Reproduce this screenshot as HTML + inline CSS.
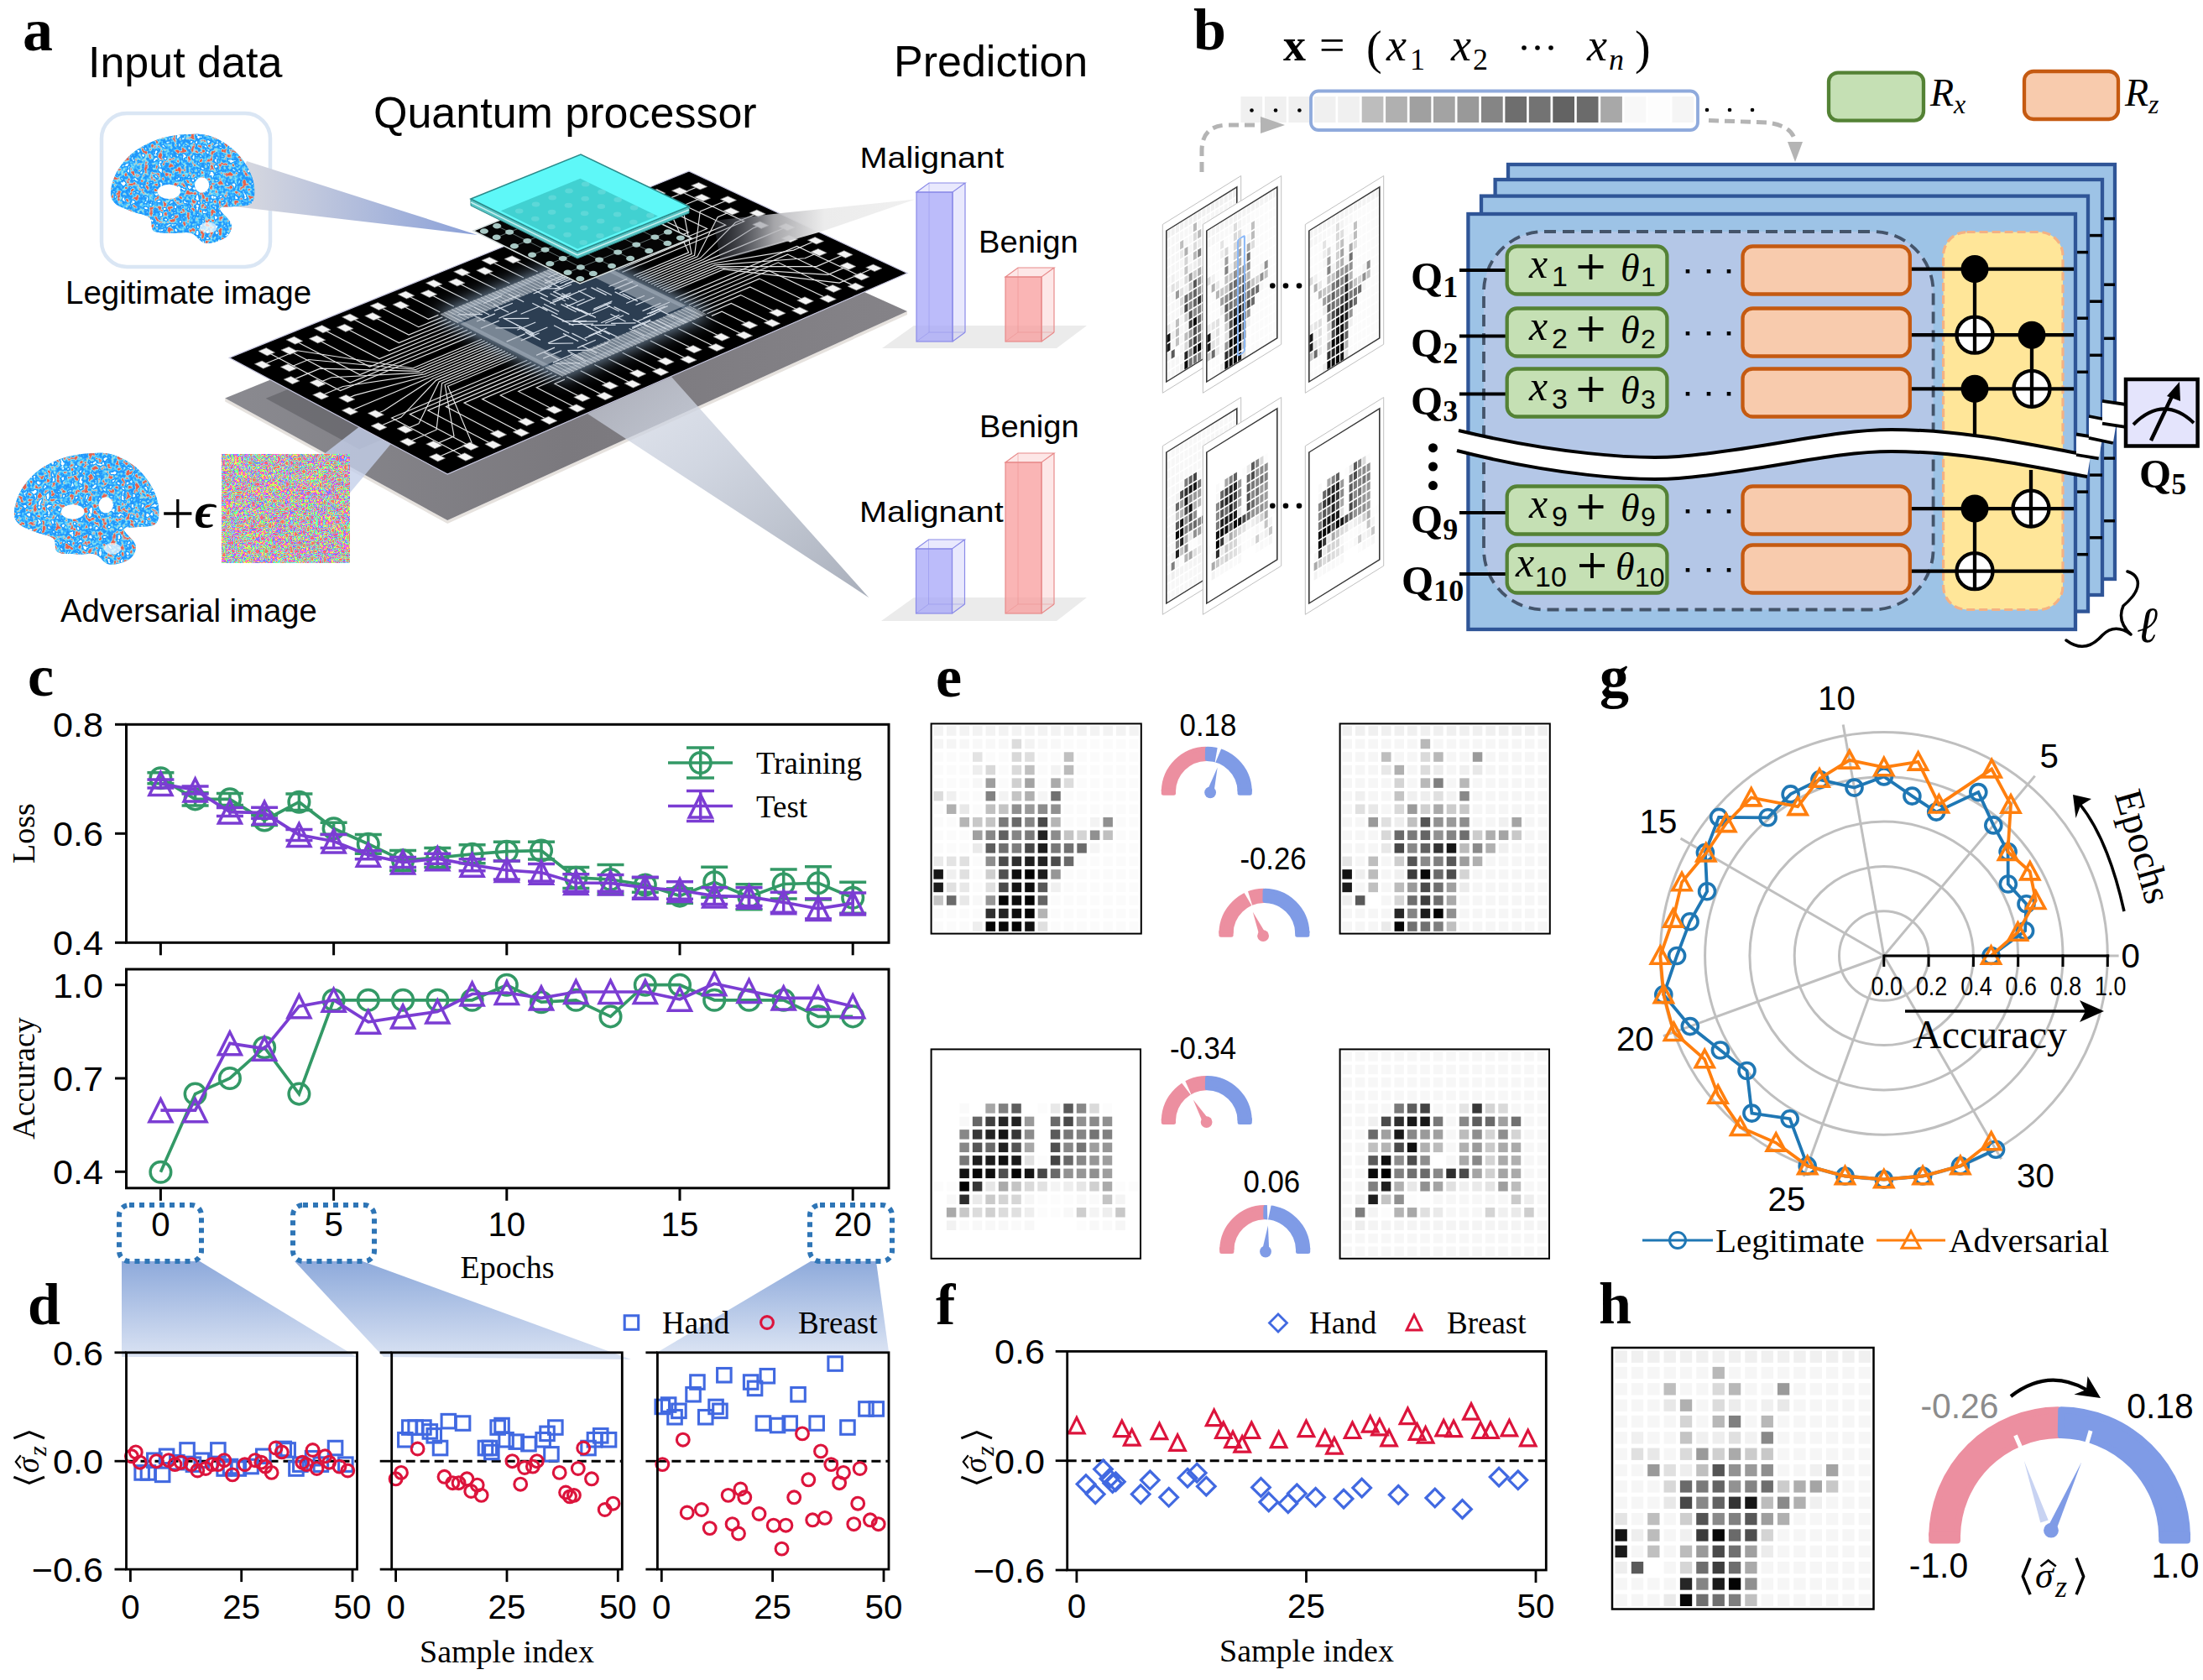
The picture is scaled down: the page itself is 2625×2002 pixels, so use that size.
<!DOCTYPE html>
<html><head><meta charset="utf-8"><style>html,body{margin:0;padding:0;background:#fff;overflow:hidden}svg{display:block}</style></head>
<body><svg xmlns="http://www.w3.org/2000/svg" width="2625" height="2002" viewBox="0 0 2625 2002">
<rect width="2625" height="2002" fill="#fff"/>
<defs>
<filter id="brainTex" x="0" y="0" width="100%" height="100%" color-interpolation-filters="sRGB">
 <feTurbulence type="fractalNoise" baseFrequency="0.18" numOctaves="2" seed="3"/>
 <feColorMatrix type="matrix" values="2 0 0 0 -0.5  2 0 0 0 -0.5  2 0 0 0 -0.5  0 0 0 0 1"/>
 <feComponentTransfer><feFuncR type="table" tableValues="1 0.5 0.15 0.12 0.15 0.22 0.38 0.6 0.82 0.88 0.9"/><feFuncG type="table" tableValues="1 0.85 0.6 0.58 0.62 0.7 0.82 0.9 0.6 0.42 0.38"/><feFuncB type="table" tableValues="1 1 0.98 0.98 1 1 0.98 0.92 0.62 0.34 0.3"/></feComponentTransfer>
</filter>
<filter id="noiseF" x="0" y="0" width="100%" height="100%" color-interpolation-filters="sRGB">
 <feTurbulence type="fractalNoise" baseFrequency="0.2" numOctaves="1" seed="5"/>
 <feColorMatrix type="matrix" values="2.5 0 0 0 -0.75  2.5 0 0 0 -0.75  2.5 0 0 0 -0.75  0 0 0 0 1"/>
 <feComponentTransfer><feFuncR type="table" tableValues="1 1 0.42 0.42 0.42 1 1 1 0.42 0.42 0.42 1 1"/><feFuncG type="table" tableValues="0.42 1 1 1 0.42 0.42 0.42 1 1 1 0.42 0.42 0.42"/><feFuncB type="table" tableValues="0.42 0.42 0.42 1 1 1 0.42 0.42 0.42 1 1 1 0.42"/></feComponentTransfer>
</filter>
<linearGradient id="fun1" x1="0" y1="0" x2="1" y2="0"><stop offset="0" stop-color="#dcdce0"/><stop offset="1" stop-color="#8aa0d8"/></linearGradient>
<linearGradient id="fun2" x1="0" y1="0" x2="1" y2="1"><stop offset="0" stop-color="#d0d6e4" stop-opacity="0.55"/><stop offset="0.4" stop-color="#ccd2de" stop-opacity="0.9"/><stop offset="1" stop-color="#a8aeba"/></linearGradient>
<linearGradient id="cyanG" x1="0" y1="0" x2="1" y2="1"><stop offset="0" stop-color="#5ef6f6"/><stop offset="1" stop-color="#48d8d8"/></linearGradient>
<linearGradient id="subG" x1="0" y1="0" x2="1" y2="0"><stop offset="0" stop-color="#8a8a90"/><stop offset="0.5" stop-color="#7b797e"/><stop offset="1" stop-color="#858388"/></linearGradient>
<linearGradient id="funUp" x1="0" y1="0" x2="1" y2="0"><stop offset="0" stop-color="#6a7080" stop-opacity="0.2"/><stop offset="0.3" stop-color="#b8b8bc" stop-opacity="0.9"/><stop offset="0.55" stop-color="#ececec"/><stop offset="1" stop-color="#f0f0f0"/></linearGradient>
<radialGradient id="coreG" cx="0.5" cy="0.5" r="0.5"><stop offset="0" stop-color="#3a5068"/><stop offset="0.75" stop-color="#34495e"/><stop offset="1" stop-color="#34495e" stop-opacity="0"/></radialGradient>
</defs>
<text x="27.0" y="60.0" font-family='"Liberation Serif", serif' font-size="72" text-anchor="start" font-weight="bold" font-style="normal" fill="#000" >a</text>
<text x="105.0" y="92.0" font-family='"Liberation Sans", sans-serif' font-size="52" text-anchor="start" font-weight="normal" font-style="normal" fill="#000" >Input data</text>
<text x="445.0" y="152.0" font-family='"Liberation Sans", sans-serif' font-size="52" text-anchor="start" font-weight="normal" font-style="normal" fill="#000" >Quantum processor</text>
<text x="1065.0" y="91.0" font-family='"Liberation Sans", sans-serif' font-size="52" text-anchor="start" font-weight="normal" font-style="normal" fill="#000" >Prediction</text>
<text x="78.0" y="362.0" font-family='"Liberation Sans", sans-serif' font-size="38.5" text-anchor="start" font-weight="normal" font-style="normal" fill="#000" >Legitimate image</text>
<text x="72.0" y="741.0" font-family='"Liberation Sans", sans-serif' font-size="38.2" text-anchor="start" font-weight="normal" font-style="normal" fill="#000" >Adversarial image</text>
<rect x="121.0" y="135.0" width="201.0" height="183.0" rx="30" fill="#fff" stroke="#dae6f4" stroke-width="4.5" />
<polygon points="268.2,478.4 533.2,624.0 1081.0,375.0 1081.0,371.0 533.2,620.0 268.2,474.4" fill="#e6e2de" stroke="none" stroke-width="0" />
<polygon points="268.2,474.4 816.0,252.0 1081.0,371.0 533.2,620.0" fill="url(#subG)" stroke="none" stroke-width="0" />
<polygon points="316.8,474.8 672.9,328.9 784.2,382.2 428.1,535.4" fill="#5a595e" stroke="none" stroke-width="0" opacity="0.55"/>
<polygon points="386.0,541.0 416.4,588.0 562.0,414.0 560.0,407.0" fill="#c4d0ea" stroke="none" stroke-width="0" opacity="0.8"/>
<polygon points="700.0,493.0 800.0,449.0 1035.4,712.2" fill="url(#fun2)" stroke="none" stroke-width="0" />
<polygon points="273.2,426.4 821.0,204.0 1081.0,325.5 533.2,565.0" fill="#000" stroke="#c8c8e0" stroke-width="1.2" />
<polyline points="317.8,419.2 405.5,465.6 567.1,398.1" fill="none" stroke="#e6e6e6" stroke-width="1.15" />
<polyline points="554.4,544.4 466.7,498.0 628.3,429.3" fill="none" stroke="#e6e6e6" stroke-width="1.15" />
<polyline points="344.8,418.0 417.1,456.1 562.1,395.6" fill="none" stroke="#e6e6e6" stroke-width="1.15" />
<polyline points="560.6,531.7 488.3,493.6 633.2,431.8" fill="none" stroke="#e6e6e6" stroke-width="1.15" />
<polyline points="351.0,405.7 428.8,446.5 557.1,393.1" fill="none" stroke="#e6e6e6" stroke-width="1.15" />
<polyline points="587.6,530.0 509.8,489.1 638.2,434.4" fill="none" stroke="#e6e6e6" stroke-width="1.15" />
<polyline points="378.0,404.4 440.5,437.0 552.2,390.5" fill="none" stroke="#e6e6e6" stroke-width="1.15" />
<polyline points="593.8,517.3 531.4,484.6 643.2,436.9" fill="none" stroke="#e6e6e6" stroke-width="1.15" />
<polyline points="384.3,392.2 452.1,427.5 547.2,388.0" fill="none" stroke="#e6e6e6" stroke-width="1.15" />
<polyline points="620.9,515.5 553.0,480.1 648.1,439.4" fill="none" stroke="#e6e6e6" stroke-width="1.15" />
<polyline points="411.3,390.8 463.8,418.0 542.3,385.5" fill="none" stroke="#e6e6e6" stroke-width="1.15" />
<polyline points="627.1,502.8 574.6,475.6 653.1,442.0" fill="none" stroke="#e6e6e6" stroke-width="1.15" />
<polyline points="417.5,378.6 475.4,408.6 537.3,382.9" fill="none" stroke="#e6e6e6" stroke-width="1.15" />
<polyline points="654.1,501.0 596.2,471.0 658.0,444.5" fill="none" stroke="#e6e6e6" stroke-width="1.15" />
<polyline points="444.5,377.2 487.1,399.1 532.3,380.4" fill="none" stroke="#e6e6e6" stroke-width="1.15" />
<polyline points="660.3,488.4 617.7,466.4 663.0,447.0" fill="none" stroke="#e6e6e6" stroke-width="1.15" />
<polyline points="450.8,365.1 498.8,389.7 527.4,377.9" fill="none" stroke="#e6e6e6" stroke-width="1.15" />
<polyline points="687.4,486.5 639.3,461.8 667.9,449.5" fill="none" stroke="#e6e6e6" stroke-width="1.15" />
<polyline points="477.8,363.6 510.4,380.3 522.4,375.4" fill="none" stroke="#e6e6e6" stroke-width="1.15" />
<polyline points="693.6,473.9 660.9,457.2 672.9,452.1" fill="none" stroke="#e6e6e6" stroke-width="1.15" />
<polyline points="484.0,351.5 524.3,372.0" fill="none" stroke="#e6e6e6" stroke-width="1.15" />
<polyline points="720.6,472.0 675.1,448.8" fill="none" stroke="#e6e6e6" stroke-width="1.15" />
<polyline points="511.0,350.0 540.9,365.2" fill="none" stroke="#e6e6e6" stroke-width="1.15" />
<polyline points="726.8,459.5 691.7,441.7" fill="none" stroke="#e6e6e6" stroke-width="1.15" />
<polyline points="517.2,338.0 557.5,358.3" fill="none" stroke="#e6e6e6" stroke-width="1.15" />
<polyline points="753.8,457.5 708.3,434.5" fill="none" stroke="#e6e6e6" stroke-width="1.15" />
<polyline points="544.3,336.4 574.2,351.5" fill="none" stroke="#e6e6e6" stroke-width="1.15" />
<polyline points="760.1,445.0 725.0,427.4" fill="none" stroke="#e6e6e6" stroke-width="1.15" />
<polyline points="550.5,324.4 590.8,344.6" fill="none" stroke="#e6e6e6" stroke-width="1.15" />
<polyline points="787.1,443.0 741.6,420.2" fill="none" stroke="#e6e6e6" stroke-width="1.15" />
<polyline points="577.5,322.9 607.4,337.8" fill="none" stroke="#e6e6e6" stroke-width="1.15" />
<polyline points="793.3,430.6 758.2,413.1" fill="none" stroke="#e6e6e6" stroke-width="1.15" />
<polyline points="583.7,310.9 624.0,330.9" fill="none" stroke="#e6e6e6" stroke-width="1.15" />
<polyline points="820.3,428.5 774.8,405.9" fill="none" stroke="#e6e6e6" stroke-width="1.15" />
<polyline points="610.8,309.3 640.7,324.1" fill="none" stroke="#e6e6e6" stroke-width="1.15" />
<polyline points="826.6,416.1 791.5,398.8" fill="none" stroke="#e6e6e6" stroke-width="1.15" />
<polyline points="617.0,297.4 657.3,317.2" fill="none" stroke="#e6e6e6" stroke-width="1.15" />
<polyline points="853.6,414.0 808.1,391.6" fill="none" stroke="#e6e6e6" stroke-width="1.15" />
<polyline points="644.0,295.7 673.9,310.4" fill="none" stroke="#e6e6e6" stroke-width="1.15" />
<polyline points="859.8,401.7 824.7,384.4" fill="none" stroke="#e6e6e6" stroke-width="1.15" />
<polyline points="650.2,283.8 690.5,303.5" fill="none" stroke="#e6e6e6" stroke-width="1.15" />
<polyline points="886.8,399.6 841.3,377.3" fill="none" stroke="#e6e6e6" stroke-width="1.15" />
<polyline points="677.2,282.1 710.2,298.2 698.0,303.2" fill="none" stroke="#e6e6e6" stroke-width="1.15" />
<polyline points="893.0,387.2 860.1,371.2 847.9,376.4" fill="none" stroke="#e6e6e6" stroke-width="1.15" />
<polyline points="683.5,270.3 732.3,293.9 703.5,305.8" fill="none" stroke="#e6e6e6" stroke-width="1.15" />
<polyline points="920.1,385.1 871.3,361.4 842.5,373.8" fill="none" stroke="#e6e6e6" stroke-width="1.15" />
<polyline points="710.5,268.5 754.3,289.7 708.9,308.5" fill="none" stroke="#e6e6e6" stroke-width="1.15" />
<polyline points="926.3,372.8 882.5,351.6 837.0,371.1" fill="none" stroke="#e6e6e6" stroke-width="1.15" />
<polyline points="716.7,256.7 776.4,285.4 714.3,311.1" fill="none" stroke="#e6e6e6" stroke-width="1.15" />
<polyline points="953.3,370.6 893.7,341.9 831.6,368.5" fill="none" stroke="#e6e6e6" stroke-width="1.15" />
<polyline points="743.7,254.9 798.4,281.1 719.7,313.8" fill="none" stroke="#e6e6e6" stroke-width="1.15" />
<polyline points="959.5,358.3 904.9,332.1 826.2,365.8" fill="none" stroke="#e6e6e6" stroke-width="1.15" />
<polyline points="750.0,243.2 820.5,276.8 725.2,316.5" fill="none" stroke="#e6e6e6" stroke-width="1.15" />
<polyline points="986.6,356.1 916.1,322.4 820.8,363.2" fill="none" stroke="#e6e6e6" stroke-width="1.15" />
<polyline points="777.0,241.3 842.5,272.5 730.6,319.1" fill="none" stroke="#e6e6e6" stroke-width="1.15" />
<polyline points="992.8,343.9 927.3,312.8 815.3,360.5" fill="none" stroke="#e6e6e6" stroke-width="1.15" />
<polyline points="783.2,229.6 864.6,268.1 736.0,321.8" fill="none" stroke="#e6e6e6" stroke-width="1.15" />
<polyline points="1019.8,341.6 938.5,303.1 809.9,357.9" fill="none" stroke="#e6e6e6" stroke-width="1.15" />
<polyline points="810.2,227.8 886.6,263.8 741.4,324.4" fill="none" stroke="#e6e6e6" stroke-width="1.15" />
<polyline points="1026.0,329.5 949.7,293.5 804.5,355.2" fill="none" stroke="#e6e6e6" stroke-width="1.15" />
<polyline points="312.9,434.7 354.0,417.8 492.0,438.7 574.1,404.3" fill="none" stroke="#e6e6e6" stroke-width="1.15" />
<polyline points="833.3,221.8 792.2,238.6 820.6,300.9 754.9,328.5" fill="none" stroke="#e6e6e6" stroke-width="1.15" />
<polyline points="343.9,438.2 367.7,428.5 495.4,440.5 577.6,406.0" fill="none" stroke="#e6e6e6" stroke-width="1.15" />
<polyline points="836.9,235.5 813.2,245.3 824.1,302.6 758.4,330.2" fill="none" stroke="#e6e6e6" stroke-width="1.15" />
<polyline points="347.6,453.1 381.3,439.1 498.9,442.3 581.1,407.8" fill="none" stroke="#e6e6e6" stroke-width="1.15" />
<polyline points="868.0,238.0 834.2,252.0 827.6,304.3 761.8,331.9" fill="none" stroke="#e6e6e6" stroke-width="1.15" />
<polyline points="378.6,456.6 395.0,449.8 502.4,444.1 584.5,409.6" fill="none" stroke="#e6e6e6" stroke-width="1.15" />
<polyline points="871.6,251.8 855.2,258.7 831.0,305.9 765.3,333.6" fill="none" stroke="#e6e6e6" stroke-width="1.15" />
<polyline points="382.2,471.5 408.7,460.5 505.8,445.9 588.0,411.3" fill="none" stroke="#e6e6e6" stroke-width="1.15" />
<polyline points="902.6,254.3 876.2,265.3 834.5,307.6 768.8,335.3" fill="none" stroke="#e6e6e6" stroke-width="1.15" />
<polyline points="413.3,475.0 422.4,471.1 509.3,447.7 591.5,413.1" fill="none" stroke="#e6e6e6" stroke-width="1.15" />
<polyline points="906.3,268.1 897.1,272.0 838.0,309.3 772.2,337.0" fill="none" stroke="#e6e6e6" stroke-width="1.15" />
<polyline points="416.9,489.9 436.1,481.8 512.8,449.5 594.9,414.9" fill="none" stroke="#e6e6e6" stroke-width="1.15" />
<polyline points="937.3,270.5 918.1,278.6 841.4,310.9 775.7,338.7" fill="none" stroke="#e6e6e6" stroke-width="1.15" />
<polyline points="447.9,493.3 457.1,489.5 516.2,451.3 598.4,416.6" fill="none" stroke="#e6e6e6" stroke-width="1.15" />
<polyline points="940.9,284.5 931.8,288.3 844.9,312.6 779.2,340.3" fill="none" stroke="#e6e6e6" stroke-width="1.15" />
<polyline points="451.6,508.3 478.0,497.1 519.7,453.1 601.9,418.4" fill="none" stroke="#e6e6e6" stroke-width="1.15" />
<polyline points="972.0,286.8 945.5,298.1 848.4,314.3 782.6,342.0" fill="none" stroke="#e6e6e6" stroke-width="1.15" />
<polyline points="482.6,511.7 499.0,504.7 523.2,454.9 605.3,420.2" fill="none" stroke="#e6e6e6" stroke-width="1.15" />
<polyline points="975.6,300.8 959.2,307.8 851.8,315.9 786.1,343.7" fill="none" stroke="#e6e6e6" stroke-width="1.15" />
<polyline points="486.2,526.8 520.0,512.2 526.6,456.7 608.8,421.9" fill="none" stroke="#e6e6e6" stroke-width="1.15" />
<polyline points="1006.6,303.0 972.9,317.6 855.3,317.6 789.6,345.4" fill="none" stroke="#e6e6e6" stroke-width="1.15" />
<polyline points="517.3,530.1 541.0,519.8 530.1,458.5 612.3,423.7" fill="none" stroke="#e6e6e6" stroke-width="1.15" />
<polyline points="1010.3,317.1 986.5,327.3 858.8,319.3 793.0,347.1" fill="none" stroke="#e6e6e6" stroke-width="1.15" />
<polyline points="520.9,545.2 562.0,527.4 533.6,460.3 615.7,425.5" fill="none" stroke="#e6e6e6" stroke-width="1.15" />
<polyline points="1041.3,319.3 1000.2,337.1 862.2,320.9 796.5,348.8" fill="none" stroke="#e6e6e6" stroke-width="1.15" />
<polygon points="544.5,543.7 553.8,539.7 564.2,545.2 554.9,549.2" fill="#f4f4f4" stroke="#777" stroke-width="0.7" />
<polygon points="307.9,418.4 317.2,414.6 327.6,420.1 318.3,423.9" fill="#f4f4f4" stroke="#777" stroke-width="0.7" />
<polygon points="550.7,531.0 560.0,527.0 570.4,532.4 561.1,536.5" fill="#f4f4f4" stroke="#777" stroke-width="0.7" />
<polygon points="334.9,417.1 344.2,413.3 354.6,418.8 345.3,422.6" fill="#f4f4f4" stroke="#777" stroke-width="0.7" />
<polygon points="577.8,529.2 587.1,525.2 597.5,530.6 588.2,534.7" fill="#f4f4f4" stroke="#777" stroke-width="0.7" />
<polygon points="341.2,404.9 350.5,401.1 360.9,406.5 351.6,410.3" fill="#f4f4f4" stroke="#777" stroke-width="0.7" />
<polygon points="584.0,516.6 593.3,512.5 603.7,518.0 594.4,522.0" fill="#f4f4f4" stroke="#777" stroke-width="0.7" />
<polygon points="368.2,403.6 377.5,399.8 387.9,405.2 378.6,409.0" fill="#f4f4f4" stroke="#777" stroke-width="0.7" />
<polygon points="611.0,514.8 620.3,510.7 630.7,516.1 621.4,520.2" fill="#f4f4f4" stroke="#777" stroke-width="0.7" />
<polygon points="374.4,391.3 383.7,387.6 394.1,393.0 384.8,396.8" fill="#f4f4f4" stroke="#777" stroke-width="0.7" />
<polygon points="617.2,502.1 626.5,498.1 636.9,503.5 627.6,507.5" fill="#f4f4f4" stroke="#777" stroke-width="0.7" />
<polygon points="401.4,390.0 410.7,386.2 421.1,391.6 411.8,395.4" fill="#f4f4f4" stroke="#777" stroke-width="0.7" />
<polygon points="644.2,500.3 653.6,496.3 664.0,501.6 654.6,505.7" fill="#f4f4f4" stroke="#777" stroke-width="0.7" />
<polygon points="407.6,377.8 417.0,374.0 427.4,379.4 418.0,383.2" fill="#f4f4f4" stroke="#777" stroke-width="0.7" />
<polygon points="650.5,487.7 659.8,483.7 670.2,489.0 660.9,493.1" fill="#f4f4f4" stroke="#777" stroke-width="0.7" />
<polygon points="434.7,376.4 444.0,372.6 454.4,378.0 445.1,381.8" fill="#f4f4f4" stroke="#777" stroke-width="0.7" />
<polygon points="677.5,485.8 686.8,481.8 697.2,487.1 687.9,491.2" fill="#f4f4f4" stroke="#777" stroke-width="0.7" />
<polygon points="440.9,364.3 450.2,360.5 460.6,365.8 451.3,369.6" fill="#f4f4f4" stroke="#777" stroke-width="0.7" />
<polygon points="683.7,473.3 693.0,469.2 703.4,474.6 694.1,478.6" fill="#f4f4f4" stroke="#777" stroke-width="0.7" />
<polygon points="467.9,362.9 477.2,359.1 487.6,364.4 478.3,368.2" fill="#f4f4f4" stroke="#777" stroke-width="0.7" />
<polygon points="710.7,471.4 720.1,467.3 730.5,472.6 721.1,476.7" fill="#f4f4f4" stroke="#777" stroke-width="0.7" />
<polygon points="474.1,350.8 483.5,347.0 493.9,352.3 484.5,356.1" fill="#f4f4f4" stroke="#777" stroke-width="0.7" />
<polygon points="717.0,458.9 726.3,454.8 736.7,460.1 727.4,464.1" fill="#f4f4f4" stroke="#777" stroke-width="0.7" />
<polygon points="501.2,349.3 510.5,345.5 520.9,350.8 511.6,354.6" fill="#f4f4f4" stroke="#777" stroke-width="0.7" />
<polygon points="744.0,456.9 753.3,452.9 763.7,458.1 754.4,462.2" fill="#f4f4f4" stroke="#777" stroke-width="0.7" />
<polygon points="507.4,337.2 516.7,333.5 527.1,338.7 517.8,342.5" fill="#f4f4f4" stroke="#777" stroke-width="0.7" />
<polygon points="750.2,444.4 759.5,440.4 769.9,445.6 760.6,449.7" fill="#f4f4f4" stroke="#777" stroke-width="0.7" />
<polygon points="534.4,335.7 543.7,331.9 554.1,337.2 544.8,341.0" fill="#f4f4f4" stroke="#777" stroke-width="0.7" />
<polygon points="777.2,442.4 786.5,438.4 796.9,443.6 787.6,447.7" fill="#f4f4f4" stroke="#777" stroke-width="0.7" />
<polygon points="540.6,323.7 549.9,319.9 560.3,325.1 551.0,328.9" fill="#f4f4f4" stroke="#777" stroke-width="0.7" />
<polygon points="783.5,430.0 792.8,426.0 803.2,431.2 793.9,435.2" fill="#f4f4f4" stroke="#777" stroke-width="0.7" />
<polygon points="567.7,322.2 577.0,318.4 587.4,323.5 578.1,327.4" fill="#f4f4f4" stroke="#777" stroke-width="0.7" />
<polygon points="810.5,428.0 819.8,423.9 830.2,429.1 820.9,433.1" fill="#f4f4f4" stroke="#777" stroke-width="0.7" />
<polygon points="573.9,310.2 583.2,306.4 593.6,311.6 584.3,315.4" fill="#f4f4f4" stroke="#777" stroke-width="0.7" />
<polygon points="816.7,415.6 826.0,411.5 836.4,416.7 827.1,420.7" fill="#f4f4f4" stroke="#777" stroke-width="0.7" />
<polygon points="600.9,308.6 610.2,304.8 620.6,309.9 611.3,313.8" fill="#f4f4f4" stroke="#777" stroke-width="0.7" />
<polygon points="843.7,413.5 853.0,409.5 863.4,414.6 854.1,418.6" fill="#f4f4f4" stroke="#777" stroke-width="0.7" />
<polygon points="607.1,296.7 616.4,292.9 626.8,298.0 617.5,301.8" fill="#f4f4f4" stroke="#777" stroke-width="0.7" />
<polygon points="849.9,401.2 859.3,397.1 869.7,402.2 860.3,406.3" fill="#f4f4f4" stroke="#777" stroke-width="0.7" />
<polygon points="634.1,295.0 643.5,291.2 653.9,296.3 644.5,300.1" fill="#f4f4f4" stroke="#777" stroke-width="0.7" />
<polygon points="877.0,399.0 886.3,395.0 896.7,400.1 887.4,404.1" fill="#f4f4f4" stroke="#777" stroke-width="0.7" />
<polygon points="640.4,283.2 649.7,279.4 660.1,284.5 650.8,288.2" fill="#f4f4f4" stroke="#777" stroke-width="0.7" />
<polygon points="883.2,386.7 892.5,382.7 902.9,387.8 893.6,391.8" fill="#f4f4f4" stroke="#777" stroke-width="0.7" />
<polygon points="667.4,281.5 676.7,277.7 687.1,282.7 677.8,286.5" fill="#f4f4f4" stroke="#777" stroke-width="0.7" />
<polygon points="910.2,384.6 919.5,380.5 929.9,385.6 920.6,389.6" fill="#f4f4f4" stroke="#777" stroke-width="0.7" />
<polygon points="673.6,269.6 682.9,265.8 693.3,270.9 684.0,274.7" fill="#f4f4f4" stroke="#777" stroke-width="0.7" />
<polygon points="916.4,372.3 925.8,368.3 936.2,373.3 926.8,377.3" fill="#f4f4f4" stroke="#777" stroke-width="0.7" />
<polygon points="700.6,267.9 710.0,264.1 720.4,269.1 711.0,272.9" fill="#f4f4f4" stroke="#777" stroke-width="0.7" />
<polygon points="943.5,370.1 952.8,366.0 963.2,371.0 953.9,375.1" fill="#f4f4f4" stroke="#777" stroke-width="0.7" />
<polygon points="706.9,256.1 716.2,252.3 726.6,257.3 717.3,261.1" fill="#f4f4f4" stroke="#777" stroke-width="0.7" />
<polygon points="949.7,357.9 959.0,353.8 969.4,358.8 960.1,362.9" fill="#f4f4f4" stroke="#777" stroke-width="0.7" />
<polygon points="733.9,254.3 743.2,250.5 753.6,255.5 744.3,259.3" fill="#f4f4f4" stroke="#777" stroke-width="0.7" />
<polygon points="976.7,355.6 986.0,351.6 996.4,356.5 987.1,360.6" fill="#f4f4f4" stroke="#777" stroke-width="0.7" />
<polygon points="740.1,242.6 749.4,238.8 759.8,243.8 750.5,247.6" fill="#f4f4f4" stroke="#777" stroke-width="0.7" />
<polygon points="982.9,343.5 992.2,339.4 1002.6,344.3 993.3,348.4" fill="#f4f4f4" stroke="#777" stroke-width="0.7" />
<polygon points="767.1,240.8 776.4,237.0 786.8,241.9 777.5,245.7" fill="#f4f4f4" stroke="#777" stroke-width="0.7" />
<polygon points="1010.0,341.2 1019.3,337.1 1029.7,342.0 1020.4,346.1" fill="#f4f4f4" stroke="#777" stroke-width="0.7" />
<polygon points="773.4,229.1 782.7,225.3 793.1,230.2 783.8,234.0" fill="#f4f4f4" stroke="#777" stroke-width="0.7" />
<polygon points="1016.2,329.0 1025.5,325.0 1035.9,329.9 1026.6,333.9" fill="#f4f4f4" stroke="#777" stroke-width="0.7" />
<polygon points="800.4,227.2 809.7,223.4 820.1,228.3 810.8,232.1" fill="#f4f4f4" stroke="#777" stroke-width="0.7" />
<polygon points="303.3,433.7 312.1,430.1 322.5,435.6 313.7,439.2" fill="#f4f4f4" stroke="#777" stroke-width="0.7" />
<polygon points="823.7,221.1 832.5,217.5 842.9,222.4 834.1,226.0" fill="#f4f4f4" stroke="#777" stroke-width="0.7" />
<polygon points="334.3,437.3 343.1,433.7 353.5,439.2 344.7,442.8" fill="#f4f4f4" stroke="#777" stroke-width="0.7" />
<polygon points="827.4,234.9 836.1,231.3 846.5,236.2 837.8,239.8" fill="#f4f4f4" stroke="#777" stroke-width="0.7" />
<polygon points="338.0,452.1 346.7,448.5 357.1,454.0 348.4,457.7" fill="#f4f4f4" stroke="#777" stroke-width="0.7" />
<polygon points="858.4,237.4 867.2,233.8 877.6,238.6 868.8,242.3" fill="#f4f4f4" stroke="#777" stroke-width="0.7" />
<polygon points="369.0,455.7 377.8,452.0 388.2,457.5 379.4,461.2" fill="#f4f4f4" stroke="#777" stroke-width="0.7" />
<polygon points="862.0,251.2 870.8,247.6 881.2,252.5 872.4,256.1" fill="#f4f4f4" stroke="#777" stroke-width="0.7" />
<polygon points="372.6,470.6 381.4,466.9 391.8,472.4 383.0,476.1" fill="#f4f4f4" stroke="#777" stroke-width="0.7" />
<polygon points="893.1,253.7 901.8,250.0 912.2,254.9 903.5,258.5" fill="#f4f4f4" stroke="#777" stroke-width="0.7" />
<polygon points="403.7,474.1 412.4,470.4 422.8,475.9 414.1,479.6" fill="#f4f4f4" stroke="#777" stroke-width="0.7" />
<polygon points="896.7,267.5 905.5,263.9 915.9,268.7 907.1,272.4" fill="#f4f4f4" stroke="#777" stroke-width="0.7" />
<polygon points="407.3,489.0 416.1,485.3 426.5,490.8 417.7,494.5" fill="#f4f4f4" stroke="#777" stroke-width="0.7" />
<polygon points="927.7,269.9 936.5,266.2 946.9,271.1 938.1,274.8" fill="#f4f4f4" stroke="#777" stroke-width="0.7" />
<polygon points="438.3,492.4 447.1,488.7 457.5,494.2 448.7,497.9" fill="#f4f4f4" stroke="#777" stroke-width="0.7" />
<polygon points="931.4,283.9 940.1,280.2 950.5,285.0 941.8,288.8" fill="#f4f4f4" stroke="#777" stroke-width="0.7" />
<polygon points="442.0,507.4 450.7,503.7 461.1,509.2 452.4,513.0" fill="#f4f4f4" stroke="#777" stroke-width="0.7" />
<polygon points="962.4,286.2 971.2,282.5 981.6,287.4 972.8,291.1" fill="#f4f4f4" stroke="#777" stroke-width="0.7" />
<polygon points="473.0,510.8 481.8,507.1 492.2,512.6 483.4,516.3" fill="#f4f4f4" stroke="#777" stroke-width="0.7" />
<polygon points="966.0,300.2 974.8,296.4 985.2,301.3 976.4,305.1" fill="#f4f4f4" stroke="#777" stroke-width="0.7" />
<polygon points="476.6,525.9 485.4,522.1 495.8,527.6 487.0,531.4" fill="#f4f4f4" stroke="#777" stroke-width="0.7" />
<polygon points="997.1,302.5 1005.8,298.7 1016.2,303.6 1007.5,307.4" fill="#f4f4f4" stroke="#777" stroke-width="0.7" />
<polygon points="507.7,529.2 516.4,525.4 526.8,530.9 518.1,534.7" fill="#f4f4f4" stroke="#777" stroke-width="0.7" />
<polygon points="1000.7,316.5 1009.5,312.7 1019.9,317.6 1011.1,321.4" fill="#f4f4f4" stroke="#777" stroke-width="0.7" />
<polygon points="511.3,544.3 520.1,540.5 530.5,546.1 521.7,549.9" fill="#f4f4f4" stroke="#777" stroke-width="0.7" />
<polygon points="1031.7,318.8 1040.5,315.0 1050.9,319.8 1042.1,323.6" fill="#f4f4f4" stroke="#777" stroke-width="0.7" />
<filter id="glow" x="-20%" y="-20%" width="140%" height="140%"><feGaussianBlur stdDeviation="10"/></filter>
<polygon points="516.9,375.1 697.7,300.6 848.5,374.2 667.7,452.0" fill="#7890a8" stroke="none" stroke-width="0" filter="url(#glow)"/>
<polygon points="538.3,375.9 697.1,310.2 827.1,373.8 668.3,442.0" fill="#2c3e52" stroke="none" stroke-width="0" />
<polyline points="669.7,382.8 699.1,382.3" fill="none" stroke="#d8e0ea" stroke-width="1.2" />
<polyline points="665.3,378.9 683.5,388.0" fill="none" stroke="#d8e0ea" stroke-width="1.2" />
<polyline points="625.8,395.9 644.0,405.1" fill="none" stroke="#d8e0ea" stroke-width="1.2" />
<polyline points="662.5,334.7 684.4,325.6" fill="none" stroke="#d8e0ea" stroke-width="1.2" />
<polyline points="648.0,419.6 666.2,428.9" fill="none" stroke="#d8e0ea" stroke-width="1.2" />
<polyline points="661.7,433.1 691.2,432.6" fill="none" stroke="#d8e0ea" stroke-width="1.2" />
<polyline points="705.0,374.0 727.0,364.7" fill="none" stroke="#d8e0ea" stroke-width="1.2" />
<polyline points="603.6,407.1 625.5,397.9" fill="none" stroke="#d8e0ea" stroke-width="1.2" />
<polyline points="594.3,379.3 616.2,370.1" fill="none" stroke="#d8e0ea" stroke-width="1.2" />
<polyline points="657.1,374.9 675.3,384.0" fill="none" stroke="#d8e0ea" stroke-width="1.2" />
<polyline points="688.8,383.6 707.0,392.7" fill="none" stroke="#d8e0ea" stroke-width="1.2" />
<polyline points="687.3,364.1 709.2,354.8" fill="none" stroke="#d8e0ea" stroke-width="1.2" />
<polyline points="799.5,375.7 817.7,384.6" fill="none" stroke="#d8e0ea" stroke-width="1.2" />
<polyline points="676.8,352.9 698.7,343.7" fill="none" stroke="#d8e0ea" stroke-width="1.2" />
<polyline points="587.9,363.1 606.1,372.2" fill="none" stroke="#d8e0ea" stroke-width="1.2" />
<polyline points="696.6,403.1 718.5,393.8" fill="none" stroke="#d8e0ea" stroke-width="1.2" />
<polyline points="776.1,369.3 798.0,360.0" fill="none" stroke="#d8e0ea" stroke-width="1.2" />
<polyline points="677.0,418.5 695.2,427.7" fill="none" stroke="#d8e0ea" stroke-width="1.2" />
<polyline points="725.4,341.5 747.4,332.3" fill="none" stroke="#d8e0ea" stroke-width="1.2" />
<polyline points="721.0,385.2 743.0,375.8" fill="none" stroke="#d8e0ea" stroke-width="1.2" />
<polyline points="590.5,390.9 619.9,390.6" fill="none" stroke="#d8e0ea" stroke-width="1.2" />
<polyline points="660.4,338.2 682.3,329.1" fill="none" stroke="#d8e0ea" stroke-width="1.2" />
<polyline points="559.8,373.5 578.0,382.8" fill="none" stroke="#d8e0ea" stroke-width="1.2" />
<polyline points="630.5,399.2 652.4,390.0" fill="none" stroke="#d8e0ea" stroke-width="1.2" />
<polyline points="653.0,408.9 674.9,399.6" fill="none" stroke="#d8e0ea" stroke-width="1.2" />
<polyline points="643.9,344.9 665.8,335.8" fill="none" stroke="#d8e0ea" stroke-width="1.2" />
<polyline points="600.9,379.6 630.3,379.3" fill="none" stroke="#d8e0ea" stroke-width="1.2" />
<polyline points="689.1,346.5 707.3,355.6" fill="none" stroke="#d8e0ea" stroke-width="1.2" />
<polyline points="615.5,387.3 633.7,396.5" fill="none" stroke="#d8e0ea" stroke-width="1.2" />
<polyline points="641.7,344.0 671.1,343.7" fill="none" stroke="#d8e0ea" stroke-width="1.2" />
<polyline points="599.5,378.9 617.7,388.1" fill="none" stroke="#d8e0ea" stroke-width="1.2" />
<polyline points="620.6,374.3 642.5,365.2" fill="none" stroke="#d8e0ea" stroke-width="1.2" />
<polyline points="620.8,405.9 642.7,396.7" fill="none" stroke="#d8e0ea" stroke-width="1.2" />
<polyline points="668.4,362.6 686.6,371.7" fill="none" stroke="#d8e0ea" stroke-width="1.2" />
<polyline points="732.7,347.9 750.9,356.8" fill="none" stroke="#d8e0ea" stroke-width="1.2" />
<polyline points="683.6,335.6 705.5,326.5" fill="none" stroke="#d8e0ea" stroke-width="1.2" />
<polyline points="765.5,370.6 787.4,361.3" fill="none" stroke="#d8e0ea" stroke-width="1.2" />
<polyline points="653.8,409.4 683.2,409.0" fill="none" stroke="#d8e0ea" stroke-width="1.2" />
<polyline points="679.9,421.7 698.1,430.9" fill="none" stroke="#d8e0ea" stroke-width="1.2" />
<polyline points="674.7,365.4 696.6,356.2" fill="none" stroke="#d8e0ea" stroke-width="1.2" />
<polyline points="658.9,432.1 680.8,422.7" fill="none" stroke="#d8e0ea" stroke-width="1.2" />
<polyline points="669.4,349.6 687.6,358.7" fill="none" stroke="#d8e0ea" stroke-width="1.2" />
<polyline points="658.3,358.2 680.2,349.1" fill="none" stroke="#d8e0ea" stroke-width="1.2" />
<polyline points="649.1,337.5 671.0,328.4" fill="none" stroke="#d8e0ea" stroke-width="1.2" />
<polyline points="719.9,393.8 738.1,402.9" fill="none" stroke="#d8e0ea" stroke-width="1.2" />
<polyline points="687.9,414.6 709.8,405.3" fill="none" stroke="#d8e0ea" stroke-width="1.2" />
<polyline points="572.8,391.3 594.8,382.1" fill="none" stroke="#d8e0ea" stroke-width="1.2" />
<polyline points="568.0,383.0 589.9,373.9" fill="none" stroke="#d8e0ea" stroke-width="1.2" />
<polyline points="635.5,350.0 657.4,340.9" fill="none" stroke="#d8e0ea" stroke-width="1.2" />
<polyline points="782.4,381.3 800.6,390.2" fill="none" stroke="#d8e0ea" stroke-width="1.2" />
<polyline points="706.6,369.9 728.5,360.6" fill="none" stroke="#d8e0ea" stroke-width="1.2" />
<polyline points="545.4,374.9 574.9,374.7" fill="none" stroke="#d8e0ea" stroke-width="1.2" />
<polyline points="753.3,391.8 775.2,382.4" fill="none" stroke="#d8e0ea" stroke-width="1.2" />
<polyline points="686.6,367.1 704.8,376.2" fill="none" stroke="#d8e0ea" stroke-width="1.2" />
<polyline points="703.2,417.2 725.1,407.9" fill="none" stroke="#d8e0ea" stroke-width="1.2" />
<polyline points="704.2,387.7 733.6,387.2" fill="none" stroke="#d8e0ea" stroke-width="1.2" />
<polyline points="727.4,374.2 745.6,383.2" fill="none" stroke="#d8e0ea" stroke-width="1.2" />
<polyline points="710.7,342.7 728.9,351.7" fill="none" stroke="#d8e0ea" stroke-width="1.2" />
<polyline points="770.8,374.2 792.7,364.9" fill="none" stroke="#d8e0ea" stroke-width="1.2" />
<polyline points="754.2,380.4 772.4,389.5" fill="none" stroke="#d8e0ea" stroke-width="1.2" />
<polyline points="673.0,361.8 691.2,370.9" fill="none" stroke="#d8e0ea" stroke-width="1.2" />
<polyline points="634.6,344.8 652.8,353.9" fill="none" stroke="#d8e0ea" stroke-width="1.2" />
<polyline points="785.0,369.1 803.2,378.1" fill="none" stroke="#d8e0ea" stroke-width="1.2" />
<polyline points="681.5,397.1 699.7,406.3" fill="none" stroke="#d8e0ea" stroke-width="1.2" />
<polyline points="701.3,400.2 723.2,390.8" fill="none" stroke="#d8e0ea" stroke-width="1.2" />
<polyline points="648.7,333.4 666.9,342.5" fill="none" stroke="#d8e0ea" stroke-width="1.2" />
<polyline points="634.3,361.3 652.5,370.4" fill="none" stroke="#d8e0ea" stroke-width="1.2" />
<polyline points="682.6,383.3 712.0,382.9" fill="none" stroke="#d8e0ea" stroke-width="1.2" />
<polyline points="576.1,361.5 598.0,352.4" fill="none" stroke="#d8e0ea" stroke-width="1.2" />
<polyline points="659.1,348.0 681.0,338.8" fill="none" stroke="#d8e0ea" stroke-width="1.2" />
<polyline points="746.2,361.5 768.1,352.2" fill="none" stroke="#d8e0ea" stroke-width="1.2" />
<polyline points="704.4,342.6 722.6,351.6" fill="none" stroke="#d8e0ea" stroke-width="1.2" />
<polyline points="618.1,390.2 636.3,399.4" fill="none" stroke="#d8e0ea" stroke-width="1.2" />
<polyline points="773.8,373.9 795.7,364.6" fill="none" stroke="#d8e0ea" stroke-width="1.2" />
<polyline points="659.2,360.4 681.1,351.2" fill="none" stroke="#d8e0ea" stroke-width="1.2" />
<polyline points="709.1,396.7 727.3,405.8" fill="none" stroke="#d8e0ea" stroke-width="1.2" />
<polyline points="753.2,390.4 775.1,381.0" fill="none" stroke="#d8e0ea" stroke-width="1.2" />
<polyline points="616.3,393.2 638.2,384.0" fill="none" stroke="#d8e0ea" stroke-width="1.2" />
<polyline points="618.3,388.3 636.5,397.5" fill="none" stroke="#d8e0ea" stroke-width="1.2" />
<polyline points="646.3,365.6 664.5,374.7" fill="none" stroke="#d8e0ea" stroke-width="1.2" />
<polyline points="732.3,344.6 754.2,335.4" fill="none" stroke="#d8e0ea" stroke-width="1.2" />
<polyline points="647.2,427.1 669.1,417.7" fill="none" stroke="#d8e0ea" stroke-width="1.2" />
<polyline points="707.5,368.0 729.4,358.8" fill="none" stroke="#d8e0ea" stroke-width="1.2" />
<polyline points="653.3,330.4 675.2,321.3" fill="none" stroke="#d8e0ea" stroke-width="1.2" />
<polyline points="606.0,350.6 624.2,359.7" fill="none" stroke="#d8e0ea" stroke-width="1.2" />
<polyline points="588.9,370.4 610.9,361.3" fill="none" stroke="#d8e0ea" stroke-width="1.2" />
<polyline points="681.3,365.4 699.5,374.5" fill="none" stroke="#d8e0ea" stroke-width="1.2" />
<polyline points="728.1,385.3 757.6,384.8" fill="none" stroke="#d8e0ea" stroke-width="1.2" />
<polyline points="659.6,347.4 677.8,356.4" fill="none" stroke="#d8e0ea" stroke-width="1.2" />
<polyline points="565.0,366.0 583.2,375.2" fill="none" stroke="#d8e0ea" stroke-width="1.2" />
<polyline points="661.4,344.4 683.3,335.3" fill="none" stroke="#d8e0ea" stroke-width="1.2" />
<polyline points="670.9,397.4 689.1,406.6" fill="none" stroke="#d8e0ea" stroke-width="1.2" />
<polyline points="716.2,384.7 738.2,375.4" fill="none" stroke="#d8e0ea" stroke-width="1.2" />
<polyline points="759.5,382.9 781.4,373.5" fill="none" stroke="#d8e0ea" stroke-width="1.2" />
<polyline points="757.5,363.5 779.4,354.2" fill="none" stroke="#d8e0ea" stroke-width="1.2" />
<polyline points="677.7,386.6 707.1,386.2" fill="none" stroke="#d8e0ea" stroke-width="1.2" />
<polyline points="660.0,387.8 678.2,397.0" fill="none" stroke="#d8e0ea" stroke-width="1.2" />
<polyline points="764.7,384.9 782.9,393.9" fill="none" stroke="#d8e0ea" stroke-width="1.2" />
<polyline points="655.6,349.7 673.8,358.8" fill="none" stroke="#d8e0ea" stroke-width="1.2" />
<polyline points="731.6,365.6 749.8,374.6" fill="none" stroke="#d8e0ea" stroke-width="1.2" />
<polyline points="676.3,417.7 705.7,417.2" fill="none" stroke="#d8e0ea" stroke-width="1.2" />
<polyline points="741.7,349.9 759.9,358.9" fill="none" stroke="#d8e0ea" stroke-width="1.2" />
<polyline points="692.8,411.8 711.0,420.9" fill="none" stroke="#d8e0ea" stroke-width="1.2" />
<polyline points="597.8,360.3 619.7,351.2" fill="none" stroke="#d8e0ea" stroke-width="1.2" />
<polyline points="708.5,389.3 726.7,398.4" fill="none" stroke="#d8e0ea" stroke-width="1.2" />
<polyline points="639.1,423.4 661.0,414.1" fill="none" stroke="#d8e0ea" stroke-width="1.2" />
<polyline points="672.9,339.0 694.8,329.9" fill="none" stroke="#d8e0ea" stroke-width="1.2" />
<polyline points="667.3,337.8 689.2,328.7" fill="none" stroke="#d8e0ea" stroke-width="1.2" />
<polyline points="698.4,388.7 716.6,397.8" fill="none" stroke="#d8e0ea" stroke-width="1.2" />
<polyline points="749.6,391.5 767.8,400.5" fill="none" stroke="#d8e0ea" stroke-width="1.2" />
<polyline points="683.8,325.0 705.7,315.9" fill="none" stroke="#d8e0ea" stroke-width="1.2" />
<polyline points="648.0,362.2 666.2,371.3" fill="none" stroke="#d8e0ea" stroke-width="1.2" />
<polyline points="691.8,369.4 710.0,378.4" fill="none" stroke="#d8e0ea" stroke-width="1.2" />
<polyline points="655.3,361.5 677.2,352.3" fill="none" stroke="#d8e0ea" stroke-width="1.2" />
<polyline points="766.4,379.3 788.3,370.0" fill="none" stroke="#d8e0ea" stroke-width="1.2" />
<polyline points="775.3,383.0 793.5,392.0" fill="none" stroke="#d8e0ea" stroke-width="1.2" />
<polyline points="643.9,354.1 662.1,363.2" fill="none" stroke="#d8e0ea" stroke-width="1.2" />
<polyline points="682.3,382.4 704.2,373.2" fill="none" stroke="#d8e0ea" stroke-width="1.2" />
<polyline points="738.1,349.1 760.0,339.9" fill="none" stroke="#d8e0ea" stroke-width="1.2" />
<polyline points="719.7,362.0 737.9,371.0" fill="none" stroke="#d8e0ea" stroke-width="1.2" />
<polygon points="525.0,374.1 612.7,338.0 633.5,348.4 545.8,384.7" fill="#b8c0c8" stroke="none" stroke-width="0" opacity="0.55"/>
<polygon points="612.7,338.0 694.8,304.1 715.6,314.3 633.5,348.4" fill="#b8c0c8" stroke="none" stroke-width="0" opacity="0.55"/>
<polygon points="649.8,437.7 737.5,400.3 758.3,410.6 670.6,448.3" fill="#b8c0c8" stroke="none" stroke-width="0" opacity="0.55"/>
<polygon points="737.5,400.3 819.6,365.1 840.4,375.3 758.3,410.6" fill="#b8c0c8" stroke="none" stroke-width="0" opacity="0.55"/>
<polygon points="548.4,386.1 570.3,377.0 669.1,427.0 647.2,436.4" fill="#b8c0c8" stroke="none" stroke-width="0" opacity="0.55"/>
<polygon points="696.3,324.6 718.2,315.5 817.0,363.8 795.1,373.2" fill="#b8c0c8" stroke="none" stroke-width="0" opacity="0.55"/>
<polyline points="525.0,374.1 545.8,384.7" fill="none" stroke="#e8ecf0" stroke-width="0.8" opacity="0.8"/>
<polyline points="649.8,437.7 670.6,448.3" fill="none" stroke="#e8ecf0" stroke-width="0.8" opacity="0.8"/>
<polyline points="529.4,372.3 550.2,382.9" fill="none" stroke="#e8ecf0" stroke-width="0.8" opacity="0.8"/>
<polyline points="654.2,435.8 675.0,446.4" fill="none" stroke="#e8ecf0" stroke-width="0.8" opacity="0.8"/>
<polyline points="533.8,370.5 554.6,381.1" fill="none" stroke="#e8ecf0" stroke-width="0.8" opacity="0.8"/>
<polyline points="658.6,434.0 679.4,444.5" fill="none" stroke="#e8ecf0" stroke-width="0.8" opacity="0.8"/>
<polyline points="538.2,368.7 559.0,379.3" fill="none" stroke="#e8ecf0" stroke-width="0.8" opacity="0.8"/>
<polyline points="663.0,432.1 683.8,442.7" fill="none" stroke="#e8ecf0" stroke-width="0.8" opacity="0.8"/>
<polyline points="542.5,366.9 563.3,377.5" fill="none" stroke="#e8ecf0" stroke-width="0.8" opacity="0.8"/>
<polyline points="667.3,430.2 688.1,440.8" fill="none" stroke="#e8ecf0" stroke-width="0.8" opacity="0.8"/>
<polyline points="546.9,365.1 567.7,375.7" fill="none" stroke="#e8ecf0" stroke-width="0.8" opacity="0.8"/>
<polyline points="671.7,428.4 692.5,438.9" fill="none" stroke="#e8ecf0" stroke-width="0.8" opacity="0.8"/>
<polyline points="551.3,363.3 572.1,373.8" fill="none" stroke="#e8ecf0" stroke-width="0.8" opacity="0.8"/>
<polyline points="676.1,426.5 696.9,437.0" fill="none" stroke="#e8ecf0" stroke-width="0.8" opacity="0.8"/>
<polyline points="555.7,361.5 576.5,372.0" fill="none" stroke="#e8ecf0" stroke-width="0.8" opacity="0.8"/>
<polyline points="680.5,424.6 701.3,435.1" fill="none" stroke="#e8ecf0" stroke-width="0.8" opacity="0.8"/>
<polyline points="560.1,359.7 580.9,370.2" fill="none" stroke="#e8ecf0" stroke-width="0.8" opacity="0.8"/>
<polyline points="684.9,422.7 705.7,433.2" fill="none" stroke="#e8ecf0" stroke-width="0.8" opacity="0.8"/>
<polyline points="564.4,357.9 585.2,368.4" fill="none" stroke="#e8ecf0" stroke-width="0.8" opacity="0.8"/>
<polyline points="689.2,420.9 710.0,431.4" fill="none" stroke="#e8ecf0" stroke-width="0.8" opacity="0.8"/>
<polyline points="568.8,356.1 589.6,366.6" fill="none" stroke="#e8ecf0" stroke-width="0.8" opacity="0.8"/>
<polyline points="693.6,419.0 714.4,429.5" fill="none" stroke="#e8ecf0" stroke-width="0.8" opacity="0.8"/>
<polyline points="573.2,354.3 594.0,364.7" fill="none" stroke="#e8ecf0" stroke-width="0.8" opacity="0.8"/>
<polyline points="698.0,417.1 718.8,427.6" fill="none" stroke="#e8ecf0" stroke-width="0.8" opacity="0.8"/>
<polyline points="577.6,352.5 598.4,362.9" fill="none" stroke="#e8ecf0" stroke-width="0.8" opacity="0.8"/>
<polyline points="702.4,415.2 723.2,425.7" fill="none" stroke="#e8ecf0" stroke-width="0.8" opacity="0.8"/>
<polyline points="582.0,350.6 602.8,361.1" fill="none" stroke="#e8ecf0" stroke-width="0.8" opacity="0.8"/>
<polyline points="706.8,413.4 727.6,423.8" fill="none" stroke="#e8ecf0" stroke-width="0.8" opacity="0.8"/>
<polyline points="586.4,348.8 607.2,359.3" fill="none" stroke="#e8ecf0" stroke-width="0.8" opacity="0.8"/>
<polyline points="711.2,411.5 732.0,421.9" fill="none" stroke="#e8ecf0" stroke-width="0.8" opacity="0.8"/>
<polyline points="590.7,347.0 611.5,357.5" fill="none" stroke="#e8ecf0" stroke-width="0.8" opacity="0.8"/>
<polyline points="715.5,409.6 736.3,420.0" fill="none" stroke="#e8ecf0" stroke-width="0.8" opacity="0.8"/>
<polyline points="595.1,345.2 615.9,355.6" fill="none" stroke="#e8ecf0" stroke-width="0.8" opacity="0.8"/>
<polyline points="719.9,407.7 740.7,418.2" fill="none" stroke="#e8ecf0" stroke-width="0.8" opacity="0.8"/>
<polyline points="599.5,343.4 620.3,353.8" fill="none" stroke="#e8ecf0" stroke-width="0.8" opacity="0.8"/>
<polyline points="724.3,405.9 745.1,416.3" fill="none" stroke="#e8ecf0" stroke-width="0.8" opacity="0.8"/>
<polyline points="603.9,341.6 624.7,352.0" fill="none" stroke="#e8ecf0" stroke-width="0.8" opacity="0.8"/>
<polyline points="728.7,404.0 749.5,414.4" fill="none" stroke="#e8ecf0" stroke-width="0.8" opacity="0.8"/>
<polyline points="608.3,339.8 629.1,350.2" fill="none" stroke="#e8ecf0" stroke-width="0.8" opacity="0.8"/>
<polyline points="733.1,402.1 753.9,412.5" fill="none" stroke="#e8ecf0" stroke-width="0.8" opacity="0.8"/>
<polyline points="612.7,338.0 633.5,348.4" fill="none" stroke="#e8ecf0" stroke-width="0.8" opacity="0.8"/>
<polyline points="737.5,400.3 758.3,410.6" fill="none" stroke="#e8ecf0" stroke-width="0.8" opacity="0.8"/>
<polyline points="617.0,336.2 637.8,346.5" fill="none" stroke="#e8ecf0" stroke-width="0.8" opacity="0.8"/>
<polyline points="741.8,398.4 762.6,408.7" fill="none" stroke="#e8ecf0" stroke-width="0.8" opacity="0.8"/>
<polyline points="621.4,334.4 642.2,344.7" fill="none" stroke="#e8ecf0" stroke-width="0.8" opacity="0.8"/>
<polyline points="746.2,396.5 767.0,406.9" fill="none" stroke="#e8ecf0" stroke-width="0.8" opacity="0.8"/>
<polyline points="625.8,332.6 646.6,342.9" fill="none" stroke="#e8ecf0" stroke-width="0.8" opacity="0.8"/>
<polyline points="750.6,394.6 771.4,405.0" fill="none" stroke="#e8ecf0" stroke-width="0.8" opacity="0.8"/>
<polyline points="630.2,330.8 651.0,341.1" fill="none" stroke="#e8ecf0" stroke-width="0.8" opacity="0.8"/>
<polyline points="755.0,392.8 775.8,403.1" fill="none" stroke="#e8ecf0" stroke-width="0.8" opacity="0.8"/>
<polyline points="634.6,329.0 655.4,339.3" fill="none" stroke="#e8ecf0" stroke-width="0.8" opacity="0.8"/>
<polyline points="759.4,390.9 780.2,401.2" fill="none" stroke="#e8ecf0" stroke-width="0.8" opacity="0.8"/>
<polyline points="639.0,327.1 659.8,337.5" fill="none" stroke="#e8ecf0" stroke-width="0.8" opacity="0.8"/>
<polyline points="763.8,389.0 784.6,399.3" fill="none" stroke="#e8ecf0" stroke-width="0.8" opacity="0.8"/>
<polyline points="643.3,325.3 664.1,335.6" fill="none" stroke="#e8ecf0" stroke-width="0.8" opacity="0.8"/>
<polyline points="768.1,387.1 788.9,397.4" fill="none" stroke="#e8ecf0" stroke-width="0.8" opacity="0.8"/>
<polyline points="647.7,323.5 668.5,333.8" fill="none" stroke="#e8ecf0" stroke-width="0.8" opacity="0.8"/>
<polyline points="772.5,385.3 793.3,395.6" fill="none" stroke="#e8ecf0" stroke-width="0.8" opacity="0.8"/>
<polyline points="652.1,321.7 672.9,332.0" fill="none" stroke="#e8ecf0" stroke-width="0.8" opacity="0.8"/>
<polyline points="776.9,383.4 797.7,393.7" fill="none" stroke="#e8ecf0" stroke-width="0.8" opacity="0.8"/>
<polyline points="656.5,319.9 677.3,330.2" fill="none" stroke="#e8ecf0" stroke-width="0.8" opacity="0.8"/>
<polyline points="781.3,381.5 802.1,391.8" fill="none" stroke="#e8ecf0" stroke-width="0.8" opacity="0.8"/>
<polyline points="660.9,318.1 681.7,328.4" fill="none" stroke="#e8ecf0" stroke-width="0.8" opacity="0.8"/>
<polyline points="785.7,379.6 806.5,389.9" fill="none" stroke="#e8ecf0" stroke-width="0.8" opacity="0.8"/>
<polyline points="665.2,316.3 686.0,326.5" fill="none" stroke="#e8ecf0" stroke-width="0.8" opacity="0.8"/>
<polyline points="790.0,377.8 810.8,388.0" fill="none" stroke="#e8ecf0" stroke-width="0.8" opacity="0.8"/>
<polyline points="669.6,314.5 690.4,324.7" fill="none" stroke="#e8ecf0" stroke-width="0.8" opacity="0.8"/>
<polyline points="794.4,375.9 815.2,386.1" fill="none" stroke="#e8ecf0" stroke-width="0.8" opacity="0.8"/>
<polyline points="674.0,312.7 694.8,322.9" fill="none" stroke="#e8ecf0" stroke-width="0.8" opacity="0.8"/>
<polyline points="798.8,374.0 819.6,384.2" fill="none" stroke="#e8ecf0" stroke-width="0.8" opacity="0.8"/>
<polyline points="678.4,310.9 699.2,321.1" fill="none" stroke="#e8ecf0" stroke-width="0.8" opacity="0.8"/>
<polyline points="803.2,372.1 824.0,382.4" fill="none" stroke="#e8ecf0" stroke-width="0.8" opacity="0.8"/>
<polyline points="682.8,309.1 703.6,319.3" fill="none" stroke="#e8ecf0" stroke-width="0.8" opacity="0.8"/>
<polyline points="807.6,370.3 828.4,380.5" fill="none" stroke="#e8ecf0" stroke-width="0.8" opacity="0.8"/>
<polyline points="687.2,307.3 708.0,317.4" fill="none" stroke="#e8ecf0" stroke-width="0.8" opacity="0.8"/>
<polyline points="812.0,368.4 832.8,378.6" fill="none" stroke="#e8ecf0" stroke-width="0.8" opacity="0.8"/>
<polyline points="691.5,305.4 712.3,315.6" fill="none" stroke="#e8ecf0" stroke-width="0.8" opacity="0.8"/>
<polyline points="816.3,366.5 837.1,376.7" fill="none" stroke="#e8ecf0" stroke-width="0.8" opacity="0.8"/>
<polyline points="695.9,303.6 716.7,313.8" fill="none" stroke="#e8ecf0" stroke-width="0.8" opacity="0.8"/>
<polyline points="820.7,364.7 841.5,374.8" fill="none" stroke="#e8ecf0" stroke-width="0.8" opacity="0.8"/>
<polygon points="564.0,275.0 695.0,222.0 824.0,284.0 691.0,338.0" fill="#050505" stroke="#d8e0e0" stroke-width="1.5" />
<polyline points="588.4,267.4 710.6,327.7" fill="none" stroke="#6a7878" stroke-width="0.9" />
<polyline points="587.8,284.4 713.9,233.4" fill="none" stroke="#6a7878" stroke-width="0.9" />
<polyline points="610.2,258.6 732.8,318.7" fill="none" stroke="#6a7878" stroke-width="0.9" />
<polyline points="609.0,294.9 735.4,243.7" fill="none" stroke="#6a7878" stroke-width="0.9" />
<polyline points="632.1,249.8 754.9,309.8" fill="none" stroke="#6a7878" stroke-width="0.9" />
<polyline points="630.1,305.4 756.9,254.1" fill="none" stroke="#6a7878" stroke-width="0.9" />
<polyline points="653.9,240.9 777.1,300.8" fill="none" stroke="#6a7878" stroke-width="0.9" />
<polyline points="651.3,315.9 778.4,264.4" fill="none" stroke="#6a7878" stroke-width="0.9" />
<polyline points="675.7,232.1 799.3,291.8" fill="none" stroke="#6a7878" stroke-width="0.9" />
<polyline points="672.5,326.4 799.8,274.7" fill="none" stroke="#6a7878" stroke-width="0.9" />
<ellipse cx="576.9" cy="275.5" rx="5" ry="3.2" fill="#a8c8c4"/>
<ellipse cx="591.7" cy="282.8" rx="5" ry="3.2" fill="#a8c8c4"/>
<ellipse cx="612.9" cy="293.3" rx="5" ry="3.2" fill="#a8c8c4"/>
<ellipse cx="634.1" cy="303.8" rx="5" ry="3.2" fill="#a8c8c4"/>
<ellipse cx="655.3" cy="314.3" rx="5" ry="3.2" fill="#a8c8c4"/>
<ellipse cx="676.5" cy="324.8" rx="5" ry="3.2" fill="#a8c8c4"/>
<ellipse cx="691.3" cy="332.2" rx="5" ry="3.2" fill="#a8c8c4"/>
<ellipse cx="592.2" cy="269.3" rx="5" ry="3.2" fill="#a8c8c4"/>
<ellipse cx="607.1" cy="276.6" rx="5" ry="3.2" fill="#a8c8c4"/>
<ellipse cx="628.3" cy="287.1" rx="5" ry="3.2" fill="#a8c8c4"/>
<ellipse cx="649.5" cy="297.6" rx="5" ry="3.2" fill="#a8c8c4"/>
<ellipse cx="670.7" cy="308.1" rx="5" ry="3.2" fill="#a8c8c4"/>
<ellipse cx="691.9" cy="318.5" rx="5" ry="3.2" fill="#a8c8c4"/>
<ellipse cx="706.8" cy="325.9" rx="5" ry="3.2" fill="#a8c8c4"/>
<ellipse cx="614.0" cy="260.5" rx="5" ry="3.2" fill="#a8c8c4"/>
<ellipse cx="628.9" cy="267.8" rx="5" ry="3.2" fill="#a8c8c4"/>
<ellipse cx="650.2" cy="278.2" rx="5" ry="3.2" fill="#a8c8c4"/>
<ellipse cx="671.5" cy="288.7" rx="5" ry="3.2" fill="#a8c8c4"/>
<ellipse cx="692.8" cy="299.1" rx="5" ry="3.2" fill="#a8c8c4"/>
<ellipse cx="714.1" cy="309.6" rx="5" ry="3.2" fill="#a8c8c4"/>
<ellipse cx="729.0" cy="316.9" rx="5" ry="3.2" fill="#a8c8c4"/>
<ellipse cx="635.9" cy="251.6" rx="5" ry="3.2" fill="#a8c8c4"/>
<ellipse cx="650.8" cy="258.9" rx="5" ry="3.2" fill="#a8c8c4"/>
<ellipse cx="672.2" cy="269.3" rx="5" ry="3.2" fill="#a8c8c4"/>
<ellipse cx="693.5" cy="279.8" rx="5" ry="3.2" fill="#a8c8c4"/>
<ellipse cx="714.8" cy="290.2" rx="5" ry="3.2" fill="#a8c8c4"/>
<ellipse cx="736.2" cy="300.6" rx="5" ry="3.2" fill="#a8c8c4"/>
<ellipse cx="751.1" cy="307.9" rx="5" ry="3.2" fill="#a8c8c4"/>
<ellipse cx="657.8" cy="242.8" rx="5" ry="3.2" fill="#a8c8c4"/>
<ellipse cx="672.7" cy="250.1" rx="5" ry="3.2" fill="#a8c8c4"/>
<ellipse cx="694.1" cy="260.4" rx="5" ry="3.2" fill="#a8c8c4"/>
<ellipse cx="715.5" cy="270.8" rx="5" ry="3.2" fill="#a8c8c4"/>
<ellipse cx="736.9" cy="281.2" rx="5" ry="3.2" fill="#a8c8c4"/>
<ellipse cx="758.3" cy="291.6" rx="5" ry="3.2" fill="#a8c8c4"/>
<ellipse cx="773.3" cy="298.9" rx="5" ry="3.2" fill="#a8c8c4"/>
<ellipse cx="679.6" cy="233.9" rx="5" ry="3.2" fill="#a8c8c4"/>
<ellipse cx="694.6" cy="241.2" rx="5" ry="3.2" fill="#a8c8c4"/>
<ellipse cx="716.1" cy="251.6" rx="5" ry="3.2" fill="#a8c8c4"/>
<ellipse cx="737.5" cy="261.9" rx="5" ry="3.2" fill="#a8c8c4"/>
<ellipse cx="758.9" cy="272.3" rx="5" ry="3.2" fill="#a8c8c4"/>
<ellipse cx="780.4" cy="282.6" rx="5" ry="3.2" fill="#a8c8c4"/>
<ellipse cx="795.4" cy="289.9" rx="5" ry="3.2" fill="#a8c8c4"/>
<ellipse cx="694.9" cy="227.8" rx="5" ry="3.2" fill="#a8c8c4"/>
<ellipse cx="709.9" cy="235.0" rx="5" ry="3.2" fill="#a8c8c4"/>
<ellipse cx="731.4" cy="245.3" rx="5" ry="3.2" fill="#a8c8c4"/>
<ellipse cx="752.9" cy="255.7" rx="5" ry="3.2" fill="#a8c8c4"/>
<ellipse cx="774.4" cy="266.0" rx="5" ry="3.2" fill="#a8c8c4"/>
<ellipse cx="795.9" cy="276.4" rx="5" ry="3.2" fill="#a8c8c4"/>
<ellipse cx="810.9" cy="283.6" rx="5" ry="3.2" fill="#a8c8c4"/>
<polygon points="561.0,237.0 688.0,300.0 821.0,246.0 821.0,254.0 688.0,308.0 561.0,245.0" fill="#58c4c4" stroke="#2a8a8a" stroke-width="1" />
<line x1="561.0" y1="241.0" x2="688.0" y2="304.0" stroke="#c8f0f0" stroke-width="1.5" />
<line x1="688.0" y1="304.0" x2="821.0" y2="250.0" stroke="#c8f0f0" stroke-width="1.5" />
<polygon points="561.0,237.0 692.0,184.0 821.0,246.0 688.0,300.0" fill="#5ef8f8" stroke="#2a8a8a" stroke-width="1.5" />
<polygon points="596.7,251.2 691.4,212.8 783.9,257.6 688.2,296.5" fill="#2ab0b0" stroke="none" stroke-width="0" opacity="0.55"/>
<ellipse cx="618.7" cy="251.4" rx="4.8" ry="3" fill="#7ee0e0" opacity="0.45"/>
<ellipse cx="637.8" cy="260.8" rx="4.8" ry="3" fill="#7ee0e0" opacity="0.45"/>
<ellipse cx="656.9" cy="270.3" rx="4.8" ry="3" fill="#7ee0e0" opacity="0.45"/>
<ellipse cx="676.0" cy="279.7" rx="4.8" ry="3" fill="#7ee0e0" opacity="0.45"/>
<ellipse cx="695.1" cy="289.1" rx="4.8" ry="3" fill="#7ee0e0" opacity="0.45"/>
<ellipse cx="638.5" cy="243.4" rx="4.8" ry="3" fill="#7ee0e0" opacity="0.45"/>
<ellipse cx="657.6" cy="252.8" rx="4.8" ry="3" fill="#7ee0e0" opacity="0.45"/>
<ellipse cx="676.7" cy="262.2" rx="4.8" ry="3" fill="#7ee0e0" opacity="0.45"/>
<ellipse cx="695.9" cy="271.6" rx="4.8" ry="3" fill="#7ee0e0" opacity="0.45"/>
<ellipse cx="715.0" cy="281.0" rx="4.8" ry="3" fill="#7ee0e0" opacity="0.45"/>
<ellipse cx="658.2" cy="235.4" rx="4.8" ry="3" fill="#7ee0e0" opacity="0.45"/>
<ellipse cx="677.4" cy="244.8" rx="4.8" ry="3" fill="#7ee0e0" opacity="0.45"/>
<ellipse cx="696.6" cy="254.2" rx="4.8" ry="3" fill="#7ee0e0" opacity="0.45"/>
<ellipse cx="715.7" cy="263.6" rx="4.8" ry="3" fill="#7ee0e0" opacity="0.45"/>
<ellipse cx="734.9" cy="272.9" rx="4.8" ry="3" fill="#7ee0e0" opacity="0.45"/>
<ellipse cx="678.0" cy="227.4" rx="4.8" ry="3" fill="#7ee0e0" opacity="0.45"/>
<ellipse cx="697.2" cy="236.8" rx="4.8" ry="3" fill="#7ee0e0" opacity="0.45"/>
<ellipse cx="716.4" cy="246.1" rx="4.8" ry="3" fill="#7ee0e0" opacity="0.45"/>
<ellipse cx="735.6" cy="255.5" rx="4.8" ry="3" fill="#7ee0e0" opacity="0.45"/>
<ellipse cx="754.8" cy="264.8" rx="4.8" ry="3" fill="#7ee0e0" opacity="0.45"/>
<ellipse cx="697.7" cy="219.4" rx="4.8" ry="3" fill="#7ee0e0" opacity="0.45"/>
<ellipse cx="717.0" cy="228.7" rx="4.8" ry="3" fill="#7ee0e0" opacity="0.45"/>
<ellipse cx="736.2" cy="238.1" rx="4.8" ry="3" fill="#7ee0e0" opacity="0.45"/>
<ellipse cx="755.5" cy="247.4" rx="4.8" ry="3" fill="#7ee0e0" opacity="0.45"/>
<ellipse cx="774.8" cy="256.8" rx="4.8" ry="3" fill="#7ee0e0" opacity="0.45"/>
<polygon points="294.0,192.0 270.0,245.0 569.0,280.0" fill="url(#fun1)" stroke="none" stroke-width="0" />
<polygon points="850.0,263.0 930.6,254.0 1090.5,237.5 978.0,276.3 858.5,310.6" fill="url(#funUp)" stroke="none" stroke-width="0" />
<path d="M132.0,227.6 C132.6,221.0 135.7,210.5 140.6,202.6 C145.4,194.6 152.8,186.3 161.1,180.1 C169.3,174.0 180.5,168.9 190.1,165.6 C199.8,162.3 209.5,161.0 219.2,160.3 C228.9,159.7 238.9,159.0 248.3,161.6 C257.7,164.3 267.9,170.0 275.6,176.2 C283.3,182.3 289.9,190.9 294.4,198.6 C299.0,206.3 302.1,215.1 303.0,222.4 C303.9,229.6 303.6,238.2 299.6,242.2 C295.6,246.1 285.3,245.0 279.1,246.1 C272.8,247.2 262.5,245.2 262.0,248.8 C261.4,252.3 274.5,261.5 275.6,267.2 C276.8,273.0 273.9,279.3 268.8,283.1 C263.7,286.8 251.7,290.6 244.9,289.7 C238.0,288.8 234.0,279.8 227.8,277.8 C221.5,275.8 214.7,278.2 207.2,277.8 C199.8,277.4 188.1,278.2 183.3,275.2 C178.5,272.1 182.7,263.3 178.2,259.3 C173.6,255.4 162.8,254.3 155.9,251.4 C149.1,248.5 141.1,246.1 137.1,242.2 C133.1,238.2 131.4,234.2 132.0,227.6Z" fill="#3d9fe6" stroke="none" stroke-width="0" />
<clipPath id="bc1"><path d="M132.0,227.6 C132.6,221.0 135.7,210.5 140.6,202.6 C145.4,194.6 152.8,186.3 161.1,180.1 C169.3,174.0 180.5,168.9 190.1,165.6 C199.8,162.3 209.5,161.0 219.2,160.3 C228.9,159.7 238.9,159.0 248.3,161.6 C257.7,164.3 267.9,170.0 275.6,176.2 C283.3,182.3 289.9,190.9 294.4,198.6 C299.0,206.3 302.1,215.1 303.0,222.4 C303.9,229.6 303.6,238.2 299.6,242.2 C295.6,246.1 285.3,245.0 279.1,246.1 C272.8,247.2 262.5,245.2 262.0,248.8 C261.4,252.3 274.5,261.5 275.6,267.2 C276.8,273.0 273.9,279.3 268.8,283.1 C263.7,286.8 251.7,290.6 244.9,289.7 C238.0,288.8 234.0,279.8 227.8,277.8 C221.5,275.8 214.7,278.2 207.2,277.8 C199.8,277.4 188.1,278.2 183.3,275.2 C178.5,272.1 182.7,263.3 178.2,259.3 C173.6,255.4 162.8,254.3 155.9,251.4 C149.1,248.5 141.1,246.1 137.1,242.2 C133.1,238.2 131.4,234.2 132.0,227.6Z"/></clipPath>
<g clip-path="url(#bc1)">
<rect x="132" y="159" width="171" height="132" filter="url(#brainTex)"/>
</g>
<ellipse cx="201.3" cy="228.3" rx="13.7" ry="8.6" fill="#fff"/>
<ellipse cx="240.6" cy="220.4" rx="8.6" ry="9.2" fill="#fff"/>
<ellipse cx="248.3" cy="271.2" rx="10.3" ry="6.6" fill="#fff" opacity="0.7"/>
<path d="M17.0,609.2 C17.6,602.5 20.7,591.6 25.6,583.5 C30.5,575.4 37.9,566.9 46.2,560.6 C54.6,554.3 65.7,549.1 75.5,545.8 C85.2,542.4 95.0,541.0 104.7,540.4 C114.5,539.7 124.5,539.0 134.0,541.7 C143.4,544.4 153.7,550.2 161.5,556.5 C169.2,562.8 175.8,571.6 180.4,579.5 C185.0,587.4 188.1,596.4 189.0,603.8 C189.9,611.2 189.6,620.0 185.6,624.0 C181.5,628.1 171.2,627.0 164.9,628.1 C158.6,629.2 148.3,627.2 147.7,630.8 C147.1,634.4 160.3,643.9 161.5,649.7 C162.6,655.6 159.8,662.1 154.6,665.9 C149.4,669.7 137.4,673.5 130.5,672.6 C123.6,671.8 119.6,662.5 113.3,660.5 C107.0,658.5 100.1,661.0 92.7,660.5 C85.2,660.0 73.5,660.9 68.6,657.8 C63.7,654.6 68.0,645.6 63.4,641.6 C58.9,637.6 48.0,636.4 41.1,633.5 C34.2,630.6 26.2,628.1 22.2,624.0 C18.1,620.0 16.4,616.0 17.0,609.2Z" fill="#3d9fe6" stroke="none" stroke-width="0" />
<clipPath id="bc2"><path d="M17.0,609.2 C17.6,602.5 20.7,591.6 25.6,583.5 C30.5,575.4 37.9,566.9 46.2,560.6 C54.6,554.3 65.7,549.1 75.5,545.8 C85.2,542.4 95.0,541.0 104.7,540.4 C114.5,539.7 124.5,539.0 134.0,541.7 C143.4,544.4 153.7,550.2 161.5,556.5 C169.2,562.8 175.8,571.6 180.4,579.5 C185.0,587.4 188.1,596.4 189.0,603.8 C189.9,611.2 189.6,620.0 185.6,624.0 C181.5,628.1 171.2,627.0 164.9,628.1 C158.6,629.2 148.3,627.2 147.7,630.8 C147.1,634.4 160.3,643.9 161.5,649.7 C162.6,655.6 159.8,662.1 154.6,665.9 C149.4,669.7 137.4,673.5 130.5,672.6 C123.6,671.8 119.6,662.5 113.3,660.5 C107.0,658.5 100.1,661.0 92.7,660.5 C85.2,660.0 73.5,660.9 68.6,657.8 C63.7,654.6 68.0,645.6 63.4,641.6 C58.9,637.6 48.0,636.4 41.1,633.5 C34.2,630.6 26.2,628.1 22.2,624.0 C18.1,620.0 16.4,616.0 17.0,609.2Z"/></clipPath>
<g clip-path="url(#bc2)">
<rect x="17" y="539" width="172" height="135" filter="url(#brainTex)"/>
</g>
<ellipse cx="86.7" cy="609.9" rx="13.8" ry="8.8" fill="#fff"/>
<ellipse cx="126.2" cy="601.8" rx="8.6" ry="9.5" fill="#fff"/>
<ellipse cx="134.0" cy="653.8" rx="10.3" ry="6.8" fill="#fff" opacity="0.7"/>
<rect x="264" y="541.7" width="152.4" height="129.3" filter="url(#noiseF)"/>
<line x1="195.2" y1="612.0" x2="228.4" y2="612.0" stroke="#000" stroke-width="3.3" />
<line x1="211.8" y1="595.0" x2="211.8" y2="629.0" stroke="#000" stroke-width="3.3" />
<text x="232.0" y="628.0" font-family='"Liberation Serif", serif' font-size="60" text-anchor="start" font-weight="bold" font-style="italic" fill="#000" >ϵ</text>
<polygon points="1051.0,415.0 1089.0,388.0 1295.0,388.0 1259.0,415.0" fill="#ebebeb" stroke="none" stroke-width="0" />
<polygon points="1050.0,740.0 1089.0,712.0 1295.0,712.0 1259.0,740.0" fill="#ebebeb" stroke="none" stroke-width="0" />
<polygon points="1107.0,218.0 1150.0,218.0 1150.0,396.0 1135.0,407.0 1092.0,407.0 1092.0,229.0" fill="#a8a8f8" stroke="none" stroke-width="0" opacity="0.25"/>
<rect x="1092.0" y="229.0" width="43.0" height="178.0" rx="0" fill="#a8a8f8" stroke="none" stroke-width="0" opacity="0.7"/>
<polygon points="1092.0,229.0 1107.0,218.0 1150.0,218.0 1135.0,229.0" fill="none" stroke="#8a8ae8" stroke-width="1.2" />
<line x1="1135.0" y1="229.0" x2="1135.0" y2="407.0" stroke="#8a8ae8" stroke-width="1.2" />
<line x1="1150.0" y1="218.0" x2="1150.0" y2="396.0" stroke="#8a8ae8" stroke-width="1.2" />
<line x1="1135.0" y1="407.0" x2="1150.0" y2="396.0" stroke="#8a8ae8" stroke-width="1.2" />
<rect x="1092.0" y="229.0" width="43.0" height="178.0" rx="0" fill="none" stroke="#8a8ae8" stroke-width="1.2" />
<line x1="1107.0" y1="218.0" x2="1107.0" y2="396.0" stroke="#8a8ae8" stroke-width="0.8" opacity="0.6"/>
<line x1="1092.0" y1="407.0" x2="1107.0" y2="396.0" stroke="#8a8ae8" stroke-width="0.8" opacity="0.6"/>
<line x1="1107.0" y1="396.0" x2="1150.0" y2="396.0" stroke="#8a8ae8" stroke-width="0.8" opacity="0.6"/>
<polygon points="1213.0,319.0 1256.0,319.0 1256.0,396.0 1241.0,407.0 1198.0,407.0 1198.0,330.0" fill="#f8a0a0" stroke="none" stroke-width="0" opacity="0.25"/>
<rect x="1198.0" y="330.0" width="43.0" height="77.0" rx="0" fill="#f8a0a0" stroke="none" stroke-width="0" opacity="0.7"/>
<polygon points="1198.0,330.0 1213.0,319.0 1256.0,319.0 1241.0,330.0" fill="none" stroke="#e88a8a" stroke-width="1.2" />
<line x1="1241.0" y1="330.0" x2="1241.0" y2="407.0" stroke="#e88a8a" stroke-width="1.2" />
<line x1="1256.0" y1="319.0" x2="1256.0" y2="396.0" stroke="#e88a8a" stroke-width="1.2" />
<line x1="1241.0" y1="407.0" x2="1256.0" y2="396.0" stroke="#e88a8a" stroke-width="1.2" />
<rect x="1198.0" y="330.0" width="43.0" height="77.0" rx="0" fill="none" stroke="#e88a8a" stroke-width="1.2" />
<line x1="1213.0" y1="319.0" x2="1213.0" y2="396.0" stroke="#e88a8a" stroke-width="0.8" opacity="0.6"/>
<line x1="1198.0" y1="407.0" x2="1213.0" y2="396.0" stroke="#e88a8a" stroke-width="0.8" opacity="0.6"/>
<line x1="1213.0" y1="396.0" x2="1256.0" y2="396.0" stroke="#e88a8a" stroke-width="0.8" opacity="0.6"/>
<polygon points="1213.0,540.0 1256.0,540.0 1256.0,720.0 1241.0,731.0 1198.0,731.0 1198.0,551.0" fill="#f8a0a0" stroke="none" stroke-width="0" opacity="0.25"/>
<rect x="1198.0" y="551.0" width="43.0" height="180.0" rx="0" fill="#f8a0a0" stroke="none" stroke-width="0" opacity="0.7"/>
<polygon points="1198.0,551.0 1213.0,540.0 1256.0,540.0 1241.0,551.0" fill="none" stroke="#e88a8a" stroke-width="1.2" />
<line x1="1241.0" y1="551.0" x2="1241.0" y2="731.0" stroke="#e88a8a" stroke-width="1.2" />
<line x1="1256.0" y1="540.0" x2="1256.0" y2="720.0" stroke="#e88a8a" stroke-width="1.2" />
<line x1="1241.0" y1="731.0" x2="1256.0" y2="720.0" stroke="#e88a8a" stroke-width="1.2" />
<rect x="1198.0" y="551.0" width="43.0" height="180.0" rx="0" fill="none" stroke="#e88a8a" stroke-width="1.2" />
<line x1="1213.0" y1="540.0" x2="1213.0" y2="720.0" stroke="#e88a8a" stroke-width="0.8" opacity="0.6"/>
<line x1="1198.0" y1="731.0" x2="1213.0" y2="720.0" stroke="#e88a8a" stroke-width="0.8" opacity="0.6"/>
<line x1="1213.0" y1="720.0" x2="1256.0" y2="720.0" stroke="#e88a8a" stroke-width="0.8" opacity="0.6"/>
<polygon points="1106.5,643.0 1149.5,643.0 1149.5,720.0 1134.5,731.0 1091.5,731.0 1091.5,654.0" fill="#a8a8f8" stroke="none" stroke-width="0" opacity="0.25"/>
<rect x="1091.5" y="654.0" width="43.0" height="77.0" rx="0" fill="#a8a8f8" stroke="none" stroke-width="0" opacity="0.7"/>
<polygon points="1091.5,654.0 1106.5,643.0 1149.5,643.0 1134.5,654.0" fill="none" stroke="#8a8ae8" stroke-width="1.2" />
<line x1="1134.5" y1="654.0" x2="1134.5" y2="731.0" stroke="#8a8ae8" stroke-width="1.2" />
<line x1="1149.5" y1="643.0" x2="1149.5" y2="720.0" stroke="#8a8ae8" stroke-width="1.2" />
<line x1="1134.5" y1="731.0" x2="1149.5" y2="720.0" stroke="#8a8ae8" stroke-width="1.2" />
<rect x="1091.5" y="654.0" width="43.0" height="77.0" rx="0" fill="none" stroke="#8a8ae8" stroke-width="1.2" />
<line x1="1106.5" y1="643.0" x2="1106.5" y2="720.0" stroke="#8a8ae8" stroke-width="0.8" opacity="0.6"/>
<line x1="1091.5" y1="731.0" x2="1106.5" y2="720.0" stroke="#8a8ae8" stroke-width="0.8" opacity="0.6"/>
<line x1="1106.5" y1="720.0" x2="1149.5" y2="720.0" stroke="#8a8ae8" stroke-width="0.8" opacity="0.6"/>
<g transform="translate(1024.5,199.6) scale(1.1,1)"><text x="0" y="0" font-family='"Liberation Sans", sans-serif' font-size="36">Malignant</text></g>
<g transform="translate(1166,301) scale(1.06,1)"><text x="0" y="0" font-family='"Liberation Sans", sans-serif' font-size="36">Benign</text></g>
<g transform="translate(1167,521) scale(1.06,1)"><text x="0" y="0" font-family='"Liberation Sans", sans-serif' font-size="36">Benign</text></g>
<g transform="translate(1024,621.5) scale(1.1,1)"><text x="0" y="0" font-family='"Liberation Sans", sans-serif' font-size="36">Malignant</text></g>
<text x="1422.0" y="59.0" font-family='"Liberation Serif", serif' font-size="70" text-anchor="start" font-weight="bold" font-style="normal" fill="#000" >b</text>
<text x="1529.0" y="72.0" font-family='"Liberation Serif", serif' font-size="54" text-anchor="start" font-weight="bold" font-style="normal" fill="#000" >x</text>
<text x="1572.0" y="72.0" font-family='"Liberation Serif", serif' font-size="54" text-anchor="start" font-weight="normal" font-style="normal" fill="#000" >=</text>
<text x="1628.0" y="76.0" font-family='"Liberation Serif", serif' font-size="56" text-anchor="start" font-weight="normal" font-style="normal" fill="#000" >(</text>
<text x="1652.0" y="72.0" font-family='"Liberation Serif", serif' font-size="54" text-anchor="start" font-weight="normal" font-style="italic" fill="#000" >x</text>
<text x="1680.0" y="83.0" font-family='"Liberation Serif", serif' font-size="36" text-anchor="start" font-weight="normal" font-style="normal" fill="#000" >1</text>
<text x="1729.0" y="72.0" font-family='"Liberation Serif", serif' font-size="54" text-anchor="start" font-weight="normal" font-style="italic" fill="#000" >x</text>
<text x="1755.0" y="83.0" font-family='"Liberation Serif", serif' font-size="36" text-anchor="start" font-weight="normal" font-style="normal" fill="#000" >2</text>
<circle cx="1816.0" cy="57.0" r="2.8" fill="#000" stroke="none" stroke-width="0" />
<circle cx="1832.0" cy="57.0" r="2.8" fill="#000" stroke="none" stroke-width="0" />
<circle cx="1848.0" cy="57.0" r="2.8" fill="#000" stroke="none" stroke-width="0" />
<text x="1891.0" y="72.0" font-family='"Liberation Serif", serif' font-size="54" text-anchor="start" font-weight="normal" font-style="italic" fill="#000" >x</text>
<text x="1917.0" y="83.0" font-family='"Liberation Serif", serif' font-size="36" text-anchor="start" font-weight="normal" font-style="italic" fill="#000" >n</text>
<text x="1948.0" y="76.0" font-family='"Liberation Serif", serif' font-size="56" text-anchor="start" font-weight="normal" font-style="normal" fill="#000" >)</text>
<rect x="1478.5" y="115.0" width="25.7" height="31.0" rx="0" fill="#f0f0f0" stroke="none" stroke-width="0" />
<circle cx="1491.5" cy="131.5" r="2.3" fill="#000" stroke="none" stroke-width="0" />
<rect x="1507.0" y="115.0" width="25.7" height="31.0" rx="0" fill="#f0f0f0" stroke="none" stroke-width="0" />
<circle cx="1520.0" cy="131.5" r="2.3" fill="#000" stroke="none" stroke-width="0" />
<rect x="1535.4" y="115.0" width="25.7" height="31.0" rx="0" fill="#f0f0f0" stroke="none" stroke-width="0" />
<circle cx="1548.4" cy="131.5" r="2.3" fill="#000" stroke="none" stroke-width="0" />
<rect x="1562.0" y="108.5" width="461.0" height="46.5" rx="9" fill="#fff" stroke="#8faadc" stroke-width="3.8" />
<rect x="1565.8" y="115.0" width="25.7" height="31.0" rx="0" fill="#f0f0f0" stroke="none" stroke-width="0" />
<rect x="1594.2" y="115.0" width="25.7" height="31.0" rx="0" fill="#f0f0f0" stroke="none" stroke-width="0" />
<rect x="1622.7" y="115.0" width="25.7" height="31.0" rx="0" fill="#bdbdbd" stroke="none" stroke-width="0" />
<rect x="1651.1" y="115.0" width="25.7" height="31.0" rx="0" fill="#b0b0b0" stroke="none" stroke-width="0" />
<rect x="1679.6" y="115.0" width="25.7" height="31.0" rx="0" fill="#a0a0a0" stroke="none" stroke-width="0" />
<rect x="1708.0" y="115.0" width="25.7" height="31.0" rx="0" fill="#a3a3a3" stroke="none" stroke-width="0" />
<rect x="1736.5" y="115.0" width="25.7" height="31.0" rx="0" fill="#999999" stroke="none" stroke-width="0" />
<rect x="1765.0" y="115.0" width="25.7" height="31.0" rx="0" fill="#858585" stroke="none" stroke-width="0" />
<rect x="1793.4" y="115.0" width="25.7" height="31.0" rx="0" fill="#6e6e6e" stroke="none" stroke-width="0" />
<rect x="1821.8" y="115.0" width="25.7" height="31.0" rx="0" fill="#737373" stroke="none" stroke-width="0" />
<rect x="1850.3" y="115.0" width="25.7" height="31.0" rx="0" fill="#636363" stroke="none" stroke-width="0" />
<rect x="1878.8" y="115.0" width="25.7" height="31.0" rx="0" fill="#6b6b6b" stroke="none" stroke-width="0" />
<rect x="1907.2" y="115.0" width="25.7" height="31.0" rx="0" fill="#a8a8a8" stroke="none" stroke-width="0" />
<rect x="1935.6" y="115.0" width="25.7" height="31.0" rx="0" fill="#f8f8f8" stroke="none" stroke-width="0" />
<rect x="1964.1" y="115.0" width="25.7" height="31.0" rx="0" fill="#fdfdfd" stroke="none" stroke-width="0" />
<rect x="1992.5" y="115.0" width="25.7" height="31.0" rx="0" fill="#f5f5f5" stroke="none" stroke-width="0" />
<circle cx="2034.0" cy="131.0" r="2.3" fill="#000" stroke="none" stroke-width="0" />
<circle cx="2061.0" cy="131.0" r="2.3" fill="#000" stroke="none" stroke-width="0" />
<circle cx="2088.0" cy="131.0" r="2.3" fill="#000" stroke="none" stroke-width="0" />
<path d="M1432,205 L1432,180 Q1432,149 1463,149 L1504,149" fill="none" stroke="#b4b4b4" stroke-width="5" stroke-dasharray="12,7"/>
<polygon points="1531.0,149.0 1502.0,139.0 1502.0,159.0" fill="#b4b4b4" stroke="none" stroke-width="0" />
<path d="M2036,143.5 L2105,146 Q2139,150 2139,172" fill="none" stroke="#b4b4b4" stroke-width="5" stroke-dasharray="12,7"/>
<polygon points="2139.0,193.0 2130.0,169.0 2148.0,169.0" fill="#b4b4b4" stroke="none" stroke-width="0" />
<polygon points="1385.3,267.5 1478.7,209.5 1478.7,410.3 1385.3,468.3" fill="#fff" stroke="#c0c0c0" stroke-width="1" />
<g transform="matrix(1,-0.6210,0,1,1389.80,275.00)">
<rect x="0.60" y="1.00" width="4.05" height="9.25" fill="#f0f0f0"/><rect x="5.85" y="1.00" width="4.05" height="9.25" fill="#f0f0f0"/><rect x="11.10" y="1.00" width="4.05" height="9.25" fill="#f0f0f0"/><rect x="16.35" y="1.00" width="4.05" height="9.25" fill="#f0f0f0"/><rect x="21.60" y="1.00" width="4.05" height="9.25" fill="#f0f0f0"/><rect x="26.85" y="1.00" width="4.05" height="9.25" fill="#f0f0f0"/><rect x="32.10" y="1.00" width="4.05" height="9.25" fill="#f0f0f0"/><rect x="37.35" y="1.00" width="4.05" height="9.25" fill="#f0f0f0"/><rect x="42.60" y="1.00" width="4.05" height="9.25" fill="#f0f0f0"/><rect x="47.85" y="1.00" width="4.05" height="9.25" fill="#f0f0f0"/><rect x="53.10" y="1.00" width="4.05" height="9.25" fill="#f0f0f0"/><rect x="58.35" y="1.00" width="4.05" height="9.25" fill="#f0f0f0"/><rect x="63.60" y="1.00" width="4.05" height="9.25" fill="#f0f0f0"/><rect x="68.85" y="1.00" width="4.05" height="9.25" fill="#f0f0f0"/><rect x="74.10" y="1.00" width="4.05" height="9.25" fill="#f0f0f0"/><rect x="79.35" y="1.00" width="4.05" height="9.25" fill="#f0f0f0"/><rect x="0.60" y="12.25" width="4.05" height="9.25" fill="#f6f6f6"/><rect x="5.85" y="12.25" width="4.05" height="9.25" fill="#f6f6f6"/><rect x="11.10" y="12.25" width="4.05" height="9.25" fill="#f6f6f6"/><rect x="16.35" y="12.25" width="4.05" height="9.25" fill="#f6f6f6"/><rect x="21.60" y="12.25" width="4.05" height="9.25" fill="#f6f6f6"/><rect x="26.85" y="12.25" width="4.05" height="9.25" fill="#f6f6f6"/><rect x="32.10" y="12.25" width="4.05" height="9.25" fill="#b8b8b8"/><rect x="37.35" y="12.25" width="4.05" height="9.25" fill="#f6f6f6"/><rect x="42.60" y="12.25" width="4.05" height="9.25" fill="#f6f6f6"/><rect x="47.85" y="12.25" width="4.05" height="9.25" fill="#f6f6f6"/><rect x="53.10" y="12.25" width="4.05" height="9.25" fill="#f6f6f6"/><rect x="58.35" y="12.25" width="4.05" height="9.25" fill="#f6f6f6"/><rect x="63.60" y="12.25" width="4.05" height="9.25" fill="#f6f6f6"/><rect x="68.85" y="12.25" width="4.05" height="9.25" fill="#f6f6f6"/><rect x="74.10" y="12.25" width="4.05" height="9.25" fill="#f6f6f6"/><rect x="79.35" y="12.25" width="4.05" height="9.25" fill="#f6f6f6"/><rect x="0.60" y="23.50" width="4.05" height="9.25" fill="#f6f6f6"/><rect x="5.85" y="23.50" width="4.05" height="9.25" fill="#f6f6f6"/><rect x="11.10" y="23.50" width="4.05" height="9.25" fill="#f6f6f6"/><rect x="16.35" y="23.50" width="4.05" height="9.25" fill="#bebebe"/><rect x="21.60" y="23.50" width="4.05" height="9.25" fill="#f6f6f6"/><rect x="26.85" y="23.50" width="4.05" height="9.25" fill="#f6f6f6"/><rect x="32.10" y="23.50" width="4.05" height="9.25" fill="#dadada"/><rect x="37.35" y="23.50" width="4.05" height="9.25" fill="#b8b8b8"/><rect x="42.60" y="23.50" width="4.05" height="9.25" fill="#f6f6f6"/><rect x="47.85" y="23.50" width="4.05" height="9.25" fill="#f6f6f6"/><rect x="53.10" y="23.50" width="4.05" height="9.25" fill="#9a9a9a"/><rect x="58.35" y="23.50" width="4.05" height="9.25" fill="#f6f6f6"/><rect x="63.60" y="23.50" width="4.05" height="9.25" fill="#f6f6f6"/><rect x="68.85" y="23.50" width="4.05" height="9.25" fill="#f6f6f6"/><rect x="74.10" y="23.50" width="4.05" height="9.25" fill="#f6f6f6"/><rect x="79.35" y="23.50" width="4.05" height="9.25" fill="#f6f6f6"/><rect x="0.60" y="34.75" width="4.05" height="9.25" fill="#f6f6f6"/><rect x="5.85" y="34.75" width="4.05" height="9.25" fill="#f6f6f6"/><rect x="11.10" y="34.75" width="4.05" height="9.25" fill="#f6f6f6"/><rect x="16.35" y="34.75" width="4.05" height="9.25" fill="#e8e8e8"/><rect x="21.60" y="34.75" width="4.05" height="9.25" fill="#b0b0b0"/><rect x="26.85" y="34.75" width="4.05" height="9.25" fill="#f6f6f6"/><rect x="32.10" y="34.75" width="4.05" height="9.25" fill="#dcdcdc"/><rect x="37.35" y="34.75" width="4.05" height="9.25" fill="#ececec"/><rect x="42.60" y="34.75" width="4.05" height="9.25" fill="#f6f6f6"/><rect x="47.85" y="34.75" width="4.05" height="9.25" fill="#f0f0f0"/><rect x="53.10" y="34.75" width="4.05" height="9.25" fill="#e8e8e8"/><rect x="58.35" y="34.75" width="4.05" height="9.25" fill="#f6f6f6"/><rect x="63.60" y="34.75" width="4.05" height="9.25" fill="#f6f6f6"/><rect x="68.85" y="34.75" width="4.05" height="9.25" fill="#f6f6f6"/><rect x="74.10" y="34.75" width="4.05" height="9.25" fill="#f6f6f6"/><rect x="79.35" y="34.75" width="4.05" height="9.25" fill="#f6f6f6"/><rect x="0.60" y="46.00" width="4.05" height="9.25" fill="#f6f6f6"/><rect x="5.85" y="46.00" width="4.05" height="9.25" fill="#f6f6f6"/><rect x="11.10" y="46.00" width="4.05" height="9.25" fill="#f6f6f6"/><rect x="16.35" y="46.00" width="4.05" height="9.25" fill="#f6f6f6"/><rect x="21.60" y="46.00" width="4.05" height="9.25" fill="#d4d4d4"/><rect x="26.85" y="46.00" width="4.05" height="9.25" fill="#f6f6f6"/><rect x="32.10" y="46.00" width="4.05" height="9.25" fill="#b8b8b8"/><rect x="37.35" y="46.00" width="4.05" height="9.25" fill="#808080"/><rect x="42.60" y="46.00" width="4.05" height="9.25" fill="#f6f6f6"/><rect x="47.85" y="46.00" width="4.05" height="9.25" fill="#b8b8b8"/><rect x="53.10" y="46.00" width="4.05" height="9.25" fill="#f6f6f6"/><rect x="58.35" y="46.00" width="4.05" height="9.25" fill="#f6f6f6"/><rect x="63.60" y="46.00" width="4.05" height="9.25" fill="#f6f6f6"/><rect x="68.85" y="46.00" width="4.05" height="9.25" fill="#f6f6f6"/><rect x="74.10" y="46.00" width="4.05" height="9.25" fill="#f6f6f6"/><rect x="79.35" y="46.00" width="4.05" height="9.25" fill="#f6f6f6"/><rect x="0.60" y="57.25" width="4.05" height="9.25" fill="#f6f6f6"/><rect x="5.85" y="57.25" width="4.05" height="9.25" fill="#f0f0f0"/><rect x="11.10" y="57.25" width="4.05" height="9.25" fill="#f6f6f6"/><rect x="16.35" y="57.25" width="4.05" height="9.25" fill="#f6f6f6"/><rect x="21.60" y="57.25" width="4.05" height="9.25" fill="#c4c4c4"/><rect x="26.85" y="57.25" width="4.05" height="9.25" fill="#f0f0f0"/><rect x="32.10" y="57.25" width="4.05" height="9.25" fill="#eeeeee"/><rect x="37.35" y="57.25" width="4.05" height="9.25" fill="#e0e0e0"/><rect x="42.60" y="57.25" width="4.05" height="9.25" fill="#f2f2f2"/><rect x="47.85" y="57.25" width="4.05" height="9.25" fill="#888888"/><rect x="53.10" y="57.25" width="4.05" height="9.25" fill="#f6f6f6"/><rect x="58.35" y="57.25" width="4.05" height="9.25" fill="#f6f6f6"/><rect x="63.60" y="57.25" width="4.05" height="9.25" fill="#f6f6f6"/><rect x="68.85" y="57.25" width="4.05" height="9.25" fill="#f6f6f6"/><rect x="74.10" y="57.25" width="4.05" height="9.25" fill="#f6f6f6"/><rect x="79.35" y="57.25" width="4.05" height="9.25" fill="#f6f6f6"/><rect x="0.60" y="68.50" width="4.05" height="9.25" fill="#f6f6f6"/><rect x="5.85" y="68.50" width="4.05" height="9.25" fill="#e0e0e0"/><rect x="11.10" y="68.50" width="4.05" height="9.25" fill="#e8e8e8"/><rect x="16.35" y="68.50" width="4.05" height="9.25" fill="#f6f6f6"/><rect x="21.60" y="68.50" width="4.05" height="9.25" fill="#dadada"/><rect x="26.85" y="68.50" width="4.05" height="9.25" fill="#9a9a9a"/><rect x="32.10" y="68.50" width="4.05" height="9.25" fill="#d0d0d0"/><rect x="37.35" y="68.50" width="4.05" height="9.25" fill="#aaaaaa"/><rect x="42.60" y="68.50" width="4.05" height="9.25" fill="#cccccc"/><rect x="47.85" y="68.50" width="4.05" height="9.25" fill="#c8c8c8"/><rect x="53.10" y="68.50" width="4.05" height="9.25" fill="#f6f6f6"/><rect x="58.35" y="68.50" width="4.05" height="9.25" fill="#f6f6f6"/><rect x="63.60" y="68.50" width="4.05" height="9.25" fill="#f6f6f6"/><rect x="68.85" y="68.50" width="4.05" height="9.25" fill="#f6f6f6"/><rect x="74.10" y="68.50" width="4.05" height="9.25" fill="#f6f6f6"/><rect x="79.35" y="68.50" width="4.05" height="9.25" fill="#f6f6f6"/><rect x="0.60" y="79.75" width="4.05" height="9.25" fill="#f6f6f6"/><rect x="5.85" y="79.75" width="4.05" height="9.25" fill="#f6f6f6"/><rect x="11.10" y="79.75" width="4.05" height="9.25" fill="#9a9a9a"/><rect x="16.35" y="79.75" width="4.05" height="9.25" fill="#e0e0e0"/><rect x="21.60" y="79.75" width="4.05" height="9.25" fill="#eeeeee"/><rect x="26.85" y="79.75" width="4.05" height="9.25" fill="#c0c0c0"/><rect x="32.10" y="79.75" width="4.05" height="9.25" fill="#555555"/><rect x="37.35" y="79.75" width="4.05" height="9.25" fill="#929292"/><rect x="42.60" y="79.75" width="4.05" height="9.25" fill="#9a9a9a"/><rect x="47.85" y="79.75" width="4.05" height="9.25" fill="#8e8e8e"/><rect x="53.10" y="79.75" width="4.05" height="9.25" fill="#f6f6f6"/><rect x="58.35" y="79.75" width="4.05" height="9.25" fill="#f6f6f6"/><rect x="63.60" y="79.75" width="4.05" height="9.25" fill="#f0f0f0"/><rect x="68.85" y="79.75" width="4.05" height="9.25" fill="#a4a4a4"/><rect x="74.10" y="79.75" width="4.05" height="9.25" fill="#f6f6f6"/><rect x="79.35" y="79.75" width="4.05" height="9.25" fill="#f6f6f6"/><rect x="0.60" y="91.00" width="4.05" height="9.25" fill="#f6f6f6"/><rect x="5.85" y="91.00" width="4.05" height="9.25" fill="#f6f6f6"/><rect x="11.10" y="91.00" width="4.05" height="9.25" fill="#f6f6f6"/><rect x="16.35" y="91.00" width="4.05" height="9.25" fill="#d8d8d8"/><rect x="21.60" y="91.00" width="4.05" height="9.25" fill="#6a6a6a"/><rect x="26.85" y="91.00" width="4.05" height="9.25" fill="#7a7a7a"/><rect x="32.10" y="91.00" width="4.05" height="9.25" fill="#646464"/><rect x="37.35" y="91.00" width="4.05" height="9.25" fill="#929292"/><rect x="42.60" y="91.00" width="4.05" height="9.25" fill="#848484"/><rect x="47.85" y="91.00" width="4.05" height="9.25" fill="#6e6e6e"/><rect x="53.10" y="91.00" width="4.05" height="9.25" fill="#cccccc"/><rect x="58.35" y="91.00" width="4.05" height="9.25" fill="#aeaeae"/><rect x="63.60" y="91.00" width="4.05" height="9.25" fill="#a4a4a4"/><rect x="68.85" y="91.00" width="4.05" height="9.25" fill="#c8c8c8"/><rect x="74.10" y="91.00" width="4.05" height="9.25" fill="#f6f6f6"/><rect x="79.35" y="91.00" width="4.05" height="9.25" fill="#f6f6f6"/><rect x="0.60" y="102.25" width="4.05" height="9.25" fill="#f6f6f6"/><rect x="5.85" y="102.25" width="4.05" height="9.25" fill="#f6f6f6"/><rect x="11.10" y="102.25" width="4.05" height="9.25" fill="#f6f6f6"/><rect x="16.35" y="102.25" width="4.05" height="9.25" fill="#e8e8e8"/><rect x="21.60" y="102.25" width="4.05" height="9.25" fill="#484848"/><rect x="26.85" y="102.25" width="4.05" height="9.25" fill="#888888"/><rect x="32.10" y="102.25" width="4.05" height="9.25" fill="#626262"/><rect x="37.35" y="102.25" width="4.05" height="9.25" fill="#343434"/><rect x="42.60" y="102.25" width="4.05" height="9.25" fill="#161616"/><rect x="47.85" y="102.25" width="4.05" height="9.25" fill="#bcbcbc"/><rect x="53.10" y="102.25" width="4.05" height="9.25" fill="#8a8a8a"/><rect x="58.35" y="102.25" width="4.05" height="9.25" fill="#b0b0b0"/><rect x="63.60" y="102.25" width="4.05" height="9.25" fill="#f0f0f0"/><rect x="68.85" y="102.25" width="4.05" height="9.25" fill="#f6f6f6"/><rect x="74.10" y="102.25" width="4.05" height="9.25" fill="#f6f6f6"/><rect x="79.35" y="102.25" width="4.05" height="9.25" fill="#f6f6f6"/><rect x="0.60" y="113.50" width="4.05" height="9.25" fill="#e4e4e4"/><rect x="5.85" y="113.50" width="4.05" height="9.25" fill="#f6f6f6"/><rect x="11.10" y="113.50" width="4.05" height="9.25" fill="#bebebe"/><rect x="16.35" y="113.50" width="4.05" height="9.25" fill="#f6f6f6"/><rect x="21.60" y="113.50" width="4.05" height="9.25" fill="#cecece"/><rect x="26.85" y="113.50" width="4.05" height="9.25" fill="#545454"/><rect x="32.10" y="113.50" width="4.05" height="9.25" fill="#8a8a8a"/><rect x="37.35" y="113.50" width="4.05" height="9.25" fill="#808080"/><rect x="42.60" y="113.50" width="4.05" height="9.25" fill="#585858"/><rect x="47.85" y="113.50" width="4.05" height="9.25" fill="#9e9e9e"/><rect x="53.10" y="113.50" width="4.05" height="9.25" fill="#b0b0b0"/><rect x="58.35" y="113.50" width="4.05" height="9.25" fill="#f6f6f6"/><rect x="63.60" y="113.50" width="4.05" height="9.25" fill="#f6f6f6"/><rect x="68.85" y="113.50" width="4.05" height="9.25" fill="#f6f6f6"/><rect x="74.10" y="113.50" width="4.05" height="9.25" fill="#f6f6f6"/><rect x="79.35" y="113.50" width="4.05" height="9.25" fill="#f6f6f6"/><rect x="0.60" y="124.75" width="4.05" height="9.25" fill="#121212"/><rect x="5.85" y="124.75" width="4.05" height="9.25" fill="#eeeeee"/><rect x="11.10" y="124.75" width="4.05" height="9.25" fill="#bcbcbc"/><rect x="16.35" y="124.75" width="4.05" height="9.25" fill="#f6f6f6"/><rect x="21.60" y="124.75" width="4.05" height="9.25" fill="#f0f0f0"/><rect x="26.85" y="124.75" width="4.05" height="9.25" fill="#3a3a3a"/><rect x="32.10" y="124.75" width="4.05" height="9.25" fill="#080808"/><rect x="37.35" y="124.75" width="4.05" height="9.25" fill="#6a6a6a"/><rect x="42.60" y="124.75" width="4.05" height="9.25" fill="#4e4e4e"/><rect x="47.85" y="124.75" width="4.05" height="9.25" fill="#d4d4d4"/><rect x="53.10" y="124.75" width="4.05" height="9.25" fill="#f6f6f6"/><rect x="58.35" y="124.75" width="4.05" height="9.25" fill="#f6f6f6"/><rect x="63.60" y="124.75" width="4.05" height="9.25" fill="#f6f6f6"/><rect x="68.85" y="124.75" width="4.05" height="9.25" fill="#f6f6f6"/><rect x="74.10" y="124.75" width="4.05" height="9.25" fill="#f6f6f6"/><rect x="79.35" y="124.75" width="4.05" height="9.25" fill="#f6f6f6"/><rect x="0.60" y="136.00" width="4.05" height="9.25" fill="#1a1a1a"/><rect x="5.85" y="136.00" width="4.05" height="9.25" fill="#f6f6f6"/><rect x="11.10" y="136.00" width="4.05" height="9.25" fill="#c0c0c0"/><rect x="16.35" y="136.00" width="4.05" height="9.25" fill="#f6f6f6"/><rect x="21.60" y="136.00" width="4.05" height="9.25" fill="#bcbcbc"/><rect x="26.85" y="136.00" width="4.05" height="9.25" fill="#9a9a9a"/><rect x="32.10" y="136.00" width="4.05" height="9.25" fill="#4a4a4a"/><rect x="37.35" y="136.00" width="4.05" height="9.25" fill="#707070"/><rect x="42.60" y="136.00" width="4.05" height="9.25" fill="#a0a0a0"/><rect x="47.85" y="136.00" width="4.05" height="9.25" fill="#ececec"/><rect x="53.10" y="136.00" width="4.05" height="9.25" fill="#f6f6f6"/><rect x="58.35" y="136.00" width="4.05" height="9.25" fill="#f6f6f6"/><rect x="63.60" y="136.00" width="4.05" height="9.25" fill="#f6f6f6"/><rect x="68.85" y="136.00" width="4.05" height="9.25" fill="#f6f6f6"/><rect x="74.10" y="136.00" width="4.05" height="9.25" fill="#f6f6f6"/><rect x="79.35" y="136.00" width="4.05" height="9.25" fill="#f6f6f6"/><rect x="0.60" y="147.25" width="4.05" height="9.25" fill="#eeeeee"/><rect x="5.85" y="147.25" width="4.05" height="9.25" fill="#5a5a5a"/><rect x="16.35" y="147.25" width="4.05" height="9.25" fill="#f6f6f6"/><rect x="21.60" y="147.25" width="4.05" height="9.25" fill="#d6d6d6"/><rect x="26.85" y="147.25" width="4.05" height="9.25" fill="#6e6e6e"/><rect x="32.10" y="147.25" width="4.05" height="9.25" fill="#3e3e3e"/><rect x="37.35" y="147.25" width="4.05" height="9.25" fill="#6e6e6e"/><rect x="42.60" y="147.25" width="4.05" height="9.25" fill="#aaaaaa"/><rect x="47.85" y="147.25" width="4.05" height="9.25" fill="#f6f6f6"/><rect x="53.10" y="147.25" width="4.05" height="9.25" fill="#f6f6f6"/><rect x="58.35" y="147.25" width="4.05" height="9.25" fill="#f6f6f6"/><rect x="63.60" y="147.25" width="4.05" height="9.25" fill="#f6f6f6"/><rect x="68.85" y="147.25" width="4.05" height="9.25" fill="#f6f6f6"/><rect x="74.10" y="147.25" width="4.05" height="9.25" fill="#f6f6f6"/><rect x="79.35" y="147.25" width="4.05" height="9.25" fill="#f6f6f6"/><rect x="0.60" y="158.50" width="4.05" height="9.25" fill="#f6f6f6"/><rect x="5.85" y="158.50" width="4.05" height="9.25" fill="#f6f6f6"/><rect x="11.10" y="158.50" width="4.05" height="9.25" fill="#f6f6f6"/><rect x="16.35" y="158.50" width="4.05" height="9.25" fill="#f6f6f6"/><rect x="21.60" y="158.50" width="4.05" height="9.25" fill="#262626"/><rect x="26.85" y="158.50" width="4.05" height="9.25" fill="#848484"/><rect x="32.10" y="158.50" width="4.05" height="9.25" fill="#1a1a1a"/><rect x="37.35" y="158.50" width="4.05" height="9.25" fill="#040404"/><rect x="42.60" y="158.50" width="4.05" height="9.25" fill="#909090"/><rect x="47.85" y="158.50" width="4.05" height="9.25" fill="#f6f6f6"/><rect x="53.10" y="158.50" width="4.05" height="9.25" fill="#f6f6f6"/><rect x="58.35" y="158.50" width="4.05" height="9.25" fill="#f6f6f6"/><rect x="63.60" y="158.50" width="4.05" height="9.25" fill="#f6f6f6"/><rect x="68.85" y="158.50" width="4.05" height="9.25" fill="#f6f6f6"/><rect x="74.10" y="158.50" width="4.05" height="9.25" fill="#f6f6f6"/><rect x="79.35" y="158.50" width="4.05" height="9.25" fill="#f6f6f6"/><rect x="0.60" y="169.75" width="4.05" height="9.25" fill="#f6f6f6"/><rect x="5.85" y="169.75" width="4.05" height="9.25" fill="#f6f6f6"/><rect x="11.10" y="169.75" width="4.05" height="9.25" fill="#f6f6f6"/><rect x="16.35" y="169.75" width="4.05" height="9.25" fill="#eaeaea"/><rect x="21.60" y="169.75" width="4.05" height="9.25" fill="#060606"/><rect x="26.85" y="169.75" width="4.05" height="9.25" fill="#707070"/><rect x="32.10" y="169.75" width="4.05" height="9.25" fill="#707070"/><rect x="37.35" y="169.75" width="4.05" height="9.25" fill="#7e7e7e"/><rect x="42.60" y="169.75" width="4.05" height="9.25" fill="#c0c0c0"/><rect x="47.85" y="169.75" width="4.05" height="9.25" fill="#f6f6f6"/><rect x="53.10" y="169.75" width="4.05" height="9.25" fill="#f6f6f6"/><rect x="58.35" y="169.75" width="4.05" height="9.25" fill="#f6f6f6"/><rect x="63.60" y="169.75" width="4.05" height="9.25" fill="#f6f6f6"/><rect x="68.85" y="169.75" width="4.05" height="9.25" fill="#f6f6f6"/><rect x="74.10" y="169.75" width="4.05" height="9.25" fill="#f6f6f6"/><rect x="79.35" y="169.75" width="4.05" height="9.25" fill="#f6f6f6"/>
<rect x="0.0" y="0.0" width="84.0" height="180.0" rx="0" fill="none" stroke="#383838" stroke-width="1.6" />
</g>
<polygon points="1433.3,267.5 1526.7,209.5 1526.7,410.3 1433.3,468.3" fill="#fff" stroke="#c0c0c0" stroke-width="1" />
<g transform="matrix(1,-0.6210,0,1,1437.80,275.00)">
<rect x="0.60" y="1.00" width="4.05" height="9.25" fill="#f3f3f3"/><rect x="5.85" y="1.00" width="4.05" height="9.25" fill="#f3f3f3"/><rect x="11.10" y="1.00" width="4.05" height="9.25" fill="#f3f3f3"/><rect x="16.35" y="1.00" width="4.05" height="9.25" fill="#f3f3f3"/><rect x="21.60" y="1.00" width="4.05" height="9.25" fill="#f3f3f3"/><rect x="26.85" y="1.00" width="4.05" height="9.25" fill="#f3f3f3"/><rect x="32.10" y="1.00" width="4.05" height="9.25" fill="#f3f3f3"/><rect x="37.35" y="1.00" width="4.05" height="9.25" fill="#f3f3f3"/><rect x="42.60" y="1.00" width="4.05" height="9.25" fill="#f3f3f3"/><rect x="47.85" y="1.00" width="4.05" height="9.25" fill="#f3f3f3"/><rect x="53.10" y="1.00" width="4.05" height="9.25" fill="#f3f3f3"/><rect x="58.35" y="1.00" width="4.05" height="9.25" fill="#f3f3f3"/><rect x="63.60" y="1.00" width="4.05" height="9.25" fill="#f3f3f3"/><rect x="68.85" y="1.00" width="4.05" height="9.25" fill="#f3f3f3"/><rect x="74.10" y="1.00" width="4.05" height="9.25" fill="#f3f3f3"/><rect x="79.35" y="1.00" width="4.05" height="9.25" fill="#f3f3f3"/><rect x="0.60" y="12.25" width="4.05" height="9.25" fill="#f5f5f5"/><rect x="5.85" y="12.25" width="4.05" height="9.25" fill="#f5f5f5"/><rect x="11.10" y="12.25" width="4.05" height="9.25" fill="#f7f7f7"/><rect x="16.35" y="12.25" width="4.05" height="9.25" fill="#f8f8f8"/><rect x="21.60" y="12.25" width="4.05" height="9.25" fill="#f8f8f8"/><rect x="26.85" y="12.25" width="4.05" height="9.25" fill="#f8f8f8"/><rect x="32.10" y="12.25" width="4.05" height="9.25" fill="#dcdcdc"/><rect x="37.35" y="12.25" width="4.05" height="9.25" fill="#f3f3f3"/><rect x="42.60" y="12.25" width="4.05" height="9.25" fill="#f8f8f8"/><rect x="47.85" y="12.25" width="4.05" height="9.25" fill="#f8f8f8"/><rect x="53.10" y="12.25" width="4.05" height="9.25" fill="#fbfbfb"/><rect x="58.35" y="12.25" width="4.05" height="9.25" fill="#fbfbfb"/><rect x="63.60" y="12.25" width="4.05" height="9.25" fill="#fbfbfb"/><rect x="68.85" y="12.25" width="4.05" height="9.25" fill="#fbfbfb"/><rect x="74.10" y="12.25" width="4.05" height="9.25" fill="#fbfbfb"/><rect x="79.35" y="12.25" width="4.05" height="9.25" fill="#fbfbfb"/><rect x="0.60" y="23.50" width="4.05" height="9.25" fill="#fbfbfb"/><rect x="5.85" y="23.50" width="4.05" height="9.25" fill="#fbfbfb"/><rect x="11.10" y="23.50" width="4.05" height="9.25" fill="#fbfbfb"/><rect x="16.35" y="23.50" width="4.05" height="9.25" fill="#e3e3e3"/><rect x="21.60" y="23.50" width="4.05" height="9.25" fill="#fbfbfb"/><rect x="26.85" y="23.50" width="4.05" height="9.25" fill="#fbfbfb"/><rect x="32.10" y="23.50" width="4.05" height="9.25" fill="#d8d8d8"/><rect x="37.35" y="23.50" width="4.05" height="9.25" fill="#dedede"/><rect x="42.60" y="23.50" width="4.05" height="9.25" fill="#fbfbfb"/><rect x="47.85" y="23.50" width="4.05" height="9.25" fill="#fbfbfb"/><rect x="53.10" y="23.50" width="4.05" height="9.25" fill="#c0c0c0"/><rect x="58.35" y="23.50" width="4.05" height="9.25" fill="#fbfbfb"/><rect x="63.60" y="23.50" width="4.05" height="9.25" fill="#fbfbfb"/><rect x="68.85" y="23.50" width="4.05" height="9.25" fill="#fbfbfb"/><rect x="74.10" y="23.50" width="4.05" height="9.25" fill="#fbfbfb"/><rect x="79.35" y="23.50" width="4.05" height="9.25" fill="#fbfbfb"/><rect x="0.60" y="34.75" width="4.05" height="9.25" fill="#fbfbfb"/><rect x="5.85" y="34.75" width="4.05" height="9.25" fill="#fbfbfb"/><rect x="11.10" y="34.75" width="4.05" height="9.25" fill="#fbfbfb"/><rect x="16.35" y="34.75" width="4.05" height="9.25" fill="#eeeeee"/><rect x="21.60" y="34.75" width="4.05" height="9.25" fill="#d8d8d8"/><rect x="26.85" y="34.75" width="4.05" height="9.25" fill="#fbfbfb"/><rect x="32.10" y="34.75" width="4.05" height="9.25" fill="#dadada"/><rect x="37.35" y="34.75" width="4.05" height="9.25" fill="#c0c0c0"/><rect x="42.60" y="34.75" width="4.05" height="9.25" fill="#fbfbfb"/><rect x="47.85" y="34.75" width="4.05" height="9.25" fill="#f3f3f3"/><rect x="53.10" y="34.75" width="4.05" height="9.25" fill="#bbbbbb"/><rect x="58.35" y="34.75" width="4.05" height="9.25" fill="#fbfbfb"/><rect x="63.60" y="34.75" width="4.05" height="9.25" fill="#fbfbfb"/><rect x="68.85" y="34.75" width="4.05" height="9.25" fill="#fbfbfb"/><rect x="74.10" y="34.75" width="4.05" height="9.25" fill="#fbfbfb"/><rect x="79.35" y="34.75" width="4.05" height="9.25" fill="#fbfbfb"/><rect x="0.60" y="46.00" width="4.05" height="9.25" fill="#fbfbfb"/><rect x="5.85" y="46.00" width="4.05" height="9.25" fill="#fbfbfb"/><rect x="11.10" y="46.00" width="4.05" height="9.25" fill="#fbfbfb"/><rect x="16.35" y="46.00" width="4.05" height="9.25" fill="#f7f7f7"/><rect x="21.60" y="46.00" width="4.05" height="9.25" fill="#9e9e9e"/><rect x="26.85" y="46.00" width="4.05" height="9.25" fill="#fbfbfb"/><rect x="32.10" y="46.00" width="4.05" height="9.25" fill="#d0d0d0"/><rect x="37.35" y="46.00" width="4.05" height="9.25" fill="#a3a3a3"/><rect x="42.60" y="46.00" width="4.05" height="9.25" fill="#fbfbfb"/><rect x="47.85" y="46.00" width="4.05" height="9.25" fill="#aaaaaa"/><rect x="53.10" y="46.00" width="4.05" height="9.25" fill="#dcdcdc"/><rect x="58.35" y="46.00" width="4.05" height="9.25" fill="#fbfbfb"/><rect x="63.60" y="46.00" width="4.05" height="9.25" fill="#fbfbfb"/><rect x="68.85" y="46.00" width="4.05" height="9.25" fill="#fbfbfb"/><rect x="74.10" y="46.00" width="4.05" height="9.25" fill="#fbfbfb"/><rect x="79.35" y="46.00" width="4.05" height="9.25" fill="#fbfbfb"/><rect x="0.60" y="57.25" width="4.05" height="9.25" fill="#dcdcdc"/><rect x="5.85" y="57.25" width="4.05" height="9.25" fill="#f0f0f0"/><rect x="11.10" y="57.25" width="4.05" height="9.25" fill="#fbfbfb"/><rect x="16.35" y="57.25" width="4.05" height="9.25" fill="#fbfbfb"/><rect x="21.60" y="57.25" width="4.05" height="9.25" fill="#828282"/><rect x="26.85" y="57.25" width="4.05" height="9.25" fill="#f3f3f3"/><rect x="32.10" y="57.25" width="4.05" height="9.25" fill="#c4c4c4"/><rect x="37.35" y="57.25" width="4.05" height="9.25" fill="#b0b0b0"/><rect x="42.60" y="57.25" width="4.05" height="9.25" fill="#f5f5f5"/><rect x="47.85" y="57.25" width="4.05" height="9.25" fill="#707070"/><rect x="53.10" y="57.25" width="4.05" height="9.25" fill="#fbfbfb"/><rect x="58.35" y="57.25" width="4.05" height="9.25" fill="#fbfbfb"/><rect x="63.60" y="57.25" width="4.05" height="9.25" fill="#fbfbfb"/><rect x="68.85" y="57.25" width="4.05" height="9.25" fill="#fbfbfb"/><rect x="74.10" y="57.25" width="4.05" height="9.25" fill="#fbfbfb"/><rect x="79.35" y="57.25" width="4.05" height="9.25" fill="#fbfbfb"/><rect x="0.60" y="68.50" width="4.05" height="9.25" fill="#fbfbfb"/><rect x="5.85" y="68.50" width="4.05" height="9.25" fill="#b0b0b0"/><rect x="11.10" y="68.50" width="4.05" height="9.25" fill="#e8e8e8"/><rect x="16.35" y="68.50" width="4.05" height="9.25" fill="#fbfbfb"/><rect x="21.60" y="68.50" width="4.05" height="9.25" fill="#c0c0c0"/><rect x="26.85" y="68.50" width="4.05" height="9.25" fill="#c4c4c4"/><rect x="32.10" y="68.50" width="4.05" height="9.25" fill="#909090"/><rect x="37.35" y="68.50" width="4.05" height="9.25" fill="#9a9a9a"/><rect x="42.60" y="68.50" width="4.05" height="9.25" fill="#8c8c8c"/><rect x="47.85" y="68.50" width="4.05" height="9.25" fill="#909090"/><rect x="53.10" y="68.50" width="4.05" height="9.25" fill="#fbfbfb"/><rect x="58.35" y="68.50" width="4.05" height="9.25" fill="#fbfbfb"/><rect x="63.60" y="68.50" width="4.05" height="9.25" fill="#fbfbfb"/><rect x="68.85" y="68.50" width="4.05" height="9.25" fill="#fbfbfb"/><rect x="74.10" y="68.50" width="4.05" height="9.25" fill="#fbfbfb"/><rect x="79.35" y="68.50" width="4.05" height="9.25" fill="#fbfbfb"/><rect x="0.60" y="79.75" width="4.05" height="9.25" fill="#fbfbfb"/><rect x="5.85" y="79.75" width="4.05" height="9.25" fill="#fbfbfb"/><rect x="11.10" y="79.75" width="4.05" height="9.25" fill="#b5b5b5"/><rect x="16.35" y="79.75" width="4.05" height="9.25" fill="#c8c8c8"/><rect x="21.60" y="79.75" width="4.05" height="9.25" fill="#c4c4c4"/><rect x="26.85" y="79.75" width="4.05" height="9.25" fill="#7a7a7a"/><rect x="32.10" y="79.75" width="4.05" height="9.25" fill="#6a6a6a"/><rect x="37.35" y="79.75" width="4.05" height="9.25" fill="#858585"/><rect x="42.60" y="79.75" width="4.05" height="9.25" fill="#4a4a4a"/><rect x="47.85" y="79.75" width="4.05" height="9.25" fill="#b5b5b5"/><rect x="53.10" y="79.75" width="4.05" height="9.25" fill="#fbfbfb"/><rect x="58.35" y="79.75" width="4.05" height="9.25" fill="#fbfbfb"/><rect x="63.60" y="79.75" width="4.05" height="9.25" fill="#f3f3f3"/><rect x="68.85" y="79.75" width="4.05" height="9.25" fill="#909090"/><rect x="74.10" y="79.75" width="4.05" height="9.25" fill="#fbfbfb"/><rect x="79.35" y="79.75" width="4.05" height="9.25" fill="#fbfbfb"/><rect x="0.60" y="91.00" width="4.05" height="9.25" fill="#fbfbfb"/><rect x="5.85" y="91.00" width="4.05" height="9.25" fill="#fbfbfb"/><rect x="11.10" y="91.00" width="4.05" height="9.25" fill="#fbfbfb"/><rect x="16.35" y="91.00" width="4.05" height="9.25" fill="#a0a0a0"/><rect x="21.60" y="91.00" width="4.05" height="9.25" fill="#888888"/><rect x="26.85" y="91.00" width="4.05" height="9.25" fill="#606060"/><rect x="32.10" y="91.00" width="4.05" height="9.25" fill="#858585"/><rect x="37.35" y="91.00" width="4.05" height="9.25" fill="#7a7a7a"/><rect x="42.60" y="91.00" width="4.05" height="9.25" fill="#222222"/><rect x="47.85" y="91.00" width="4.05" height="9.25" fill="#8c8c8c"/><rect x="53.10" y="91.00" width="4.05" height="9.25" fill="#c4c4c4"/><rect x="58.35" y="91.00" width="4.05" height="9.25" fill="#d4d4d4"/><rect x="63.60" y="91.00" width="4.05" height="9.25" fill="#909090"/><rect x="68.85" y="91.00" width="4.05" height="9.25" fill="#c0c0c0"/><rect x="74.10" y="91.00" width="4.05" height="9.25" fill="#fbfbfb"/><rect x="79.35" y="91.00" width="4.05" height="9.25" fill="#fbfbfb"/><rect x="0.60" y="102.25" width="4.05" height="9.25" fill="#fbfbfb"/><rect x="5.85" y="102.25" width="4.05" height="9.25" fill="#fbfbfb"/><rect x="11.10" y="102.25" width="4.05" height="9.25" fill="#fbfbfb"/><rect x="16.35" y="102.25" width="4.05" height="9.25" fill="#eaeaea"/><rect x="21.60" y="102.25" width="4.05" height="9.25" fill="#5e5e5e"/><rect x="26.85" y="102.25" width="4.05" height="9.25" fill="#707070"/><rect x="32.10" y="102.25" width="4.05" height="9.25" fill="#7e7e7e"/><rect x="37.35" y="102.25" width="4.05" height="9.25" fill="#484848"/><rect x="42.60" y="102.25" width="4.05" height="9.25" fill="#1e1e1e"/><rect x="47.85" y="102.25" width="4.05" height="9.25" fill="#787878"/><rect x="53.10" y="102.25" width="4.05" height="9.25" fill="#727272"/><rect x="58.35" y="102.25" width="4.05" height="9.25" fill="#6c6c6c"/><rect x="63.60" y="102.25" width="4.05" height="9.25" fill="#f5f5f5"/><rect x="68.85" y="102.25" width="4.05" height="9.25" fill="#fbfbfb"/><rect x="74.10" y="102.25" width="4.05" height="9.25" fill="#fbfbfb"/><rect x="79.35" y="102.25" width="4.05" height="9.25" fill="#fbfbfb"/><rect x="0.60" y="113.50" width="4.05" height="9.25" fill="#eaeaea"/><rect x="5.85" y="113.50" width="4.05" height="9.25" fill="#e4e4e4"/><rect x="11.10" y="113.50" width="4.05" height="9.25" fill="#e0e0e0"/><rect x="16.35" y="113.50" width="4.05" height="9.25" fill="#fbfbfb"/><rect x="21.60" y="113.50" width="4.05" height="9.25" fill="#8e8e8e"/><rect x="26.85" y="113.50" width="4.05" height="9.25" fill="#4c4c4c"/><rect x="32.10" y="113.50" width="4.05" height="9.25" fill="#2e2e2e"/><rect x="37.35" y="113.50" width="4.05" height="9.25" fill="#1e1e1e"/><rect x="42.60" y="113.50" width="4.05" height="9.25" fill="#222222"/><rect x="47.85" y="113.50" width="4.05" height="9.25" fill="#4c4c4c"/><rect x="53.10" y="113.50" width="4.05" height="9.25" fill="#6a6a6a"/><rect x="58.35" y="113.50" width="4.05" height="9.25" fill="#fbfbfb"/><rect x="63.60" y="113.50" width="4.05" height="9.25" fill="#fbfbfb"/><rect x="68.85" y="113.50" width="4.05" height="9.25" fill="#fbfbfb"/><rect x="74.10" y="113.50" width="4.05" height="9.25" fill="#fbfbfb"/><rect x="79.35" y="113.50" width="4.05" height="9.25" fill="#fbfbfb"/><rect x="0.60" y="124.75" width="4.05" height="9.25" fill="#161616"/><rect x="5.85" y="124.75" width="4.05" height="9.25" fill="#f0f0f0"/><rect x="11.10" y="124.75" width="4.05" height="9.25" fill="#e0e0e0"/><rect x="16.35" y="124.75" width="4.05" height="9.25" fill="#fbfbfb"/><rect x="21.60" y="124.75" width="4.05" height="9.25" fill="#cecece"/><rect x="26.85" y="124.75" width="4.05" height="9.25" fill="#505050"/><rect x="32.10" y="124.75" width="4.05" height="9.25" fill="#0e0e0e"/><rect x="37.35" y="124.75" width="4.05" height="9.25" fill="#020202"/><rect x="42.60" y="124.75" width="4.05" height="9.25" fill="#1c1c1c"/><rect x="47.85" y="124.75" width="4.05" height="9.25" fill="#969696"/><rect x="53.10" y="124.75" width="4.05" height="9.25" fill="#fbfbfb"/><rect x="58.35" y="124.75" width="4.05" height="9.25" fill="#fbfbfb"/><rect x="63.60" y="124.75" width="4.05" height="9.25" fill="#fbfbfb"/><rect x="68.85" y="124.75" width="4.05" height="9.25" fill="#fbfbfb"/><rect x="74.10" y="124.75" width="4.05" height="9.25" fill="#fbfbfb"/><rect x="79.35" y="124.75" width="4.05" height="9.25" fill="#fbfbfb"/><rect x="0.60" y="136.00" width="4.05" height="9.25" fill="#1c1c1c"/><rect x="5.85" y="136.00" width="4.05" height="9.25" fill="#e0e0e0"/><rect x="11.10" y="136.00" width="4.05" height="9.25" fill="#e8e8e8"/><rect x="16.35" y="136.00" width="4.05" height="9.25" fill="#fbfbfb"/><rect x="21.60" y="136.00" width="4.05" height="9.25" fill="#e0e0e0"/><rect x="26.85" y="136.00" width="4.05" height="9.25" fill="#4a4a4a"/><rect x="32.10" y="136.00" width="4.05" height="9.25" fill="#161616"/><rect x="37.35" y="136.00" width="4.05" height="9.25" fill="#0e0e0e"/><rect x="42.60" y="136.00" width="4.05" height="9.25" fill="#585858"/><rect x="47.85" y="136.00" width="4.05" height="9.25" fill="#f0f0f0"/><rect x="53.10" y="136.00" width="4.05" height="9.25" fill="#fbfbfb"/><rect x="58.35" y="136.00" width="4.05" height="9.25" fill="#fbfbfb"/><rect x="63.60" y="136.00" width="4.05" height="9.25" fill="#fbfbfb"/><rect x="68.85" y="136.00" width="4.05" height="9.25" fill="#fbfbfb"/><rect x="74.10" y="136.00" width="4.05" height="9.25" fill="#fbfbfb"/><rect x="79.35" y="136.00" width="4.05" height="9.25" fill="#fbfbfb"/><rect x="0.60" y="147.25" width="4.05" height="9.25" fill="#c4c4c4"/><rect x="5.85" y="147.25" width="4.05" height="9.25" fill="#6a6a6a"/><rect x="11.10" y="147.25" width="4.05" height="9.25" fill="#e8e8e8"/><rect x="16.35" y="147.25" width="4.05" height="9.25" fill="#f8f8f8"/><rect x="21.60" y="147.25" width="4.05" height="9.25" fill="#969696"/><rect x="26.85" y="147.25" width="4.05" height="9.25" fill="#060606"/><rect x="32.10" y="147.25" width="4.05" height="9.25" fill="#0e0e0e"/><rect x="37.35" y="147.25" width="4.05" height="9.25" fill="#040404"/><rect x="42.60" y="147.25" width="4.05" height="9.25" fill="#646464"/><rect x="47.85" y="147.25" width="4.05" height="9.25" fill="#fbfbfb"/><rect x="53.10" y="147.25" width="4.05" height="9.25" fill="#fbfbfb"/><rect x="58.35" y="147.25" width="4.05" height="9.25" fill="#fbfbfb"/><rect x="63.60" y="147.25" width="4.05" height="9.25" fill="#fbfbfb"/><rect x="68.85" y="147.25" width="4.05" height="9.25" fill="#fbfbfb"/><rect x="74.10" y="147.25" width="4.05" height="9.25" fill="#fbfbfb"/><rect x="79.35" y="147.25" width="4.05" height="9.25" fill="#fbfbfb"/><rect x="0.60" y="158.50" width="4.05" height="9.25" fill="#fbfbfb"/><rect x="5.85" y="158.50" width="4.05" height="9.25" fill="#fbfbfb"/><rect x="11.10" y="158.50" width="4.05" height="9.25" fill="#fbfbfb"/><rect x="16.35" y="158.50" width="4.05" height="9.25" fill="#fbfbfb"/><rect x="21.60" y="158.50" width="4.05" height="9.25" fill="#303030"/><rect x="26.85" y="158.50" width="4.05" height="9.25" fill="#222222"/><rect x="32.10" y="158.50" width="4.05" height="9.25" fill="#0e0e0e"/><rect x="37.35" y="158.50" width="4.05" height="9.25" fill="#040404"/><rect x="42.60" y="158.50" width="4.05" height="9.25" fill="#b4b4b4"/><rect x="47.85" y="158.50" width="4.05" height="9.25" fill="#fbfbfb"/><rect x="53.10" y="158.50" width="4.05" height="9.25" fill="#fbfbfb"/><rect x="58.35" y="158.50" width="4.05" height="9.25" fill="#fbfbfb"/><rect x="63.60" y="158.50" width="4.05" height="9.25" fill="#fbfbfb"/><rect x="68.85" y="158.50" width="4.05" height="9.25" fill="#fbfbfb"/><rect x="74.10" y="158.50" width="4.05" height="9.25" fill="#fbfbfb"/><rect x="79.35" y="158.50" width="4.05" height="9.25" fill="#fbfbfb"/><rect x="0.60" y="169.75" width="4.05" height="9.25" fill="#fbfbfb"/><rect x="5.85" y="169.75" width="4.05" height="9.25" fill="#fbfbfb"/><rect x="11.10" y="169.75" width="4.05" height="9.25" fill="#fbfbfb"/><rect x="16.35" y="169.75" width="4.05" height="9.25" fill="#eeeeee"/><rect x="21.60" y="169.75" width="4.05" height="9.25" fill="#040404"/><rect x="26.85" y="169.75" width="4.05" height="9.25" fill="#0a0a0a"/><rect x="32.10" y="169.75" width="4.05" height="9.25" fill="#050505"/><rect x="37.35" y="169.75" width="4.05" height="9.25" fill="#121212"/><rect x="42.60" y="169.75" width="4.05" height="9.25" fill="#e0e0e0"/><rect x="47.85" y="169.75" width="4.05" height="9.25" fill="#fbfbfb"/><rect x="53.10" y="169.75" width="4.05" height="9.25" fill="#fbfbfb"/><rect x="58.35" y="169.75" width="4.05" height="9.25" fill="#fbfbfb"/><rect x="63.60" y="169.75" width="4.05" height="9.25" fill="#fbfbfb"/><rect x="68.85" y="169.75" width="4.05" height="9.25" fill="#fbfbfb"/><rect x="74.10" y="169.75" width="4.05" height="9.25" fill="#fbfbfb"/><rect x="79.35" y="169.75" width="4.05" height="9.25" fill="#fbfbfb"/>
<rect x="0.0" y="0.0" width="84.0" height="180.0" rx="0" fill="none" stroke="#383838" stroke-width="1.6" />
<rect x="37.2" y="33.8" width="7.9" height="138.4" rx="2" fill="none" stroke="#8ab8f8" stroke-width="2" />
</g>
<polygon points="1555.3,267.5 1648.7,209.5 1648.7,410.3 1555.3,468.3" fill="#fff" stroke="#c0c0c0" stroke-width="1" />
<g transform="matrix(1,-0.6210,0,1,1559.80,275.00)">
<rect x="0.60" y="1.00" width="4.05" height="9.25" fill="#f3f3f3"/><rect x="5.85" y="1.00" width="4.05" height="9.25" fill="#f3f3f3"/><rect x="11.10" y="1.00" width="4.05" height="9.25" fill="#f3f3f3"/><rect x="16.35" y="1.00" width="4.05" height="9.25" fill="#f3f3f3"/><rect x="21.60" y="1.00" width="4.05" height="9.25" fill="#f3f3f3"/><rect x="26.85" y="1.00" width="4.05" height="9.25" fill="#f3f3f3"/><rect x="32.10" y="1.00" width="4.05" height="9.25" fill="#f3f3f3"/><rect x="37.35" y="1.00" width="4.05" height="9.25" fill="#f3f3f3"/><rect x="42.60" y="1.00" width="4.05" height="9.25" fill="#f3f3f3"/><rect x="47.85" y="1.00" width="4.05" height="9.25" fill="#f3f3f3"/><rect x="53.10" y="1.00" width="4.05" height="9.25" fill="#f3f3f3"/><rect x="58.35" y="1.00" width="4.05" height="9.25" fill="#f3f3f3"/><rect x="63.60" y="1.00" width="4.05" height="9.25" fill="#f3f3f3"/><rect x="68.85" y="1.00" width="4.05" height="9.25" fill="#f3f3f3"/><rect x="74.10" y="1.00" width="4.05" height="9.25" fill="#f3f3f3"/><rect x="79.35" y="1.00" width="4.05" height="9.25" fill="#f3f3f3"/><rect x="0.60" y="12.25" width="4.05" height="9.25" fill="#f5f5f5"/><rect x="5.85" y="12.25" width="4.05" height="9.25" fill="#f5f5f5"/><rect x="11.10" y="12.25" width="4.05" height="9.25" fill="#f7f7f7"/><rect x="16.35" y="12.25" width="4.05" height="9.25" fill="#f8f8f8"/><rect x="21.60" y="12.25" width="4.05" height="9.25" fill="#f8f8f8"/><rect x="26.85" y="12.25" width="4.05" height="9.25" fill="#f8f8f8"/><rect x="32.10" y="12.25" width="4.05" height="9.25" fill="#dcdcdc"/><rect x="37.35" y="12.25" width="4.05" height="9.25" fill="#f3f3f3"/><rect x="42.60" y="12.25" width="4.05" height="9.25" fill="#f8f8f8"/><rect x="47.85" y="12.25" width="4.05" height="9.25" fill="#f8f8f8"/><rect x="53.10" y="12.25" width="4.05" height="9.25" fill="#fbfbfb"/><rect x="58.35" y="12.25" width="4.05" height="9.25" fill="#fbfbfb"/><rect x="63.60" y="12.25" width="4.05" height="9.25" fill="#fbfbfb"/><rect x="68.85" y="12.25" width="4.05" height="9.25" fill="#fbfbfb"/><rect x="74.10" y="12.25" width="4.05" height="9.25" fill="#fbfbfb"/><rect x="79.35" y="12.25" width="4.05" height="9.25" fill="#fbfbfb"/><rect x="0.60" y="23.50" width="4.05" height="9.25" fill="#fbfbfb"/><rect x="5.85" y="23.50" width="4.05" height="9.25" fill="#fbfbfb"/><rect x="11.10" y="23.50" width="4.05" height="9.25" fill="#fbfbfb"/><rect x="16.35" y="23.50" width="4.05" height="9.25" fill="#e3e3e3"/><rect x="21.60" y="23.50" width="4.05" height="9.25" fill="#fbfbfb"/><rect x="26.85" y="23.50" width="4.05" height="9.25" fill="#fbfbfb"/><rect x="32.10" y="23.50" width="4.05" height="9.25" fill="#d8d8d8"/><rect x="37.35" y="23.50" width="4.05" height="9.25" fill="#dedede"/><rect x="42.60" y="23.50" width="4.05" height="9.25" fill="#fbfbfb"/><rect x="47.85" y="23.50" width="4.05" height="9.25" fill="#fbfbfb"/><rect x="53.10" y="23.50" width="4.05" height="9.25" fill="#c0c0c0"/><rect x="58.35" y="23.50" width="4.05" height="9.25" fill="#fbfbfb"/><rect x="63.60" y="23.50" width="4.05" height="9.25" fill="#fbfbfb"/><rect x="68.85" y="23.50" width="4.05" height="9.25" fill="#fbfbfb"/><rect x="74.10" y="23.50" width="4.05" height="9.25" fill="#fbfbfb"/><rect x="79.35" y="23.50" width="4.05" height="9.25" fill="#fbfbfb"/><rect x="0.60" y="34.75" width="4.05" height="9.25" fill="#fbfbfb"/><rect x="5.85" y="34.75" width="4.05" height="9.25" fill="#fbfbfb"/><rect x="11.10" y="34.75" width="4.05" height="9.25" fill="#fbfbfb"/><rect x="16.35" y="34.75" width="4.05" height="9.25" fill="#eeeeee"/><rect x="21.60" y="34.75" width="4.05" height="9.25" fill="#d8d8d8"/><rect x="26.85" y="34.75" width="4.05" height="9.25" fill="#fbfbfb"/><rect x="32.10" y="34.75" width="4.05" height="9.25" fill="#dadada"/><rect x="37.35" y="34.75" width="4.05" height="9.25" fill="#c0c0c0"/><rect x="42.60" y="34.75" width="4.05" height="9.25" fill="#fbfbfb"/><rect x="47.85" y="34.75" width="4.05" height="9.25" fill="#f3f3f3"/><rect x="53.10" y="34.75" width="4.05" height="9.25" fill="#bbbbbb"/><rect x="58.35" y="34.75" width="4.05" height="9.25" fill="#fbfbfb"/><rect x="63.60" y="34.75" width="4.05" height="9.25" fill="#fbfbfb"/><rect x="68.85" y="34.75" width="4.05" height="9.25" fill="#fbfbfb"/><rect x="74.10" y="34.75" width="4.05" height="9.25" fill="#fbfbfb"/><rect x="79.35" y="34.75" width="4.05" height="9.25" fill="#fbfbfb"/><rect x="0.60" y="46.00" width="4.05" height="9.25" fill="#fbfbfb"/><rect x="5.85" y="46.00" width="4.05" height="9.25" fill="#fbfbfb"/><rect x="11.10" y="46.00" width="4.05" height="9.25" fill="#fbfbfb"/><rect x="16.35" y="46.00" width="4.05" height="9.25" fill="#f7f7f7"/><rect x="21.60" y="46.00" width="4.05" height="9.25" fill="#9e9e9e"/><rect x="26.85" y="46.00" width="4.05" height="9.25" fill="#fbfbfb"/><rect x="32.10" y="46.00" width="4.05" height="9.25" fill="#d0d0d0"/><rect x="37.35" y="46.00" width="4.05" height="9.25" fill="#a3a3a3"/><rect x="42.60" y="46.00" width="4.05" height="9.25" fill="#fbfbfb"/><rect x="47.85" y="46.00" width="4.05" height="9.25" fill="#aaaaaa"/><rect x="53.10" y="46.00" width="4.05" height="9.25" fill="#dcdcdc"/><rect x="58.35" y="46.00" width="4.05" height="9.25" fill="#fbfbfb"/><rect x="63.60" y="46.00" width="4.05" height="9.25" fill="#fbfbfb"/><rect x="68.85" y="46.00" width="4.05" height="9.25" fill="#fbfbfb"/><rect x="74.10" y="46.00" width="4.05" height="9.25" fill="#fbfbfb"/><rect x="79.35" y="46.00" width="4.05" height="9.25" fill="#fbfbfb"/><rect x="0.60" y="57.25" width="4.05" height="9.25" fill="#dcdcdc"/><rect x="5.85" y="57.25" width="4.05" height="9.25" fill="#f0f0f0"/><rect x="11.10" y="57.25" width="4.05" height="9.25" fill="#fbfbfb"/><rect x="16.35" y="57.25" width="4.05" height="9.25" fill="#fbfbfb"/><rect x="21.60" y="57.25" width="4.05" height="9.25" fill="#828282"/><rect x="26.85" y="57.25" width="4.05" height="9.25" fill="#f3f3f3"/><rect x="32.10" y="57.25" width="4.05" height="9.25" fill="#c4c4c4"/><rect x="37.35" y="57.25" width="4.05" height="9.25" fill="#b0b0b0"/><rect x="42.60" y="57.25" width="4.05" height="9.25" fill="#f5f5f5"/><rect x="47.85" y="57.25" width="4.05" height="9.25" fill="#707070"/><rect x="53.10" y="57.25" width="4.05" height="9.25" fill="#fbfbfb"/><rect x="58.35" y="57.25" width="4.05" height="9.25" fill="#fbfbfb"/><rect x="63.60" y="57.25" width="4.05" height="9.25" fill="#fbfbfb"/><rect x="68.85" y="57.25" width="4.05" height="9.25" fill="#fbfbfb"/><rect x="74.10" y="57.25" width="4.05" height="9.25" fill="#fbfbfb"/><rect x="79.35" y="57.25" width="4.05" height="9.25" fill="#fbfbfb"/><rect x="0.60" y="68.50" width="4.05" height="9.25" fill="#fbfbfb"/><rect x="5.85" y="68.50" width="4.05" height="9.25" fill="#b0b0b0"/><rect x="11.10" y="68.50" width="4.05" height="9.25" fill="#e8e8e8"/><rect x="16.35" y="68.50" width="4.05" height="9.25" fill="#fbfbfb"/><rect x="21.60" y="68.50" width="4.05" height="9.25" fill="#c0c0c0"/><rect x="26.85" y="68.50" width="4.05" height="9.25" fill="#c4c4c4"/><rect x="32.10" y="68.50" width="4.05" height="9.25" fill="#909090"/><rect x="37.35" y="68.50" width="4.05" height="9.25" fill="#9a9a9a"/><rect x="42.60" y="68.50" width="4.05" height="9.25" fill="#8c8c8c"/><rect x="47.85" y="68.50" width="4.05" height="9.25" fill="#909090"/><rect x="53.10" y="68.50" width="4.05" height="9.25" fill="#fbfbfb"/><rect x="58.35" y="68.50" width="4.05" height="9.25" fill="#fbfbfb"/><rect x="63.60" y="68.50" width="4.05" height="9.25" fill="#fbfbfb"/><rect x="68.85" y="68.50" width="4.05" height="9.25" fill="#fbfbfb"/><rect x="74.10" y="68.50" width="4.05" height="9.25" fill="#fbfbfb"/><rect x="79.35" y="68.50" width="4.05" height="9.25" fill="#fbfbfb"/><rect x="0.60" y="79.75" width="4.05" height="9.25" fill="#fbfbfb"/><rect x="5.85" y="79.75" width="4.05" height="9.25" fill="#fbfbfb"/><rect x="11.10" y="79.75" width="4.05" height="9.25" fill="#b5b5b5"/><rect x="16.35" y="79.75" width="4.05" height="9.25" fill="#c8c8c8"/><rect x="21.60" y="79.75" width="4.05" height="9.25" fill="#c4c4c4"/><rect x="26.85" y="79.75" width="4.05" height="9.25" fill="#7a7a7a"/><rect x="32.10" y="79.75" width="4.05" height="9.25" fill="#6a6a6a"/><rect x="37.35" y="79.75" width="4.05" height="9.25" fill="#858585"/><rect x="42.60" y="79.75" width="4.05" height="9.25" fill="#4a4a4a"/><rect x="47.85" y="79.75" width="4.05" height="9.25" fill="#b5b5b5"/><rect x="53.10" y="79.75" width="4.05" height="9.25" fill="#fbfbfb"/><rect x="58.35" y="79.75" width="4.05" height="9.25" fill="#fbfbfb"/><rect x="63.60" y="79.75" width="4.05" height="9.25" fill="#f3f3f3"/><rect x="68.85" y="79.75" width="4.05" height="9.25" fill="#909090"/><rect x="74.10" y="79.75" width="4.05" height="9.25" fill="#fbfbfb"/><rect x="79.35" y="79.75" width="4.05" height="9.25" fill="#fbfbfb"/><rect x="0.60" y="91.00" width="4.05" height="9.25" fill="#fbfbfb"/><rect x="5.85" y="91.00" width="4.05" height="9.25" fill="#fbfbfb"/><rect x="11.10" y="91.00" width="4.05" height="9.25" fill="#fbfbfb"/><rect x="16.35" y="91.00" width="4.05" height="9.25" fill="#a0a0a0"/><rect x="21.60" y="91.00" width="4.05" height="9.25" fill="#888888"/><rect x="26.85" y="91.00" width="4.05" height="9.25" fill="#606060"/><rect x="32.10" y="91.00" width="4.05" height="9.25" fill="#858585"/><rect x="37.35" y="91.00" width="4.05" height="9.25" fill="#7a7a7a"/><rect x="42.60" y="91.00" width="4.05" height="9.25" fill="#222222"/><rect x="47.85" y="91.00" width="4.05" height="9.25" fill="#8c8c8c"/><rect x="53.10" y="91.00" width="4.05" height="9.25" fill="#c4c4c4"/><rect x="58.35" y="91.00" width="4.05" height="9.25" fill="#d4d4d4"/><rect x="63.60" y="91.00" width="4.05" height="9.25" fill="#909090"/><rect x="68.85" y="91.00" width="4.05" height="9.25" fill="#c0c0c0"/><rect x="74.10" y="91.00" width="4.05" height="9.25" fill="#fbfbfb"/><rect x="79.35" y="91.00" width="4.05" height="9.25" fill="#fbfbfb"/><rect x="0.60" y="102.25" width="4.05" height="9.25" fill="#fbfbfb"/><rect x="5.85" y="102.25" width="4.05" height="9.25" fill="#fbfbfb"/><rect x="11.10" y="102.25" width="4.05" height="9.25" fill="#fbfbfb"/><rect x="16.35" y="102.25" width="4.05" height="9.25" fill="#eaeaea"/><rect x="21.60" y="102.25" width="4.05" height="9.25" fill="#5e5e5e"/><rect x="26.85" y="102.25" width="4.05" height="9.25" fill="#707070"/><rect x="32.10" y="102.25" width="4.05" height="9.25" fill="#7e7e7e"/><rect x="37.35" y="102.25" width="4.05" height="9.25" fill="#484848"/><rect x="42.60" y="102.25" width="4.05" height="9.25" fill="#1e1e1e"/><rect x="47.85" y="102.25" width="4.05" height="9.25" fill="#787878"/><rect x="53.10" y="102.25" width="4.05" height="9.25" fill="#727272"/><rect x="58.35" y="102.25" width="4.05" height="9.25" fill="#6c6c6c"/><rect x="63.60" y="102.25" width="4.05" height="9.25" fill="#f5f5f5"/><rect x="68.85" y="102.25" width="4.05" height="9.25" fill="#fbfbfb"/><rect x="74.10" y="102.25" width="4.05" height="9.25" fill="#fbfbfb"/><rect x="79.35" y="102.25" width="4.05" height="9.25" fill="#fbfbfb"/><rect x="0.60" y="113.50" width="4.05" height="9.25" fill="#eaeaea"/><rect x="5.85" y="113.50" width="4.05" height="9.25" fill="#e4e4e4"/><rect x="11.10" y="113.50" width="4.05" height="9.25" fill="#e0e0e0"/><rect x="16.35" y="113.50" width="4.05" height="9.25" fill="#fbfbfb"/><rect x="21.60" y="113.50" width="4.05" height="9.25" fill="#8e8e8e"/><rect x="26.85" y="113.50" width="4.05" height="9.25" fill="#4c4c4c"/><rect x="32.10" y="113.50" width="4.05" height="9.25" fill="#2e2e2e"/><rect x="37.35" y="113.50" width="4.05" height="9.25" fill="#1e1e1e"/><rect x="42.60" y="113.50" width="4.05" height="9.25" fill="#222222"/><rect x="47.85" y="113.50" width="4.05" height="9.25" fill="#4c4c4c"/><rect x="53.10" y="113.50" width="4.05" height="9.25" fill="#6a6a6a"/><rect x="58.35" y="113.50" width="4.05" height="9.25" fill="#fbfbfb"/><rect x="63.60" y="113.50" width="4.05" height="9.25" fill="#fbfbfb"/><rect x="68.85" y="113.50" width="4.05" height="9.25" fill="#fbfbfb"/><rect x="74.10" y="113.50" width="4.05" height="9.25" fill="#fbfbfb"/><rect x="79.35" y="113.50" width="4.05" height="9.25" fill="#fbfbfb"/><rect x="0.60" y="124.75" width="4.05" height="9.25" fill="#161616"/><rect x="5.85" y="124.75" width="4.05" height="9.25" fill="#f0f0f0"/><rect x="11.10" y="124.75" width="4.05" height="9.25" fill="#e0e0e0"/><rect x="16.35" y="124.75" width="4.05" height="9.25" fill="#fbfbfb"/><rect x="21.60" y="124.75" width="4.05" height="9.25" fill="#cecece"/><rect x="26.85" y="124.75" width="4.05" height="9.25" fill="#505050"/><rect x="32.10" y="124.75" width="4.05" height="9.25" fill="#0e0e0e"/><rect x="37.35" y="124.75" width="4.05" height="9.25" fill="#020202"/><rect x="42.60" y="124.75" width="4.05" height="9.25" fill="#1c1c1c"/><rect x="47.85" y="124.75" width="4.05" height="9.25" fill="#969696"/><rect x="53.10" y="124.75" width="4.05" height="9.25" fill="#fbfbfb"/><rect x="58.35" y="124.75" width="4.05" height="9.25" fill="#fbfbfb"/><rect x="63.60" y="124.75" width="4.05" height="9.25" fill="#fbfbfb"/><rect x="68.85" y="124.75" width="4.05" height="9.25" fill="#fbfbfb"/><rect x="74.10" y="124.75" width="4.05" height="9.25" fill="#fbfbfb"/><rect x="79.35" y="124.75" width="4.05" height="9.25" fill="#fbfbfb"/><rect x="0.60" y="136.00" width="4.05" height="9.25" fill="#1c1c1c"/><rect x="5.85" y="136.00" width="4.05" height="9.25" fill="#e0e0e0"/><rect x="11.10" y="136.00" width="4.05" height="9.25" fill="#e8e8e8"/><rect x="16.35" y="136.00" width="4.05" height="9.25" fill="#fbfbfb"/><rect x="21.60" y="136.00" width="4.05" height="9.25" fill="#e0e0e0"/><rect x="26.85" y="136.00" width="4.05" height="9.25" fill="#4a4a4a"/><rect x="32.10" y="136.00" width="4.05" height="9.25" fill="#161616"/><rect x="37.35" y="136.00" width="4.05" height="9.25" fill="#0e0e0e"/><rect x="42.60" y="136.00" width="4.05" height="9.25" fill="#585858"/><rect x="47.85" y="136.00" width="4.05" height="9.25" fill="#f0f0f0"/><rect x="53.10" y="136.00" width="4.05" height="9.25" fill="#fbfbfb"/><rect x="58.35" y="136.00" width="4.05" height="9.25" fill="#fbfbfb"/><rect x="63.60" y="136.00" width="4.05" height="9.25" fill="#fbfbfb"/><rect x="68.85" y="136.00" width="4.05" height="9.25" fill="#fbfbfb"/><rect x="74.10" y="136.00" width="4.05" height="9.25" fill="#fbfbfb"/><rect x="79.35" y="136.00" width="4.05" height="9.25" fill="#fbfbfb"/><rect x="0.60" y="147.25" width="4.05" height="9.25" fill="#c4c4c4"/><rect x="5.85" y="147.25" width="4.05" height="9.25" fill="#6a6a6a"/><rect x="11.10" y="147.25" width="4.05" height="9.25" fill="#e8e8e8"/><rect x="16.35" y="147.25" width="4.05" height="9.25" fill="#f8f8f8"/><rect x="21.60" y="147.25" width="4.05" height="9.25" fill="#969696"/><rect x="26.85" y="147.25" width="4.05" height="9.25" fill="#060606"/><rect x="32.10" y="147.25" width="4.05" height="9.25" fill="#0e0e0e"/><rect x="37.35" y="147.25" width="4.05" height="9.25" fill="#040404"/><rect x="42.60" y="147.25" width="4.05" height="9.25" fill="#646464"/><rect x="47.85" y="147.25" width="4.05" height="9.25" fill="#fbfbfb"/><rect x="53.10" y="147.25" width="4.05" height="9.25" fill="#fbfbfb"/><rect x="58.35" y="147.25" width="4.05" height="9.25" fill="#fbfbfb"/><rect x="63.60" y="147.25" width="4.05" height="9.25" fill="#fbfbfb"/><rect x="68.85" y="147.25" width="4.05" height="9.25" fill="#fbfbfb"/><rect x="74.10" y="147.25" width="4.05" height="9.25" fill="#fbfbfb"/><rect x="79.35" y="147.25" width="4.05" height="9.25" fill="#fbfbfb"/><rect x="0.60" y="158.50" width="4.05" height="9.25" fill="#fbfbfb"/><rect x="5.85" y="158.50" width="4.05" height="9.25" fill="#fbfbfb"/><rect x="11.10" y="158.50" width="4.05" height="9.25" fill="#fbfbfb"/><rect x="16.35" y="158.50" width="4.05" height="9.25" fill="#fbfbfb"/><rect x="21.60" y="158.50" width="4.05" height="9.25" fill="#303030"/><rect x="26.85" y="158.50" width="4.05" height="9.25" fill="#222222"/><rect x="32.10" y="158.50" width="4.05" height="9.25" fill="#0e0e0e"/><rect x="37.35" y="158.50" width="4.05" height="9.25" fill="#040404"/><rect x="42.60" y="158.50" width="4.05" height="9.25" fill="#b4b4b4"/><rect x="47.85" y="158.50" width="4.05" height="9.25" fill="#fbfbfb"/><rect x="53.10" y="158.50" width="4.05" height="9.25" fill="#fbfbfb"/><rect x="58.35" y="158.50" width="4.05" height="9.25" fill="#fbfbfb"/><rect x="63.60" y="158.50" width="4.05" height="9.25" fill="#fbfbfb"/><rect x="68.85" y="158.50" width="4.05" height="9.25" fill="#fbfbfb"/><rect x="74.10" y="158.50" width="4.05" height="9.25" fill="#fbfbfb"/><rect x="79.35" y="158.50" width="4.05" height="9.25" fill="#fbfbfb"/><rect x="0.60" y="169.75" width="4.05" height="9.25" fill="#fbfbfb"/><rect x="5.85" y="169.75" width="4.05" height="9.25" fill="#fbfbfb"/><rect x="11.10" y="169.75" width="4.05" height="9.25" fill="#fbfbfb"/><rect x="16.35" y="169.75" width="4.05" height="9.25" fill="#eeeeee"/><rect x="21.60" y="169.75" width="4.05" height="9.25" fill="#040404"/><rect x="26.85" y="169.75" width="4.05" height="9.25" fill="#0a0a0a"/><rect x="32.10" y="169.75" width="4.05" height="9.25" fill="#050505"/><rect x="37.35" y="169.75" width="4.05" height="9.25" fill="#121212"/><rect x="42.60" y="169.75" width="4.05" height="9.25" fill="#e0e0e0"/><rect x="47.85" y="169.75" width="4.05" height="9.25" fill="#fbfbfb"/><rect x="53.10" y="169.75" width="4.05" height="9.25" fill="#fbfbfb"/><rect x="58.35" y="169.75" width="4.05" height="9.25" fill="#fbfbfb"/><rect x="63.60" y="169.75" width="4.05" height="9.25" fill="#fbfbfb"/><rect x="68.85" y="169.75" width="4.05" height="9.25" fill="#fbfbfb"/><rect x="74.10" y="169.75" width="4.05" height="9.25" fill="#fbfbfb"/><rect x="79.35" y="169.75" width="4.05" height="9.25" fill="#fbfbfb"/>
<rect x="0.0" y="0.0" width="84.0" height="180.0" rx="0" fill="none" stroke="#383838" stroke-width="1.6" />
</g>
<polygon points="1385.3,531.5 1478.7,473.5 1478.7,674.3 1385.3,732.3" fill="#fff" stroke="#c0c0c0" stroke-width="1" />
<g transform="matrix(1,-0.6210,0,1,1389.80,539.00)">
<rect x="0.60" y="1.00" width="4.05" height="9.25" fill="#f7f7f7"/><rect x="5.85" y="1.00" width="4.05" height="9.25" fill="#f7f7f7"/><rect x="11.10" y="1.00" width="4.05" height="9.25" fill="#f7f7f7"/><rect x="16.35" y="1.00" width="4.05" height="9.25" fill="#f7f7f7"/><rect x="21.60" y="1.00" width="4.05" height="9.25" fill="#f7f7f7"/><rect x="26.85" y="1.00" width="4.05" height="9.25" fill="#f7f7f7"/><rect x="32.10" y="1.00" width="4.05" height="9.25" fill="#f7f7f7"/><rect x="37.35" y="1.00" width="4.05" height="9.25" fill="#f7f7f7"/><rect x="42.60" y="1.00" width="4.05" height="9.25" fill="#f7f7f7"/><rect x="47.85" y="1.00" width="4.05" height="9.25" fill="#f7f7f7"/><rect x="53.10" y="1.00" width="4.05" height="9.25" fill="#f7f7f7"/><rect x="58.35" y="1.00" width="4.05" height="9.25" fill="#f7f7f7"/><rect x="63.60" y="1.00" width="4.05" height="9.25" fill="#f7f7f7"/><rect x="68.85" y="1.00" width="4.05" height="9.25" fill="#f7f7f7"/><rect x="74.10" y="1.00" width="4.05" height="9.25" fill="#f7f7f7"/><rect x="79.35" y="1.00" width="4.05" height="9.25" fill="#f7f7f7"/><rect x="0.60" y="12.25" width="4.05" height="9.25" fill="#f7f7f7"/><rect x="5.85" y="12.25" width="4.05" height="9.25" fill="#f7f7f7"/><rect x="11.10" y="12.25" width="4.05" height="9.25" fill="#f7f7f7"/><rect x="16.35" y="12.25" width="4.05" height="9.25" fill="#f7f7f7"/><rect x="21.60" y="12.25" width="4.05" height="9.25" fill="#f7f7f7"/><rect x="26.85" y="12.25" width="4.05" height="9.25" fill="#f7f7f7"/><rect x="32.10" y="12.25" width="4.05" height="9.25" fill="#f7f7f7"/><rect x="37.35" y="12.25" width="4.05" height="9.25" fill="#f7f7f7"/><rect x="42.60" y="12.25" width="4.05" height="9.25" fill="#f7f7f7"/><rect x="47.85" y="12.25" width="4.05" height="9.25" fill="#f7f7f7"/><rect x="53.10" y="12.25" width="4.05" height="9.25" fill="#f7f7f7"/><rect x="58.35" y="12.25" width="4.05" height="9.25" fill="#f7f7f7"/><rect x="63.60" y="12.25" width="4.05" height="9.25" fill="#f7f7f7"/><rect x="68.85" y="12.25" width="4.05" height="9.25" fill="#f7f7f7"/><rect x="74.10" y="12.25" width="4.05" height="9.25" fill="#f7f7f7"/><rect x="79.35" y="12.25" width="4.05" height="9.25" fill="#f7f7f7"/><rect x="0.60" y="23.50" width="4.05" height="9.25" fill="#f7f7f7"/><rect x="5.85" y="23.50" width="4.05" height="9.25" fill="#f7f7f7"/><rect x="11.10" y="23.50" width="4.05" height="9.25" fill="#f7f7f7"/><rect x="16.35" y="23.50" width="4.05" height="9.25" fill="#f7f7f7"/><rect x="21.60" y="23.50" width="4.05" height="9.25" fill="#f7f7f7"/><rect x="26.85" y="23.50" width="4.05" height="9.25" fill="#f7f7f7"/><rect x="32.10" y="23.50" width="4.05" height="9.25" fill="#f7f7f7"/><rect x="37.35" y="23.50" width="4.05" height="9.25" fill="#f7f7f7"/><rect x="42.60" y="23.50" width="4.05" height="9.25" fill="#f7f7f7"/><rect x="47.85" y="23.50" width="4.05" height="9.25" fill="#f7f7f7"/><rect x="53.10" y="23.50" width="4.05" height="9.25" fill="#f7f7f7"/><rect x="58.35" y="23.50" width="4.05" height="9.25" fill="#f7f7f7"/><rect x="63.60" y="23.50" width="4.05" height="9.25" fill="#f7f7f7"/><rect x="68.85" y="23.50" width="4.05" height="9.25" fill="#f7f7f7"/><rect x="74.10" y="23.50" width="4.05" height="9.25" fill="#f7f7f7"/><rect x="79.35" y="23.50" width="4.05" height="9.25" fill="#f7f7f7"/><rect x="0.60" y="34.75" width="4.05" height="9.25" fill="#f7f7f7"/><rect x="5.85" y="34.75" width="4.05" height="9.25" fill="#f7f7f7"/><rect x="11.10" y="34.75" width="4.05" height="9.25" fill="#f7f7f7"/><rect x="16.35" y="34.75" width="4.05" height="9.25" fill="#f7f7f7"/><rect x="21.60" y="34.75" width="4.05" height="9.25" fill="#f7f7f7"/><rect x="26.85" y="34.75" width="4.05" height="9.25" fill="#f7f7f7"/><rect x="32.10" y="34.75" width="4.05" height="9.25" fill="#f7f7f7"/><rect x="37.35" y="34.75" width="4.05" height="9.25" fill="#f7f7f7"/><rect x="42.60" y="34.75" width="4.05" height="9.25" fill="#f7f7f7"/><rect x="47.85" y="34.75" width="4.05" height="9.25" fill="#f7f7f7"/><rect x="53.10" y="34.75" width="4.05" height="9.25" fill="#f7f7f7"/><rect x="58.35" y="34.75" width="4.05" height="9.25" fill="#f7f7f7"/><rect x="63.60" y="34.75" width="4.05" height="9.25" fill="#f7f7f7"/><rect x="68.85" y="34.75" width="4.05" height="9.25" fill="#f7f7f7"/><rect x="74.10" y="34.75" width="4.05" height="9.25" fill="#f7f7f7"/><rect x="79.35" y="34.75" width="4.05" height="9.25" fill="#f7f7f7"/><rect x="0.60" y="46.00" width="4.05" height="9.25" fill="#f7f7f7"/><rect x="5.85" y="46.00" width="4.05" height="9.25" fill="#f7f7f7"/><rect x="11.10" y="46.00" width="4.05" height="9.25" fill="#f7f7f7"/><rect x="16.35" y="46.00" width="4.05" height="9.25" fill="#f7f7f7"/><rect x="21.60" y="46.00" width="4.05" height="9.25" fill="#7a7a7a"/><rect x="26.85" y="46.00" width="4.05" height="9.25" fill="#5e5e5e"/><rect x="32.10" y="46.00" width="4.05" height="9.25" fill="#444444"/><rect x="37.35" y="46.00" width="4.05" height="9.25" fill="#f7f7f7"/><rect x="42.60" y="46.00" width="4.05" height="9.25" fill="#f7f7f7"/><rect x="47.85" y="46.00" width="4.05" height="9.25" fill="#e4e4e4"/><rect x="53.10" y="46.00" width="4.05" height="9.25" fill="#383838"/><rect x="58.35" y="46.00" width="4.05" height="9.25" fill="#d4d4d4"/><rect x="63.60" y="46.00" width="4.05" height="9.25" fill="#dadada"/><rect x="68.85" y="46.00" width="4.05" height="9.25" fill="#f7f7f7"/><rect x="74.10" y="46.00" width="4.05" height="9.25" fill="#f7f7f7"/><rect x="79.35" y="46.00" width="4.05" height="9.25" fill="#f7f7f7"/><rect x="0.60" y="57.25" width="4.05" height="9.25" fill="#f7f7f7"/><rect x="5.85" y="57.25" width="4.05" height="9.25" fill="#f7f7f7"/><rect x="11.10" y="57.25" width="4.05" height="9.25" fill="#f0f0f0"/><rect x="16.35" y="57.25" width="4.05" height="9.25" fill="#4a4a4a"/><rect x="21.60" y="57.25" width="4.05" height="9.25" fill="#2e2e2e"/><rect x="26.85" y="57.25" width="4.05" height="9.25" fill="#181818"/><rect x="32.10" y="57.25" width="4.05" height="9.25" fill="#181818"/><rect x="37.35" y="57.25" width="4.05" height="9.25" fill="#777777"/><rect x="42.60" y="57.25" width="4.05" height="9.25" fill="#f7f7f7"/><rect x="47.85" y="57.25" width="4.05" height="9.25" fill="#888888"/><rect x="53.10" y="57.25" width="4.05" height="9.25" fill="#5e5e5e"/><rect x="58.35" y="57.25" width="4.05" height="9.25" fill="#6a6a6a"/><rect x="63.60" y="57.25" width="4.05" height="9.25" fill="#a0a0a0"/><rect x="68.85" y="57.25" width="4.05" height="9.25" fill="#707070"/><rect x="74.10" y="57.25" width="4.05" height="9.25" fill="#f7f7f7"/><rect x="79.35" y="57.25" width="4.05" height="9.25" fill="#f7f7f7"/><rect x="0.60" y="68.50" width="4.05" height="9.25" fill="#f7f7f7"/><rect x="5.85" y="68.50" width="4.05" height="9.25" fill="#f7f7f7"/><rect x="11.10" y="68.50" width="4.05" height="9.25" fill="#6a6a6a"/><rect x="16.35" y="68.50" width="4.05" height="9.25" fill="#a0a0a0"/><rect x="21.60" y="68.50" width="4.05" height="9.25" fill="#181818"/><rect x="26.85" y="68.50" width="4.05" height="9.25" fill="#888888"/><rect x="32.10" y="68.50" width="4.05" height="9.25" fill="#9a9a9a"/><rect x="37.35" y="68.50" width="4.05" height="9.25" fill="#a0a0a0"/><rect x="42.60" y="68.50" width="4.05" height="9.25" fill="#f7f7f7"/><rect x="47.85" y="68.50" width="4.05" height="9.25" fill="#bcbcbc"/><rect x="53.10" y="68.50" width="4.05" height="9.25" fill="#8e8e8e"/><rect x="58.35" y="68.50" width="4.05" height="9.25" fill="#d4d4d4"/><rect x="63.60" y="68.50" width="4.05" height="9.25" fill="#8e8e8e"/><rect x="68.85" y="68.50" width="4.05" height="9.25" fill="#d4d4d4"/><rect x="74.10" y="68.50" width="4.05" height="9.25" fill="#f7f7f7"/><rect x="79.35" y="68.50" width="4.05" height="9.25" fill="#f7f7f7"/><rect x="0.60" y="79.75" width="4.05" height="9.25" fill="#f7f7f7"/><rect x="5.85" y="79.75" width="4.05" height="9.25" fill="#f7f7f7"/><rect x="11.10" y="79.75" width="4.05" height="9.25" fill="#c0c0c0"/><rect x="16.35" y="79.75" width="4.05" height="9.25" fill="#b4b4b4"/><rect x="21.60" y="79.75" width="4.05" height="9.25" fill="#4a4a4a"/><rect x="26.85" y="79.75" width="4.05" height="9.25" fill="#101010"/><rect x="32.10" y="79.75" width="4.05" height="9.25" fill="#b0b0b0"/><rect x="37.35" y="79.75" width="4.05" height="9.25" fill="#bcbcbc"/><rect x="42.60" y="79.75" width="4.05" height="9.25" fill="#f7f7f7"/><rect x="47.85" y="79.75" width="4.05" height="9.25" fill="#b0b0b0"/><rect x="53.10" y="79.75" width="4.05" height="9.25" fill="#9a9a9a"/><rect x="58.35" y="79.75" width="4.05" height="9.25" fill="#cacaca"/><rect x="63.60" y="79.75" width="4.05" height="9.25" fill="#aaaaaa"/><rect x="68.85" y="79.75" width="4.05" height="9.25" fill="#aaaaaa"/><rect x="74.10" y="79.75" width="4.05" height="9.25" fill="#f7f7f7"/><rect x="79.35" y="79.75" width="4.05" height="9.25" fill="#f7f7f7"/><rect x="0.60" y="91.00" width="4.05" height="9.25" fill="#f7f7f7"/><rect x="5.85" y="91.00" width="4.05" height="9.25" fill="#f7f7f7"/><rect x="11.10" y="91.00" width="4.05" height="9.25" fill="#5a5a5a"/><rect x="16.35" y="91.00" width="4.05" height="9.25" fill="#101010"/><rect x="21.60" y="91.00" width="4.05" height="9.25" fill="#8e8e8e"/><rect x="26.85" y="91.00" width="4.05" height="9.25" fill="#4e4e4e"/><rect x="32.10" y="91.00" width="4.05" height="9.25" fill="#8e8e8e"/><rect x="42.60" y="91.00" width="4.05" height="9.25" fill="#f7f7f7"/><rect x="47.85" y="91.00" width="4.05" height="9.25" fill="#aaaaaa"/><rect x="53.10" y="91.00" width="4.05" height="9.25" fill="#888888"/><rect x="58.35" y="91.00" width="4.05" height="9.25" fill="#d4d4d4"/><rect x="63.60" y="91.00" width="4.05" height="9.25" fill="#aaaaaa"/><rect x="68.85" y="91.00" width="4.05" height="9.25" fill="#b0b0b0"/><rect x="74.10" y="91.00" width="4.05" height="9.25" fill="#f7f7f7"/><rect x="79.35" y="91.00" width="4.05" height="9.25" fill="#f7f7f7"/><rect x="0.60" y="102.25" width="4.05" height="9.25" fill="#f7f7f7"/><rect x="5.85" y="102.25" width="4.05" height="9.25" fill="#f7f7f7"/><rect x="11.10" y="102.25" width="4.05" height="9.25" fill="#0a0a0a"/><rect x="16.35" y="102.25" width="4.05" height="9.25" fill="#000000"/><rect x="21.60" y="102.25" width="4.05" height="9.25" fill="#808080"/><rect x="26.85" y="102.25" width="4.05" height="9.25" fill="#707070"/><rect x="32.10" y="102.25" width="4.05" height="9.25" fill="#6a6a6a"/><rect x="37.35" y="102.25" width="4.05" height="9.25" fill="#888888"/><rect x="42.60" y="102.25" width="4.05" height="9.25" fill="#2e2e2e"/><rect x="47.85" y="102.25" width="4.05" height="9.25" fill="#4a4a4a"/><rect x="53.10" y="102.25" width="4.05" height="9.25" fill="#a4a4a4"/><rect x="58.35" y="102.25" width="4.05" height="9.25" fill="#d0d0d0"/><rect x="63.60" y="102.25" width="4.05" height="9.25" fill="#a4a4a4"/><rect x="68.85" y="102.25" width="4.05" height="9.25" fill="#aaaaaa"/><rect x="74.10" y="102.25" width="4.05" height="9.25" fill="#f7f7f7"/><rect x="79.35" y="102.25" width="4.05" height="9.25" fill="#f7f7f7"/><rect x="0.60" y="113.50" width="4.05" height="9.25" fill="#f7f7f7"/><rect x="5.85" y="113.50" width="4.05" height="9.25" fill="#f7f7f7"/><rect x="11.10" y="113.50" width="4.05" height="9.25" fill="#808080"/><rect x="16.35" y="113.50" width="4.05" height="9.25" fill="#202020"/><rect x="21.60" y="113.50" width="4.05" height="9.25" fill="#b0b0b0"/><rect x="26.85" y="113.50" width="4.05" height="9.25" fill="#e8e8e8"/><rect x="32.10" y="113.50" width="4.05" height="9.25" fill="#909090"/><rect x="37.35" y="113.50" width="4.05" height="9.25" fill="#a4a4a4"/><rect x="42.60" y="113.50" width="4.05" height="9.25" fill="#e0e0e0"/><rect x="47.85" y="113.50" width="4.05" height="9.25" fill="#f0f0f0"/><rect x="53.10" y="113.50" width="4.05" height="9.25" fill="#eaeaea"/><rect x="58.35" y="113.50" width="4.05" height="9.25" fill="#e4e4e4"/><rect x="63.60" y="113.50" width="4.05" height="9.25" fill="#9e9e9e"/><rect x="68.85" y="113.50" width="4.05" height="9.25" fill="#bcbcbc"/><rect x="74.10" y="113.50" width="4.05" height="9.25" fill="#f7f7f7"/><rect x="79.35" y="113.50" width="4.05" height="9.25" fill="#f7f7f7"/><rect x="0.60" y="124.75" width="4.05" height="9.25" fill="#f7f7f7"/><rect x="5.85" y="124.75" width="4.05" height="9.25" fill="#f0f0f0"/><rect x="11.10" y="124.75" width="4.05" height="9.25" fill="#1e1e1e"/><rect x="16.35" y="124.75" width="4.05" height="9.25" fill="#c4c4c4"/><rect x="21.60" y="124.75" width="4.05" height="9.25" fill="#909090"/><rect x="26.85" y="124.75" width="4.05" height="9.25" fill="#fcfcfc"/><rect x="32.10" y="124.75" width="4.05" height="9.25" fill="#fcfcfc"/><rect x="37.35" y="124.75" width="4.05" height="9.25" fill="#f7f7f7"/><rect x="42.60" y="124.75" width="4.05" height="9.25" fill="#f7f7f7"/><rect x="47.85" y="124.75" width="4.05" height="9.25" fill="#f7f7f7"/><rect x="53.10" y="124.75" width="4.05" height="9.25" fill="#f7f7f7"/><rect x="58.35" y="124.75" width="4.05" height="9.25" fill="#f7f7f7"/><rect x="63.60" y="124.75" width="4.05" height="9.25" fill="#f7f7f7"/><rect x="68.85" y="124.75" width="4.05" height="9.25" fill="#cacaca"/><rect x="74.10" y="124.75" width="4.05" height="9.25" fill="#eeeeee"/><rect x="79.35" y="124.75" width="4.05" height="9.25" fill="#f7f7f7"/><rect x="0.60" y="136.00" width="4.05" height="9.25" fill="#f7f7f7"/><rect x="5.85" y="136.00" width="4.05" height="9.25" fill="#7e7e7e"/><rect x="11.10" y="136.00" width="4.05" height="9.25" fill="#f4f4f4"/><rect x="16.35" y="136.00" width="4.05" height="9.25" fill="#fcfcfc"/><rect x="21.60" y="136.00" width="4.05" height="9.25" fill="#b4b4b4"/><rect x="26.85" y="136.00" width="4.05" height="9.25" fill="#a8a8a8"/><rect x="32.10" y="136.00" width="4.05" height="9.25" fill="#e0e0e0"/><rect x="37.35" y="136.00" width="4.05" height="9.25" fill="#eaeaea"/><rect x="42.60" y="136.00" width="4.05" height="9.25" fill="#f7f7f7"/><rect x="47.85" y="136.00" width="4.05" height="9.25" fill="#f7f7f7"/><rect x="53.10" y="136.00" width="4.05" height="9.25" fill="#f7f7f7"/><rect x="58.35" y="136.00" width="4.05" height="9.25" fill="#d4d4d4"/><rect x="63.60" y="136.00" width="4.05" height="9.25" fill="#f0f0f0"/><rect x="68.85" y="136.00" width="4.05" height="9.25" fill="#eaeaea"/><rect x="74.10" y="136.00" width="4.05" height="9.25" fill="#cecece"/><rect x="79.35" y="136.00" width="4.05" height="9.25" fill="#f7f7f7"/><rect x="0.60" y="147.25" width="4.05" height="9.25" fill="#f4f4f4"/><rect x="5.85" y="147.25" width="4.05" height="9.25" fill="#eeeeee"/><rect x="11.10" y="147.25" width="4.05" height="9.25" fill="#f4f4f4"/><rect x="16.35" y="147.25" width="4.05" height="9.25" fill="#f4f4f4"/><rect x="21.60" y="147.25" width="4.05" height="9.25" fill="#f4f4f4"/><rect x="26.85" y="147.25" width="4.05" height="9.25" fill="#f4f4f4"/><rect x="32.10" y="147.25" width="4.05" height="9.25" fill="#f4f4f4"/><rect x="37.35" y="147.25" width="4.05" height="9.25" fill="#f4f4f4"/><rect x="42.60" y="147.25" width="4.05" height="9.25" fill="#f4f4f4"/><rect x="47.85" y="147.25" width="4.05" height="9.25" fill="#f4f4f4"/><rect x="53.10" y="147.25" width="4.05" height="9.25" fill="#f4f4f4"/><rect x="58.35" y="147.25" width="4.05" height="9.25" fill="#f4f4f4"/><rect x="63.60" y="147.25" width="4.05" height="9.25" fill="#f4f4f4"/><rect x="68.85" y="147.25" width="4.05" height="9.25" fill="#f4f4f4"/><rect x="74.10" y="147.25" width="4.05" height="9.25" fill="#f4f4f4"/><rect x="79.35" y="147.25" width="4.05" height="9.25" fill="#f4f4f4"/><rect x="0.60" y="158.50" width="4.05" height="9.25" fill="#f7f7f7"/><rect x="5.85" y="158.50" width="4.05" height="9.25" fill="#f7f7f7"/><rect x="11.10" y="158.50" width="4.05" height="9.25" fill="#f7f7f7"/><rect x="16.35" y="158.50" width="4.05" height="9.25" fill="#f7f7f7"/><rect x="21.60" y="158.50" width="4.05" height="9.25" fill="#f7f7f7"/><rect x="26.85" y="158.50" width="4.05" height="9.25" fill="#f7f7f7"/><rect x="32.10" y="158.50" width="4.05" height="9.25" fill="#f7f7f7"/><rect x="37.35" y="158.50" width="4.05" height="9.25" fill="#f7f7f7"/><rect x="42.60" y="158.50" width="4.05" height="9.25" fill="#f7f7f7"/><rect x="47.85" y="158.50" width="4.05" height="9.25" fill="#f7f7f7"/><rect x="53.10" y="158.50" width="4.05" height="9.25" fill="#f7f7f7"/><rect x="58.35" y="158.50" width="4.05" height="9.25" fill="#f7f7f7"/><rect x="63.60" y="158.50" width="4.05" height="9.25" fill="#f7f7f7"/><rect x="68.85" y="158.50" width="4.05" height="9.25" fill="#f7f7f7"/><rect x="74.10" y="158.50" width="4.05" height="9.25" fill="#f7f7f7"/><rect x="79.35" y="158.50" width="4.05" height="9.25" fill="#f7f7f7"/><rect x="0.60" y="169.75" width="4.05" height="9.25" fill="#f7f7f7"/><rect x="5.85" y="169.75" width="4.05" height="9.25" fill="#f7f7f7"/><rect x="11.10" y="169.75" width="4.05" height="9.25" fill="#f7f7f7"/><rect x="16.35" y="169.75" width="4.05" height="9.25" fill="#f7f7f7"/><rect x="21.60" y="169.75" width="4.05" height="9.25" fill="#f7f7f7"/><rect x="26.85" y="169.75" width="4.05" height="9.25" fill="#f7f7f7"/><rect x="32.10" y="169.75" width="4.05" height="9.25" fill="#f7f7f7"/><rect x="37.35" y="169.75" width="4.05" height="9.25" fill="#f7f7f7"/><rect x="42.60" y="169.75" width="4.05" height="9.25" fill="#f7f7f7"/><rect x="47.85" y="169.75" width="4.05" height="9.25" fill="#f7f7f7"/><rect x="53.10" y="169.75" width="4.05" height="9.25" fill="#f7f7f7"/><rect x="58.35" y="169.75" width="4.05" height="9.25" fill="#f7f7f7"/><rect x="63.60" y="169.75" width="4.05" height="9.25" fill="#f7f7f7"/><rect x="68.85" y="169.75" width="4.05" height="9.25" fill="#f7f7f7"/><rect x="74.10" y="169.75" width="4.05" height="9.25" fill="#f7f7f7"/><rect x="79.35" y="169.75" width="4.05" height="9.25" fill="#f7f7f7"/>
<rect x="0.0" y="0.0" width="84.0" height="180.0" rx="0" fill="none" stroke="#383838" stroke-width="1.6" />
</g>
<polygon points="1433.3,531.5 1526.7,473.5 1526.7,674.3 1433.3,732.3" fill="#fff" stroke="#c0c0c0" stroke-width="1" />
<g transform="matrix(1,-0.6210,0,1,1437.80,539.00)">
<rect x="11.10" y="46.00" width="4.05" height="9.25" fill="#fafafa"/><rect x="21.60" y="46.00" width="4.05" height="9.25" fill="#a6a6a6"/><rect x="26.85" y="46.00" width="4.05" height="9.25" fill="#808080"/><rect x="32.10" y="46.00" width="4.05" height="9.25" fill="#5e5e5e"/><rect x="42.60" y="46.00" width="4.05" height="9.25" fill="#fcfcfc"/><rect x="47.85" y="46.00" width="4.05" height="9.25" fill="#e8e8e8"/><rect x="53.10" y="46.00" width="4.05" height="9.25" fill="#5a5a5a"/><rect x="58.35" y="46.00" width="4.05" height="9.25" fill="#888888"/><rect x="63.60" y="46.00" width="4.05" height="9.25" fill="#dadada"/><rect x="68.85" y="46.00" width="4.05" height="9.25" fill="#fcfcfc"/><rect x="11.10" y="57.25" width="4.05" height="9.25" fill="#f8f8f8"/><rect x="16.35" y="57.25" width="4.05" height="9.25" fill="#666666"/><rect x="21.60" y="57.25" width="4.05" height="9.25" fill="#404040"/><rect x="26.85" y="57.25" width="4.05" height="9.25" fill="#262626"/><rect x="32.10" y="57.25" width="4.05" height="9.25" fill="#222222"/><rect x="37.35" y="57.25" width="4.05" height="9.25" fill="#9a9a9a"/><rect x="47.85" y="57.25" width="4.05" height="9.25" fill="#6a6a6a"/><rect x="53.10" y="57.25" width="4.05" height="9.25" fill="#4a4a4a"/><rect x="58.35" y="57.25" width="4.05" height="9.25" fill="#909090"/><rect x="63.60" y="57.25" width="4.05" height="9.25" fill="#8a8a8a"/><rect x="68.85" y="57.25" width="4.05" height="9.25" fill="#909090"/><rect x="11.10" y="68.50" width="4.05" height="9.25" fill="#888888"/><rect x="16.35" y="68.50" width="4.05" height="9.25" fill="#383838"/><rect x="21.60" y="68.50" width="4.05" height="9.25" fill="#222222"/><rect x="26.85" y="68.50" width="4.05" height="9.25" fill="#141414"/><rect x="32.10" y="68.50" width="4.05" height="9.25" fill="#363636"/><rect x="37.35" y="68.50" width="4.05" height="9.25" fill="#8c8c8c"/><rect x="47.85" y="68.50" width="4.05" height="9.25" fill="#5a5a5a"/><rect x="53.10" y="68.50" width="4.05" height="9.25" fill="#787878"/><rect x="58.35" y="68.50" width="4.05" height="9.25" fill="#848484"/><rect x="63.60" y="68.50" width="4.05" height="9.25" fill="#747474"/><rect x="68.85" y="68.50" width="4.05" height="9.25" fill="#808080"/><rect x="11.10" y="79.75" width="4.05" height="9.25" fill="#888888"/><rect x="16.35" y="79.75" width="4.05" height="9.25" fill="#555555"/><rect x="21.60" y="79.75" width="4.05" height="9.25" fill="#6a6a6a"/><rect x="26.85" y="79.75" width="4.05" height="9.25" fill="#202020"/><rect x="32.10" y="79.75" width="4.05" height="9.25" fill="#545454"/><rect x="37.35" y="79.75" width="4.05" height="9.25" fill="#a8a8a8"/><rect x="47.85" y="79.75" width="4.05" height="9.25" fill="#505050"/><rect x="53.10" y="79.75" width="4.05" height="9.25" fill="#888888"/><rect x="58.35" y="79.75" width="4.05" height="9.25" fill="#747474"/><rect x="63.60" y="79.75" width="4.05" height="9.25" fill="#9e9e9e"/><rect x="68.85" y="79.75" width="4.05" height="9.25" fill="#969696"/><rect x="11.10" y="91.00" width="4.05" height="9.25" fill="#787878"/><rect x="16.35" y="91.00" width="4.05" height="9.25" fill="#1e1e1e"/><rect x="21.60" y="91.00" width="4.05" height="9.25" fill="#1c1c1c"/><rect x="26.85" y="91.00" width="4.05" height="9.25" fill="#101010"/><rect x="32.10" y="91.00" width="4.05" height="9.25" fill="#1a1a1a"/><rect x="37.35" y="91.00" width="4.05" height="9.25" fill="#e0e0e0"/><rect x="42.60" y="91.00" width="4.05" height="9.25" fill="#fcfcfc"/><rect x="47.85" y="91.00" width="4.05" height="9.25" fill="#444444"/><rect x="53.10" y="91.00" width="4.05" height="9.25" fill="#6a6a6a"/><rect x="58.35" y="91.00" width="4.05" height="9.25" fill="#888888"/><rect x="63.60" y="91.00" width="4.05" height="9.25" fill="#969696"/><rect x="68.85" y="91.00" width="4.05" height="9.25" fill="#9e9e9e"/><rect x="11.10" y="102.25" width="4.05" height="9.25" fill="#121212"/><rect x="16.35" y="102.25" width="4.05" height="9.25" fill="#060606"/><rect x="21.60" y="102.25" width="4.05" height="9.25" fill="#0e0e0e"/><rect x="26.85" y="102.25" width="4.05" height="9.25" fill="#505050"/><rect x="32.10" y="102.25" width="4.05" height="9.25" fill="#040404"/><rect x="37.35" y="102.25" width="4.05" height="9.25" fill="#141414"/><rect x="42.60" y="102.25" width="4.05" height="9.25" fill="#484848"/><rect x="47.85" y="102.25" width="4.05" height="9.25" fill="#6a6a6a"/><rect x="53.10" y="102.25" width="4.05" height="9.25" fill="#929292"/><rect x="58.35" y="102.25" width="4.05" height="9.25" fill="#969696"/><rect x="63.60" y="102.25" width="4.05" height="9.25" fill="#909090"/><rect x="68.85" y="102.25" width="4.05" height="9.25" fill="#9e9e9e"/><rect x="0.60" y="113.50" width="4.05" height="9.25" fill="#fcfcfc"/><rect x="5.85" y="113.50" width="4.05" height="9.25" fill="#fcfcfc"/><rect x="11.10" y="113.50" width="4.05" height="9.25" fill="#000000"/><rect x="16.35" y="113.50" width="4.05" height="9.25" fill="#363636"/><rect x="21.60" y="113.50" width="4.05" height="9.25" fill="#e6e6e6"/><rect x="26.85" y="113.50" width="4.05" height="9.25" fill="#aaaaaa"/><rect x="32.10" y="113.50" width="4.05" height="9.25" fill="#c4c4c4"/><rect x="37.35" y="113.50" width="4.05" height="9.25" fill="#dadada"/><rect x="42.60" y="113.50" width="4.05" height="9.25" fill="#e2e2e2"/><rect x="47.85" y="113.50" width="4.05" height="9.25" fill="#f4f4f4"/><rect x="53.10" y="113.50" width="4.05" height="9.25" fill="#eeeeee"/><rect x="58.35" y="113.50" width="4.05" height="9.25" fill="#e6e6e6"/><rect x="63.60" y="113.50" width="4.05" height="9.25" fill="#d0d0d0"/><rect x="68.85" y="113.50" width="4.05" height="9.25" fill="#aaaaaa"/><rect x="74.10" y="113.50" width="4.05" height="9.25" fill="#fcfcfc"/><rect x="79.35" y="113.50" width="4.05" height="9.25" fill="#fcfcfc"/><rect x="5.85" y="124.75" width="4.05" height="9.25" fill="#f8f8f8"/><rect x="11.10" y="124.75" width="4.05" height="9.25" fill="#2c2c2c"/><rect x="16.35" y="124.75" width="4.05" height="9.25" fill="#eaeaea"/><rect x="21.60" y="124.75" width="4.05" height="9.25" fill="#cacaca"/><rect x="26.85" y="124.75" width="4.05" height="9.25" fill="#d4d4d4"/><rect x="32.10" y="124.75" width="4.05" height="9.25" fill="#d6d6d6"/><rect x="37.35" y="124.75" width="4.05" height="9.25" fill="#f6f6f6"/><rect x="42.60" y="124.75" width="4.05" height="9.25" fill="#fcfcfc"/><rect x="47.85" y="124.75" width="4.05" height="9.25" fill="#fcfcfc"/><rect x="53.10" y="124.75" width="4.05" height="9.25" fill="#fcfcfc"/><rect x="58.35" y="124.75" width="4.05" height="9.25" fill="#f8f8f8"/><rect x="63.60" y="124.75" width="4.05" height="9.25" fill="#fafafa"/><rect x="68.85" y="124.75" width="4.05" height="9.25" fill="#c4c4c4"/><rect x="74.10" y="124.75" width="4.05" height="9.25" fill="#f4f4f4"/><rect x="5.85" y="136.00" width="4.05" height="9.25" fill="#aaaaaa"/><rect x="11.10" y="136.00" width="4.05" height="9.25" fill="#c8c8c8"/><rect x="16.35" y="136.00" width="4.05" height="9.25" fill="#dcdcdc"/><rect x="21.60" y="136.00" width="4.05" height="9.25" fill="#d0d0d0"/><rect x="26.85" y="136.00" width="4.05" height="9.25" fill="#dcdcdc"/><rect x="32.10" y="136.00" width="4.05" height="9.25" fill="#e0e0e0"/><rect x="37.35" y="136.00" width="4.05" height="9.25" fill="#eeeeee"/><rect x="42.60" y="136.00" width="4.05" height="9.25" fill="#fcfcfc"/><rect x="47.85" y="136.00" width="4.05" height="9.25" fill="#fcfcfc"/><rect x="53.10" y="136.00" width="4.05" height="9.25" fill="#f8f8f8"/><rect x="58.35" y="136.00" width="4.05" height="9.25" fill="#cecece"/><rect x="63.60" y="136.00" width="4.05" height="9.25" fill="#f4f4f4"/><rect x="68.85" y="136.00" width="4.05" height="9.25" fill="#eeeeee"/><rect x="74.10" y="136.00" width="4.05" height="9.25" fill="#c8c8c8"/><rect x="5.85" y="147.25" width="4.05" height="9.25" fill="#f2f2f2"/><rect x="11.10" y="147.25" width="4.05" height="9.25" fill="#fafafa"/><rect x="16.35" y="147.25" width="4.05" height="9.25" fill="#f8f8f8"/><rect x="21.60" y="147.25" width="4.05" height="9.25" fill="#f8f8f8"/><rect x="26.85" y="147.25" width="4.05" height="9.25" fill="#f8f8f8"/><rect x="32.10" y="147.25" width="4.05" height="9.25" fill="#fafafa"/><rect x="37.35" y="147.25" width="4.05" height="9.25" fill="#f8f8f8"/><rect x="58.35" y="147.25" width="4.05" height="9.25" fill="#fcfcfc"/><rect x="63.60" y="147.25" width="4.05" height="9.25" fill="#f8f8f8"/><rect x="68.85" y="147.25" width="4.05" height="9.25" fill="#fafafa"/><rect x="74.10" y="147.25" width="4.05" height="9.25" fill="#f6f6f6"/>
<rect x="0.0" y="0.0" width="84.0" height="180.0" rx="0" fill="none" stroke="#383838" stroke-width="1.6" />
</g>
<polygon points="1555.3,531.5 1648.7,473.5 1648.7,674.3 1555.3,732.3" fill="#fff" stroke="#c0c0c0" stroke-width="1" />
<g transform="matrix(1,-0.6210,0,1,1559.80,539.00)">
<rect x="11.10" y="46.00" width="4.05" height="9.25" fill="#fafafa"/><rect x="21.60" y="46.00" width="4.05" height="9.25" fill="#a6a6a6"/><rect x="26.85" y="46.00" width="4.05" height="9.25" fill="#808080"/><rect x="32.10" y="46.00" width="4.05" height="9.25" fill="#5e5e5e"/><rect x="42.60" y="46.00" width="4.05" height="9.25" fill="#fcfcfc"/><rect x="47.85" y="46.00" width="4.05" height="9.25" fill="#e8e8e8"/><rect x="53.10" y="46.00" width="4.05" height="9.25" fill="#5a5a5a"/><rect x="58.35" y="46.00" width="4.05" height="9.25" fill="#888888"/><rect x="63.60" y="46.00" width="4.05" height="9.25" fill="#dadada"/><rect x="68.85" y="46.00" width="4.05" height="9.25" fill="#fcfcfc"/><rect x="11.10" y="57.25" width="4.05" height="9.25" fill="#f8f8f8"/><rect x="16.35" y="57.25" width="4.05" height="9.25" fill="#666666"/><rect x="21.60" y="57.25" width="4.05" height="9.25" fill="#404040"/><rect x="26.85" y="57.25" width="4.05" height="9.25" fill="#262626"/><rect x="32.10" y="57.25" width="4.05" height="9.25" fill="#222222"/><rect x="37.35" y="57.25" width="4.05" height="9.25" fill="#9a9a9a"/><rect x="47.85" y="57.25" width="4.05" height="9.25" fill="#6a6a6a"/><rect x="53.10" y="57.25" width="4.05" height="9.25" fill="#4a4a4a"/><rect x="58.35" y="57.25" width="4.05" height="9.25" fill="#909090"/><rect x="63.60" y="57.25" width="4.05" height="9.25" fill="#8a8a8a"/><rect x="68.85" y="57.25" width="4.05" height="9.25" fill="#909090"/><rect x="11.10" y="68.50" width="4.05" height="9.25" fill="#888888"/><rect x="16.35" y="68.50" width="4.05" height="9.25" fill="#383838"/><rect x="21.60" y="68.50" width="4.05" height="9.25" fill="#222222"/><rect x="26.85" y="68.50" width="4.05" height="9.25" fill="#141414"/><rect x="32.10" y="68.50" width="4.05" height="9.25" fill="#363636"/><rect x="37.35" y="68.50" width="4.05" height="9.25" fill="#8c8c8c"/><rect x="47.85" y="68.50" width="4.05" height="9.25" fill="#5a5a5a"/><rect x="53.10" y="68.50" width="4.05" height="9.25" fill="#787878"/><rect x="58.35" y="68.50" width="4.05" height="9.25" fill="#848484"/><rect x="63.60" y="68.50" width="4.05" height="9.25" fill="#747474"/><rect x="68.85" y="68.50" width="4.05" height="9.25" fill="#808080"/><rect x="11.10" y="79.75" width="4.05" height="9.25" fill="#888888"/><rect x="16.35" y="79.75" width="4.05" height="9.25" fill="#555555"/><rect x="21.60" y="79.75" width="4.05" height="9.25" fill="#6a6a6a"/><rect x="26.85" y="79.75" width="4.05" height="9.25" fill="#202020"/><rect x="32.10" y="79.75" width="4.05" height="9.25" fill="#545454"/><rect x="37.35" y="79.75" width="4.05" height="9.25" fill="#a8a8a8"/><rect x="47.85" y="79.75" width="4.05" height="9.25" fill="#505050"/><rect x="53.10" y="79.75" width="4.05" height="9.25" fill="#888888"/><rect x="58.35" y="79.75" width="4.05" height="9.25" fill="#747474"/><rect x="63.60" y="79.75" width="4.05" height="9.25" fill="#9e9e9e"/><rect x="68.85" y="79.75" width="4.05" height="9.25" fill="#969696"/><rect x="11.10" y="91.00" width="4.05" height="9.25" fill="#787878"/><rect x="16.35" y="91.00" width="4.05" height="9.25" fill="#1e1e1e"/><rect x="21.60" y="91.00" width="4.05" height="9.25" fill="#1c1c1c"/><rect x="26.85" y="91.00" width="4.05" height="9.25" fill="#101010"/><rect x="32.10" y="91.00" width="4.05" height="9.25" fill="#1a1a1a"/><rect x="37.35" y="91.00" width="4.05" height="9.25" fill="#e0e0e0"/><rect x="42.60" y="91.00" width="4.05" height="9.25" fill="#fcfcfc"/><rect x="47.85" y="91.00" width="4.05" height="9.25" fill="#444444"/><rect x="53.10" y="91.00" width="4.05" height="9.25" fill="#6a6a6a"/><rect x="58.35" y="91.00" width="4.05" height="9.25" fill="#888888"/><rect x="63.60" y="91.00" width="4.05" height="9.25" fill="#969696"/><rect x="68.85" y="91.00" width="4.05" height="9.25" fill="#9e9e9e"/><rect x="11.10" y="102.25" width="4.05" height="9.25" fill="#121212"/><rect x="16.35" y="102.25" width="4.05" height="9.25" fill="#060606"/><rect x="21.60" y="102.25" width="4.05" height="9.25" fill="#0e0e0e"/><rect x="26.85" y="102.25" width="4.05" height="9.25" fill="#505050"/><rect x="32.10" y="102.25" width="4.05" height="9.25" fill="#040404"/><rect x="37.35" y="102.25" width="4.05" height="9.25" fill="#141414"/><rect x="42.60" y="102.25" width="4.05" height="9.25" fill="#484848"/><rect x="47.85" y="102.25" width="4.05" height="9.25" fill="#6a6a6a"/><rect x="53.10" y="102.25" width="4.05" height="9.25" fill="#929292"/><rect x="58.35" y="102.25" width="4.05" height="9.25" fill="#969696"/><rect x="63.60" y="102.25" width="4.05" height="9.25" fill="#909090"/><rect x="68.85" y="102.25" width="4.05" height="9.25" fill="#9e9e9e"/><rect x="0.60" y="113.50" width="4.05" height="9.25" fill="#fcfcfc"/><rect x="5.85" y="113.50" width="4.05" height="9.25" fill="#fcfcfc"/><rect x="11.10" y="113.50" width="4.05" height="9.25" fill="#000000"/><rect x="16.35" y="113.50" width="4.05" height="9.25" fill="#363636"/><rect x="21.60" y="113.50" width="4.05" height="9.25" fill="#e6e6e6"/><rect x="26.85" y="113.50" width="4.05" height="9.25" fill="#aaaaaa"/><rect x="32.10" y="113.50" width="4.05" height="9.25" fill="#c4c4c4"/><rect x="37.35" y="113.50" width="4.05" height="9.25" fill="#dadada"/><rect x="42.60" y="113.50" width="4.05" height="9.25" fill="#e2e2e2"/><rect x="47.85" y="113.50" width="4.05" height="9.25" fill="#f4f4f4"/><rect x="53.10" y="113.50" width="4.05" height="9.25" fill="#eeeeee"/><rect x="58.35" y="113.50" width="4.05" height="9.25" fill="#e6e6e6"/><rect x="63.60" y="113.50" width="4.05" height="9.25" fill="#d0d0d0"/><rect x="68.85" y="113.50" width="4.05" height="9.25" fill="#aaaaaa"/><rect x="74.10" y="113.50" width="4.05" height="9.25" fill="#fcfcfc"/><rect x="79.35" y="113.50" width="4.05" height="9.25" fill="#fcfcfc"/><rect x="5.85" y="124.75" width="4.05" height="9.25" fill="#f8f8f8"/><rect x="11.10" y="124.75" width="4.05" height="9.25" fill="#2c2c2c"/><rect x="16.35" y="124.75" width="4.05" height="9.25" fill="#eaeaea"/><rect x="21.60" y="124.75" width="4.05" height="9.25" fill="#cacaca"/><rect x="26.85" y="124.75" width="4.05" height="9.25" fill="#d4d4d4"/><rect x="32.10" y="124.75" width="4.05" height="9.25" fill="#d6d6d6"/><rect x="37.35" y="124.75" width="4.05" height="9.25" fill="#f6f6f6"/><rect x="42.60" y="124.75" width="4.05" height="9.25" fill="#fcfcfc"/><rect x="47.85" y="124.75" width="4.05" height="9.25" fill="#fcfcfc"/><rect x="53.10" y="124.75" width="4.05" height="9.25" fill="#fcfcfc"/><rect x="58.35" y="124.75" width="4.05" height="9.25" fill="#f8f8f8"/><rect x="63.60" y="124.75" width="4.05" height="9.25" fill="#fafafa"/><rect x="68.85" y="124.75" width="4.05" height="9.25" fill="#c4c4c4"/><rect x="74.10" y="124.75" width="4.05" height="9.25" fill="#f4f4f4"/><rect x="5.85" y="136.00" width="4.05" height="9.25" fill="#aaaaaa"/><rect x="11.10" y="136.00" width="4.05" height="9.25" fill="#c8c8c8"/><rect x="16.35" y="136.00" width="4.05" height="9.25" fill="#dcdcdc"/><rect x="21.60" y="136.00" width="4.05" height="9.25" fill="#d0d0d0"/><rect x="26.85" y="136.00" width="4.05" height="9.25" fill="#dcdcdc"/><rect x="32.10" y="136.00" width="4.05" height="9.25" fill="#e0e0e0"/><rect x="37.35" y="136.00" width="4.05" height="9.25" fill="#eeeeee"/><rect x="42.60" y="136.00" width="4.05" height="9.25" fill="#fcfcfc"/><rect x="47.85" y="136.00" width="4.05" height="9.25" fill="#fcfcfc"/><rect x="53.10" y="136.00" width="4.05" height="9.25" fill="#f8f8f8"/><rect x="58.35" y="136.00" width="4.05" height="9.25" fill="#cecece"/><rect x="63.60" y="136.00" width="4.05" height="9.25" fill="#f4f4f4"/><rect x="68.85" y="136.00" width="4.05" height="9.25" fill="#eeeeee"/><rect x="74.10" y="136.00" width="4.05" height="9.25" fill="#c8c8c8"/><rect x="5.85" y="147.25" width="4.05" height="9.25" fill="#f2f2f2"/><rect x="11.10" y="147.25" width="4.05" height="9.25" fill="#fafafa"/><rect x="16.35" y="147.25" width="4.05" height="9.25" fill="#f8f8f8"/><rect x="21.60" y="147.25" width="4.05" height="9.25" fill="#f8f8f8"/><rect x="26.85" y="147.25" width="4.05" height="9.25" fill="#f8f8f8"/><rect x="32.10" y="147.25" width="4.05" height="9.25" fill="#fafafa"/><rect x="37.35" y="147.25" width="4.05" height="9.25" fill="#f8f8f8"/><rect x="58.35" y="147.25" width="4.05" height="9.25" fill="#fcfcfc"/><rect x="63.60" y="147.25" width="4.05" height="9.25" fill="#f8f8f8"/><rect x="68.85" y="147.25" width="4.05" height="9.25" fill="#fafafa"/><rect x="74.10" y="147.25" width="4.05" height="9.25" fill="#f6f6f6"/>
<rect x="0.0" y="0.0" width="84.0" height="180.0" rx="0" fill="none" stroke="#383838" stroke-width="1.6" />
</g>
<circle cx="1516.3" cy="340.5" r="3.3" fill="#000" stroke="none" stroke-width="0" />
<circle cx="1532.0" cy="340.5" r="3.3" fill="#000" stroke="none" stroke-width="0" />
<circle cx="1548.0" cy="340.5" r="3.3" fill="#000" stroke="none" stroke-width="0" />
<circle cx="1516.3" cy="602.7" r="3.3" fill="#000" stroke="none" stroke-width="0" />
<circle cx="1532.0" cy="602.7" r="3.3" fill="#000" stroke="none" stroke-width="0" />
<circle cx="1548.0" cy="602.7" r="3.3" fill="#000" stroke="none" stroke-width="0" />
<rect x="1797.0" y="196.0" width="723.0" height="494.0" rx="0" fill="#9dc3e6" stroke="#2f5597" stroke-width="4.3" />
<line x1="2505.0" y1="260.6" x2="2520.0" y2="260.6" stroke="#000" stroke-width="3.5" />
<line x1="2505.0" y1="339.2" x2="2520.0" y2="339.2" stroke="#000" stroke-width="3.5" />
<line x1="2505.0" y1="403.3" x2="2520.0" y2="403.3" stroke="#000" stroke-width="3.5" />
<line x1="2505.0" y1="546.1" x2="2520.0" y2="546.1" stroke="#000" stroke-width="3.5" />
<line x1="2505.0" y1="620.7" x2="2520.0" y2="620.7" stroke="#000" stroke-width="3.5" />
<rect x="1781.6" y="214.0" width="723.4" height="495.0" rx="0" fill="#9dc3e6" stroke="#2f5597" stroke-width="4.3" />
<line x1="2490.0" y1="280.6" x2="2505.0" y2="280.6" stroke="#000" stroke-width="3.5" />
<line x1="2490.0" y1="359.2" x2="2505.0" y2="359.2" stroke="#000" stroke-width="3.5" />
<line x1="2490.0" y1="423.3" x2="2505.0" y2="423.3" stroke="#000" stroke-width="3.5" />
<line x1="2490.0" y1="566.1" x2="2505.0" y2="566.1" stroke="#000" stroke-width="3.5" />
<line x1="2490.0" y1="640.7" x2="2505.0" y2="640.7" stroke="#000" stroke-width="3.5" />
<rect x="1765.0" y="233.6" width="723.0" height="495.0" rx="0" fill="#9dc3e6" stroke="#2f5597" stroke-width="4.3" />
<line x1="2473.0" y1="300.6" x2="2488.0" y2="300.6" stroke="#000" stroke-width="3.5" />
<line x1="2473.0" y1="379.2" x2="2488.0" y2="379.2" stroke="#000" stroke-width="3.5" />
<line x1="2473.0" y1="443.3" x2="2488.0" y2="443.3" stroke="#000" stroke-width="3.5" />
<line x1="2473.0" y1="586.1" x2="2488.0" y2="586.1" stroke="#000" stroke-width="3.5" />
<line x1="2473.0" y1="660.7" x2="2488.0" y2="660.7" stroke="#000" stroke-width="3.5" />
<rect x="1749.4" y="255.0" width="723.6" height="495.0" rx="0" fill="#9dc3e6" stroke="#2f5597" stroke-width="4.3" />
<rect x="1768.0" y="276.0" width="535.6" height="450.5" rx="72" fill="#b4c7e7" stroke="#44546a" stroke-width="3.8" stroke-dasharray="14,8"/>
<rect x="2315.6" y="276.5" width="142.4" height="450.0" rx="28" fill="#ffe699" stroke="#f4b183" stroke-width="3.2" stroke-dasharray="10,5"/>
<line x1="1739.0" y1="322.0" x2="1796.0" y2="322.0" stroke="#000" stroke-width="4.2" />
<line x1="2276.0" y1="320.6" x2="2471.0" y2="320.6" stroke="#000" stroke-width="4.2" />
<line x1="1739.0" y1="400.5" x2="1796.0" y2="400.5" stroke="#000" stroke-width="4.2" />
<line x1="2276.0" y1="399.2" x2="2471.0" y2="399.2" stroke="#000" stroke-width="4.2" />
<line x1="1739.0" y1="469.5" x2="1796.0" y2="469.5" stroke="#000" stroke-width="4.2" />
<line x1="2276.0" y1="463.3" x2="2471.0" y2="463.3" stroke="#000" stroke-width="4.2" />
<line x1="1739.0" y1="611.0" x2="1796.0" y2="611.0" stroke="#000" stroke-width="4.2" />
<line x1="2276.0" y1="606.1" x2="2471.0" y2="606.1" stroke="#000" stroke-width="4.2" />
<line x1="1739.0" y1="684.0" x2="1796.0" y2="684.0" stroke="#000" stroke-width="4.2" />
<line x1="2276.0" y1="680.7" x2="2471.0" y2="680.7" stroke="#000" stroke-width="4.2" />
<rect x="1795.7" y="293.5" width="190.7" height="57.0" rx="12" fill="#c5e0b4" stroke="#548235" stroke-width="4.3" />
<rect x="2076.5" y="293.5" width="199.3" height="57.0" rx="12" fill="#f8cbad" stroke="#c55a11" stroke-width="4.3" />
<rect x="2008.7" y="321.0" width="4.6" height="4.6" rx="0" fill="#000" stroke="none" stroke-width="0" />
<rect x="2033.7" y="321.0" width="4.6" height="4.6" rx="0" fill="#000" stroke="none" stroke-width="0" />
<rect x="2057.7" y="321.0" width="4.6" height="4.6" rx="0" fill="#000" stroke="none" stroke-width="0" />
<text x="1822" y="331.0" font-family='"Liberation Serif", serif' font-size="50" font-style="italic">x</text>
<text x="1849" y="341.0" font-family='"Liberation Sans", sans-serif' font-size="34">1</text>
<line x1="1880.5" y1="318.0" x2="1910.5" y2="318.0" stroke="#000" stroke-width="3.8" />
<line x1="1895.5" y1="303.0" x2="1895.5" y2="333.0" stroke="#000" stroke-width="3.8" />
<text x="1931" y="335.0" font-family='"Liberation Serif", serif' font-size="46" font-style="italic">θ</text>
<text x="1955" y="341.0" font-family='"Liberation Sans", sans-serif' font-size="32">1</text>
<text x="1681" y="346.0" font-family='"Liberation Serif", serif' font-size="49" font-weight="bold">Q<tspan font-size="36" dy="8">1</tspan></text>
<rect x="1795.7" y="367.5" width="190.7" height="57.0" rx="12" fill="#c5e0b4" stroke="#548235" stroke-width="4.3" />
<rect x="2076.5" y="367.5" width="199.3" height="57.0" rx="12" fill="#f8cbad" stroke="#c55a11" stroke-width="4.3" />
<rect x="2008.7" y="395.0" width="4.6" height="4.6" rx="0" fill="#000" stroke="none" stroke-width="0" />
<rect x="2033.7" y="395.0" width="4.6" height="4.6" rx="0" fill="#000" stroke="none" stroke-width="0" />
<rect x="2057.7" y="395.0" width="4.6" height="4.6" rx="0" fill="#000" stroke="none" stroke-width="0" />
<text x="1822" y="405.0" font-family='"Liberation Serif", serif' font-size="50" font-style="italic">x</text>
<text x="1849" y="415.0" font-family='"Liberation Sans", sans-serif' font-size="34">2</text>
<line x1="1880.5" y1="392.0" x2="1910.5" y2="392.0" stroke="#000" stroke-width="3.8" />
<line x1="1895.5" y1="377.0" x2="1895.5" y2="407.0" stroke="#000" stroke-width="3.8" />
<text x="1931" y="409.0" font-family='"Liberation Serif", serif' font-size="46" font-style="italic">θ</text>
<text x="1955" y="415.0" font-family='"Liberation Sans", sans-serif' font-size="32">2</text>
<text x="1681" y="424.5" font-family='"Liberation Serif", serif' font-size="49" font-weight="bold">Q<tspan font-size="36" dy="8">2</tspan></text>
<rect x="1795.7" y="439.5" width="190.7" height="57.0" rx="12" fill="#c5e0b4" stroke="#548235" stroke-width="4.3" />
<rect x="2076.5" y="439.5" width="199.3" height="57.0" rx="12" fill="#f8cbad" stroke="#c55a11" stroke-width="4.3" />
<rect x="2008.7" y="467.0" width="4.6" height="4.6" rx="0" fill="#000" stroke="none" stroke-width="0" />
<rect x="2033.7" y="467.0" width="4.6" height="4.6" rx="0" fill="#000" stroke="none" stroke-width="0" />
<rect x="2057.7" y="467.0" width="4.6" height="4.6" rx="0" fill="#000" stroke="none" stroke-width="0" />
<text x="1822" y="477.0" font-family='"Liberation Serif", serif' font-size="50" font-style="italic">x</text>
<text x="1849" y="487.0" font-family='"Liberation Sans", sans-serif' font-size="34">3</text>
<line x1="1880.5" y1="464.0" x2="1910.5" y2="464.0" stroke="#000" stroke-width="3.8" />
<line x1="1895.5" y1="449.0" x2="1895.5" y2="479.0" stroke="#000" stroke-width="3.8" />
<text x="1931" y="481.0" font-family='"Liberation Serif", serif' font-size="46" font-style="italic">θ</text>
<text x="1955" y="487.0" font-family='"Liberation Sans", sans-serif' font-size="32">3</text>
<text x="1681" y="493.5" font-family='"Liberation Serif", serif' font-size="49" font-weight="bold">Q<tspan font-size="36" dy="8">3</tspan></text>
<rect x="1795.7" y="579.5" width="190.7" height="57.0" rx="12" fill="#c5e0b4" stroke="#548235" stroke-width="4.3" />
<rect x="2076.5" y="579.5" width="199.3" height="57.0" rx="12" fill="#f8cbad" stroke="#c55a11" stroke-width="4.3" />
<rect x="2008.7" y="607.0" width="4.6" height="4.6" rx="0" fill="#000" stroke="none" stroke-width="0" />
<rect x="2033.7" y="607.0" width="4.6" height="4.6" rx="0" fill="#000" stroke="none" stroke-width="0" />
<rect x="2057.7" y="607.0" width="4.6" height="4.6" rx="0" fill="#000" stroke="none" stroke-width="0" />
<text x="1822" y="617.0" font-family='"Liberation Serif", serif' font-size="50" font-style="italic">x</text>
<text x="1849" y="627.0" font-family='"Liberation Sans", sans-serif' font-size="34">9</text>
<line x1="1880.5" y1="604.0" x2="1910.5" y2="604.0" stroke="#000" stroke-width="3.8" />
<line x1="1895.5" y1="589.0" x2="1895.5" y2="619.0" stroke="#000" stroke-width="3.8" />
<text x="1931" y="621.0" font-family='"Liberation Serif", serif' font-size="46" font-style="italic">θ</text>
<text x="1955" y="627.0" font-family='"Liberation Sans", sans-serif' font-size="32">9</text>
<text x="1681" y="635.0" font-family='"Liberation Serif", serif' font-size="49" font-weight="bold">Q<tspan font-size="36" dy="8">9</tspan></text>
<rect x="1795.7" y="649.5" width="190.7" height="57.0" rx="12" fill="#c5e0b4" stroke="#548235" stroke-width="4.3" />
<rect x="2076.5" y="649.5" width="199.3" height="57.0" rx="12" fill="#f8cbad" stroke="#c55a11" stroke-width="4.3" />
<rect x="2008.7" y="677.0" width="4.6" height="4.6" rx="0" fill="#000" stroke="none" stroke-width="0" />
<rect x="2033.7" y="677.0" width="4.6" height="4.6" rx="0" fill="#000" stroke="none" stroke-width="0" />
<rect x="2057.7" y="677.0" width="4.6" height="4.6" rx="0" fill="#000" stroke="none" stroke-width="0" />
<text x="1806" y="687.0" font-family='"Liberation Serif", serif' font-size="50" font-style="italic">x</text>
<text x="1829" y="699.0" font-family='"Liberation Sans", sans-serif' font-size="34">10</text>
<line x1="1882.0" y1="674.0" x2="1912.0" y2="674.0" stroke="#000" stroke-width="3.8" />
<line x1="1897.0" y1="659.0" x2="1897.0" y2="689.0" stroke="#000" stroke-width="3.8" />
<text x="1925" y="691.0" font-family='"Liberation Serif", serif' font-size="46" font-style="italic">θ</text>
<text x="1948" y="699.0" font-family='"Liberation Sans", sans-serif' font-size="32">10</text>
<text x="1670" y="708.0" font-family='"Liberation Serif", serif' font-size="49" font-weight="bold">Q<tspan font-size="36" dy="8">10</tspan></text>
<circle cx="1707.5" cy="533.7" r="5.5" fill="#000" stroke="none" stroke-width="0" />
<circle cx="1707.5" cy="556.0" r="5.5" fill="#000" stroke="none" stroke-width="0" />
<circle cx="1707.5" cy="578.6" r="5.5" fill="#000" stroke="none" stroke-width="0" />
<line x1="2353.0" y1="320.6" x2="2353.0" y2="399.2" stroke="#000" stroke-width="4.3" />
<circle cx="2353.0" cy="320.6" r="16.5" fill="#000" stroke="none" stroke-width="0" />
<circle cx="2353.0" cy="399.2" r="21.5" fill="#fff" stroke="#000" stroke-width="4.3" />
<line x1="2331.5" y1="399.2" x2="2374.5" y2="399.2" stroke="#000" stroke-width="4.3" />
<line x1="2353.0" y1="377.7" x2="2353.0" y2="420.7" stroke="#000" stroke-width="4.3" />
<line x1="2421.0" y1="399.2" x2="2421.0" y2="463.3" stroke="#000" stroke-width="4.3" />
<circle cx="2421.0" cy="399.2" r="16.5" fill="#000" stroke="none" stroke-width="0" />
<circle cx="2421.0" cy="463.3" r="21.5" fill="#fff" stroke="#000" stroke-width="4.3" />
<line x1="2399.5" y1="463.3" x2="2442.5" y2="463.3" stroke="#000" stroke-width="4.3" />
<line x1="2421.0" y1="441.8" x2="2421.0" y2="484.8" stroke="#000" stroke-width="4.3" />
<line x1="2353.0" y1="463.3" x2="2353.0" y2="530.0" stroke="#000" stroke-width="4.3" />
<circle cx="2353.0" cy="463.3" r="16.5" fill="#000" stroke="none" stroke-width="0" />
<line x1="2420.0" y1="560.0" x2="2420.0" y2="606.1" stroke="#000" stroke-width="4.3" />
<circle cx="2420.0" cy="606.1" r="21.5" fill="#fff" stroke="#000" stroke-width="4.3" />
<line x1="2398.5" y1="606.1" x2="2441.5" y2="606.1" stroke="#000" stroke-width="4.3" />
<line x1="2420.0" y1="584.6" x2="2420.0" y2="627.6" stroke="#000" stroke-width="4.3" />
<line x1="2353.0" y1="606.1" x2="2353.0" y2="680.7" stroke="#000" stroke-width="4.3" />
<circle cx="2353.0" cy="606.1" r="16.5" fill="#000" stroke="none" stroke-width="0" />
<circle cx="2353.0" cy="680.7" r="21.5" fill="#fff" stroke="#000" stroke-width="4.3" />
<line x1="2331.5" y1="680.7" x2="2374.5" y2="680.7" stroke="#000" stroke-width="4.3" />
<line x1="2353.0" y1="659.2" x2="2353.0" y2="702.2" stroke="#000" stroke-width="4.3" />
<path d="M1738,513 C1850,540 1950,548 2000,544 C2100,536 2180,512 2254,512 C2340,512 2420,530 2491,543 L2487,568 C2420,556 2340,538 2254,538 C2180,538 2100,562 2000,570 C1950,574 1850,566 1736,537 Z" fill="#fff" stroke="none" stroke-width="0" />
<path d="M1738,513 C1850,540 1950,548 2000,544 C2100,536 2180,512 2254,512 C2340,512 2420,530 2491,543" fill="none" stroke="#000" stroke-width="4" />
<path d="M2487,568 C2420,556 2340,538 2254,538 C2180,538 2100,562 2000,570 C1950,574 1850,566 1736,537" fill="none" stroke="#000" stroke-width="4" />
<polygon points="2474.0,517.5 2505.0,522.4 2500.7,546.4 2474.0,542.0" fill="#fff" stroke="none" stroke-width="0" />
<line x1="2474.0" y1="517.5" x2="2505.0" y2="522.4" stroke="#000" stroke-width="3.8" />
<line x1="2474.0" y1="542.0" x2="2500.7" y2="546.4" stroke="#000" stroke-width="3.8" />
<polygon points="2489.0,496.0 2522.0,502.5 2517.8,528.0 2489.0,521.8" fill="#fff" stroke="none" stroke-width="0" />
<line x1="2489.0" y1="496.0" x2="2522.0" y2="502.5" stroke="#000" stroke-width="3.8" />
<line x1="2489.0" y1="521.8" x2="2517.8" y2="528.0" stroke="#000" stroke-width="3.8" />
<polygon points="2505.0,477.9 2533.0,482.0 2533.0,508.9 2505.0,504.6" fill="#fff" stroke="none" stroke-width="0" />
<line x1="2505.0" y1="477.9" x2="2533.0" y2="482.0" stroke="#000" stroke-width="3.8" />
<line x1="2505.0" y1="504.6" x2="2533.0" y2="508.9" stroke="#000" stroke-width="3.8" />
<rect x="2533.0" y="452.0" width="85.6" height="79.5" rx="0" fill="#e4e4fc" stroke="#000" stroke-width="4.5" />
<path d="M2542,506 Q2578,470 2614,504" fill="none" stroke="#000" stroke-width="4" />
<line x1="2563.0" y1="525.0" x2="2591.0" y2="466.0" stroke="#000" stroke-width="4.5" />
<polygon points="2597.0,455.0 2582.0,472.0 2598.0,478.0" fill="#000" stroke="none" stroke-width="0" />
<text x="2549" y="581" font-family='"Liberation Serif", serif' font-size="49" font-weight="bold">Q<tspan font-size="36" dy="8">5</tspan></text>
<path d="M2462,763 Q2485,780 2505,757 Q2520,742 2539,756 M2539,756 Q2522,740 2530,722 Q2550,705 2547,692 Q2545,684 2535,681" fill="none" stroke="#000" stroke-width="3.5" stroke-linecap="round"/>
<text x="2546.0" y="765.0" font-family='"Liberation Serif", serif' font-size="60" text-anchor="start" font-weight="normal" font-style="italic" fill="#000" >ℓ</text>
<rect x="2179.0" y="86.6" width="113.0" height="57.0" rx="11" fill="#c5e0b4" stroke="#548235" stroke-width="4.3" />
<text x="2300" y="126" font-family='"Liberation Serif", serif' font-size="46" font-style="italic">R<tspan font-size="32" dy="9">x</tspan></text>
<rect x="2412.0" y="85.0" width="112.0" height="57.0" rx="11" fill="#f8cbad" stroke="#c55a11" stroke-width="4.3" />
<text x="2532" y="126" font-family='"Liberation Serif", serif' font-size="46" font-style="italic">R<tspan font-size="32" dy="9">z</tspan></text>
<text x="33.0" y="829.0" font-family='"Liberation Serif", serif' font-size="70" text-anchor="start" font-weight="bold" font-style="normal" fill="#000" >c</text>
<line x1="137.0" y1="863.3" x2="150.5" y2="863.3" stroke="#000" stroke-width="3.0" />
<g transform="translate(123.0,878.3) scale(1.04,1)"><text x="0" y="0" font-family='"Liberation Sans", sans-serif' font-size="41.5" text-anchor="end" fill="#000" font-weight="normal" font-style="normal">0.8</text></g>
<line x1="137.0" y1="993.3" x2="150.5" y2="993.3" stroke="#000" stroke-width="3.0" />
<g transform="translate(123.0,1008.3) scale(1.04,1)"><text x="0" y="0" font-family='"Liberation Sans", sans-serif' font-size="41.5" text-anchor="end" fill="#000" font-weight="normal" font-style="normal">0.6</text></g>
<line x1="137.0" y1="1123.3" x2="150.5" y2="1123.3" stroke="#000" stroke-width="3.0" />
<g transform="translate(123.0,1138.3) scale(1.04,1)"><text x="0" y="0" font-family='"Liberation Sans", sans-serif' font-size="41.5" text-anchor="end" fill="#000" font-weight="normal" font-style="normal">0.4</text></g>
<line x1="137.0" y1="1173.7" x2="150.5" y2="1173.7" stroke="#000" stroke-width="3.0" />
<g transform="translate(123.0,1188.7) scale(1.04,1)"><text x="0" y="0" font-family='"Liberation Sans", sans-serif' font-size="41.5" text-anchor="end" fill="#000" font-weight="normal" font-style="normal">1.0</text></g>
<line x1="137.0" y1="1285.0" x2="150.5" y2="1285.0" stroke="#000" stroke-width="3.0" />
<g transform="translate(123.0,1300.0) scale(1.04,1)"><text x="0" y="0" font-family='"Liberation Sans", sans-serif' font-size="41.5" text-anchor="end" fill="#000" font-weight="normal" font-style="normal">0.7</text></g>
<line x1="137.0" y1="1396.3" x2="150.5" y2="1396.3" stroke="#000" stroke-width="3.0" />
<g transform="translate(123.0,1411.3) scale(1.04,1)"><text x="0" y="0" font-family='"Liberation Sans", sans-serif' font-size="41.5" text-anchor="end" fill="#000" font-weight="normal" font-style="normal">0.4</text></g>
<line x1="191.4" y1="1123.3" x2="191.4" y2="1138.3" stroke="#000" stroke-width="3.0" />
<line x1="191.4" y1="1415.8" x2="191.4" y2="1430.8" stroke="#000" stroke-width="3.0" />
<g transform="translate(191.4,1472.5) scale(0.97,1)"><text x="0" y="0" font-family='"Liberation Sans", sans-serif' font-size="41.5" text-anchor="middle" fill="#000" font-weight="normal" font-style="normal">0</text></g>
<line x1="397.6" y1="1123.3" x2="397.6" y2="1138.3" stroke="#000" stroke-width="3.0" />
<line x1="397.6" y1="1415.8" x2="397.6" y2="1430.8" stroke="#000" stroke-width="3.0" />
<g transform="translate(397.6,1472.5) scale(0.97,1)"><text x="0" y="0" font-family='"Liberation Sans", sans-serif' font-size="41.5" text-anchor="middle" fill="#000" font-weight="normal" font-style="normal">5</text></g>
<line x1="603.8" y1="1123.3" x2="603.8" y2="1138.3" stroke="#000" stroke-width="3.0" />
<line x1="603.8" y1="1415.8" x2="603.8" y2="1430.8" stroke="#000" stroke-width="3.0" />
<g transform="translate(603.8,1472.5) scale(0.97,1)"><text x="0" y="0" font-family='"Liberation Sans", sans-serif' font-size="41.5" text-anchor="middle" fill="#000" font-weight="normal" font-style="normal">10</text></g>
<line x1="810.0" y1="1123.3" x2="810.0" y2="1138.3" stroke="#000" stroke-width="3.0" />
<line x1="810.0" y1="1415.8" x2="810.0" y2="1430.8" stroke="#000" stroke-width="3.0" />
<g transform="translate(810.0,1472.5) scale(0.97,1)"><text x="0" y="0" font-family='"Liberation Sans", sans-serif' font-size="41.5" text-anchor="middle" fill="#000" font-weight="normal" font-style="normal">15</text></g>
<line x1="1016.2" y1="1123.3" x2="1016.2" y2="1138.3" stroke="#000" stroke-width="3.0" />
<line x1="1016.2" y1="1415.8" x2="1016.2" y2="1430.8" stroke="#000" stroke-width="3.0" />
<g transform="translate(1016.2,1472.5) scale(0.97,1)"><text x="0" y="0" font-family='"Liberation Sans", sans-serif' font-size="41.5" text-anchor="middle" fill="#000" font-weight="normal" font-style="normal">20</text></g>
<text transform="translate(41,993) rotate(-90)" font-family='"Liberation Serif", serif' font-size="38" text-anchor="middle">Loss</text>
<text transform="translate(41,1285) rotate(-90)" font-family='"Liberation Serif", serif' font-size="38" text-anchor="middle">Accuracy</text>
<text x="604.5" y="1523.0" font-family='"Liberation Serif", serif' font-size="38" text-anchor="middle" font-weight="normal" font-style="normal" fill="#000" >Epochs</text>
<g>
<polyline points="191.4,927.3 232.6,952.4 273.9,952.4 315.1,977.5 356.4,955.7 397.6,987.3 438.8,1005.8 480.1,1025.4 521.3,1022.0 562.6,1017.8 603.8,1014.7 645.0,1013.6 686.3,1045.9 727.5,1048.0 768.8,1054.6 810.0,1067.6 851.2,1051.3 892.5,1068.7 933.7,1053.5 975.0,1052.4 1016.2,1069.8" fill="none" stroke="#339966" stroke-width="3.7" />
<line x1="191.4" y1="920.8" x2="191.4" y2="933.8" stroke="#339966" stroke-width="3.5" />
<line x1="175.4" y1="920.8" x2="207.4" y2="920.8" stroke="#339966" stroke-width="3.5" />
<line x1="175.4" y1="933.8" x2="207.4" y2="933.8" stroke="#339966" stroke-width="3.5" />
<circle cx="191.4" cy="927.3" r="12.3" fill="none" stroke="#339966" stroke-width="3.5" />
<line x1="232.6" y1="944.8" x2="232.6" y2="960.0" stroke="#339966" stroke-width="3.5" />
<line x1="216.6" y1="944.8" x2="248.6" y2="944.8" stroke="#339966" stroke-width="3.5" />
<line x1="216.6" y1="960.0" x2="248.6" y2="960.0" stroke="#339966" stroke-width="3.5" />
<circle cx="232.6" cy="952.4" r="12.3" fill="none" stroke="#339966" stroke-width="3.5" />
<line x1="273.9" y1="945.4" x2="273.9" y2="959.4" stroke="#339966" stroke-width="3.5" />
<line x1="257.9" y1="945.4" x2="289.9" y2="945.4" stroke="#339966" stroke-width="3.5" />
<line x1="257.9" y1="959.4" x2="289.9" y2="959.4" stroke="#339966" stroke-width="3.5" />
<circle cx="273.9" cy="952.4" r="12.3" fill="none" stroke="#339966" stroke-width="3.5" />
<line x1="315.1" y1="971.5" x2="315.1" y2="983.5" stroke="#339966" stroke-width="3.5" />
<line x1="299.1" y1="971.5" x2="331.1" y2="971.5" stroke="#339966" stroke-width="3.5" />
<line x1="299.1" y1="983.5" x2="331.1" y2="983.5" stroke="#339966" stroke-width="3.5" />
<circle cx="315.1" cy="977.5" r="12.3" fill="none" stroke="#339966" stroke-width="3.5" />
<line x1="356.4" y1="945.9" x2="356.4" y2="965.5" stroke="#339966" stroke-width="3.5" />
<line x1="340.4" y1="945.9" x2="372.4" y2="945.9" stroke="#339966" stroke-width="3.5" />
<line x1="340.4" y1="965.5" x2="372.4" y2="965.5" stroke="#339966" stroke-width="3.5" />
<circle cx="356.4" cy="955.7" r="12.3" fill="none" stroke="#339966" stroke-width="3.5" />
<line x1="397.6" y1="980.3" x2="397.6" y2="994.3" stroke="#339966" stroke-width="3.5" />
<line x1="381.6" y1="980.3" x2="413.6" y2="980.3" stroke="#339966" stroke-width="3.5" />
<line x1="381.6" y1="994.3" x2="413.6" y2="994.3" stroke="#339966" stroke-width="3.5" />
<circle cx="397.6" cy="987.3" r="12.3" fill="none" stroke="#339966" stroke-width="3.5" />
<line x1="438.8" y1="994.4" x2="438.8" y2="1017.2" stroke="#339966" stroke-width="3.5" />
<line x1="422.8" y1="994.4" x2="454.8" y2="994.4" stroke="#339966" stroke-width="3.5" />
<line x1="422.8" y1="1017.2" x2="454.8" y2="1017.2" stroke="#339966" stroke-width="3.5" />
<circle cx="438.8" cy="1005.8" r="12.3" fill="none" stroke="#339966" stroke-width="3.5" />
<line x1="480.1" y1="1013.4" x2="480.1" y2="1037.4" stroke="#339966" stroke-width="3.5" />
<line x1="464.1" y1="1013.4" x2="496.1" y2="1013.4" stroke="#339966" stroke-width="3.5" />
<line x1="464.1" y1="1037.4" x2="496.1" y2="1037.4" stroke="#339966" stroke-width="3.5" />
<circle cx="480.1" cy="1025.4" r="12.3" fill="none" stroke="#339966" stroke-width="3.5" />
<line x1="521.3" y1="1010.6" x2="521.3" y2="1033.4" stroke="#339966" stroke-width="3.5" />
<line x1="505.3" y1="1010.6" x2="537.3" y2="1010.6" stroke="#339966" stroke-width="3.5" />
<line x1="505.3" y1="1033.4" x2="537.3" y2="1033.4" stroke="#339966" stroke-width="3.5" />
<circle cx="521.3" cy="1022.0" r="12.3" fill="none" stroke="#339966" stroke-width="3.5" />
<line x1="562.6" y1="1006.8" x2="562.6" y2="1028.8" stroke="#339966" stroke-width="3.5" />
<line x1="546.6" y1="1006.8" x2="578.6" y2="1006.8" stroke="#339966" stroke-width="3.5" />
<line x1="546.6" y1="1028.8" x2="578.6" y2="1028.8" stroke="#339966" stroke-width="3.5" />
<circle cx="562.6" cy="1017.8" r="12.3" fill="none" stroke="#339966" stroke-width="3.5" />
<line x1="603.8" y1="1003.3" x2="603.8" y2="1026.1" stroke="#339966" stroke-width="3.5" />
<line x1="587.8" y1="1003.3" x2="619.8" y2="1003.3" stroke="#339966" stroke-width="3.5" />
<line x1="587.8" y1="1026.1" x2="619.8" y2="1026.1" stroke="#339966" stroke-width="3.5" />
<circle cx="603.8" cy="1014.7" r="12.3" fill="none" stroke="#339966" stroke-width="3.5" />
<line x1="645.0" y1="1003.2" x2="645.0" y2="1024.0" stroke="#339966" stroke-width="3.5" />
<line x1="629.0" y1="1003.2" x2="661.0" y2="1003.2" stroke="#339966" stroke-width="3.5" />
<line x1="629.0" y1="1024.0" x2="661.0" y2="1024.0" stroke="#339966" stroke-width="3.5" />
<circle cx="645.0" cy="1013.6" r="12.3" fill="none" stroke="#339966" stroke-width="3.5" />
<line x1="686.3" y1="1033.4" x2="686.3" y2="1058.4" stroke="#339966" stroke-width="3.5" />
<line x1="670.3" y1="1033.4" x2="702.3" y2="1033.4" stroke="#339966" stroke-width="3.5" />
<line x1="670.3" y1="1058.4" x2="702.3" y2="1058.4" stroke="#339966" stroke-width="3.5" />
<circle cx="686.3" cy="1045.9" r="12.3" fill="none" stroke="#339966" stroke-width="3.5" />
<line x1="727.5" y1="1030.6" x2="727.5" y2="1065.4" stroke="#339966" stroke-width="3.5" />
<line x1="711.5" y1="1030.6" x2="743.5" y2="1030.6" stroke="#339966" stroke-width="3.5" />
<line x1="711.5" y1="1065.4" x2="743.5" y2="1065.4" stroke="#339966" stroke-width="3.5" />
<circle cx="727.5" cy="1048.0" r="12.3" fill="none" stroke="#339966" stroke-width="3.5" />
<line x1="768.8" y1="1045.9" x2="768.8" y2="1063.3" stroke="#339966" stroke-width="3.5" />
<line x1="752.8" y1="1045.9" x2="784.8" y2="1045.9" stroke="#339966" stroke-width="3.5" />
<line x1="752.8" y1="1063.3" x2="784.8" y2="1063.3" stroke="#339966" stroke-width="3.5" />
<circle cx="768.8" cy="1054.6" r="12.3" fill="none" stroke="#339966" stroke-width="3.5" />
<line x1="810.0" y1="1058.9" x2="810.0" y2="1076.3" stroke="#339966" stroke-width="3.5" />
<line x1="794.0" y1="1058.9" x2="826.0" y2="1058.9" stroke="#339966" stroke-width="3.5" />
<line x1="794.0" y1="1076.3" x2="826.0" y2="1076.3" stroke="#339966" stroke-width="3.5" />
<circle cx="810.0" cy="1067.6" r="12.3" fill="none" stroke="#339966" stroke-width="3.5" />
<line x1="851.2" y1="1033.3" x2="851.2" y2="1069.3" stroke="#339966" stroke-width="3.5" />
<line x1="835.2" y1="1033.3" x2="867.2" y2="1033.3" stroke="#339966" stroke-width="3.5" />
<line x1="835.2" y1="1069.3" x2="867.2" y2="1069.3" stroke="#339966" stroke-width="3.5" />
<circle cx="851.2" cy="1051.3" r="12.3" fill="none" stroke="#339966" stroke-width="3.5" />
<line x1="892.5" y1="1053.7" x2="892.5" y2="1083.7" stroke="#339966" stroke-width="3.5" />
<line x1="876.5" y1="1053.7" x2="908.5" y2="1053.7" stroke="#339966" stroke-width="3.5" />
<line x1="876.5" y1="1083.7" x2="908.5" y2="1083.7" stroke="#339966" stroke-width="3.5" />
<circle cx="892.5" cy="1068.7" r="12.3" fill="none" stroke="#339966" stroke-width="3.5" />
<line x1="933.7" y1="1036.1" x2="933.7" y2="1070.9" stroke="#339966" stroke-width="3.5" />
<line x1="917.7" y1="1036.1" x2="949.7" y2="1036.1" stroke="#339966" stroke-width="3.5" />
<line x1="917.7" y1="1070.9" x2="949.7" y2="1070.9" stroke="#339966" stroke-width="3.5" />
<circle cx="933.7" cy="1053.5" r="12.3" fill="none" stroke="#339966" stroke-width="3.5" />
<line x1="975.0" y1="1032.8" x2="975.0" y2="1072.0" stroke="#339966" stroke-width="3.5" />
<line x1="959.0" y1="1032.8" x2="991.0" y2="1032.8" stroke="#339966" stroke-width="3.5" />
<line x1="959.0" y1="1072.0" x2="991.0" y2="1072.0" stroke="#339966" stroke-width="3.5" />
<circle cx="975.0" cy="1052.4" r="12.3" fill="none" stroke="#339966" stroke-width="3.5" />
<line x1="1016.2" y1="1051.3" x2="1016.2" y2="1088.3" stroke="#339966" stroke-width="3.5" />
<line x1="1000.2" y1="1051.3" x2="1032.2" y2="1051.3" stroke="#339966" stroke-width="3.5" />
<line x1="1000.2" y1="1088.3" x2="1032.2" y2="1088.3" stroke="#339966" stroke-width="3.5" />
<circle cx="1016.2" cy="1069.8" r="12.3" fill="none" stroke="#339966" stroke-width="3.5" />
<polyline points="191.4,933.9 232.6,941.5 273.9,967.6 315.1,968.7 356.4,994.9 397.6,1002.5 438.8,1018.8 480.1,1027.6 521.3,1023.2 562.6,1030.8 603.8,1037.0 645.0,1039.8 686.3,1052.0 727.5,1052.4 768.8,1057.8 810.0,1061.0 851.2,1067.6 892.5,1068.7 933.7,1075.3 975.0,1082.9 1016.2,1076.4" fill="none" stroke="#7b3dd3" stroke-width="3.7" />
<line x1="191.4" y1="928.9" x2="191.4" y2="938.9" stroke="#7b3dd3" stroke-width="3.5" />
<line x1="175.4" y1="928.9" x2="207.4" y2="928.9" stroke="#7b3dd3" stroke-width="3.5" />
<line x1="175.4" y1="938.9" x2="207.4" y2="938.9" stroke="#7b3dd3" stroke-width="3.5" />
<polygon points="191.4,920.4 177.9,947.4 204.9,947.4" fill="none" stroke="#7b3dd3" stroke-width="3.5" stroke-linejoin="miter"/>
<line x1="232.6" y1="937.1" x2="232.6" y2="945.9" stroke="#7b3dd3" stroke-width="3.5" />
<line x1="216.6" y1="937.1" x2="248.6" y2="937.1" stroke="#7b3dd3" stroke-width="3.5" />
<line x1="216.6" y1="945.9" x2="248.6" y2="945.9" stroke="#7b3dd3" stroke-width="3.5" />
<polygon points="232.6,928.0 219.1,955.0 246.1,955.0" fill="none" stroke="#7b3dd3" stroke-width="3.5" stroke-linejoin="miter"/>
<line x1="273.9" y1="962.6" x2="273.9" y2="972.6" stroke="#7b3dd3" stroke-width="3.5" />
<line x1="257.9" y1="962.6" x2="289.9" y2="962.6" stroke="#7b3dd3" stroke-width="3.5" />
<line x1="257.9" y1="972.6" x2="289.9" y2="972.6" stroke="#7b3dd3" stroke-width="3.5" />
<polygon points="273.9,954.1 260.4,981.1 287.4,981.1" fill="none" stroke="#7b3dd3" stroke-width="3.5" stroke-linejoin="miter"/>
<line x1="315.1" y1="962.2" x2="315.1" y2="975.2" stroke="#7b3dd3" stroke-width="3.5" />
<line x1="299.1" y1="962.2" x2="331.1" y2="962.2" stroke="#7b3dd3" stroke-width="3.5" />
<line x1="299.1" y1="975.2" x2="331.1" y2="975.2" stroke="#7b3dd3" stroke-width="3.5" />
<polygon points="315.1,955.2 301.6,982.2 328.6,982.2" fill="none" stroke="#7b3dd3" stroke-width="3.5" stroke-linejoin="miter"/>
<line x1="356.4" y1="988.4" x2="356.4" y2="1001.4" stroke="#7b3dd3" stroke-width="3.5" />
<line x1="340.4" y1="988.4" x2="372.4" y2="988.4" stroke="#7b3dd3" stroke-width="3.5" />
<line x1="340.4" y1="1001.4" x2="372.4" y2="1001.4" stroke="#7b3dd3" stroke-width="3.5" />
<polygon points="356.4,981.4 342.9,1008.4 369.9,1008.4" fill="none" stroke="#7b3dd3" stroke-width="3.5" stroke-linejoin="miter"/>
<line x1="397.6" y1="994.5" x2="397.6" y2="1010.5" stroke="#7b3dd3" stroke-width="3.5" />
<line x1="381.6" y1="994.5" x2="413.6" y2="994.5" stroke="#7b3dd3" stroke-width="3.5" />
<line x1="381.6" y1="1010.5" x2="413.6" y2="1010.5" stroke="#7b3dd3" stroke-width="3.5" />
<polygon points="397.6,989.0 384.1,1016.0 411.1,1016.0" fill="none" stroke="#7b3dd3" stroke-width="3.5" stroke-linejoin="miter"/>
<line x1="438.8" y1="1013.8" x2="438.8" y2="1023.8" stroke="#7b3dd3" stroke-width="3.5" />
<line x1="422.8" y1="1013.8" x2="454.8" y2="1013.8" stroke="#7b3dd3" stroke-width="3.5" />
<line x1="422.8" y1="1023.8" x2="454.8" y2="1023.8" stroke="#7b3dd3" stroke-width="3.5" />
<polygon points="438.8,1005.3 425.3,1032.3 452.3,1032.3" fill="none" stroke="#7b3dd3" stroke-width="3.5" stroke-linejoin="miter"/>
<line x1="480.1" y1="1021.6" x2="480.1" y2="1033.6" stroke="#7b3dd3" stroke-width="3.5" />
<line x1="464.1" y1="1021.6" x2="496.1" y2="1021.6" stroke="#7b3dd3" stroke-width="3.5" />
<line x1="464.1" y1="1033.6" x2="496.1" y2="1033.6" stroke="#7b3dd3" stroke-width="3.5" />
<polygon points="480.1,1014.1 466.6,1041.1 493.6,1041.1" fill="none" stroke="#7b3dd3" stroke-width="3.5" stroke-linejoin="miter"/>
<line x1="521.3" y1="1017.2" x2="521.3" y2="1029.2" stroke="#7b3dd3" stroke-width="3.5" />
<line x1="505.3" y1="1017.2" x2="537.3" y2="1017.2" stroke="#7b3dd3" stroke-width="3.5" />
<line x1="505.3" y1="1029.2" x2="537.3" y2="1029.2" stroke="#7b3dd3" stroke-width="3.5" />
<polygon points="521.3,1009.7 507.8,1036.7 534.8,1036.7" fill="none" stroke="#7b3dd3" stroke-width="3.5" stroke-linejoin="miter"/>
<line x1="562.6" y1="1023.8" x2="562.6" y2="1037.8" stroke="#7b3dd3" stroke-width="3.5" />
<line x1="546.6" y1="1023.8" x2="578.6" y2="1023.8" stroke="#7b3dd3" stroke-width="3.5" />
<line x1="546.6" y1="1037.8" x2="578.6" y2="1037.8" stroke="#7b3dd3" stroke-width="3.5" />
<polygon points="562.6,1017.3 549.1,1044.3 576.1,1044.3" fill="none" stroke="#7b3dd3" stroke-width="3.5" stroke-linejoin="miter"/>
<line x1="603.8" y1="1026.0" x2="603.8" y2="1048.0" stroke="#7b3dd3" stroke-width="3.5" />
<line x1="587.8" y1="1026.0" x2="619.8" y2="1026.0" stroke="#7b3dd3" stroke-width="3.5" />
<line x1="587.8" y1="1048.0" x2="619.8" y2="1048.0" stroke="#7b3dd3" stroke-width="3.5" />
<polygon points="603.8,1023.5 590.3,1050.5 617.3,1050.5" fill="none" stroke="#7b3dd3" stroke-width="3.5" stroke-linejoin="miter"/>
<line x1="645.0" y1="1029.5" x2="645.0" y2="1050.1" stroke="#7b3dd3" stroke-width="3.5" />
<line x1="629.0" y1="1029.5" x2="661.0" y2="1029.5" stroke="#7b3dd3" stroke-width="3.5" />
<line x1="629.0" y1="1050.1" x2="661.0" y2="1050.1" stroke="#7b3dd3" stroke-width="3.5" />
<polygon points="645.0,1026.3 631.5,1053.3 658.5,1053.3" fill="none" stroke="#7b3dd3" stroke-width="3.5" stroke-linejoin="miter"/>
<line x1="686.3" y1="1041.7" x2="686.3" y2="1062.3" stroke="#7b3dd3" stroke-width="3.5" />
<line x1="670.3" y1="1041.7" x2="702.3" y2="1041.7" stroke="#7b3dd3" stroke-width="3.5" />
<line x1="670.3" y1="1062.3" x2="702.3" y2="1062.3" stroke="#7b3dd3" stroke-width="3.5" />
<polygon points="686.3,1038.5 672.8,1065.5 699.8,1065.5" fill="none" stroke="#7b3dd3" stroke-width="3.5" stroke-linejoin="miter"/>
<line x1="727.5" y1="1042.6" x2="727.5" y2="1062.2" stroke="#7b3dd3" stroke-width="3.5" />
<line x1="711.5" y1="1042.6" x2="743.5" y2="1042.6" stroke="#7b3dd3" stroke-width="3.5" />
<line x1="711.5" y1="1062.2" x2="743.5" y2="1062.2" stroke="#7b3dd3" stroke-width="3.5" />
<polygon points="727.5,1038.9 714.0,1065.9 741.0,1065.9" fill="none" stroke="#7b3dd3" stroke-width="3.5" stroke-linejoin="miter"/>
<line x1="768.8" y1="1045.3" x2="768.8" y2="1070.3" stroke="#7b3dd3" stroke-width="3.5" />
<line x1="752.8" y1="1045.3" x2="784.8" y2="1045.3" stroke="#7b3dd3" stroke-width="3.5" />
<line x1="752.8" y1="1070.3" x2="784.8" y2="1070.3" stroke="#7b3dd3" stroke-width="3.5" />
<polygon points="768.8,1044.3 755.3,1071.3 782.3,1071.3" fill="none" stroke="#7b3dd3" stroke-width="3.5" stroke-linejoin="miter"/>
<line x1="810.0" y1="1050.7" x2="810.0" y2="1071.3" stroke="#7b3dd3" stroke-width="3.5" />
<line x1="794.0" y1="1050.7" x2="826.0" y2="1050.7" stroke="#7b3dd3" stroke-width="3.5" />
<line x1="794.0" y1="1071.3" x2="826.0" y2="1071.3" stroke="#7b3dd3" stroke-width="3.5" />
<polygon points="810.0,1047.5 796.5,1074.5 823.5,1074.5" fill="none" stroke="#7b3dd3" stroke-width="3.5" stroke-linejoin="miter"/>
<line x1="851.2" y1="1057.8" x2="851.2" y2="1077.4" stroke="#7b3dd3" stroke-width="3.5" />
<line x1="835.2" y1="1057.8" x2="867.2" y2="1057.8" stroke="#7b3dd3" stroke-width="3.5" />
<line x1="835.2" y1="1077.4" x2="867.2" y2="1077.4" stroke="#7b3dd3" stroke-width="3.5" />
<polygon points="851.2,1054.1 837.7,1081.1 864.7,1081.1" fill="none" stroke="#7b3dd3" stroke-width="3.5" stroke-linejoin="miter"/>
<line x1="892.5" y1="1057.8" x2="892.5" y2="1079.6" stroke="#7b3dd3" stroke-width="3.5" />
<line x1="876.5" y1="1057.8" x2="908.5" y2="1057.8" stroke="#7b3dd3" stroke-width="3.5" />
<line x1="876.5" y1="1079.6" x2="908.5" y2="1079.6" stroke="#7b3dd3" stroke-width="3.5" />
<polygon points="892.5,1055.2 879.0,1082.2 906.0,1082.2" fill="none" stroke="#7b3dd3" stroke-width="3.5" stroke-linejoin="miter"/>
<line x1="933.7" y1="1063.3" x2="933.7" y2="1087.3" stroke="#7b3dd3" stroke-width="3.5" />
<line x1="917.7" y1="1063.3" x2="949.7" y2="1063.3" stroke="#7b3dd3" stroke-width="3.5" />
<line x1="917.7" y1="1087.3" x2="949.7" y2="1087.3" stroke="#7b3dd3" stroke-width="3.5" />
<polygon points="933.7,1061.8 920.2,1088.8 947.2,1088.8" fill="none" stroke="#7b3dd3" stroke-width="3.5" stroke-linejoin="miter"/>
<line x1="975.0" y1="1070.9" x2="975.0" y2="1094.9" stroke="#7b3dd3" stroke-width="3.5" />
<line x1="959.0" y1="1070.9" x2="991.0" y2="1070.9" stroke="#7b3dd3" stroke-width="3.5" />
<line x1="959.0" y1="1094.9" x2="991.0" y2="1094.9" stroke="#7b3dd3" stroke-width="3.5" />
<polygon points="975.0,1069.4 961.5,1096.4 988.5,1096.4" fill="none" stroke="#7b3dd3" stroke-width="3.5" stroke-linejoin="miter"/>
<line x1="1016.2" y1="1063.9" x2="1016.2" y2="1088.9" stroke="#7b3dd3" stroke-width="3.5" />
<line x1="1000.2" y1="1063.9" x2="1032.2" y2="1063.9" stroke="#7b3dd3" stroke-width="3.5" />
<line x1="1000.2" y1="1088.9" x2="1032.2" y2="1088.9" stroke="#7b3dd3" stroke-width="3.5" />
<polygon points="1016.2,1062.9 1002.7,1089.9 1029.7,1089.9" fill="none" stroke="#7b3dd3" stroke-width="3.5" stroke-linejoin="miter"/>
</g>
<line x1="796.0" y1="909.0" x2="873.0" y2="909.0" stroke="#339966" stroke-width="3.5" />
<line x1="834.7" y1="891.0" x2="834.7" y2="927.0" stroke="#339966" stroke-width="3.5" />
<line x1="818.0" y1="891.0" x2="851.0" y2="891.0" stroke="#339966" stroke-width="3.5" />
<line x1="818.0" y1="927.0" x2="851.0" y2="927.0" stroke="#339966" stroke-width="3.5" />
<circle cx="834.7" cy="909.0" r="12.3" fill="none" stroke="#339966" stroke-width="3.5" />
<text x="901.0" y="922.0" font-family='"Liberation Serif", serif' font-size="37" text-anchor="start" font-weight="normal" font-style="normal" fill="#000" >Training</text>
<line x1="796.0" y1="960.5" x2="873.0" y2="960.5" stroke="#7b3dd3" stroke-width="3.5" />
<line x1="834.7" y1="942.5" x2="834.7" y2="978.5" stroke="#7b3dd3" stroke-width="3.5" />
<line x1="818.0" y1="942.5" x2="851.0" y2="942.5" stroke="#7b3dd3" stroke-width="3.5" />
<line x1="818.0" y1="978.5" x2="851.0" y2="978.5" stroke="#7b3dd3" stroke-width="3.5" />
<polygon points="834.7,947.0 821.2,974.0 848.2,974.0" fill="none" stroke="#7b3dd3" stroke-width="3.5" stroke-linejoin="miter"/>
<text x="901.0" y="974.0" font-family='"Liberation Serif", serif' font-size="37" text-anchor="start" font-weight="normal" font-style="normal" fill="#000" >Test</text>
<polyline points="191.4,1396.7 232.6,1303.6 273.9,1285.0 315.1,1248.2 356.4,1303.6 397.6,1191.8 438.8,1191.8 480.1,1191.8 521.3,1191.8 562.6,1191.8 603.8,1173.7 645.0,1194.2 686.3,1191.8 727.5,1211.4 768.8,1173.7 810.0,1173.7 851.2,1191.8 892.5,1191.8 933.7,1191.8 975.0,1211.4 1016.2,1211.4" fill="none" stroke="#339966" stroke-width="3.7" />
<circle cx="191.4" cy="1396.7" r="12.3" fill="none" stroke="#339966" stroke-width="3.5" />
<circle cx="232.6" cy="1303.6" r="12.3" fill="none" stroke="#339966" stroke-width="3.5" />
<circle cx="273.9" cy="1285.0" r="12.3" fill="none" stroke="#339966" stroke-width="3.5" />
<circle cx="315.1" cy="1248.2" r="12.3" fill="none" stroke="#339966" stroke-width="3.5" />
<circle cx="356.4" cy="1303.6" r="12.3" fill="none" stroke="#339966" stroke-width="3.5" />
<circle cx="397.6" cy="1191.8" r="12.3" fill="none" stroke="#339966" stroke-width="3.5" />
<circle cx="438.8" cy="1191.8" r="12.3" fill="none" stroke="#339966" stroke-width="3.5" />
<circle cx="480.1" cy="1191.8" r="12.3" fill="none" stroke="#339966" stroke-width="3.5" />
<circle cx="521.3" cy="1191.8" r="12.3" fill="none" stroke="#339966" stroke-width="3.5" />
<circle cx="562.6" cy="1191.8" r="12.3" fill="none" stroke="#339966" stroke-width="3.5" />
<circle cx="603.8" cy="1173.7" r="12.3" fill="none" stroke="#339966" stroke-width="3.5" />
<circle cx="645.0" cy="1194.2" r="12.3" fill="none" stroke="#339966" stroke-width="3.5" />
<circle cx="686.3" cy="1191.8" r="12.3" fill="none" stroke="#339966" stroke-width="3.5" />
<circle cx="727.5" cy="1211.4" r="12.3" fill="none" stroke="#339966" stroke-width="3.5" />
<circle cx="768.8" cy="1173.7" r="12.3" fill="none" stroke="#339966" stroke-width="3.5" />
<circle cx="810.0" cy="1173.7" r="12.3" fill="none" stroke="#339966" stroke-width="3.5" />
<circle cx="851.2" cy="1191.8" r="12.3" fill="none" stroke="#339966" stroke-width="3.5" />
<circle cx="892.5" cy="1191.8" r="12.3" fill="none" stroke="#339966" stroke-width="3.5" />
<circle cx="933.7" cy="1191.8" r="12.3" fill="none" stroke="#339966" stroke-width="3.5" />
<circle cx="975.0" cy="1211.4" r="12.3" fill="none" stroke="#339966" stroke-width="3.5" />
<circle cx="1016.2" cy="1211.4" r="12.3" fill="none" stroke="#339966" stroke-width="3.5" />
<polyline points="191.4,1323.2 232.6,1323.2 273.9,1243.3 315.1,1249.7 356.4,1199.2 397.6,1191.8 438.8,1217.8 480.1,1211.4 521.3,1205.5 562.6,1184.5 603.8,1183.0 645.0,1189.4 686.3,1182.0 727.5,1182.0 768.8,1182.0 810.0,1190.8 851.2,1172.2 892.5,1181.0 933.7,1189.4 975.0,1189.4 1016.2,1199.2" fill="none" stroke="#7b3dd3" stroke-width="3.7" />
<polygon points="191.4,1309.7 177.9,1336.7 204.9,1336.7" fill="none" stroke="#7b3dd3" stroke-width="3.5" stroke-linejoin="miter"/>
<polygon points="232.6,1309.7 219.1,1336.7 246.1,1336.7" fill="none" stroke="#7b3dd3" stroke-width="3.5" stroke-linejoin="miter"/>
<polygon points="273.9,1229.8 260.4,1256.8 287.4,1256.8" fill="none" stroke="#7b3dd3" stroke-width="3.5" stroke-linejoin="miter"/>
<polygon points="315.1,1236.2 301.6,1263.2 328.6,1263.2" fill="none" stroke="#7b3dd3" stroke-width="3.5" stroke-linejoin="miter"/>
<polygon points="356.4,1185.7 342.9,1212.7 369.9,1212.7" fill="none" stroke="#7b3dd3" stroke-width="3.5" stroke-linejoin="miter"/>
<polygon points="397.6,1178.3 384.1,1205.3 411.1,1205.3" fill="none" stroke="#7b3dd3" stroke-width="3.5" stroke-linejoin="miter"/>
<polygon points="438.8,1204.3 425.3,1231.3 452.3,1231.3" fill="none" stroke="#7b3dd3" stroke-width="3.5" stroke-linejoin="miter"/>
<polygon points="480.1,1197.9 466.6,1224.9 493.6,1224.9" fill="none" stroke="#7b3dd3" stroke-width="3.5" stroke-linejoin="miter"/>
<polygon points="521.3,1192.0 507.8,1219.0 534.8,1219.0" fill="none" stroke="#7b3dd3" stroke-width="3.5" stroke-linejoin="miter"/>
<polygon points="562.6,1171.0 549.1,1198.0 576.1,1198.0" fill="none" stroke="#7b3dd3" stroke-width="3.5" stroke-linejoin="miter"/>
<polygon points="603.8,1169.5 590.3,1196.5 617.3,1196.5" fill="none" stroke="#7b3dd3" stroke-width="3.5" stroke-linejoin="miter"/>
<polygon points="645.0,1175.9 631.5,1202.9 658.5,1202.9" fill="none" stroke="#7b3dd3" stroke-width="3.5" stroke-linejoin="miter"/>
<polygon points="686.3,1168.5 672.8,1195.5 699.8,1195.5" fill="none" stroke="#7b3dd3" stroke-width="3.5" stroke-linejoin="miter"/>
<polygon points="727.5,1168.5 714.0,1195.5 741.0,1195.5" fill="none" stroke="#7b3dd3" stroke-width="3.5" stroke-linejoin="miter"/>
<polygon points="768.8,1168.5 755.3,1195.5 782.3,1195.5" fill="none" stroke="#7b3dd3" stroke-width="3.5" stroke-linejoin="miter"/>
<polygon points="810.0,1177.3 796.5,1204.3 823.5,1204.3" fill="none" stroke="#7b3dd3" stroke-width="3.5" stroke-linejoin="miter"/>
<polygon points="851.2,1158.7 837.7,1185.7 864.7,1185.7" fill="none" stroke="#7b3dd3" stroke-width="3.5" stroke-linejoin="miter"/>
<polygon points="892.5,1167.5 879.0,1194.5 906.0,1194.5" fill="none" stroke="#7b3dd3" stroke-width="3.5" stroke-linejoin="miter"/>
<polygon points="933.7,1175.9 920.2,1202.9 947.2,1202.9" fill="none" stroke="#7b3dd3" stroke-width="3.5" stroke-linejoin="miter"/>
<polygon points="975.0,1175.9 961.5,1202.9 988.5,1202.9" fill="none" stroke="#7b3dd3" stroke-width="3.5" stroke-linejoin="miter"/>
<polygon points="1016.2,1185.7 1002.7,1212.7 1029.7,1212.7" fill="none" stroke="#7b3dd3" stroke-width="3.5" stroke-linejoin="miter"/>
<rect x="150.5" y="863.3" width="908.5" height="260.0" rx="0" fill="none" stroke="#000" stroke-width="3.0" />
<rect x="150.5" y="1155.0" width="908.5" height="260.8" rx="0" fill="none" stroke="#000" stroke-width="3.0" />
<defs><linearGradient id="fg" x1="0" y1="0" x2="0" y2="1"><stop offset="0" stop-color="#8eaadb"/><stop offset="1" stop-color="#dae3f3"/></linearGradient></defs>
<polygon points="145.0,1503.0 238.0,1503.0 425.0,1617.0 145.0,1617.0" fill="url(#fg)" stroke="none" stroke-width="0" />
<polygon points="351.0,1503.0 432.0,1503.0 752.0,1620.0 457.0,1617.0" fill="url(#fg)" stroke="none" stroke-width="0" />
<polygon points="966.0,1503.0 1044.0,1503.0 1059.0,1611.0 784.0,1611.0" fill="url(#fg)" stroke="none" stroke-width="0" />
<rect x="142.0" y="1436.0" width="98.0" height="67.0" rx="12" fill="none" stroke="#2e75b6" stroke-width="6" stroke-dasharray="6,6"/>
<rect x="349.0" y="1436.0" width="97.0" height="67.0" rx="12" fill="none" stroke="#2e75b6" stroke-width="6" stroke-dasharray="6,6"/>
<rect x="965.0" y="1436.0" width="98.0" height="67.0" rx="12" fill="none" stroke="#2e75b6" stroke-width="6" stroke-dasharray="6,6"/>
<text x="33.0" y="1578.0" font-family='"Liberation Serif", serif' font-size="70" text-anchor="start" font-weight="bold" font-style="normal" fill="#000" >d</text>
<line x1="136.5" y1="1611.8" x2="150.5" y2="1611.8" stroke="#000" stroke-width="2.8" />
<g transform="translate(123.0,1626.8) scale(1.04,1)"><text x="0" y="0" font-family='"Liberation Sans", sans-serif' font-size="41.5" text-anchor="end" fill="#000" font-weight="normal" font-style="normal">0.6</text></g>
<line x1="136.5" y1="1741.2" x2="150.5" y2="1741.2" stroke="#000" stroke-width="2.8" />
<g transform="translate(123.0,1756.2) scale(1.04,1)"><text x="0" y="0" font-family='"Liberation Sans", sans-serif' font-size="41.5" text-anchor="end" fill="#000" font-weight="normal" font-style="normal">0.0</text></g>
<line x1="136.5" y1="1870.1" x2="150.5" y2="1870.1" stroke="#000" stroke-width="2.8" />
<g transform="translate(123.0,1885.1) scale(1.04,1)"><text x="0" y="0" font-family='"Liberation Sans", sans-serif' font-size="41.5" text-anchor="end" fill="#000" font-weight="normal" font-style="normal">−0.6</text></g>
<line x1="155.4" y1="1870.1" x2="155.4" y2="1885.1" stroke="#000" stroke-width="2.8" />
<g transform="translate(155.4,1929.0) scale(0.97,1)"><text x="0" y="0" font-family='"Liberation Sans", sans-serif' font-size="41.5" text-anchor="middle" fill="#000" font-weight="normal" font-style="normal">0</text></g>
<line x1="287.7" y1="1870.1" x2="287.7" y2="1885.1" stroke="#000" stroke-width="2.8" />
<g transform="translate(287.7,1929.0) scale(0.97,1)"><text x="0" y="0" font-family='"Liberation Sans", sans-serif' font-size="41.5" text-anchor="middle" fill="#000" font-weight="normal" font-style="normal">25</text></g>
<line x1="420.0" y1="1870.1" x2="420.0" y2="1885.1" stroke="#000" stroke-width="2.8" />
<g transform="translate(420.0,1929.0) scale(0.97,1)"><text x="0" y="0" font-family='"Liberation Sans", sans-serif' font-size="41.5" text-anchor="middle" fill="#000" font-weight="normal" font-style="normal">50</text></g>
<line x1="150.5" y1="1741.2" x2="425.5" y2="1741.2" stroke="#000" stroke-width="3" stroke-dasharray="11,6"/>
<line x1="452.7" y1="1611.8" x2="466.7" y2="1611.8" stroke="#000" stroke-width="2.8" />
<line x1="452.7" y1="1741.2" x2="466.7" y2="1741.2" stroke="#000" stroke-width="2.8" />
<line x1="452.7" y1="1870.1" x2="466.7" y2="1870.1" stroke="#000" stroke-width="2.8" />
<line x1="471.6" y1="1870.1" x2="471.6" y2="1885.1" stroke="#000" stroke-width="2.8" />
<g transform="translate(471.6,1929.0) scale(0.97,1)"><text x="0" y="0" font-family='"Liberation Sans", sans-serif' font-size="41.5" text-anchor="middle" fill="#000" font-weight="normal" font-style="normal">0</text></g>
<line x1="604.0" y1="1870.1" x2="604.0" y2="1885.1" stroke="#000" stroke-width="2.8" />
<g transform="translate(604.0,1929.0) scale(0.97,1)"><text x="0" y="0" font-family='"Liberation Sans", sans-serif' font-size="41.5" text-anchor="middle" fill="#000" font-weight="normal" font-style="normal">25</text></g>
<line x1="736.3" y1="1870.1" x2="736.3" y2="1885.1" stroke="#000" stroke-width="2.8" />
<g transform="translate(736.3,1929.0) scale(0.97,1)"><text x="0" y="0" font-family='"Liberation Sans", sans-serif' font-size="41.5" text-anchor="middle" fill="#000" font-weight="normal" font-style="normal">50</text></g>
<line x1="466.7" y1="1741.2" x2="741.3" y2="1741.2" stroke="#000" stroke-width="3" stroke-dasharray="11,6"/>
<line x1="769.4" y1="1611.8" x2="783.4" y2="1611.8" stroke="#000" stroke-width="2.8" />
<line x1="769.4" y1="1741.2" x2="783.4" y2="1741.2" stroke="#000" stroke-width="2.8" />
<line x1="769.4" y1="1870.1" x2="783.4" y2="1870.1" stroke="#000" stroke-width="2.8" />
<line x1="788.3" y1="1870.1" x2="788.3" y2="1885.1" stroke="#000" stroke-width="2.8" />
<g transform="translate(788.3,1929.0) scale(0.97,1)"><text x="0" y="0" font-family='"Liberation Sans", sans-serif' font-size="41.5" text-anchor="middle" fill="#000" font-weight="normal" font-style="normal">0</text></g>
<line x1="920.6" y1="1870.1" x2="920.6" y2="1885.1" stroke="#000" stroke-width="2.8" />
<g transform="translate(920.6,1929.0) scale(0.97,1)"><text x="0" y="0" font-family='"Liberation Sans", sans-serif' font-size="41.5" text-anchor="middle" fill="#000" font-weight="normal" font-style="normal">25</text></g>
<line x1="1053.0" y1="1870.1" x2="1053.0" y2="1885.1" stroke="#000" stroke-width="2.8" />
<g transform="translate(1053.0,1929.0) scale(0.97,1)"><text x="0" y="0" font-family='"Liberation Sans", sans-serif' font-size="41.5" text-anchor="middle" fill="#000" font-weight="normal" font-style="normal">50</text></g>
<line x1="783.4" y1="1741.2" x2="1059.0" y2="1741.2" stroke="#000" stroke-width="3" stroke-dasharray="11,6"/>
<rect x="160.9" y="1746.7" width="16.5" height="16.5" rx="0" fill="none" stroke="#4169e1" stroke-width="3.1" />
<rect x="168.2" y="1746.7" width="16.5" height="16.5" rx="0" fill="none" stroke="#4169e1" stroke-width="3.1" />
<rect x="175.6" y="1732.0" width="16.5" height="16.5" rx="0" fill="none" stroke="#4169e1" stroke-width="3.1" />
<rect x="185.4" y="1749.1" width="16.5" height="16.5" rx="0" fill="none" stroke="#4169e1" stroke-width="3.1" />
<rect x="190.3" y="1727.1" width="16.5" height="16.5" rx="0" fill="none" stroke="#4169e1" stroke-width="3.1" />
<rect x="202.6" y="1734.4" width="16.5" height="16.5" rx="0" fill="none" stroke="#4169e1" stroke-width="3.1" />
<rect x="214.8" y="1719.7" width="16.5" height="16.5" rx="0" fill="none" stroke="#4169e1" stroke-width="3.1" />
<rect x="222.2" y="1736.9" width="16.5" height="16.5" rx="0" fill="none" stroke="#4169e1" stroke-width="3.1" />
<rect x="232.0" y="1732.0" width="16.5" height="16.5" rx="0" fill="none" stroke="#4169e1" stroke-width="3.1" />
<rect x="251.6" y="1719.7" width="16.5" height="16.5" rx="0" fill="none" stroke="#4169e1" stroke-width="3.1" />
<rect x="258.9" y="1741.8" width="16.5" height="16.5" rx="0" fill="none" stroke="#4169e1" stroke-width="3.1" />
<rect x="266.3" y="1739.3" width="16.5" height="16.5" rx="0" fill="none" stroke="#4169e1" stroke-width="3.1" />
<rect x="276.1" y="1741.8" width="16.5" height="16.5" rx="0" fill="none" stroke="#4169e1" stroke-width="3.1" />
<rect x="290.8" y="1739.3" width="16.5" height="16.5" rx="0" fill="none" stroke="#4169e1" stroke-width="3.1" />
<rect x="305.5" y="1727.1" width="16.5" height="16.5" rx="0" fill="none" stroke="#4169e1" stroke-width="3.1" />
<rect x="330.0" y="1718.2" width="16.5" height="16.5" rx="0" fill="none" stroke="#4169e1" stroke-width="3.1" />
<rect x="334.9" y="1719.7" width="16.5" height="16.5" rx="0" fill="none" stroke="#4169e1" stroke-width="3.1" />
<rect x="344.7" y="1741.8" width="16.5" height="16.5" rx="0" fill="none" stroke="#4169e1" stroke-width="3.1" />
<rect x="349.6" y="1736.9" width="16.5" height="16.5" rx="0" fill="none" stroke="#4169e1" stroke-width="3.1" />
<rect x="364.3" y="1729.5" width="16.5" height="16.5" rx="0" fill="none" stroke="#4169e1" stroke-width="3.1" />
<rect x="374.1" y="1736.9" width="16.5" height="16.5" rx="0" fill="none" stroke="#4169e1" stroke-width="3.1" />
<rect x="391.3" y="1717.3" width="16.5" height="16.5" rx="0" fill="none" stroke="#4169e1" stroke-width="3.1" />
<rect x="403.6" y="1736.9" width="16.5" height="16.5" rx="0" fill="none" stroke="#4169e1" stroke-width="3.1" />
<circle cx="156.9" cy="1735.3" r="7.4" fill="none" stroke="#dc143c" stroke-width="3.1" />
<circle cx="161.8" cy="1730.4" r="7.4" fill="none" stroke="#dc143c" stroke-width="3.1" />
<circle cx="166.7" cy="1742.7" r="7.4" fill="none" stroke="#dc143c" stroke-width="3.1" />
<circle cx="186.3" cy="1741.2" r="7.4" fill="none" stroke="#dc143c" stroke-width="3.1" />
<circle cx="201.0" cy="1740.2" r="7.4" fill="none" stroke="#dc143c" stroke-width="3.1" />
<circle cx="208.4" cy="1745.1" r="7.4" fill="none" stroke="#dc143c" stroke-width="3.1" />
<circle cx="215.7" cy="1742.7" r="7.4" fill="none" stroke="#dc143c" stroke-width="3.1" />
<circle cx="228.0" cy="1745.1" r="7.4" fill="none" stroke="#dc143c" stroke-width="3.1" />
<circle cx="235.3" cy="1752.5" r="7.4" fill="none" stroke="#dc143c" stroke-width="3.1" />
<circle cx="245.1" cy="1750.0" r="7.4" fill="none" stroke="#dc143c" stroke-width="3.1" />
<circle cx="252.5" cy="1745.1" r="7.4" fill="none" stroke="#dc143c" stroke-width="3.1" />
<circle cx="259.8" cy="1745.1" r="7.4" fill="none" stroke="#dc143c" stroke-width="3.1" />
<circle cx="267.2" cy="1740.2" r="7.4" fill="none" stroke="#dc143c" stroke-width="3.1" />
<circle cx="277.0" cy="1757.4" r="7.4" fill="none" stroke="#dc143c" stroke-width="3.1" />
<circle cx="291.7" cy="1745.1" r="7.4" fill="none" stroke="#dc143c" stroke-width="3.1" />
<circle cx="304.0" cy="1740.2" r="7.4" fill="none" stroke="#dc143c" stroke-width="3.1" />
<circle cx="311.3" cy="1742.7" r="7.4" fill="none" stroke="#dc143c" stroke-width="3.1" />
<circle cx="316.2" cy="1747.6" r="7.4" fill="none" stroke="#dc143c" stroke-width="3.1" />
<circle cx="323.6" cy="1754.9" r="7.4" fill="none" stroke="#dc143c" stroke-width="3.1" />
<circle cx="328.5" cy="1725.5" r="7.4" fill="none" stroke="#dc143c" stroke-width="3.1" />
<circle cx="335.8" cy="1730.4" r="7.4" fill="none" stroke="#dc143c" stroke-width="3.1" />
<circle cx="360.3" cy="1742.7" r="7.4" fill="none" stroke="#dc143c" stroke-width="3.1" />
<circle cx="365.2" cy="1745.1" r="7.4" fill="none" stroke="#dc143c" stroke-width="3.1" />
<circle cx="372.6" cy="1728.0" r="7.4" fill="none" stroke="#dc143c" stroke-width="3.1" />
<circle cx="377.5" cy="1750.0" r="7.4" fill="none" stroke="#dc143c" stroke-width="3.1" />
<circle cx="387.3" cy="1735.3" r="7.4" fill="none" stroke="#dc143c" stroke-width="3.1" />
<circle cx="392.2" cy="1742.7" r="7.4" fill="none" stroke="#dc143c" stroke-width="3.1" />
<circle cx="404.5" cy="1747.6" r="7.4" fill="none" stroke="#dc143c" stroke-width="3.1" />
<circle cx="414.3" cy="1752.5" r="7.4" fill="none" stroke="#dc143c" stroke-width="3.1" />
<rect x="474.6" y="1707.5" width="16.5" height="16.5" rx="0" fill="none" stroke="#4169e1" stroke-width="3.1" />
<rect x="479.5" y="1692.8" width="16.5" height="16.5" rx="0" fill="none" stroke="#4169e1" stroke-width="3.1" />
<rect x="486.9" y="1692.8" width="16.5" height="16.5" rx="0" fill="none" stroke="#4169e1" stroke-width="3.1" />
<rect x="496.7" y="1692.8" width="16.5" height="16.5" rx="0" fill="none" stroke="#4169e1" stroke-width="3.1" />
<rect x="504.1" y="1697.7" width="16.5" height="16.5" rx="0" fill="none" stroke="#4169e1" stroke-width="3.1" />
<rect x="509.0" y="1702.6" width="16.5" height="16.5" rx="0" fill="none" stroke="#4169e1" stroke-width="3.1" />
<rect x="516.3" y="1717.3" width="16.5" height="16.5" rx="0" fill="none" stroke="#4169e1" stroke-width="3.1" />
<rect x="526.1" y="1685.4" width="16.5" height="16.5" rx="0" fill="none" stroke="#4169e1" stroke-width="3.1" />
<rect x="543.3" y="1687.8" width="16.5" height="16.5" rx="0" fill="none" stroke="#4169e1" stroke-width="3.1" />
<rect x="570.2" y="1717.3" width="16.5" height="16.5" rx="0" fill="none" stroke="#4169e1" stroke-width="3.1" />
<rect x="575.1" y="1717.3" width="16.5" height="16.5" rx="0" fill="none" stroke="#4169e1" stroke-width="3.1" />
<rect x="577.6" y="1722.2" width="16.5" height="16.5" rx="0" fill="none" stroke="#4169e1" stroke-width="3.1" />
<rect x="584.9" y="1692.8" width="16.5" height="16.5" rx="0" fill="none" stroke="#4169e1" stroke-width="3.1" />
<rect x="589.8" y="1690.3" width="16.5" height="16.5" rx="0" fill="none" stroke="#4169e1" stroke-width="3.1" />
<rect x="594.8" y="1707.5" width="16.5" height="16.5" rx="0" fill="none" stroke="#4169e1" stroke-width="3.1" />
<rect x="607.0" y="1709.9" width="16.5" height="16.5" rx="0" fill="none" stroke="#4169e1" stroke-width="3.1" />
<rect x="621.7" y="1712.4" width="16.5" height="16.5" rx="0" fill="none" stroke="#4169e1" stroke-width="3.1" />
<rect x="638.9" y="1707.5" width="16.5" height="16.5" rx="0" fill="none" stroke="#4169e1" stroke-width="3.1" />
<rect x="643.8" y="1700.1" width="16.5" height="16.5" rx="0" fill="none" stroke="#4169e1" stroke-width="3.1" />
<rect x="653.6" y="1692.8" width="16.5" height="16.5" rx="0" fill="none" stroke="#4169e1" stroke-width="3.1" />
<rect x="648.7" y="1724.6" width="16.5" height="16.5" rx="0" fill="none" stroke="#4169e1" stroke-width="3.1" />
<rect x="692.8" y="1717.3" width="16.5" height="16.5" rx="0" fill="none" stroke="#4169e1" stroke-width="3.1" />
<rect x="700.2" y="1707.5" width="16.5" height="16.5" rx="0" fill="none" stroke="#4169e1" stroke-width="3.1" />
<rect x="707.5" y="1702.6" width="16.5" height="16.5" rx="0" fill="none" stroke="#4169e1" stroke-width="3.1" />
<rect x="717.3" y="1707.5" width="16.5" height="16.5" rx="0" fill="none" stroke="#4169e1" stroke-width="3.1" />
<circle cx="471.6" cy="1762.3" r="7.4" fill="none" stroke="#dc143c" stroke-width="3.1" />
<circle cx="478.0" cy="1754.9" r="7.4" fill="none" stroke="#dc143c" stroke-width="3.1" />
<circle cx="497.6" cy="1726.5" r="7.4" fill="none" stroke="#dc143c" stroke-width="3.1" />
<circle cx="529.5" cy="1759.8" r="7.4" fill="none" stroke="#dc143c" stroke-width="3.1" />
<circle cx="539.3" cy="1767.2" r="7.4" fill="none" stroke="#dc143c" stroke-width="3.1" />
<circle cx="546.6" cy="1767.2" r="7.4" fill="none" stroke="#dc143c" stroke-width="3.1" />
<circle cx="556.4" cy="1762.3" r="7.4" fill="none" stroke="#dc143c" stroke-width="3.1" />
<circle cx="561.3" cy="1777.0" r="7.4" fill="none" stroke="#dc143c" stroke-width="3.1" />
<circle cx="568.7" cy="1769.6" r="7.4" fill="none" stroke="#dc143c" stroke-width="3.1" />
<circle cx="573.6" cy="1781.9" r="7.4" fill="none" stroke="#dc143c" stroke-width="3.1" />
<circle cx="610.4" cy="1741.2" r="7.4" fill="none" stroke="#dc143c" stroke-width="3.1" />
<circle cx="620.2" cy="1768.7" r="7.4" fill="none" stroke="#dc143c" stroke-width="3.1" />
<circle cx="625.1" cy="1749.0" r="7.4" fill="none" stroke="#dc143c" stroke-width="3.1" />
<circle cx="634.9" cy="1747.6" r="7.4" fill="none" stroke="#dc143c" stroke-width="3.1" />
<circle cx="639.8" cy="1741.2" r="7.4" fill="none" stroke="#dc143c" stroke-width="3.1" />
<circle cx="666.7" cy="1754.9" r="7.4" fill="none" stroke="#dc143c" stroke-width="3.1" />
<circle cx="674.1" cy="1778.5" r="7.4" fill="none" stroke="#dc143c" stroke-width="3.1" />
<circle cx="679.0" cy="1783.4" r="7.4" fill="none" stroke="#dc143c" stroke-width="3.1" />
<circle cx="683.9" cy="1781.9" r="7.4" fill="none" stroke="#dc143c" stroke-width="3.1" />
<circle cx="688.8" cy="1750.0" r="7.4" fill="none" stroke="#dc143c" stroke-width="3.1" />
<circle cx="695.2" cy="1725.5" r="7.4" fill="none" stroke="#dc143c" stroke-width="3.1" />
<circle cx="705.0" cy="1762.3" r="7.4" fill="none" stroke="#dc143c" stroke-width="3.1" />
<circle cx="720.7" cy="1799.0" r="7.4" fill="none" stroke="#dc143c" stroke-width="3.1" />
<circle cx="730.5" cy="1791.7" r="7.4" fill="none" stroke="#dc143c" stroke-width="3.1" />
<rect x="781.0" y="1668.2" width="16.5" height="16.5" rx="0" fill="none" stroke="#4169e1" stroke-width="3.1" />
<rect x="788.4" y="1665.8" width="16.5" height="16.5" rx="0" fill="none" stroke="#4169e1" stroke-width="3.1" />
<rect x="795.8" y="1680.5" width="16.5" height="16.5" rx="0" fill="none" stroke="#4169e1" stroke-width="3.1" />
<rect x="800.7" y="1673.1" width="16.5" height="16.5" rx="0" fill="none" stroke="#4169e1" stroke-width="3.1" />
<rect x="817.8" y="1653.5" width="16.5" height="16.5" rx="0" fill="none" stroke="#4169e1" stroke-width="3.1" />
<rect x="822.7" y="1638.8" width="16.5" height="16.5" rx="0" fill="none" stroke="#4169e1" stroke-width="3.1" />
<rect x="832.5" y="1680.5" width="16.5" height="16.5" rx="0" fill="none" stroke="#4169e1" stroke-width="3.1" />
<rect x="844.8" y="1668.2" width="16.5" height="16.5" rx="0" fill="none" stroke="#4169e1" stroke-width="3.1" />
<rect x="849.7" y="1673.1" width="16.5" height="16.5" rx="0" fill="none" stroke="#4169e1" stroke-width="3.1" />
<rect x="854.6" y="1630.5" width="16.5" height="16.5" rx="0" fill="none" stroke="#4169e1" stroke-width="3.1" />
<rect x="886.4" y="1638.8" width="16.5" height="16.5" rx="0" fill="none" stroke="#4169e1" stroke-width="3.1" />
<rect x="891.3" y="1646.2" width="16.5" height="16.5" rx="0" fill="none" stroke="#4169e1" stroke-width="3.1" />
<rect x="906.1" y="1631.5" width="16.5" height="16.5" rx="0" fill="none" stroke="#4169e1" stroke-width="3.1" />
<rect x="901.2" y="1687.8" width="16.5" height="16.5" rx="0" fill="none" stroke="#4169e1" stroke-width="3.1" />
<rect x="918.3" y="1690.3" width="16.5" height="16.5" rx="0" fill="none" stroke="#4169e1" stroke-width="3.1" />
<rect x="933.0" y="1687.8" width="16.5" height="16.5" rx="0" fill="none" stroke="#4169e1" stroke-width="3.1" />
<rect x="942.8" y="1653.5" width="16.5" height="16.5" rx="0" fill="none" stroke="#4169e1" stroke-width="3.1" />
<rect x="964.9" y="1687.8" width="16.5" height="16.5" rx="0" fill="none" stroke="#4169e1" stroke-width="3.1" />
<rect x="986.9" y="1616.8" width="16.5" height="16.5" rx="0" fill="none" stroke="#4169e1" stroke-width="3.1" />
<rect x="1001.7" y="1692.8" width="16.5" height="16.5" rx="0" fill="none" stroke="#4169e1" stroke-width="3.1" />
<rect x="1023.7" y="1670.7" width="16.5" height="16.5" rx="0" fill="none" stroke="#4169e1" stroke-width="3.1" />
<rect x="1036.0" y="1670.7" width="16.5" height="16.5" rx="0" fill="none" stroke="#4169e1" stroke-width="3.1" />
<circle cx="789.3" cy="1745.1" r="7.4" fill="none" stroke="#dc143c" stroke-width="3.1" />
<circle cx="813.8" cy="1715.7" r="7.4" fill="none" stroke="#dc143c" stroke-width="3.1" />
<circle cx="818.7" cy="1802.5" r="7.4" fill="none" stroke="#dc143c" stroke-width="3.1" />
<circle cx="835.9" cy="1799.0" r="7.4" fill="none" stroke="#dc143c" stroke-width="3.1" />
<circle cx="845.7" cy="1821.1" r="7.4" fill="none" stroke="#dc143c" stroke-width="3.1" />
<circle cx="867.7" cy="1781.9" r="7.4" fill="none" stroke="#dc143c" stroke-width="3.1" />
<circle cx="872.6" cy="1816.2" r="7.4" fill="none" stroke="#dc143c" stroke-width="3.1" />
<circle cx="880.0" cy="1827.5" r="7.4" fill="none" stroke="#dc143c" stroke-width="3.1" />
<circle cx="882.4" cy="1774.5" r="7.4" fill="none" stroke="#dc143c" stroke-width="3.1" />
<circle cx="887.3" cy="1784.3" r="7.4" fill="none" stroke="#dc143c" stroke-width="3.1" />
<circle cx="904.5" cy="1804.0" r="7.4" fill="none" stroke="#dc143c" stroke-width="3.1" />
<circle cx="921.7" cy="1817.7" r="7.4" fill="none" stroke="#dc143c" stroke-width="3.1" />
<circle cx="931.5" cy="1845.6" r="7.4" fill="none" stroke="#dc143c" stroke-width="3.1" />
<circle cx="936.4" cy="1817.7" r="7.4" fill="none" stroke="#dc143c" stroke-width="3.1" />
<circle cx="946.2" cy="1784.3" r="7.4" fill="none" stroke="#dc143c" stroke-width="3.1" />
<circle cx="956.0" cy="1708.4" r="7.4" fill="none" stroke="#dc143c" stroke-width="3.1" />
<circle cx="963.3" cy="1763.3" r="7.4" fill="none" stroke="#dc143c" stroke-width="3.1" />
<circle cx="968.2" cy="1811.3" r="7.4" fill="none" stroke="#dc143c" stroke-width="3.1" />
<circle cx="978.0" cy="1729.4" r="7.4" fill="none" stroke="#dc143c" stroke-width="3.1" />
<circle cx="982.9" cy="1808.9" r="7.4" fill="none" stroke="#dc143c" stroke-width="3.1" />
<circle cx="990.3" cy="1745.1" r="7.4" fill="none" stroke="#dc143c" stroke-width="3.1" />
<circle cx="1000.1" cy="1767.2" r="7.4" fill="none" stroke="#dc143c" stroke-width="3.1" />
<circle cx="1005.0" cy="1754.9" r="7.4" fill="none" stroke="#dc143c" stroke-width="3.1" />
<circle cx="1017.3" cy="1816.2" r="7.4" fill="none" stroke="#dc143c" stroke-width="3.1" />
<circle cx="1022.2" cy="1791.7" r="7.4" fill="none" stroke="#dc143c" stroke-width="3.1" />
<circle cx="1024.6" cy="1750.0" r="7.4" fill="none" stroke="#dc143c" stroke-width="3.1" />
<circle cx="1036.9" cy="1811.3" r="7.4" fill="none" stroke="#dc143c" stroke-width="3.1" />
<circle cx="1046.7" cy="1816.2" r="7.4" fill="none" stroke="#dc143c" stroke-width="3.1" />
<rect x="150.5" y="1611.8" width="275.0" height="258.3" rx="0" fill="none" stroke="#000" stroke-width="2.8" />
<rect x="466.7" y="1611.8" width="274.6" height="258.3" rx="0" fill="none" stroke="#000" stroke-width="2.8" />
<rect x="783.4" y="1611.8" width="275.6" height="258.3" rx="0" fill="none" stroke="#000" stroke-width="2.8" />
<g transform="translate(46.1,1769.4) rotate(-90) scale(0.84)">
<polyline points="11.1,-35.4 2.3,-13.4 11.1,8.2" fill="none" stroke="#000" stroke-width="3.5" stroke-linejoin="round"/>
<text x="17" y="0" font-family='"Liberation Serif", serif' font-size="44" font-style="italic">σ</text>
<polyline points="23.6,-25.4 32.7,-32.5 41.8,-25.4" fill="none" stroke="#000" stroke-width="2.6"/>
<text x="41" y="11" font-family='"Liberation Serif", serif' font-size="36" font-style="italic">z</text>
<polyline points="66.1,-35.4 74.7,-13.4 66.1,8.2" fill="none" stroke="#000" stroke-width="3.5" stroke-linejoin="round"/>
</g>
<text x="604.0" y="1981.0" font-family='"Liberation Serif", serif' font-size="38" text-anchor="middle" font-weight="normal" font-style="normal" fill="#000" >Sample index</text>
<rect x="744.2" y="1567.8" width="16.5" height="16.5" rx="0" fill="none" stroke="#4169e1" stroke-width="3.1" />
<text x="789.0" y="1589.0" font-family='"Liberation Serif", serif' font-size="37" text-anchor="start" font-weight="normal" font-style="normal" fill="#000" >Hand</text>
<circle cx="914.0" cy="1576.0" r="7.4" fill="none" stroke="#dc143c" stroke-width="3.1" />
<text x="951.0" y="1589.0" font-family='"Liberation Serif", serif' font-size="37" text-anchor="start" font-weight="normal" font-style="normal" fill="#000" >Breast</text>
<text x="1115.0" y="830.0" font-family='"Liberation Serif", serif' font-size="70" text-anchor="start" font-weight="bold" font-style="normal" fill="#000" >e</text>
<rect x="1109.6" y="862.4" width="250.2" height="250.2" rx="0" fill="#fff" stroke="none" stroke-width="0" />
<rect x="1112.40" y="865.20" width="11.51" height="11.51" fill="#f3f3f3"/><rect x="1127.94" y="865.20" width="11.51" height="11.51" fill="#f3f3f3"/><rect x="1143.48" y="865.20" width="11.51" height="11.51" fill="#f3f3f3"/><rect x="1159.02" y="865.20" width="11.51" height="11.51" fill="#f3f3f3"/><rect x="1174.56" y="865.20" width="11.51" height="11.51" fill="#f3f3f3"/><rect x="1190.10" y="865.20" width="11.51" height="11.51" fill="#f3f3f3"/><rect x="1205.64" y="865.20" width="11.51" height="11.51" fill="#f3f3f3"/><rect x="1221.18" y="865.20" width="11.51" height="11.51" fill="#f3f3f3"/><rect x="1236.71" y="865.20" width="11.51" height="11.51" fill="#f3f3f3"/><rect x="1252.25" y="865.20" width="11.51" height="11.51" fill="#f3f3f3"/><rect x="1267.79" y="865.20" width="11.51" height="11.51" fill="#f3f3f3"/><rect x="1283.33" y="865.20" width="11.51" height="11.51" fill="#f3f3f3"/><rect x="1298.87" y="865.20" width="11.51" height="11.51" fill="#f3f3f3"/><rect x="1314.41" y="865.20" width="11.51" height="11.51" fill="#f3f3f3"/><rect x="1329.95" y="865.20" width="11.51" height="11.51" fill="#f3f3f3"/><rect x="1345.49" y="865.20" width="11.51" height="11.51" fill="#f3f3f3"/><rect x="1112.40" y="880.74" width="11.51" height="11.51" fill="#f5f5f5"/><rect x="1127.94" y="880.74" width="11.51" height="11.51" fill="#f5f5f5"/><rect x="1143.48" y="880.74" width="11.51" height="11.51" fill="#f7f7f7"/><rect x="1159.02" y="880.74" width="11.51" height="11.51" fill="#f8f8f8"/><rect x="1174.56" y="880.74" width="11.51" height="11.51" fill="#f8f8f8"/><rect x="1190.10" y="880.74" width="11.51" height="11.51" fill="#f8f8f8"/><rect x="1205.64" y="880.74" width="11.51" height="11.51" fill="#dcdcdc"/><rect x="1221.18" y="880.74" width="11.51" height="11.51" fill="#f3f3f3"/><rect x="1236.71" y="880.74" width="11.51" height="11.51" fill="#f8f8f8"/><rect x="1252.25" y="880.74" width="11.51" height="11.51" fill="#f8f8f8"/><rect x="1267.79" y="880.74" width="11.51" height="11.51" fill="#fbfbfb"/><rect x="1283.33" y="880.74" width="11.51" height="11.51" fill="#fbfbfb"/><rect x="1298.87" y="880.74" width="11.51" height="11.51" fill="#fbfbfb"/><rect x="1314.41" y="880.74" width="11.51" height="11.51" fill="#fbfbfb"/><rect x="1329.95" y="880.74" width="11.51" height="11.51" fill="#fbfbfb"/><rect x="1345.49" y="880.74" width="11.51" height="11.51" fill="#fbfbfb"/><rect x="1112.40" y="896.28" width="11.51" height="11.51" fill="#fbfbfb"/><rect x="1127.94" y="896.28" width="11.51" height="11.51" fill="#fbfbfb"/><rect x="1143.48" y="896.28" width="11.51" height="11.51" fill="#fbfbfb"/><rect x="1159.02" y="896.28" width="11.51" height="11.51" fill="#e3e3e3"/><rect x="1174.56" y="896.28" width="11.51" height="11.51" fill="#fbfbfb"/><rect x="1190.10" y="896.28" width="11.51" height="11.51" fill="#fbfbfb"/><rect x="1205.64" y="896.28" width="11.51" height="11.51" fill="#d8d8d8"/><rect x="1221.18" y="896.28" width="11.51" height="11.51" fill="#dedede"/><rect x="1236.71" y="896.28" width="11.51" height="11.51" fill="#fbfbfb"/><rect x="1252.25" y="896.28" width="11.51" height="11.51" fill="#fbfbfb"/><rect x="1267.79" y="896.28" width="11.51" height="11.51" fill="#c0c0c0"/><rect x="1283.33" y="896.28" width="11.51" height="11.51" fill="#fbfbfb"/><rect x="1298.87" y="896.28" width="11.51" height="11.51" fill="#fbfbfb"/><rect x="1314.41" y="896.28" width="11.51" height="11.51" fill="#fbfbfb"/><rect x="1329.95" y="896.28" width="11.51" height="11.51" fill="#fbfbfb"/><rect x="1345.49" y="896.28" width="11.51" height="11.51" fill="#fbfbfb"/><rect x="1112.40" y="911.82" width="11.51" height="11.51" fill="#fbfbfb"/><rect x="1127.94" y="911.82" width="11.51" height="11.51" fill="#fbfbfb"/><rect x="1143.48" y="911.82" width="11.51" height="11.51" fill="#fbfbfb"/><rect x="1159.02" y="911.82" width="11.51" height="11.51" fill="#eeeeee"/><rect x="1174.56" y="911.82" width="11.51" height="11.51" fill="#d8d8d8"/><rect x="1190.10" y="911.82" width="11.51" height="11.51" fill="#fbfbfb"/><rect x="1205.64" y="911.82" width="11.51" height="11.51" fill="#dadada"/><rect x="1221.18" y="911.82" width="11.51" height="11.51" fill="#c0c0c0"/><rect x="1236.71" y="911.82" width="11.51" height="11.51" fill="#fbfbfb"/><rect x="1252.25" y="911.82" width="11.51" height="11.51" fill="#f3f3f3"/><rect x="1267.79" y="911.82" width="11.51" height="11.51" fill="#bbbbbb"/><rect x="1283.33" y="911.82" width="11.51" height="11.51" fill="#fbfbfb"/><rect x="1298.87" y="911.82" width="11.51" height="11.51" fill="#fbfbfb"/><rect x="1314.41" y="911.82" width="11.51" height="11.51" fill="#fbfbfb"/><rect x="1329.95" y="911.82" width="11.51" height="11.51" fill="#fbfbfb"/><rect x="1345.49" y="911.82" width="11.51" height="11.51" fill="#fbfbfb"/><rect x="1112.40" y="927.36" width="11.51" height="11.51" fill="#fbfbfb"/><rect x="1127.94" y="927.36" width="11.51" height="11.51" fill="#fbfbfb"/><rect x="1143.48" y="927.36" width="11.51" height="11.51" fill="#fbfbfb"/><rect x="1159.02" y="927.36" width="11.51" height="11.51" fill="#f7f7f7"/><rect x="1174.56" y="927.36" width="11.51" height="11.51" fill="#9e9e9e"/><rect x="1190.10" y="927.36" width="11.51" height="11.51" fill="#fbfbfb"/><rect x="1205.64" y="927.36" width="11.51" height="11.51" fill="#d0d0d0"/><rect x="1221.18" y="927.36" width="11.51" height="11.51" fill="#a3a3a3"/><rect x="1236.71" y="927.36" width="11.51" height="11.51" fill="#fbfbfb"/><rect x="1252.25" y="927.36" width="11.51" height="11.51" fill="#aaaaaa"/><rect x="1267.79" y="927.36" width="11.51" height="11.51" fill="#dcdcdc"/><rect x="1283.33" y="927.36" width="11.51" height="11.51" fill="#fbfbfb"/><rect x="1298.87" y="927.36" width="11.51" height="11.51" fill="#fbfbfb"/><rect x="1314.41" y="927.36" width="11.51" height="11.51" fill="#fbfbfb"/><rect x="1329.95" y="927.36" width="11.51" height="11.51" fill="#fbfbfb"/><rect x="1345.49" y="927.36" width="11.51" height="11.51" fill="#fbfbfb"/><rect x="1112.40" y="942.90" width="11.51" height="11.51" fill="#dcdcdc"/><rect x="1127.94" y="942.90" width="11.51" height="11.51" fill="#f0f0f0"/><rect x="1143.48" y="942.90" width="11.51" height="11.51" fill="#fbfbfb"/><rect x="1159.02" y="942.90" width="11.51" height="11.51" fill="#fbfbfb"/><rect x="1174.56" y="942.90" width="11.51" height="11.51" fill="#828282"/><rect x="1190.10" y="942.90" width="11.51" height="11.51" fill="#f3f3f3"/><rect x="1205.64" y="942.90" width="11.51" height="11.51" fill="#c4c4c4"/><rect x="1221.18" y="942.90" width="11.51" height="11.51" fill="#b0b0b0"/><rect x="1236.71" y="942.90" width="11.51" height="11.51" fill="#f5f5f5"/><rect x="1252.25" y="942.90" width="11.51" height="11.51" fill="#707070"/><rect x="1267.79" y="942.90" width="11.51" height="11.51" fill="#fbfbfb"/><rect x="1283.33" y="942.90" width="11.51" height="11.51" fill="#fbfbfb"/><rect x="1298.87" y="942.90" width="11.51" height="11.51" fill="#fbfbfb"/><rect x="1314.41" y="942.90" width="11.51" height="11.51" fill="#fbfbfb"/><rect x="1329.95" y="942.90" width="11.51" height="11.51" fill="#fbfbfb"/><rect x="1345.49" y="942.90" width="11.51" height="11.51" fill="#fbfbfb"/><rect x="1112.40" y="958.44" width="11.51" height="11.51" fill="#fbfbfb"/><rect x="1127.94" y="958.44" width="11.51" height="11.51" fill="#b0b0b0"/><rect x="1143.48" y="958.44" width="11.51" height="11.51" fill="#e8e8e8"/><rect x="1159.02" y="958.44" width="11.51" height="11.51" fill="#fbfbfb"/><rect x="1174.56" y="958.44" width="11.51" height="11.51" fill="#c0c0c0"/><rect x="1190.10" y="958.44" width="11.51" height="11.51" fill="#c4c4c4"/><rect x="1205.64" y="958.44" width="11.51" height="11.51" fill="#909090"/><rect x="1221.18" y="958.44" width="11.51" height="11.51" fill="#9a9a9a"/><rect x="1236.71" y="958.44" width="11.51" height="11.51" fill="#8c8c8c"/><rect x="1252.25" y="958.44" width="11.51" height="11.51" fill="#909090"/><rect x="1267.79" y="958.44" width="11.51" height="11.51" fill="#fbfbfb"/><rect x="1283.33" y="958.44" width="11.51" height="11.51" fill="#fbfbfb"/><rect x="1298.87" y="958.44" width="11.51" height="11.51" fill="#fbfbfb"/><rect x="1314.41" y="958.44" width="11.51" height="11.51" fill="#fbfbfb"/><rect x="1329.95" y="958.44" width="11.51" height="11.51" fill="#fbfbfb"/><rect x="1345.49" y="958.44" width="11.51" height="11.51" fill="#fbfbfb"/><rect x="1112.40" y="973.98" width="11.51" height="11.51" fill="#fbfbfb"/><rect x="1127.94" y="973.98" width="11.51" height="11.51" fill="#fbfbfb"/><rect x="1143.48" y="973.98" width="11.51" height="11.51" fill="#b5b5b5"/><rect x="1159.02" y="973.98" width="11.51" height="11.51" fill="#c8c8c8"/><rect x="1174.56" y="973.98" width="11.51" height="11.51" fill="#c4c4c4"/><rect x="1190.10" y="973.98" width="11.51" height="11.51" fill="#7a7a7a"/><rect x="1205.64" y="973.98" width="11.51" height="11.51" fill="#6a6a6a"/><rect x="1221.18" y="973.98" width="11.51" height="11.51" fill="#858585"/><rect x="1236.71" y="973.98" width="11.51" height="11.51" fill="#4a4a4a"/><rect x="1252.25" y="973.98" width="11.51" height="11.51" fill="#b5b5b5"/><rect x="1267.79" y="973.98" width="11.51" height="11.51" fill="#fbfbfb"/><rect x="1283.33" y="973.98" width="11.51" height="11.51" fill="#fbfbfb"/><rect x="1298.87" y="973.98" width="11.51" height="11.51" fill="#f3f3f3"/><rect x="1314.41" y="973.98" width="11.51" height="11.51" fill="#909090"/><rect x="1329.95" y="973.98" width="11.51" height="11.51" fill="#fbfbfb"/><rect x="1345.49" y="973.98" width="11.51" height="11.51" fill="#fbfbfb"/><rect x="1112.40" y="989.51" width="11.51" height="11.51" fill="#fbfbfb"/><rect x="1127.94" y="989.51" width="11.51" height="11.51" fill="#fbfbfb"/><rect x="1143.48" y="989.51" width="11.51" height="11.51" fill="#fbfbfb"/><rect x="1159.02" y="989.51" width="11.51" height="11.51" fill="#a0a0a0"/><rect x="1174.56" y="989.51" width="11.51" height="11.51" fill="#888888"/><rect x="1190.10" y="989.51" width="11.51" height="11.51" fill="#606060"/><rect x="1205.64" y="989.51" width="11.51" height="11.51" fill="#858585"/><rect x="1221.18" y="989.51" width="11.51" height="11.51" fill="#7a7a7a"/><rect x="1236.71" y="989.51" width="11.51" height="11.51" fill="#222222"/><rect x="1252.25" y="989.51" width="11.51" height="11.51" fill="#8c8c8c"/><rect x="1267.79" y="989.51" width="11.51" height="11.51" fill="#c4c4c4"/><rect x="1283.33" y="989.51" width="11.51" height="11.51" fill="#d4d4d4"/><rect x="1298.87" y="989.51" width="11.51" height="11.51" fill="#909090"/><rect x="1314.41" y="989.51" width="11.51" height="11.51" fill="#c0c0c0"/><rect x="1329.95" y="989.51" width="11.51" height="11.51" fill="#fbfbfb"/><rect x="1345.49" y="989.51" width="11.51" height="11.51" fill="#fbfbfb"/><rect x="1112.40" y="1005.05" width="11.51" height="11.51" fill="#fbfbfb"/><rect x="1127.94" y="1005.05" width="11.51" height="11.51" fill="#fbfbfb"/><rect x="1143.48" y="1005.05" width="11.51" height="11.51" fill="#fbfbfb"/><rect x="1159.02" y="1005.05" width="11.51" height="11.51" fill="#eaeaea"/><rect x="1174.56" y="1005.05" width="11.51" height="11.51" fill="#5e5e5e"/><rect x="1190.10" y="1005.05" width="11.51" height="11.51" fill="#707070"/><rect x="1205.64" y="1005.05" width="11.51" height="11.51" fill="#7e7e7e"/><rect x="1221.18" y="1005.05" width="11.51" height="11.51" fill="#484848"/><rect x="1236.71" y="1005.05" width="11.51" height="11.51" fill="#1e1e1e"/><rect x="1252.25" y="1005.05" width="11.51" height="11.51" fill="#787878"/><rect x="1267.79" y="1005.05" width="11.51" height="11.51" fill="#727272"/><rect x="1283.33" y="1005.05" width="11.51" height="11.51" fill="#6c6c6c"/><rect x="1298.87" y="1005.05" width="11.51" height="11.51" fill="#f5f5f5"/><rect x="1314.41" y="1005.05" width="11.51" height="11.51" fill="#fbfbfb"/><rect x="1329.95" y="1005.05" width="11.51" height="11.51" fill="#fbfbfb"/><rect x="1345.49" y="1005.05" width="11.51" height="11.51" fill="#fbfbfb"/><rect x="1112.40" y="1020.59" width="11.51" height="11.51" fill="#eaeaea"/><rect x="1127.94" y="1020.59" width="11.51" height="11.51" fill="#e4e4e4"/><rect x="1143.48" y="1020.59" width="11.51" height="11.51" fill="#e0e0e0"/><rect x="1159.02" y="1020.59" width="11.51" height="11.51" fill="#fbfbfb"/><rect x="1174.56" y="1020.59" width="11.51" height="11.51" fill="#8e8e8e"/><rect x="1190.10" y="1020.59" width="11.51" height="11.51" fill="#4c4c4c"/><rect x="1205.64" y="1020.59" width="11.51" height="11.51" fill="#2e2e2e"/><rect x="1221.18" y="1020.59" width="11.51" height="11.51" fill="#1e1e1e"/><rect x="1236.71" y="1020.59" width="11.51" height="11.51" fill="#222222"/><rect x="1252.25" y="1020.59" width="11.51" height="11.51" fill="#4c4c4c"/><rect x="1267.79" y="1020.59" width="11.51" height="11.51" fill="#6a6a6a"/><rect x="1283.33" y="1020.59" width="11.51" height="11.51" fill="#fbfbfb"/><rect x="1298.87" y="1020.59" width="11.51" height="11.51" fill="#fbfbfb"/><rect x="1314.41" y="1020.59" width="11.51" height="11.51" fill="#fbfbfb"/><rect x="1329.95" y="1020.59" width="11.51" height="11.51" fill="#fbfbfb"/><rect x="1345.49" y="1020.59" width="11.51" height="11.51" fill="#fbfbfb"/><rect x="1112.40" y="1036.13" width="11.51" height="11.51" fill="#161616"/><rect x="1127.94" y="1036.13" width="11.51" height="11.51" fill="#f0f0f0"/><rect x="1143.48" y="1036.13" width="11.51" height="11.51" fill="#e0e0e0"/><rect x="1159.02" y="1036.13" width="11.51" height="11.51" fill="#fbfbfb"/><rect x="1174.56" y="1036.13" width="11.51" height="11.51" fill="#cecece"/><rect x="1190.10" y="1036.13" width="11.51" height="11.51" fill="#505050"/><rect x="1205.64" y="1036.13" width="11.51" height="11.51" fill="#0e0e0e"/><rect x="1221.18" y="1036.13" width="11.51" height="11.51" fill="#020202"/><rect x="1236.71" y="1036.13" width="11.51" height="11.51" fill="#1c1c1c"/><rect x="1252.25" y="1036.13" width="11.51" height="11.51" fill="#969696"/><rect x="1267.79" y="1036.13" width="11.51" height="11.51" fill="#fbfbfb"/><rect x="1283.33" y="1036.13" width="11.51" height="11.51" fill="#fbfbfb"/><rect x="1298.87" y="1036.13" width="11.51" height="11.51" fill="#fbfbfb"/><rect x="1314.41" y="1036.13" width="11.51" height="11.51" fill="#fbfbfb"/><rect x="1329.95" y="1036.13" width="11.51" height="11.51" fill="#fbfbfb"/><rect x="1345.49" y="1036.13" width="11.51" height="11.51" fill="#fbfbfb"/><rect x="1112.40" y="1051.67" width="11.51" height="11.51" fill="#1c1c1c"/><rect x="1127.94" y="1051.67" width="11.51" height="11.51" fill="#e0e0e0"/><rect x="1143.48" y="1051.67" width="11.51" height="11.51" fill="#e8e8e8"/><rect x="1159.02" y="1051.67" width="11.51" height="11.51" fill="#fbfbfb"/><rect x="1174.56" y="1051.67" width="11.51" height="11.51" fill="#e0e0e0"/><rect x="1190.10" y="1051.67" width="11.51" height="11.51" fill="#4a4a4a"/><rect x="1205.64" y="1051.67" width="11.51" height="11.51" fill="#161616"/><rect x="1221.18" y="1051.67" width="11.51" height="11.51" fill="#0e0e0e"/><rect x="1236.71" y="1051.67" width="11.51" height="11.51" fill="#585858"/><rect x="1252.25" y="1051.67" width="11.51" height="11.51" fill="#f0f0f0"/><rect x="1267.79" y="1051.67" width="11.51" height="11.51" fill="#fbfbfb"/><rect x="1283.33" y="1051.67" width="11.51" height="11.51" fill="#fbfbfb"/><rect x="1298.87" y="1051.67" width="11.51" height="11.51" fill="#fbfbfb"/><rect x="1314.41" y="1051.67" width="11.51" height="11.51" fill="#fbfbfb"/><rect x="1329.95" y="1051.67" width="11.51" height="11.51" fill="#fbfbfb"/><rect x="1345.49" y="1051.67" width="11.51" height="11.51" fill="#fbfbfb"/><rect x="1112.40" y="1067.21" width="11.51" height="11.51" fill="#c4c4c4"/><rect x="1127.94" y="1067.21" width="11.51" height="11.51" fill="#6a6a6a"/><rect x="1143.48" y="1067.21" width="11.51" height="11.51" fill="#e8e8e8"/><rect x="1159.02" y="1067.21" width="11.51" height="11.51" fill="#f8f8f8"/><rect x="1174.56" y="1067.21" width="11.51" height="11.51" fill="#969696"/><rect x="1190.10" y="1067.21" width="11.51" height="11.51" fill="#060606"/><rect x="1205.64" y="1067.21" width="11.51" height="11.51" fill="#0e0e0e"/><rect x="1221.18" y="1067.21" width="11.51" height="11.51" fill="#040404"/><rect x="1236.71" y="1067.21" width="11.51" height="11.51" fill="#646464"/><rect x="1252.25" y="1067.21" width="11.51" height="11.51" fill="#fbfbfb"/><rect x="1267.79" y="1067.21" width="11.51" height="11.51" fill="#fbfbfb"/><rect x="1283.33" y="1067.21" width="11.51" height="11.51" fill="#fbfbfb"/><rect x="1298.87" y="1067.21" width="11.51" height="11.51" fill="#fbfbfb"/><rect x="1314.41" y="1067.21" width="11.51" height="11.51" fill="#fbfbfb"/><rect x="1329.95" y="1067.21" width="11.51" height="11.51" fill="#fbfbfb"/><rect x="1345.49" y="1067.21" width="11.51" height="11.51" fill="#fbfbfb"/><rect x="1112.40" y="1082.75" width="11.51" height="11.51" fill="#fbfbfb"/><rect x="1127.94" y="1082.75" width="11.51" height="11.51" fill="#fbfbfb"/><rect x="1143.48" y="1082.75" width="11.51" height="11.51" fill="#fbfbfb"/><rect x="1159.02" y="1082.75" width="11.51" height="11.51" fill="#fbfbfb"/><rect x="1174.56" y="1082.75" width="11.51" height="11.51" fill="#303030"/><rect x="1190.10" y="1082.75" width="11.51" height="11.51" fill="#222222"/><rect x="1205.64" y="1082.75" width="11.51" height="11.51" fill="#0e0e0e"/><rect x="1221.18" y="1082.75" width="11.51" height="11.51" fill="#040404"/><rect x="1236.71" y="1082.75" width="11.51" height="11.51" fill="#b4b4b4"/><rect x="1252.25" y="1082.75" width="11.51" height="11.51" fill="#fbfbfb"/><rect x="1267.79" y="1082.75" width="11.51" height="11.51" fill="#fbfbfb"/><rect x="1283.33" y="1082.75" width="11.51" height="11.51" fill="#fbfbfb"/><rect x="1298.87" y="1082.75" width="11.51" height="11.51" fill="#fbfbfb"/><rect x="1314.41" y="1082.75" width="11.51" height="11.51" fill="#fbfbfb"/><rect x="1329.95" y="1082.75" width="11.51" height="11.51" fill="#fbfbfb"/><rect x="1345.49" y="1082.75" width="11.51" height="11.51" fill="#fbfbfb"/><rect x="1112.40" y="1098.29" width="11.51" height="11.51" fill="#fbfbfb"/><rect x="1127.94" y="1098.29" width="11.51" height="11.51" fill="#fbfbfb"/><rect x="1143.48" y="1098.29" width="11.51" height="11.51" fill="#fbfbfb"/><rect x="1159.02" y="1098.29" width="11.51" height="11.51" fill="#eeeeee"/><rect x="1174.56" y="1098.29" width="11.51" height="11.51" fill="#040404"/><rect x="1190.10" y="1098.29" width="11.51" height="11.51" fill="#0a0a0a"/><rect x="1205.64" y="1098.29" width="11.51" height="11.51" fill="#050505"/><rect x="1221.18" y="1098.29" width="11.51" height="11.51" fill="#121212"/><rect x="1236.71" y="1098.29" width="11.51" height="11.51" fill="#e0e0e0"/><rect x="1252.25" y="1098.29" width="11.51" height="11.51" fill="#fbfbfb"/><rect x="1267.79" y="1098.29" width="11.51" height="11.51" fill="#fbfbfb"/><rect x="1283.33" y="1098.29" width="11.51" height="11.51" fill="#fbfbfb"/><rect x="1298.87" y="1098.29" width="11.51" height="11.51" fill="#fbfbfb"/><rect x="1314.41" y="1098.29" width="11.51" height="11.51" fill="#fbfbfb"/><rect x="1329.95" y="1098.29" width="11.51" height="11.51" fill="#fbfbfb"/><rect x="1345.49" y="1098.29" width="11.51" height="11.51" fill="#fbfbfb"/>
<rect x="1109.6" y="862.4" width="250.2" height="250.2" rx="0" fill="none" stroke="#000" stroke-width="2" />
<rect x="1596.6" y="862.4" width="250.2" height="250.2" rx="0" fill="#fff" stroke="none" stroke-width="0" />
<rect x="1599.40" y="865.20" width="11.51" height="11.51" fill="#f0f0f0"/><rect x="1614.94" y="865.20" width="11.51" height="11.51" fill="#f0f0f0"/><rect x="1630.48" y="865.20" width="11.51" height="11.51" fill="#f0f0f0"/><rect x="1646.02" y="865.20" width="11.51" height="11.51" fill="#f0f0f0"/><rect x="1661.56" y="865.20" width="11.51" height="11.51" fill="#f0f0f0"/><rect x="1677.10" y="865.20" width="11.51" height="11.51" fill="#f0f0f0"/><rect x="1692.64" y="865.20" width="11.51" height="11.51" fill="#f0f0f0"/><rect x="1708.18" y="865.20" width="11.51" height="11.51" fill="#f0f0f0"/><rect x="1723.71" y="865.20" width="11.51" height="11.51" fill="#f0f0f0"/><rect x="1739.25" y="865.20" width="11.51" height="11.51" fill="#f0f0f0"/><rect x="1754.79" y="865.20" width="11.51" height="11.51" fill="#f0f0f0"/><rect x="1770.33" y="865.20" width="11.51" height="11.51" fill="#f0f0f0"/><rect x="1785.87" y="865.20" width="11.51" height="11.51" fill="#f0f0f0"/><rect x="1801.41" y="865.20" width="11.51" height="11.51" fill="#f0f0f0"/><rect x="1816.95" y="865.20" width="11.51" height="11.51" fill="#f0f0f0"/><rect x="1832.49" y="865.20" width="11.51" height="11.51" fill="#f0f0f0"/><rect x="1599.40" y="880.74" width="11.51" height="11.51" fill="#f6f6f6"/><rect x="1614.94" y="880.74" width="11.51" height="11.51" fill="#f6f6f6"/><rect x="1630.48" y="880.74" width="11.51" height="11.51" fill="#f6f6f6"/><rect x="1646.02" y="880.74" width="11.51" height="11.51" fill="#f6f6f6"/><rect x="1661.56" y="880.74" width="11.51" height="11.51" fill="#f6f6f6"/><rect x="1677.10" y="880.74" width="11.51" height="11.51" fill="#f6f6f6"/><rect x="1692.64" y="880.74" width="11.51" height="11.51" fill="#b8b8b8"/><rect x="1708.18" y="880.74" width="11.51" height="11.51" fill="#f6f6f6"/><rect x="1723.71" y="880.74" width="11.51" height="11.51" fill="#f6f6f6"/><rect x="1739.25" y="880.74" width="11.51" height="11.51" fill="#f6f6f6"/><rect x="1754.79" y="880.74" width="11.51" height="11.51" fill="#f6f6f6"/><rect x="1770.33" y="880.74" width="11.51" height="11.51" fill="#f6f6f6"/><rect x="1785.87" y="880.74" width="11.51" height="11.51" fill="#f6f6f6"/><rect x="1801.41" y="880.74" width="11.51" height="11.51" fill="#f6f6f6"/><rect x="1816.95" y="880.74" width="11.51" height="11.51" fill="#f6f6f6"/><rect x="1832.49" y="880.74" width="11.51" height="11.51" fill="#f6f6f6"/><rect x="1599.40" y="896.28" width="11.51" height="11.51" fill="#f6f6f6"/><rect x="1614.94" y="896.28" width="11.51" height="11.51" fill="#f6f6f6"/><rect x="1630.48" y="896.28" width="11.51" height="11.51" fill="#f6f6f6"/><rect x="1646.02" y="896.28" width="11.51" height="11.51" fill="#bebebe"/><rect x="1661.56" y="896.28" width="11.51" height="11.51" fill="#f6f6f6"/><rect x="1677.10" y="896.28" width="11.51" height="11.51" fill="#f6f6f6"/><rect x="1692.64" y="896.28" width="11.51" height="11.51" fill="#dadada"/><rect x="1708.18" y="896.28" width="11.51" height="11.51" fill="#b8b8b8"/><rect x="1723.71" y="896.28" width="11.51" height="11.51" fill="#f6f6f6"/><rect x="1739.25" y="896.28" width="11.51" height="11.51" fill="#f6f6f6"/><rect x="1754.79" y="896.28" width="11.51" height="11.51" fill="#9a9a9a"/><rect x="1770.33" y="896.28" width="11.51" height="11.51" fill="#f6f6f6"/><rect x="1785.87" y="896.28" width="11.51" height="11.51" fill="#f6f6f6"/><rect x="1801.41" y="896.28" width="11.51" height="11.51" fill="#f6f6f6"/><rect x="1816.95" y="896.28" width="11.51" height="11.51" fill="#f6f6f6"/><rect x="1832.49" y="896.28" width="11.51" height="11.51" fill="#f6f6f6"/><rect x="1599.40" y="911.82" width="11.51" height="11.51" fill="#f6f6f6"/><rect x="1614.94" y="911.82" width="11.51" height="11.51" fill="#f6f6f6"/><rect x="1630.48" y="911.82" width="11.51" height="11.51" fill="#f6f6f6"/><rect x="1646.02" y="911.82" width="11.51" height="11.51" fill="#e8e8e8"/><rect x="1661.56" y="911.82" width="11.51" height="11.51" fill="#b0b0b0"/><rect x="1677.10" y="911.82" width="11.51" height="11.51" fill="#f6f6f6"/><rect x="1692.64" y="911.82" width="11.51" height="11.51" fill="#dcdcdc"/><rect x="1708.18" y="911.82" width="11.51" height="11.51" fill="#ececec"/><rect x="1723.71" y="911.82" width="11.51" height="11.51" fill="#f6f6f6"/><rect x="1739.25" y="911.82" width="11.51" height="11.51" fill="#f0f0f0"/><rect x="1754.79" y="911.82" width="11.51" height="11.51" fill="#e8e8e8"/><rect x="1770.33" y="911.82" width="11.51" height="11.51" fill="#f6f6f6"/><rect x="1785.87" y="911.82" width="11.51" height="11.51" fill="#f6f6f6"/><rect x="1801.41" y="911.82" width="11.51" height="11.51" fill="#f6f6f6"/><rect x="1816.95" y="911.82" width="11.51" height="11.51" fill="#f6f6f6"/><rect x="1832.49" y="911.82" width="11.51" height="11.51" fill="#f6f6f6"/><rect x="1599.40" y="927.36" width="11.51" height="11.51" fill="#f6f6f6"/><rect x="1614.94" y="927.36" width="11.51" height="11.51" fill="#f6f6f6"/><rect x="1630.48" y="927.36" width="11.51" height="11.51" fill="#f6f6f6"/><rect x="1646.02" y="927.36" width="11.51" height="11.51" fill="#f6f6f6"/><rect x="1661.56" y="927.36" width="11.51" height="11.51" fill="#d4d4d4"/><rect x="1677.10" y="927.36" width="11.51" height="11.51" fill="#f6f6f6"/><rect x="1692.64" y="927.36" width="11.51" height="11.51" fill="#b8b8b8"/><rect x="1708.18" y="927.36" width="11.51" height="11.51" fill="#808080"/><rect x="1723.71" y="927.36" width="11.51" height="11.51" fill="#f6f6f6"/><rect x="1739.25" y="927.36" width="11.51" height="11.51" fill="#b8b8b8"/><rect x="1754.79" y="927.36" width="11.51" height="11.51" fill="#f6f6f6"/><rect x="1770.33" y="927.36" width="11.51" height="11.51" fill="#f6f6f6"/><rect x="1785.87" y="927.36" width="11.51" height="11.51" fill="#f6f6f6"/><rect x="1801.41" y="927.36" width="11.51" height="11.51" fill="#f6f6f6"/><rect x="1816.95" y="927.36" width="11.51" height="11.51" fill="#f6f6f6"/><rect x="1832.49" y="927.36" width="11.51" height="11.51" fill="#f6f6f6"/><rect x="1599.40" y="942.90" width="11.51" height="11.51" fill="#f6f6f6"/><rect x="1614.94" y="942.90" width="11.51" height="11.51" fill="#f0f0f0"/><rect x="1630.48" y="942.90" width="11.51" height="11.51" fill="#f6f6f6"/><rect x="1646.02" y="942.90" width="11.51" height="11.51" fill="#f6f6f6"/><rect x="1661.56" y="942.90" width="11.51" height="11.51" fill="#c4c4c4"/><rect x="1677.10" y="942.90" width="11.51" height="11.51" fill="#f0f0f0"/><rect x="1692.64" y="942.90" width="11.51" height="11.51" fill="#eeeeee"/><rect x="1708.18" y="942.90" width="11.51" height="11.51" fill="#e0e0e0"/><rect x="1723.71" y="942.90" width="11.51" height="11.51" fill="#f2f2f2"/><rect x="1739.25" y="942.90" width="11.51" height="11.51" fill="#888888"/><rect x="1754.79" y="942.90" width="11.51" height="11.51" fill="#f6f6f6"/><rect x="1770.33" y="942.90" width="11.51" height="11.51" fill="#f6f6f6"/><rect x="1785.87" y="942.90" width="11.51" height="11.51" fill="#f6f6f6"/><rect x="1801.41" y="942.90" width="11.51" height="11.51" fill="#f6f6f6"/><rect x="1816.95" y="942.90" width="11.51" height="11.51" fill="#f6f6f6"/><rect x="1832.49" y="942.90" width="11.51" height="11.51" fill="#f6f6f6"/><rect x="1599.40" y="958.44" width="11.51" height="11.51" fill="#f6f6f6"/><rect x="1614.94" y="958.44" width="11.51" height="11.51" fill="#e0e0e0"/><rect x="1630.48" y="958.44" width="11.51" height="11.51" fill="#e8e8e8"/><rect x="1646.02" y="958.44" width="11.51" height="11.51" fill="#f6f6f6"/><rect x="1661.56" y="958.44" width="11.51" height="11.51" fill="#dadada"/><rect x="1677.10" y="958.44" width="11.51" height="11.51" fill="#9a9a9a"/><rect x="1692.64" y="958.44" width="11.51" height="11.51" fill="#d0d0d0"/><rect x="1708.18" y="958.44" width="11.51" height="11.51" fill="#aaaaaa"/><rect x="1723.71" y="958.44" width="11.51" height="11.51" fill="#cccccc"/><rect x="1739.25" y="958.44" width="11.51" height="11.51" fill="#c8c8c8"/><rect x="1754.79" y="958.44" width="11.51" height="11.51" fill="#f6f6f6"/><rect x="1770.33" y="958.44" width="11.51" height="11.51" fill="#f6f6f6"/><rect x="1785.87" y="958.44" width="11.51" height="11.51" fill="#f6f6f6"/><rect x="1801.41" y="958.44" width="11.51" height="11.51" fill="#f6f6f6"/><rect x="1816.95" y="958.44" width="11.51" height="11.51" fill="#f6f6f6"/><rect x="1832.49" y="958.44" width="11.51" height="11.51" fill="#f6f6f6"/><rect x="1599.40" y="973.98" width="11.51" height="11.51" fill="#f6f6f6"/><rect x="1614.94" y="973.98" width="11.51" height="11.51" fill="#f6f6f6"/><rect x="1630.48" y="973.98" width="11.51" height="11.51" fill="#9a9a9a"/><rect x="1646.02" y="973.98" width="11.51" height="11.51" fill="#e0e0e0"/><rect x="1661.56" y="973.98" width="11.51" height="11.51" fill="#eeeeee"/><rect x="1677.10" y="973.98" width="11.51" height="11.51" fill="#c0c0c0"/><rect x="1692.64" y="973.98" width="11.51" height="11.51" fill="#555555"/><rect x="1708.18" y="973.98" width="11.51" height="11.51" fill="#929292"/><rect x="1723.71" y="973.98" width="11.51" height="11.51" fill="#9a9a9a"/><rect x="1739.25" y="973.98" width="11.51" height="11.51" fill="#8e8e8e"/><rect x="1754.79" y="973.98" width="11.51" height="11.51" fill="#f6f6f6"/><rect x="1770.33" y="973.98" width="11.51" height="11.51" fill="#f6f6f6"/><rect x="1785.87" y="973.98" width="11.51" height="11.51" fill="#f0f0f0"/><rect x="1801.41" y="973.98" width="11.51" height="11.51" fill="#a4a4a4"/><rect x="1816.95" y="973.98" width="11.51" height="11.51" fill="#f6f6f6"/><rect x="1832.49" y="973.98" width="11.51" height="11.51" fill="#f6f6f6"/><rect x="1599.40" y="989.51" width="11.51" height="11.51" fill="#f6f6f6"/><rect x="1614.94" y="989.51" width="11.51" height="11.51" fill="#f6f6f6"/><rect x="1630.48" y="989.51" width="11.51" height="11.51" fill="#f6f6f6"/><rect x="1646.02" y="989.51" width="11.51" height="11.51" fill="#d8d8d8"/><rect x="1661.56" y="989.51" width="11.51" height="11.51" fill="#6a6a6a"/><rect x="1677.10" y="989.51" width="11.51" height="11.51" fill="#7a7a7a"/><rect x="1692.64" y="989.51" width="11.51" height="11.51" fill="#646464"/><rect x="1708.18" y="989.51" width="11.51" height="11.51" fill="#929292"/><rect x="1723.71" y="989.51" width="11.51" height="11.51" fill="#848484"/><rect x="1739.25" y="989.51" width="11.51" height="11.51" fill="#6e6e6e"/><rect x="1754.79" y="989.51" width="11.51" height="11.51" fill="#cccccc"/><rect x="1770.33" y="989.51" width="11.51" height="11.51" fill="#aeaeae"/><rect x="1785.87" y="989.51" width="11.51" height="11.51" fill="#a4a4a4"/><rect x="1801.41" y="989.51" width="11.51" height="11.51" fill="#c8c8c8"/><rect x="1816.95" y="989.51" width="11.51" height="11.51" fill="#f6f6f6"/><rect x="1832.49" y="989.51" width="11.51" height="11.51" fill="#f6f6f6"/><rect x="1599.40" y="1005.05" width="11.51" height="11.51" fill="#f6f6f6"/><rect x="1614.94" y="1005.05" width="11.51" height="11.51" fill="#f6f6f6"/><rect x="1630.48" y="1005.05" width="11.51" height="11.51" fill="#f6f6f6"/><rect x="1646.02" y="1005.05" width="11.51" height="11.51" fill="#e8e8e8"/><rect x="1661.56" y="1005.05" width="11.51" height="11.51" fill="#484848"/><rect x="1677.10" y="1005.05" width="11.51" height="11.51" fill="#888888"/><rect x="1692.64" y="1005.05" width="11.51" height="11.51" fill="#626262"/><rect x="1708.18" y="1005.05" width="11.51" height="11.51" fill="#343434"/><rect x="1723.71" y="1005.05" width="11.51" height="11.51" fill="#161616"/><rect x="1739.25" y="1005.05" width="11.51" height="11.51" fill="#bcbcbc"/><rect x="1754.79" y="1005.05" width="11.51" height="11.51" fill="#8a8a8a"/><rect x="1770.33" y="1005.05" width="11.51" height="11.51" fill="#b0b0b0"/><rect x="1785.87" y="1005.05" width="11.51" height="11.51" fill="#f0f0f0"/><rect x="1801.41" y="1005.05" width="11.51" height="11.51" fill="#f6f6f6"/><rect x="1816.95" y="1005.05" width="11.51" height="11.51" fill="#f6f6f6"/><rect x="1832.49" y="1005.05" width="11.51" height="11.51" fill="#f6f6f6"/><rect x="1599.40" y="1020.59" width="11.51" height="11.51" fill="#e4e4e4"/><rect x="1614.94" y="1020.59" width="11.51" height="11.51" fill="#f6f6f6"/><rect x="1630.48" y="1020.59" width="11.51" height="11.51" fill="#bebebe"/><rect x="1646.02" y="1020.59" width="11.51" height="11.51" fill="#f6f6f6"/><rect x="1661.56" y="1020.59" width="11.51" height="11.51" fill="#cecece"/><rect x="1677.10" y="1020.59" width="11.51" height="11.51" fill="#545454"/><rect x="1692.64" y="1020.59" width="11.51" height="11.51" fill="#8a8a8a"/><rect x="1708.18" y="1020.59" width="11.51" height="11.51" fill="#808080"/><rect x="1723.71" y="1020.59" width="11.51" height="11.51" fill="#585858"/><rect x="1739.25" y="1020.59" width="11.51" height="11.51" fill="#9e9e9e"/><rect x="1754.79" y="1020.59" width="11.51" height="11.51" fill="#b0b0b0"/><rect x="1770.33" y="1020.59" width="11.51" height="11.51" fill="#f6f6f6"/><rect x="1785.87" y="1020.59" width="11.51" height="11.51" fill="#f6f6f6"/><rect x="1801.41" y="1020.59" width="11.51" height="11.51" fill="#f6f6f6"/><rect x="1816.95" y="1020.59" width="11.51" height="11.51" fill="#f6f6f6"/><rect x="1832.49" y="1020.59" width="11.51" height="11.51" fill="#f6f6f6"/><rect x="1599.40" y="1036.13" width="11.51" height="11.51" fill="#121212"/><rect x="1614.94" y="1036.13" width="11.51" height="11.51" fill="#eeeeee"/><rect x="1630.48" y="1036.13" width="11.51" height="11.51" fill="#bcbcbc"/><rect x="1646.02" y="1036.13" width="11.51" height="11.51" fill="#f6f6f6"/><rect x="1661.56" y="1036.13" width="11.51" height="11.51" fill="#f0f0f0"/><rect x="1677.10" y="1036.13" width="11.51" height="11.51" fill="#3a3a3a"/><rect x="1692.64" y="1036.13" width="11.51" height="11.51" fill="#080808"/><rect x="1708.18" y="1036.13" width="11.51" height="11.51" fill="#6a6a6a"/><rect x="1723.71" y="1036.13" width="11.51" height="11.51" fill="#4e4e4e"/><rect x="1739.25" y="1036.13" width="11.51" height="11.51" fill="#d4d4d4"/><rect x="1754.79" y="1036.13" width="11.51" height="11.51" fill="#f6f6f6"/><rect x="1770.33" y="1036.13" width="11.51" height="11.51" fill="#f6f6f6"/><rect x="1785.87" y="1036.13" width="11.51" height="11.51" fill="#f6f6f6"/><rect x="1801.41" y="1036.13" width="11.51" height="11.51" fill="#f6f6f6"/><rect x="1816.95" y="1036.13" width="11.51" height="11.51" fill="#f6f6f6"/><rect x="1832.49" y="1036.13" width="11.51" height="11.51" fill="#f6f6f6"/><rect x="1599.40" y="1051.67" width="11.51" height="11.51" fill="#1a1a1a"/><rect x="1614.94" y="1051.67" width="11.51" height="11.51" fill="#f6f6f6"/><rect x="1630.48" y="1051.67" width="11.51" height="11.51" fill="#c0c0c0"/><rect x="1646.02" y="1051.67" width="11.51" height="11.51" fill="#f6f6f6"/><rect x="1661.56" y="1051.67" width="11.51" height="11.51" fill="#bcbcbc"/><rect x="1677.10" y="1051.67" width="11.51" height="11.51" fill="#9a9a9a"/><rect x="1692.64" y="1051.67" width="11.51" height="11.51" fill="#4a4a4a"/><rect x="1708.18" y="1051.67" width="11.51" height="11.51" fill="#707070"/><rect x="1723.71" y="1051.67" width="11.51" height="11.51" fill="#a0a0a0"/><rect x="1739.25" y="1051.67" width="11.51" height="11.51" fill="#ececec"/><rect x="1754.79" y="1051.67" width="11.51" height="11.51" fill="#f6f6f6"/><rect x="1770.33" y="1051.67" width="11.51" height="11.51" fill="#f6f6f6"/><rect x="1785.87" y="1051.67" width="11.51" height="11.51" fill="#f6f6f6"/><rect x="1801.41" y="1051.67" width="11.51" height="11.51" fill="#f6f6f6"/><rect x="1816.95" y="1051.67" width="11.51" height="11.51" fill="#f6f6f6"/><rect x="1832.49" y="1051.67" width="11.51" height="11.51" fill="#f6f6f6"/><rect x="1599.40" y="1067.21" width="11.51" height="11.51" fill="#eeeeee"/><rect x="1614.94" y="1067.21" width="11.51" height="11.51" fill="#5a5a5a"/><rect x="1646.02" y="1067.21" width="11.51" height="11.51" fill="#f6f6f6"/><rect x="1661.56" y="1067.21" width="11.51" height="11.51" fill="#d6d6d6"/><rect x="1677.10" y="1067.21" width="11.51" height="11.51" fill="#6e6e6e"/><rect x="1692.64" y="1067.21" width="11.51" height="11.51" fill="#3e3e3e"/><rect x="1708.18" y="1067.21" width="11.51" height="11.51" fill="#6e6e6e"/><rect x="1723.71" y="1067.21" width="11.51" height="11.51" fill="#aaaaaa"/><rect x="1739.25" y="1067.21" width="11.51" height="11.51" fill="#f6f6f6"/><rect x="1754.79" y="1067.21" width="11.51" height="11.51" fill="#f6f6f6"/><rect x="1770.33" y="1067.21" width="11.51" height="11.51" fill="#f6f6f6"/><rect x="1785.87" y="1067.21" width="11.51" height="11.51" fill="#f6f6f6"/><rect x="1801.41" y="1067.21" width="11.51" height="11.51" fill="#f6f6f6"/><rect x="1816.95" y="1067.21" width="11.51" height="11.51" fill="#f6f6f6"/><rect x="1832.49" y="1067.21" width="11.51" height="11.51" fill="#f6f6f6"/><rect x="1599.40" y="1082.75" width="11.51" height="11.51" fill="#f6f6f6"/><rect x="1614.94" y="1082.75" width="11.51" height="11.51" fill="#f6f6f6"/><rect x="1630.48" y="1082.75" width="11.51" height="11.51" fill="#f6f6f6"/><rect x="1646.02" y="1082.75" width="11.51" height="11.51" fill="#f6f6f6"/><rect x="1661.56" y="1082.75" width="11.51" height="11.51" fill="#262626"/><rect x="1677.10" y="1082.75" width="11.51" height="11.51" fill="#848484"/><rect x="1692.64" y="1082.75" width="11.51" height="11.51" fill="#1a1a1a"/><rect x="1708.18" y="1082.75" width="11.51" height="11.51" fill="#040404"/><rect x="1723.71" y="1082.75" width="11.51" height="11.51" fill="#909090"/><rect x="1739.25" y="1082.75" width="11.51" height="11.51" fill="#f6f6f6"/><rect x="1754.79" y="1082.75" width="11.51" height="11.51" fill="#f6f6f6"/><rect x="1770.33" y="1082.75" width="11.51" height="11.51" fill="#f6f6f6"/><rect x="1785.87" y="1082.75" width="11.51" height="11.51" fill="#f6f6f6"/><rect x="1801.41" y="1082.75" width="11.51" height="11.51" fill="#f6f6f6"/><rect x="1816.95" y="1082.75" width="11.51" height="11.51" fill="#f6f6f6"/><rect x="1832.49" y="1082.75" width="11.51" height="11.51" fill="#f6f6f6"/><rect x="1599.40" y="1098.29" width="11.51" height="11.51" fill="#f6f6f6"/><rect x="1614.94" y="1098.29" width="11.51" height="11.51" fill="#f6f6f6"/><rect x="1630.48" y="1098.29" width="11.51" height="11.51" fill="#f6f6f6"/><rect x="1646.02" y="1098.29" width="11.51" height="11.51" fill="#eaeaea"/><rect x="1661.56" y="1098.29" width="11.51" height="11.51" fill="#060606"/><rect x="1677.10" y="1098.29" width="11.51" height="11.51" fill="#707070"/><rect x="1692.64" y="1098.29" width="11.51" height="11.51" fill="#707070"/><rect x="1708.18" y="1098.29" width="11.51" height="11.51" fill="#7e7e7e"/><rect x="1723.71" y="1098.29" width="11.51" height="11.51" fill="#c0c0c0"/><rect x="1739.25" y="1098.29" width="11.51" height="11.51" fill="#f6f6f6"/><rect x="1754.79" y="1098.29" width="11.51" height="11.51" fill="#f6f6f6"/><rect x="1770.33" y="1098.29" width="11.51" height="11.51" fill="#f6f6f6"/><rect x="1785.87" y="1098.29" width="11.51" height="11.51" fill="#f6f6f6"/><rect x="1801.41" y="1098.29" width="11.51" height="11.51" fill="#f6f6f6"/><rect x="1816.95" y="1098.29" width="11.51" height="11.51" fill="#f6f6f6"/><rect x="1832.49" y="1098.29" width="11.51" height="11.51" fill="#f6f6f6"/>
<rect x="1596.6" y="862.4" width="250.2" height="250.2" rx="0" fill="none" stroke="#000" stroke-width="2" />
<rect x="1109.6" y="1250.4" width="249.4" height="249.4" rx="0" fill="#fff" stroke="none" stroke-width="0" />
<rect x="1143.37" y="1315.15" width="11.47" height="11.47" fill="#fafafa"/><rect x="1174.35" y="1315.15" width="11.47" height="11.47" fill="#a6a6a6"/><rect x="1189.84" y="1315.15" width="11.47" height="11.47" fill="#808080"/><rect x="1205.33" y="1315.15" width="11.47" height="11.47" fill="#5e5e5e"/><rect x="1236.31" y="1315.15" width="11.47" height="11.47" fill="#fcfcfc"/><rect x="1251.80" y="1315.15" width="11.47" height="11.47" fill="#e8e8e8"/><rect x="1267.29" y="1315.15" width="11.47" height="11.47" fill="#5a5a5a"/><rect x="1282.78" y="1315.15" width="11.47" height="11.47" fill="#888888"/><rect x="1298.27" y="1315.15" width="11.47" height="11.47" fill="#dadada"/><rect x="1313.76" y="1315.15" width="11.47" height="11.47" fill="#fcfcfc"/><rect x="1143.37" y="1330.64" width="11.47" height="11.47" fill="#f8f8f8"/><rect x="1158.86" y="1330.64" width="11.47" height="11.47" fill="#666666"/><rect x="1174.35" y="1330.64" width="11.47" height="11.47" fill="#404040"/><rect x="1189.84" y="1330.64" width="11.47" height="11.47" fill="#262626"/><rect x="1205.33" y="1330.64" width="11.47" height="11.47" fill="#222222"/><rect x="1220.82" y="1330.64" width="11.47" height="11.47" fill="#9a9a9a"/><rect x="1251.80" y="1330.64" width="11.47" height="11.47" fill="#6a6a6a"/><rect x="1267.29" y="1330.64" width="11.47" height="11.47" fill="#4a4a4a"/><rect x="1282.78" y="1330.64" width="11.47" height="11.47" fill="#909090"/><rect x="1298.27" y="1330.64" width="11.47" height="11.47" fill="#8a8a8a"/><rect x="1313.76" y="1330.64" width="11.47" height="11.47" fill="#909090"/><rect x="1143.37" y="1346.13" width="11.47" height="11.47" fill="#888888"/><rect x="1158.86" y="1346.13" width="11.47" height="11.47" fill="#383838"/><rect x="1174.35" y="1346.13" width="11.47" height="11.47" fill="#222222"/><rect x="1189.84" y="1346.13" width="11.47" height="11.47" fill="#141414"/><rect x="1205.33" y="1346.13" width="11.47" height="11.47" fill="#363636"/><rect x="1220.82" y="1346.13" width="11.47" height="11.47" fill="#8c8c8c"/><rect x="1251.80" y="1346.13" width="11.47" height="11.47" fill="#5a5a5a"/><rect x="1267.29" y="1346.13" width="11.47" height="11.47" fill="#787878"/><rect x="1282.78" y="1346.13" width="11.47" height="11.47" fill="#848484"/><rect x="1298.27" y="1346.13" width="11.47" height="11.47" fill="#747474"/><rect x="1313.76" y="1346.13" width="11.47" height="11.47" fill="#808080"/><rect x="1143.37" y="1361.62" width="11.47" height="11.47" fill="#888888"/><rect x="1158.86" y="1361.62" width="11.47" height="11.47" fill="#555555"/><rect x="1174.35" y="1361.62" width="11.47" height="11.47" fill="#6a6a6a"/><rect x="1189.84" y="1361.62" width="11.47" height="11.47" fill="#202020"/><rect x="1205.33" y="1361.62" width="11.47" height="11.47" fill="#545454"/><rect x="1220.82" y="1361.62" width="11.47" height="11.47" fill="#a8a8a8"/><rect x="1251.80" y="1361.62" width="11.47" height="11.47" fill="#505050"/><rect x="1267.29" y="1361.62" width="11.47" height="11.47" fill="#888888"/><rect x="1282.78" y="1361.62" width="11.47" height="11.47" fill="#747474"/><rect x="1298.27" y="1361.62" width="11.47" height="11.47" fill="#9e9e9e"/><rect x="1313.76" y="1361.62" width="11.47" height="11.47" fill="#969696"/><rect x="1143.37" y="1377.11" width="11.47" height="11.47" fill="#787878"/><rect x="1158.86" y="1377.11" width="11.47" height="11.47" fill="#1e1e1e"/><rect x="1174.35" y="1377.11" width="11.47" height="11.47" fill="#1c1c1c"/><rect x="1189.84" y="1377.11" width="11.47" height="11.47" fill="#101010"/><rect x="1205.33" y="1377.11" width="11.47" height="11.47" fill="#1a1a1a"/><rect x="1220.82" y="1377.11" width="11.47" height="11.47" fill="#e0e0e0"/><rect x="1236.31" y="1377.11" width="11.47" height="11.47" fill="#fcfcfc"/><rect x="1251.80" y="1377.11" width="11.47" height="11.47" fill="#444444"/><rect x="1267.29" y="1377.11" width="11.47" height="11.47" fill="#6a6a6a"/><rect x="1282.78" y="1377.11" width="11.47" height="11.47" fill="#888888"/><rect x="1298.27" y="1377.11" width="11.47" height="11.47" fill="#969696"/><rect x="1313.76" y="1377.11" width="11.47" height="11.47" fill="#9e9e9e"/><rect x="1143.37" y="1392.60" width="11.47" height="11.47" fill="#121212"/><rect x="1158.86" y="1392.60" width="11.47" height="11.47" fill="#060606"/><rect x="1174.35" y="1392.60" width="11.47" height="11.47" fill="#0e0e0e"/><rect x="1189.84" y="1392.60" width="11.47" height="11.47" fill="#505050"/><rect x="1205.33" y="1392.60" width="11.47" height="11.47" fill="#040404"/><rect x="1220.82" y="1392.60" width="11.47" height="11.47" fill="#141414"/><rect x="1236.31" y="1392.60" width="11.47" height="11.47" fill="#484848"/><rect x="1251.80" y="1392.60" width="11.47" height="11.47" fill="#6a6a6a"/><rect x="1267.29" y="1392.60" width="11.47" height="11.47" fill="#929292"/><rect x="1282.78" y="1392.60" width="11.47" height="11.47" fill="#969696"/><rect x="1298.27" y="1392.60" width="11.47" height="11.47" fill="#909090"/><rect x="1313.76" y="1392.60" width="11.47" height="11.47" fill="#9e9e9e"/><rect x="1112.39" y="1408.09" width="11.47" height="11.47" fill="#fcfcfc"/><rect x="1127.88" y="1408.09" width="11.47" height="11.47" fill="#fcfcfc"/><rect x="1143.37" y="1408.09" width="11.47" height="11.47" fill="#000000"/><rect x="1158.86" y="1408.09" width="11.47" height="11.47" fill="#363636"/><rect x="1174.35" y="1408.09" width="11.47" height="11.47" fill="#e6e6e6"/><rect x="1189.84" y="1408.09" width="11.47" height="11.47" fill="#aaaaaa"/><rect x="1205.33" y="1408.09" width="11.47" height="11.47" fill="#c4c4c4"/><rect x="1220.82" y="1408.09" width="11.47" height="11.47" fill="#dadada"/><rect x="1236.31" y="1408.09" width="11.47" height="11.47" fill="#e2e2e2"/><rect x="1251.80" y="1408.09" width="11.47" height="11.47" fill="#f4f4f4"/><rect x="1267.29" y="1408.09" width="11.47" height="11.47" fill="#eeeeee"/><rect x="1282.78" y="1408.09" width="11.47" height="11.47" fill="#e6e6e6"/><rect x="1298.27" y="1408.09" width="11.47" height="11.47" fill="#d0d0d0"/><rect x="1313.76" y="1408.09" width="11.47" height="11.47" fill="#aaaaaa"/><rect x="1329.24" y="1408.09" width="11.47" height="11.47" fill="#fcfcfc"/><rect x="1344.73" y="1408.09" width="11.47" height="11.47" fill="#fcfcfc"/><rect x="1127.88" y="1423.58" width="11.47" height="11.47" fill="#f8f8f8"/><rect x="1143.37" y="1423.58" width="11.47" height="11.47" fill="#2c2c2c"/><rect x="1158.86" y="1423.58" width="11.47" height="11.47" fill="#eaeaea"/><rect x="1174.35" y="1423.58" width="11.47" height="11.47" fill="#cacaca"/><rect x="1189.84" y="1423.58" width="11.47" height="11.47" fill="#d4d4d4"/><rect x="1205.33" y="1423.58" width="11.47" height="11.47" fill="#d6d6d6"/><rect x="1220.82" y="1423.58" width="11.47" height="11.47" fill="#f6f6f6"/><rect x="1236.31" y="1423.58" width="11.47" height="11.47" fill="#fcfcfc"/><rect x="1251.80" y="1423.58" width="11.47" height="11.47" fill="#fcfcfc"/><rect x="1267.29" y="1423.58" width="11.47" height="11.47" fill="#fcfcfc"/><rect x="1282.78" y="1423.58" width="11.47" height="11.47" fill="#f8f8f8"/><rect x="1298.27" y="1423.58" width="11.47" height="11.47" fill="#fafafa"/><rect x="1313.76" y="1423.58" width="11.47" height="11.47" fill="#c4c4c4"/><rect x="1329.24" y="1423.58" width="11.47" height="11.47" fill="#f4f4f4"/><rect x="1127.88" y="1439.07" width="11.47" height="11.47" fill="#aaaaaa"/><rect x="1143.37" y="1439.07" width="11.47" height="11.47" fill="#c8c8c8"/><rect x="1158.86" y="1439.07" width="11.47" height="11.47" fill="#dcdcdc"/><rect x="1174.35" y="1439.07" width="11.47" height="11.47" fill="#d0d0d0"/><rect x="1189.84" y="1439.07" width="11.47" height="11.47" fill="#dcdcdc"/><rect x="1205.33" y="1439.07" width="11.47" height="11.47" fill="#e0e0e0"/><rect x="1220.82" y="1439.07" width="11.47" height="11.47" fill="#eeeeee"/><rect x="1236.31" y="1439.07" width="11.47" height="11.47" fill="#fcfcfc"/><rect x="1251.80" y="1439.07" width="11.47" height="11.47" fill="#fcfcfc"/><rect x="1267.29" y="1439.07" width="11.47" height="11.47" fill="#f8f8f8"/><rect x="1282.78" y="1439.07" width="11.47" height="11.47" fill="#cecece"/><rect x="1298.27" y="1439.07" width="11.47" height="11.47" fill="#f4f4f4"/><rect x="1313.76" y="1439.07" width="11.47" height="11.47" fill="#eeeeee"/><rect x="1329.24" y="1439.07" width="11.47" height="11.47" fill="#c8c8c8"/><rect x="1127.88" y="1454.56" width="11.47" height="11.47" fill="#f2f2f2"/><rect x="1143.37" y="1454.56" width="11.47" height="11.47" fill="#fafafa"/><rect x="1158.86" y="1454.56" width="11.47" height="11.47" fill="#f8f8f8"/><rect x="1174.35" y="1454.56" width="11.47" height="11.47" fill="#f8f8f8"/><rect x="1189.84" y="1454.56" width="11.47" height="11.47" fill="#f8f8f8"/><rect x="1205.33" y="1454.56" width="11.47" height="11.47" fill="#fafafa"/><rect x="1220.82" y="1454.56" width="11.47" height="11.47" fill="#f8f8f8"/><rect x="1282.78" y="1454.56" width="11.47" height="11.47" fill="#fcfcfc"/><rect x="1298.27" y="1454.56" width="11.47" height="11.47" fill="#f8f8f8"/><rect x="1313.76" y="1454.56" width="11.47" height="11.47" fill="#fafafa"/><rect x="1329.24" y="1454.56" width="11.47" height="11.47" fill="#f6f6f6"/>
<rect x="1109.6" y="1250.4" width="249.4" height="249.4" rx="0" fill="none" stroke="#000" stroke-width="2" />
<rect x="1596.6" y="1250.4" width="249.4" height="249.4" rx="0" fill="#fff" stroke="none" stroke-width="0" />
<rect x="1599.39" y="1253.19" width="11.47" height="11.47" fill="#f7f7f7"/><rect x="1614.88" y="1253.19" width="11.47" height="11.47" fill="#f7f7f7"/><rect x="1630.37" y="1253.19" width="11.47" height="11.47" fill="#f7f7f7"/><rect x="1645.86" y="1253.19" width="11.47" height="11.47" fill="#f7f7f7"/><rect x="1661.35" y="1253.19" width="11.47" height="11.47" fill="#f7f7f7"/><rect x="1676.84" y="1253.19" width="11.47" height="11.47" fill="#f7f7f7"/><rect x="1692.33" y="1253.19" width="11.47" height="11.47" fill="#f7f7f7"/><rect x="1707.82" y="1253.19" width="11.47" height="11.47" fill="#f7f7f7"/><rect x="1723.31" y="1253.19" width="11.47" height="11.47" fill="#f7f7f7"/><rect x="1738.80" y="1253.19" width="11.47" height="11.47" fill="#f7f7f7"/><rect x="1754.29" y="1253.19" width="11.47" height="11.47" fill="#f7f7f7"/><rect x="1769.78" y="1253.19" width="11.47" height="11.47" fill="#f7f7f7"/><rect x="1785.27" y="1253.19" width="11.47" height="11.47" fill="#f7f7f7"/><rect x="1800.76" y="1253.19" width="11.47" height="11.47" fill="#f7f7f7"/><rect x="1816.24" y="1253.19" width="11.47" height="11.47" fill="#f7f7f7"/><rect x="1831.73" y="1253.19" width="11.47" height="11.47" fill="#f7f7f7"/><rect x="1599.39" y="1268.68" width="11.47" height="11.47" fill="#f7f7f7"/><rect x="1614.88" y="1268.68" width="11.47" height="11.47" fill="#f7f7f7"/><rect x="1630.37" y="1268.68" width="11.47" height="11.47" fill="#f7f7f7"/><rect x="1645.86" y="1268.68" width="11.47" height="11.47" fill="#f7f7f7"/><rect x="1661.35" y="1268.68" width="11.47" height="11.47" fill="#f7f7f7"/><rect x="1676.84" y="1268.68" width="11.47" height="11.47" fill="#f7f7f7"/><rect x="1692.33" y="1268.68" width="11.47" height="11.47" fill="#f7f7f7"/><rect x="1707.82" y="1268.68" width="11.47" height="11.47" fill="#f7f7f7"/><rect x="1723.31" y="1268.68" width="11.47" height="11.47" fill="#f7f7f7"/><rect x="1738.80" y="1268.68" width="11.47" height="11.47" fill="#f7f7f7"/><rect x="1754.29" y="1268.68" width="11.47" height="11.47" fill="#f7f7f7"/><rect x="1769.78" y="1268.68" width="11.47" height="11.47" fill="#f7f7f7"/><rect x="1785.27" y="1268.68" width="11.47" height="11.47" fill="#f7f7f7"/><rect x="1800.76" y="1268.68" width="11.47" height="11.47" fill="#f7f7f7"/><rect x="1816.24" y="1268.68" width="11.47" height="11.47" fill="#f7f7f7"/><rect x="1831.73" y="1268.68" width="11.47" height="11.47" fill="#f7f7f7"/><rect x="1599.39" y="1284.17" width="11.47" height="11.47" fill="#f7f7f7"/><rect x="1614.88" y="1284.17" width="11.47" height="11.47" fill="#f7f7f7"/><rect x="1630.37" y="1284.17" width="11.47" height="11.47" fill="#f7f7f7"/><rect x="1645.86" y="1284.17" width="11.47" height="11.47" fill="#f7f7f7"/><rect x="1661.35" y="1284.17" width="11.47" height="11.47" fill="#f7f7f7"/><rect x="1676.84" y="1284.17" width="11.47" height="11.47" fill="#f7f7f7"/><rect x="1692.33" y="1284.17" width="11.47" height="11.47" fill="#f7f7f7"/><rect x="1707.82" y="1284.17" width="11.47" height="11.47" fill="#f7f7f7"/><rect x="1723.31" y="1284.17" width="11.47" height="11.47" fill="#f7f7f7"/><rect x="1738.80" y="1284.17" width="11.47" height="11.47" fill="#f7f7f7"/><rect x="1754.29" y="1284.17" width="11.47" height="11.47" fill="#f7f7f7"/><rect x="1769.78" y="1284.17" width="11.47" height="11.47" fill="#f7f7f7"/><rect x="1785.27" y="1284.17" width="11.47" height="11.47" fill="#f7f7f7"/><rect x="1800.76" y="1284.17" width="11.47" height="11.47" fill="#f7f7f7"/><rect x="1816.24" y="1284.17" width="11.47" height="11.47" fill="#f7f7f7"/><rect x="1831.73" y="1284.17" width="11.47" height="11.47" fill="#f7f7f7"/><rect x="1599.39" y="1299.66" width="11.47" height="11.47" fill="#f7f7f7"/><rect x="1614.88" y="1299.66" width="11.47" height="11.47" fill="#f7f7f7"/><rect x="1630.37" y="1299.66" width="11.47" height="11.47" fill="#f7f7f7"/><rect x="1645.86" y="1299.66" width="11.47" height="11.47" fill="#f7f7f7"/><rect x="1661.35" y="1299.66" width="11.47" height="11.47" fill="#f7f7f7"/><rect x="1676.84" y="1299.66" width="11.47" height="11.47" fill="#f7f7f7"/><rect x="1692.33" y="1299.66" width="11.47" height="11.47" fill="#f7f7f7"/><rect x="1707.82" y="1299.66" width="11.47" height="11.47" fill="#f7f7f7"/><rect x="1723.31" y="1299.66" width="11.47" height="11.47" fill="#f7f7f7"/><rect x="1738.80" y="1299.66" width="11.47" height="11.47" fill="#f7f7f7"/><rect x="1754.29" y="1299.66" width="11.47" height="11.47" fill="#f7f7f7"/><rect x="1769.78" y="1299.66" width="11.47" height="11.47" fill="#f7f7f7"/><rect x="1785.27" y="1299.66" width="11.47" height="11.47" fill="#f7f7f7"/><rect x="1800.76" y="1299.66" width="11.47" height="11.47" fill="#f7f7f7"/><rect x="1816.24" y="1299.66" width="11.47" height="11.47" fill="#f7f7f7"/><rect x="1831.73" y="1299.66" width="11.47" height="11.47" fill="#f7f7f7"/><rect x="1599.39" y="1315.15" width="11.47" height="11.47" fill="#f7f7f7"/><rect x="1614.88" y="1315.15" width="11.47" height="11.47" fill="#f7f7f7"/><rect x="1630.37" y="1315.15" width="11.47" height="11.47" fill="#f7f7f7"/><rect x="1645.86" y="1315.15" width="11.47" height="11.47" fill="#f7f7f7"/><rect x="1661.35" y="1315.15" width="11.47" height="11.47" fill="#7a7a7a"/><rect x="1676.84" y="1315.15" width="11.47" height="11.47" fill="#5e5e5e"/><rect x="1692.33" y="1315.15" width="11.47" height="11.47" fill="#444444"/><rect x="1707.82" y="1315.15" width="11.47" height="11.47" fill="#f7f7f7"/><rect x="1723.31" y="1315.15" width="11.47" height="11.47" fill="#f7f7f7"/><rect x="1738.80" y="1315.15" width="11.47" height="11.47" fill="#e4e4e4"/><rect x="1754.29" y="1315.15" width="11.47" height="11.47" fill="#383838"/><rect x="1769.78" y="1315.15" width="11.47" height="11.47" fill="#d4d4d4"/><rect x="1785.27" y="1315.15" width="11.47" height="11.47" fill="#dadada"/><rect x="1800.76" y="1315.15" width="11.47" height="11.47" fill="#f7f7f7"/><rect x="1816.24" y="1315.15" width="11.47" height="11.47" fill="#f7f7f7"/><rect x="1831.73" y="1315.15" width="11.47" height="11.47" fill="#f7f7f7"/><rect x="1599.39" y="1330.64" width="11.47" height="11.47" fill="#f7f7f7"/><rect x="1614.88" y="1330.64" width="11.47" height="11.47" fill="#f7f7f7"/><rect x="1630.37" y="1330.64" width="11.47" height="11.47" fill="#f0f0f0"/><rect x="1645.86" y="1330.64" width="11.47" height="11.47" fill="#4a4a4a"/><rect x="1661.35" y="1330.64" width="11.47" height="11.47" fill="#2e2e2e"/><rect x="1676.84" y="1330.64" width="11.47" height="11.47" fill="#181818"/><rect x="1692.33" y="1330.64" width="11.47" height="11.47" fill="#181818"/><rect x="1707.82" y="1330.64" width="11.47" height="11.47" fill="#777777"/><rect x="1723.31" y="1330.64" width="11.47" height="11.47" fill="#f7f7f7"/><rect x="1738.80" y="1330.64" width="11.47" height="11.47" fill="#888888"/><rect x="1754.29" y="1330.64" width="11.47" height="11.47" fill="#5e5e5e"/><rect x="1769.78" y="1330.64" width="11.47" height="11.47" fill="#6a6a6a"/><rect x="1785.27" y="1330.64" width="11.47" height="11.47" fill="#a0a0a0"/><rect x="1800.76" y="1330.64" width="11.47" height="11.47" fill="#707070"/><rect x="1816.24" y="1330.64" width="11.47" height="11.47" fill="#f7f7f7"/><rect x="1831.73" y="1330.64" width="11.47" height="11.47" fill="#f7f7f7"/><rect x="1599.39" y="1346.13" width="11.47" height="11.47" fill="#f7f7f7"/><rect x="1614.88" y="1346.13" width="11.47" height="11.47" fill="#f7f7f7"/><rect x="1630.37" y="1346.13" width="11.47" height="11.47" fill="#6a6a6a"/><rect x="1645.86" y="1346.13" width="11.47" height="11.47" fill="#a0a0a0"/><rect x="1661.35" y="1346.13" width="11.47" height="11.47" fill="#181818"/><rect x="1676.84" y="1346.13" width="11.47" height="11.47" fill="#888888"/><rect x="1692.33" y="1346.13" width="11.47" height="11.47" fill="#9a9a9a"/><rect x="1707.82" y="1346.13" width="11.47" height="11.47" fill="#a0a0a0"/><rect x="1723.31" y="1346.13" width="11.47" height="11.47" fill="#f7f7f7"/><rect x="1738.80" y="1346.13" width="11.47" height="11.47" fill="#bcbcbc"/><rect x="1754.29" y="1346.13" width="11.47" height="11.47" fill="#8e8e8e"/><rect x="1769.78" y="1346.13" width="11.47" height="11.47" fill="#d4d4d4"/><rect x="1785.27" y="1346.13" width="11.47" height="11.47" fill="#8e8e8e"/><rect x="1800.76" y="1346.13" width="11.47" height="11.47" fill="#d4d4d4"/><rect x="1816.24" y="1346.13" width="11.47" height="11.47" fill="#f7f7f7"/><rect x="1831.73" y="1346.13" width="11.47" height="11.47" fill="#f7f7f7"/><rect x="1599.39" y="1361.62" width="11.47" height="11.47" fill="#f7f7f7"/><rect x="1614.88" y="1361.62" width="11.47" height="11.47" fill="#f7f7f7"/><rect x="1630.37" y="1361.62" width="11.47" height="11.47" fill="#c0c0c0"/><rect x="1645.86" y="1361.62" width="11.47" height="11.47" fill="#b4b4b4"/><rect x="1661.35" y="1361.62" width="11.47" height="11.47" fill="#4a4a4a"/><rect x="1676.84" y="1361.62" width="11.47" height="11.47" fill="#101010"/><rect x="1692.33" y="1361.62" width="11.47" height="11.47" fill="#b0b0b0"/><rect x="1707.82" y="1361.62" width="11.47" height="11.47" fill="#bcbcbc"/><rect x="1723.31" y="1361.62" width="11.47" height="11.47" fill="#f7f7f7"/><rect x="1738.80" y="1361.62" width="11.47" height="11.47" fill="#b0b0b0"/><rect x="1754.29" y="1361.62" width="11.47" height="11.47" fill="#9a9a9a"/><rect x="1769.78" y="1361.62" width="11.47" height="11.47" fill="#cacaca"/><rect x="1785.27" y="1361.62" width="11.47" height="11.47" fill="#aaaaaa"/><rect x="1800.76" y="1361.62" width="11.47" height="11.47" fill="#aaaaaa"/><rect x="1816.24" y="1361.62" width="11.47" height="11.47" fill="#f7f7f7"/><rect x="1831.73" y="1361.62" width="11.47" height="11.47" fill="#f7f7f7"/><rect x="1599.39" y="1377.11" width="11.47" height="11.47" fill="#f7f7f7"/><rect x="1614.88" y="1377.11" width="11.47" height="11.47" fill="#f7f7f7"/><rect x="1630.37" y="1377.11" width="11.47" height="11.47" fill="#5a5a5a"/><rect x="1645.86" y="1377.11" width="11.47" height="11.47" fill="#101010"/><rect x="1661.35" y="1377.11" width="11.47" height="11.47" fill="#8e8e8e"/><rect x="1676.84" y="1377.11" width="11.47" height="11.47" fill="#4e4e4e"/><rect x="1692.33" y="1377.11" width="11.47" height="11.47" fill="#8e8e8e"/><rect x="1723.31" y="1377.11" width="11.47" height="11.47" fill="#f7f7f7"/><rect x="1738.80" y="1377.11" width="11.47" height="11.47" fill="#aaaaaa"/><rect x="1754.29" y="1377.11" width="11.47" height="11.47" fill="#888888"/><rect x="1769.78" y="1377.11" width="11.47" height="11.47" fill="#d4d4d4"/><rect x="1785.27" y="1377.11" width="11.47" height="11.47" fill="#aaaaaa"/><rect x="1800.76" y="1377.11" width="11.47" height="11.47" fill="#b0b0b0"/><rect x="1816.24" y="1377.11" width="11.47" height="11.47" fill="#f7f7f7"/><rect x="1831.73" y="1377.11" width="11.47" height="11.47" fill="#f7f7f7"/><rect x="1599.39" y="1392.60" width="11.47" height="11.47" fill="#f7f7f7"/><rect x="1614.88" y="1392.60" width="11.47" height="11.47" fill="#f7f7f7"/><rect x="1630.37" y="1392.60" width="11.47" height="11.47" fill="#0a0a0a"/><rect x="1645.86" y="1392.60" width="11.47" height="11.47" fill="#000000"/><rect x="1661.35" y="1392.60" width="11.47" height="11.47" fill="#808080"/><rect x="1676.84" y="1392.60" width="11.47" height="11.47" fill="#707070"/><rect x="1692.33" y="1392.60" width="11.47" height="11.47" fill="#6a6a6a"/><rect x="1707.82" y="1392.60" width="11.47" height="11.47" fill="#888888"/><rect x="1723.31" y="1392.60" width="11.47" height="11.47" fill="#2e2e2e"/><rect x="1738.80" y="1392.60" width="11.47" height="11.47" fill="#4a4a4a"/><rect x="1754.29" y="1392.60" width="11.47" height="11.47" fill="#a4a4a4"/><rect x="1769.78" y="1392.60" width="11.47" height="11.47" fill="#d0d0d0"/><rect x="1785.27" y="1392.60" width="11.47" height="11.47" fill="#a4a4a4"/><rect x="1800.76" y="1392.60" width="11.47" height="11.47" fill="#aaaaaa"/><rect x="1816.24" y="1392.60" width="11.47" height="11.47" fill="#f7f7f7"/><rect x="1831.73" y="1392.60" width="11.47" height="11.47" fill="#f7f7f7"/><rect x="1599.39" y="1408.09" width="11.47" height="11.47" fill="#f7f7f7"/><rect x="1614.88" y="1408.09" width="11.47" height="11.47" fill="#f7f7f7"/><rect x="1630.37" y="1408.09" width="11.47" height="11.47" fill="#808080"/><rect x="1645.86" y="1408.09" width="11.47" height="11.47" fill="#202020"/><rect x="1661.35" y="1408.09" width="11.47" height="11.47" fill="#b0b0b0"/><rect x="1676.84" y="1408.09" width="11.47" height="11.47" fill="#e8e8e8"/><rect x="1692.33" y="1408.09" width="11.47" height="11.47" fill="#909090"/><rect x="1707.82" y="1408.09" width="11.47" height="11.47" fill="#a4a4a4"/><rect x="1723.31" y="1408.09" width="11.47" height="11.47" fill="#e0e0e0"/><rect x="1738.80" y="1408.09" width="11.47" height="11.47" fill="#f0f0f0"/><rect x="1754.29" y="1408.09" width="11.47" height="11.47" fill="#eaeaea"/><rect x="1769.78" y="1408.09" width="11.47" height="11.47" fill="#e4e4e4"/><rect x="1785.27" y="1408.09" width="11.47" height="11.47" fill="#9e9e9e"/><rect x="1800.76" y="1408.09" width="11.47" height="11.47" fill="#bcbcbc"/><rect x="1816.24" y="1408.09" width="11.47" height="11.47" fill="#f7f7f7"/><rect x="1831.73" y="1408.09" width="11.47" height="11.47" fill="#f7f7f7"/><rect x="1599.39" y="1423.58" width="11.47" height="11.47" fill="#f7f7f7"/><rect x="1614.88" y="1423.58" width="11.47" height="11.47" fill="#f0f0f0"/><rect x="1630.37" y="1423.58" width="11.47" height="11.47" fill="#1e1e1e"/><rect x="1645.86" y="1423.58" width="11.47" height="11.47" fill="#c4c4c4"/><rect x="1661.35" y="1423.58" width="11.47" height="11.47" fill="#909090"/><rect x="1676.84" y="1423.58" width="11.47" height="11.47" fill="#fcfcfc"/><rect x="1692.33" y="1423.58" width="11.47" height="11.47" fill="#fcfcfc"/><rect x="1707.82" y="1423.58" width="11.47" height="11.47" fill="#f7f7f7"/><rect x="1723.31" y="1423.58" width="11.47" height="11.47" fill="#f7f7f7"/><rect x="1738.80" y="1423.58" width="11.47" height="11.47" fill="#f7f7f7"/><rect x="1754.29" y="1423.58" width="11.47" height="11.47" fill="#f7f7f7"/><rect x="1769.78" y="1423.58" width="11.47" height="11.47" fill="#f7f7f7"/><rect x="1785.27" y="1423.58" width="11.47" height="11.47" fill="#f7f7f7"/><rect x="1800.76" y="1423.58" width="11.47" height="11.47" fill="#cacaca"/><rect x="1816.24" y="1423.58" width="11.47" height="11.47" fill="#eeeeee"/><rect x="1831.73" y="1423.58" width="11.47" height="11.47" fill="#f7f7f7"/><rect x="1599.39" y="1439.07" width="11.47" height="11.47" fill="#f7f7f7"/><rect x="1614.88" y="1439.07" width="11.47" height="11.47" fill="#7e7e7e"/><rect x="1630.37" y="1439.07" width="11.47" height="11.47" fill="#f4f4f4"/><rect x="1645.86" y="1439.07" width="11.47" height="11.47" fill="#fcfcfc"/><rect x="1661.35" y="1439.07" width="11.47" height="11.47" fill="#b4b4b4"/><rect x="1676.84" y="1439.07" width="11.47" height="11.47" fill="#a8a8a8"/><rect x="1692.33" y="1439.07" width="11.47" height="11.47" fill="#e0e0e0"/><rect x="1707.82" y="1439.07" width="11.47" height="11.47" fill="#eaeaea"/><rect x="1723.31" y="1439.07" width="11.47" height="11.47" fill="#f7f7f7"/><rect x="1738.80" y="1439.07" width="11.47" height="11.47" fill="#f7f7f7"/><rect x="1754.29" y="1439.07" width="11.47" height="11.47" fill="#f7f7f7"/><rect x="1769.78" y="1439.07" width="11.47" height="11.47" fill="#d4d4d4"/><rect x="1785.27" y="1439.07" width="11.47" height="11.47" fill="#f0f0f0"/><rect x="1800.76" y="1439.07" width="11.47" height="11.47" fill="#eaeaea"/><rect x="1816.24" y="1439.07" width="11.47" height="11.47" fill="#cecece"/><rect x="1831.73" y="1439.07" width="11.47" height="11.47" fill="#f7f7f7"/><rect x="1599.39" y="1454.56" width="11.47" height="11.47" fill="#f4f4f4"/><rect x="1614.88" y="1454.56" width="11.47" height="11.47" fill="#eeeeee"/><rect x="1630.37" y="1454.56" width="11.47" height="11.47" fill="#f4f4f4"/><rect x="1645.86" y="1454.56" width="11.47" height="11.47" fill="#f4f4f4"/><rect x="1661.35" y="1454.56" width="11.47" height="11.47" fill="#f4f4f4"/><rect x="1676.84" y="1454.56" width="11.47" height="11.47" fill="#f4f4f4"/><rect x="1692.33" y="1454.56" width="11.47" height="11.47" fill="#f4f4f4"/><rect x="1707.82" y="1454.56" width="11.47" height="11.47" fill="#f4f4f4"/><rect x="1723.31" y="1454.56" width="11.47" height="11.47" fill="#f4f4f4"/><rect x="1738.80" y="1454.56" width="11.47" height="11.47" fill="#f4f4f4"/><rect x="1754.29" y="1454.56" width="11.47" height="11.47" fill="#f4f4f4"/><rect x="1769.78" y="1454.56" width="11.47" height="11.47" fill="#f4f4f4"/><rect x="1785.27" y="1454.56" width="11.47" height="11.47" fill="#f4f4f4"/><rect x="1800.76" y="1454.56" width="11.47" height="11.47" fill="#f4f4f4"/><rect x="1816.24" y="1454.56" width="11.47" height="11.47" fill="#f4f4f4"/><rect x="1831.73" y="1454.56" width="11.47" height="11.47" fill="#f4f4f4"/><rect x="1599.39" y="1470.04" width="11.47" height="11.47" fill="#f7f7f7"/><rect x="1614.88" y="1470.04" width="11.47" height="11.47" fill="#f7f7f7"/><rect x="1630.37" y="1470.04" width="11.47" height="11.47" fill="#f7f7f7"/><rect x="1645.86" y="1470.04" width="11.47" height="11.47" fill="#f7f7f7"/><rect x="1661.35" y="1470.04" width="11.47" height="11.47" fill="#f7f7f7"/><rect x="1676.84" y="1470.04" width="11.47" height="11.47" fill="#f7f7f7"/><rect x="1692.33" y="1470.04" width="11.47" height="11.47" fill="#f7f7f7"/><rect x="1707.82" y="1470.04" width="11.47" height="11.47" fill="#f7f7f7"/><rect x="1723.31" y="1470.04" width="11.47" height="11.47" fill="#f7f7f7"/><rect x="1738.80" y="1470.04" width="11.47" height="11.47" fill="#f7f7f7"/><rect x="1754.29" y="1470.04" width="11.47" height="11.47" fill="#f7f7f7"/><rect x="1769.78" y="1470.04" width="11.47" height="11.47" fill="#f7f7f7"/><rect x="1785.27" y="1470.04" width="11.47" height="11.47" fill="#f7f7f7"/><rect x="1800.76" y="1470.04" width="11.47" height="11.47" fill="#f7f7f7"/><rect x="1816.24" y="1470.04" width="11.47" height="11.47" fill="#f7f7f7"/><rect x="1831.73" y="1470.04" width="11.47" height="11.47" fill="#f7f7f7"/><rect x="1599.39" y="1485.53" width="11.47" height="11.47" fill="#f7f7f7"/><rect x="1614.88" y="1485.53" width="11.47" height="11.47" fill="#f7f7f7"/><rect x="1630.37" y="1485.53" width="11.47" height="11.47" fill="#f7f7f7"/><rect x="1645.86" y="1485.53" width="11.47" height="11.47" fill="#f7f7f7"/><rect x="1661.35" y="1485.53" width="11.47" height="11.47" fill="#f7f7f7"/><rect x="1676.84" y="1485.53" width="11.47" height="11.47" fill="#f7f7f7"/><rect x="1692.33" y="1485.53" width="11.47" height="11.47" fill="#f7f7f7"/><rect x="1707.82" y="1485.53" width="11.47" height="11.47" fill="#f7f7f7"/><rect x="1723.31" y="1485.53" width="11.47" height="11.47" fill="#f7f7f7"/><rect x="1738.80" y="1485.53" width="11.47" height="11.47" fill="#f7f7f7"/><rect x="1754.29" y="1485.53" width="11.47" height="11.47" fill="#f7f7f7"/><rect x="1769.78" y="1485.53" width="11.47" height="11.47" fill="#f7f7f7"/><rect x="1785.27" y="1485.53" width="11.47" height="11.47" fill="#f7f7f7"/><rect x="1800.76" y="1485.53" width="11.47" height="11.47" fill="#f7f7f7"/><rect x="1816.24" y="1485.53" width="11.47" height="11.47" fill="#f7f7f7"/><rect x="1831.73" y="1485.53" width="11.47" height="11.47" fill="#f7f7f7"/>
<rect x="1596.6" y="1250.4" width="249.4" height="249.4" rx="0" fill="none" stroke="#000" stroke-width="2" />
<path d="M1437.08,892.21 A51.5,51.5 0 0 0 1386.32,942.22 L1398.52,942.57 A39.3,39.3 0 0 1 1437.25,904.40 Z" fill="#ec8fa0" stroke="#ec8fa0" stroke-width="5.0" stroke-linejoin="round"/>
<path d="M1489.28,942.22 A51.5,51.5 0 0 0 1438.52,892.21 L1438.35,904.40 A39.3,39.3 0 0 1 1477.08,942.57 Z" fill="#7f9be6" stroke="#7f9be6" stroke-width="5.0" stroke-linejoin="round"/>
<rect x="1386.3" y="941.2" width="12.2" height="4.0" rx="0" fill="#ec8fa0" stroke="#ec8fa0" stroke-width="5.0" stroke-linejoin="round"/>
<rect x="1477.1" y="941.2" width="12.2" height="4.0" rx="0" fill="#7f9be6" stroke="#7f9be6" stroke-width="5.0" stroke-linejoin="round"/>
<rect x="1386.3" y="939.7" width="12.2" height="2.5" rx="0" fill="#ec8fa0" stroke="none" stroke-width="0" />
<rect x="1477.1" y="939.7" width="12.2" height="2.5" rx="0" fill="#7f9be6" stroke="none" stroke-width="0" />
<polygon points="1447.2,911.2 1455.5,891.6 1450.8,890.2" fill="#fff" stroke="none" stroke-width="0" />
<polygon points="1450.7,914.6 1446.2,945.6 1438.0,943.2" fill="#7f9be6" stroke="none" stroke-width="0" />
<circle cx="1442.1" cy="944.4" r="6.9" fill="#7f9be6" stroke="none" stroke-width="0" />
<path d="M1505.68,1061.31 A51.5,51.5 0 0 0 1454.92,1111.32 L1467.12,1111.67 A39.3,39.3 0 0 1 1505.85,1073.50 Z" fill="#ec8fa0" stroke="#ec8fa0" stroke-width="5.0" stroke-linejoin="round"/>
<path d="M1557.88,1111.32 A51.5,51.5 0 0 0 1507.12,1061.31 L1506.95,1073.50 A39.3,39.3 0 0 1 1545.68,1111.67 Z" fill="#7f9be6" stroke="#7f9be6" stroke-width="5.0" stroke-linejoin="round"/>
<rect x="1454.9" y="1110.3" width="12.2" height="4.0" rx="0" fill="#ec8fa0" stroke="#ec8fa0" stroke-width="5.0" stroke-linejoin="round"/>
<rect x="1545.7" y="1110.3" width="12.2" height="4.0" rx="0" fill="#7f9be6" stroke="#7f9be6" stroke-width="5.0" stroke-linejoin="round"/>
<rect x="1454.9" y="1108.8" width="12.2" height="2.5" rx="0" fill="#ec8fa0" stroke="none" stroke-width="0" />
<rect x="1545.7" y="1108.8" width="12.2" height="2.5" rx="0" fill="#7f9be6" stroke="none" stroke-width="0" />
<polygon points="1493.0,1081.8 1486.8,1061.4 1482.3,1063.4" fill="#fff" stroke="none" stroke-width="0" />
<polygon points="1492.8,1086.7 1509.0,1113.5 1501.2,1116.9" fill="#ec8fa0" stroke="none" stroke-width="0" />
<circle cx="1505.1" cy="1115.2" r="6.9" fill="#ec8fa0" stroke="none" stroke-width="0" />
<path d="M1437.08,1284.51 A51.5,51.5 0 0 0 1386.32,1334.52 L1398.52,1334.87 A39.3,39.3 0 0 1 1437.25,1296.70 Z" fill="#ec8fa0" stroke="#ec8fa0" stroke-width="5.0" stroke-linejoin="round"/>
<path d="M1489.28,1334.52 A51.5,51.5 0 0 0 1438.52,1284.51 L1438.35,1296.70 A39.3,39.3 0 0 1 1477.08,1334.87 Z" fill="#7f9be6" stroke="#7f9be6" stroke-width="5.0" stroke-linejoin="round"/>
<rect x="1386.3" y="1333.5" width="12.2" height="4.0" rx="0" fill="#ec8fa0" stroke="#ec8fa0" stroke-width="5.0" stroke-linejoin="round"/>
<rect x="1477.1" y="1333.5" width="12.2" height="4.0" rx="0" fill="#7f9be6" stroke="#7f9be6" stroke-width="5.0" stroke-linejoin="round"/>
<rect x="1386.3" y="1332.0" width="12.2" height="2.5" rx="0" fill="#ec8fa0" stroke="none" stroke-width="0" />
<rect x="1477.1" y="1332.0" width="12.2" height="2.5" rx="0" fill="#7f9be6" stroke="none" stroke-width="0" />
<polygon points="1420.6,1306.9 1412.0,1287.4 1407.7,1290.0" fill="#fff" stroke="none" stroke-width="0" />
<polygon points="1421.8,1310.4 1441.3,1334.9 1433.9,1339.3" fill="#ec8fa0" stroke="none" stroke-width="0" />
<circle cx="1437.6" cy="1337.1" r="6.9" fill="#ec8fa0" stroke="none" stroke-width="0" />
<path d="M1506.48,1438.51 A51.5,51.5 0 0 0 1455.72,1488.52 L1467.92,1488.87 A39.3,39.3 0 0 1 1506.65,1450.70 Z" fill="#ec8fa0" stroke="#ec8fa0" stroke-width="5.0" stroke-linejoin="round"/>
<path d="M1558.68,1488.52 A51.5,51.5 0 0 0 1507.92,1438.51 L1507.75,1450.70 A39.3,39.3 0 0 1 1546.48,1488.87 Z" fill="#7f9be6" stroke="#7f9be6" stroke-width="5.0" stroke-linejoin="round"/>
<rect x="1455.7" y="1487.5" width="12.2" height="4.0" rx="0" fill="#ec8fa0" stroke="#ec8fa0" stroke-width="5.0" stroke-linejoin="round"/>
<rect x="1546.5" y="1487.5" width="12.2" height="4.0" rx="0" fill="#7f9be6" stroke="#7f9be6" stroke-width="5.0" stroke-linejoin="round"/>
<rect x="1455.7" y="1486.0" width="12.2" height="2.5" rx="0" fill="#ec8fa0" stroke="none" stroke-width="0" />
<rect x="1546.5" y="1486.0" width="12.2" height="2.5" rx="0" fill="#7f9be6" stroke="none" stroke-width="0" />
<polygon points="1510.4,1456.4 1514.8,1435.5 1509.9,1435.1" fill="#fff" stroke="none" stroke-width="0" />
<polygon points="1510.9,1460.6 1512.3,1491.9 1503.7,1491.1" fill="#7f9be6" stroke="none" stroke-width="0" />
<circle cx="1508.0" cy="1491.5" r="6.9" fill="#7f9be6" stroke="none" stroke-width="0" />
<g transform="translate(1439.4,877.0) scale(0.94,1)"><text x="0" y="0" font-family='"Liberation Sans", sans-serif' font-size="37" text-anchor="middle" fill="#000" font-weight="normal" font-style="normal">0.18</text></g>
<g transform="translate(1517.0,1036.0) scale(0.94,1)"><text x="0" y="0" font-family='"Liberation Sans", sans-serif' font-size="37" text-anchor="middle" fill="#000" font-weight="normal" font-style="normal">-0.26</text></g>
<g transform="translate(1433.5,1262.0) scale(0.94,1)"><text x="0" y="0" font-family='"Liberation Sans", sans-serif' font-size="37" text-anchor="middle" fill="#000" font-weight="normal" font-style="normal">-0.34</text></g>
<g transform="translate(1515.3,1421.0) scale(0.94,1)"><text x="0" y="0" font-family='"Liberation Sans", sans-serif' font-size="37" text-anchor="middle" fill="#000" font-weight="normal" font-style="normal">0.06</text></g>
<text x="1115.0" y="1578.0" font-family='"Liberation Serif", serif' font-size="70" text-anchor="start" font-weight="bold" font-style="normal" fill="#000" >f</text>
<line x1="1257.7" y1="1610.4" x2="1271.7" y2="1610.4" stroke="#000" stroke-width="2.8" />
<g transform="translate(1245.0,1625.4) scale(1.04,1)"><text x="0" y="0" font-family='"Liberation Sans", sans-serif' font-size="41.5" text-anchor="end" fill="#000" font-weight="normal" font-style="normal">0.6</text></g>
<line x1="1257.7" y1="1740.7" x2="1271.7" y2="1740.7" stroke="#000" stroke-width="2.8" />
<g transform="translate(1245.0,1755.7) scale(1.04,1)"><text x="0" y="0" font-family='"Liberation Sans", sans-serif' font-size="41.5" text-anchor="end" fill="#000" font-weight="normal" font-style="normal">0.0</text></g>
<line x1="1257.7" y1="1871.0" x2="1271.7" y2="1871.0" stroke="#000" stroke-width="2.8" />
<g transform="translate(1245.0,1886.0) scale(1.04,1)"><text x="0" y="0" font-family='"Liberation Sans", sans-serif' font-size="41.5" text-anchor="end" fill="#000" font-weight="normal" font-style="normal">−0.6</text></g>
<line x1="1282.9" y1="1871.0" x2="1282.9" y2="1886.0" stroke="#000" stroke-width="2.8" />
<g transform="translate(1282.9,1928.0) scale(0.97,1)"><text x="0" y="0" font-family='"Liberation Sans", sans-serif' font-size="41.5" text-anchor="middle" fill="#000" font-weight="normal" font-style="normal">0</text></g>
<line x1="1556.5" y1="1871.0" x2="1556.5" y2="1886.0" stroke="#000" stroke-width="2.8" />
<g transform="translate(1556.5,1928.0) scale(0.97,1)"><text x="0" y="0" font-family='"Liberation Sans", sans-serif' font-size="41.5" text-anchor="middle" fill="#000" font-weight="normal" font-style="normal">25</text></g>
<line x1="1830.0" y1="1871.0" x2="1830.0" y2="1886.0" stroke="#000" stroke-width="2.8" />
<g transform="translate(1830.0,1928.0) scale(0.97,1)"><text x="0" y="0" font-family='"Liberation Sans", sans-serif' font-size="41.5" text-anchor="middle" fill="#000" font-weight="normal" font-style="normal">50</text></g>
<line x1="1271.7" y1="1740.7" x2="1842.3" y2="1740.7" stroke="#000" stroke-width="3" stroke-dasharray="11,6"/>
<polygon points="1294.0,1757.8 1304.8,1768.6 1294.0,1779.4 1283.2,1768.6" fill="none" stroke="#4169e1" stroke-width="3.2" />
<polygon points="1305.2,1769.8 1316.0,1780.6 1305.2,1791.4 1294.4,1780.6" fill="none" stroke="#4169e1" stroke-width="3.2" />
<polygon points="1314.5,1740.0 1325.3,1750.8 1314.5,1761.6 1303.7,1750.8" fill="none" stroke="#4169e1" stroke-width="3.2" />
<polygon points="1321.9,1751.1 1332.7,1761.9 1321.9,1772.7 1311.1,1761.9" fill="none" stroke="#4169e1" stroke-width="3.2" />
<polygon points="1325.7,1756.7 1336.5,1767.5 1325.7,1778.3 1314.9,1767.5" fill="none" stroke="#4169e1" stroke-width="3.2" />
<polygon points="1329.4,1754.9 1340.2,1765.7 1329.4,1776.5 1318.6,1765.7" fill="none" stroke="#4169e1" stroke-width="3.2" />
<polygon points="1359.2,1769.8 1370.0,1780.6 1359.2,1791.4 1348.4,1780.6" fill="none" stroke="#4169e1" stroke-width="3.2" />
<polygon points="1370.3,1753.0 1381.1,1763.8 1370.3,1774.6 1359.5,1763.8" fill="none" stroke="#4169e1" stroke-width="3.2" />
<polygon points="1392.7,1773.5 1403.5,1784.3 1392.7,1795.1 1381.9,1784.3" fill="none" stroke="#4169e1" stroke-width="3.2" />
<polygon points="1415.0,1750.4 1425.8,1761.2 1415.0,1772.0 1404.2,1761.2" fill="none" stroke="#4169e1" stroke-width="3.2" />
<polygon points="1426.2,1744.4 1437.0,1755.2 1426.2,1766.0 1415.4,1755.2" fill="none" stroke="#4169e1" stroke-width="3.2" />
<polygon points="1437.3,1760.4 1448.1,1771.2 1437.3,1782.0 1426.5,1771.2" fill="none" stroke="#4169e1" stroke-width="3.2" />
<polygon points="1502.5,1761.6 1513.3,1772.4 1502.5,1783.2 1491.7,1772.4" fill="none" stroke="#4169e1" stroke-width="3.2" />
<polygon points="1511.8,1779.1 1522.6,1789.9 1511.8,1800.7 1501.0,1789.9" fill="none" stroke="#4169e1" stroke-width="3.2" />
<polygon points="1534.8,1780.9 1545.6,1791.7 1534.8,1802.5 1524.0,1791.7" fill="none" stroke="#4169e1" stroke-width="3.2" />
<polygon points="1545.3,1769.0 1556.1,1779.8 1545.3,1790.6 1534.5,1779.8" fill="none" stroke="#4169e1" stroke-width="3.2" />
<polygon points="1567.6,1773.5 1578.4,1784.3 1567.6,1795.1 1556.8,1784.3" fill="none" stroke="#4169e1" stroke-width="3.2" />
<polygon points="1601.1,1775.3 1611.9,1786.1 1601.1,1796.9 1590.3,1786.1" fill="none" stroke="#4169e1" stroke-width="3.2" />
<polygon points="1622.7,1762.3 1633.5,1773.1 1622.7,1783.9 1611.9,1773.1" fill="none" stroke="#4169e1" stroke-width="3.2" />
<polygon points="1666.2,1770.5 1677.0,1781.3 1666.2,1792.1 1655.4,1781.3" fill="none" stroke="#4169e1" stroke-width="3.2" />
<polygon points="1709.8,1774.2 1720.6,1785.0 1709.8,1795.8 1699.0,1785.0" fill="none" stroke="#4169e1" stroke-width="3.2" />
<polygon points="1742.5,1787.6 1753.3,1798.4 1742.5,1809.2 1731.7,1798.4" fill="none" stroke="#4169e1" stroke-width="3.2" />
<polygon points="1786.1,1749.3 1796.9,1760.1 1786.1,1770.9 1775.3,1760.1" fill="none" stroke="#4169e1" stroke-width="3.2" />
<polygon points="1808.8,1753.0 1819.6,1763.8 1808.8,1774.6 1798.0,1763.8" fill="none" stroke="#4169e1" stroke-width="3.2" />
<polygon points="1282.9,1689.4 1273.6,1707.9 1292.1,1707.9" fill="none" stroke="#dc143c" stroke-width="3.2" stroke-linejoin="miter"/>
<polygon points="1336.8,1693.1 1327.6,1711.6 1346.1,1711.6" fill="none" stroke="#dc143c" stroke-width="3.2" stroke-linejoin="miter"/>
<polygon points="1348.7,1703.6 1339.5,1722.1 1358.0,1722.1" fill="none" stroke="#dc143c" stroke-width="3.2" stroke-linejoin="miter"/>
<polygon points="1381.5,1696.1 1372.2,1714.6 1390.7,1714.6" fill="none" stroke="#dc143c" stroke-width="3.2" stroke-linejoin="miter"/>
<polygon points="1403.1,1709.9 1393.8,1728.4 1412.3,1728.4" fill="none" stroke="#dc143c" stroke-width="3.2" stroke-linejoin="miter"/>
<polygon points="1446.6,1680.1 1437.4,1698.6 1455.9,1698.6" fill="none" stroke="#dc143c" stroke-width="3.2" stroke-linejoin="miter"/>
<polygon points="1457.8,1695.0 1448.6,1713.5 1467.1,1713.5" fill="none" stroke="#dc143c" stroke-width="3.2" stroke-linejoin="miter"/>
<polygon points="1469.0,1706.2 1459.7,1724.7 1478.2,1724.7" fill="none" stroke="#dc143c" stroke-width="3.2" stroke-linejoin="miter"/>
<polygon points="1480.1,1711.7 1470.9,1730.2 1489.4,1730.2" fill="none" stroke="#dc143c" stroke-width="3.2" stroke-linejoin="miter"/>
<polygon points="1491.3,1695.0 1482.1,1713.5 1500.6,1713.5" fill="none" stroke="#dc143c" stroke-width="3.2" stroke-linejoin="miter"/>
<polygon points="1523.7,1706.2 1514.4,1724.7 1532.9,1724.7" fill="none" stroke="#dc143c" stroke-width="3.2" stroke-linejoin="miter"/>
<polygon points="1556.4,1693.1 1547.2,1711.6 1565.7,1711.6" fill="none" stroke="#dc143c" stroke-width="3.2" stroke-linejoin="miter"/>
<polygon points="1578.8,1704.3 1569.5,1722.8 1588.0,1722.8" fill="none" stroke="#dc143c" stroke-width="3.2" stroke-linejoin="miter"/>
<polygon points="1589.9,1713.6 1580.7,1732.1 1599.2,1732.1" fill="none" stroke="#dc143c" stroke-width="3.2" stroke-linejoin="miter"/>
<polygon points="1611.5,1695.0 1602.3,1713.5 1620.8,1713.5" fill="none" stroke="#dc143c" stroke-width="3.2" stroke-linejoin="miter"/>
<polygon points="1632.7,1687.6 1623.5,1706.1 1642.0,1706.1" fill="none" stroke="#dc143c" stroke-width="3.2" stroke-linejoin="miter"/>
<polygon points="1643.9,1691.3 1634.7,1709.8 1653.2,1709.8" fill="none" stroke="#dc143c" stroke-width="3.2" stroke-linejoin="miter"/>
<polygon points="1655.1,1704.3 1645.8,1722.8 1664.3,1722.8" fill="none" stroke="#dc143c" stroke-width="3.2" stroke-linejoin="miter"/>
<polygon points="1677.4,1678.2 1668.2,1696.7 1686.7,1696.7" fill="none" stroke="#dc143c" stroke-width="3.2" stroke-linejoin="miter"/>
<polygon points="1688.6,1696.9 1679.3,1715.4 1697.8,1715.4" fill="none" stroke="#dc143c" stroke-width="3.2" stroke-linejoin="miter"/>
<polygon points="1698.6,1700.6 1689.4,1719.1 1707.9,1719.1" fill="none" stroke="#dc143c" stroke-width="3.2" stroke-linejoin="miter"/>
<polygon points="1720.2,1692.4 1711.0,1710.9 1729.5,1710.9" fill="none" stroke="#dc143c" stroke-width="3.2" stroke-linejoin="miter"/>
<polygon points="1732.1,1693.1 1722.9,1711.6 1741.4,1711.6" fill="none" stroke="#dc143c" stroke-width="3.2" stroke-linejoin="miter"/>
<polygon points="1753.0,1672.7 1743.7,1691.2 1762.2,1691.2" fill="none" stroke="#dc143c" stroke-width="3.2" stroke-linejoin="miter"/>
<polygon points="1764.1,1695.0 1754.9,1713.5 1773.4,1713.5" fill="none" stroke="#dc143c" stroke-width="3.2" stroke-linejoin="miter"/>
<polygon points="1776.0,1695.0 1766.8,1713.5 1785.3,1713.5" fill="none" stroke="#dc143c" stroke-width="3.2" stroke-linejoin="miter"/>
<polygon points="1798.4,1692.4 1789.1,1710.9 1807.6,1710.9" fill="none" stroke="#dc143c" stroke-width="3.2" stroke-linejoin="miter"/>
<polygon points="1820.7,1704.3 1811.5,1722.8 1830.0,1722.8" fill="none" stroke="#dc143c" stroke-width="3.2" stroke-linejoin="miter"/>
<rect x="1271.7" y="1610.4" width="570.6" height="260.6" rx="0" fill="none" stroke="#000" stroke-width="2.8" />
<g transform="translate(1175.1,1769.4) rotate(-90) scale(0.84)">
<polyline points="11.1,-35.4 2.3,-13.4 11.1,8.2" fill="none" stroke="#000" stroke-width="3.5" stroke-linejoin="round"/>
<text x="17" y="0" font-family='"Liberation Serif", serif' font-size="44" font-style="italic">σ</text>
<polyline points="23.6,-25.4 32.7,-32.5 41.8,-25.4" fill="none" stroke="#000" stroke-width="2.6"/>
<text x="41" y="11" font-family='"Liberation Serif", serif' font-size="36" font-style="italic">z</text>
<polyline points="66.1,-35.4 74.7,-13.4 66.1,8.2" fill="none" stroke="#000" stroke-width="3.5" stroke-linejoin="round"/>
</g>
<text x="1557.0" y="1980.0" font-family='"Liberation Serif", serif' font-size="38" text-anchor="middle" font-weight="normal" font-style="normal" fill="#000" >Sample index</text>
<polygon points="1523.0,1566.1 1533.5,1576.6 1523.0,1587.1 1512.5,1576.6" fill="none" stroke="#4169e1" stroke-width="2.8" />
<text x="1560.0" y="1589.0" font-family='"Liberation Serif", serif' font-size="37" text-anchor="start" font-weight="normal" font-style="normal" fill="#000" >Hand</text>
<polygon points="1685.0,1567.0 1676.0,1585.0 1694.0,1585.0" fill="none" stroke="#dc143c" stroke-width="2.8" stroke-linejoin="miter"/>
<text x="1724.0" y="1589.0" font-family='"Liberation Serif", serif' font-size="37" text-anchor="start" font-weight="normal" font-style="normal" fill="#000" >Breast</text>
<text x="1906.0" y="830.0" font-family='"Liberation Serif", serif' font-size="70" text-anchor="start" font-weight="bold" font-style="normal" fill="#000" >g</text>
<circle cx="2244.8" cy="1139.0" r="53.3" fill="none" stroke="#bfbfbf" stroke-width="3" />
<circle cx="2244.8" cy="1139.0" r="106.6" fill="none" stroke="#bfbfbf" stroke-width="3" />
<circle cx="2244.8" cy="1139.0" r="159.9" fill="none" stroke="#bfbfbf" stroke-width="3" />
<circle cx="2244.8" cy="1139.0" r="213.2" fill="none" stroke="#bfbfbf" stroke-width="3" />
<circle cx="2244.8" cy="1139.0" r="266.5" fill="none" stroke="#bfbfbf" stroke-width="3" />
<line x1="2244.8" y1="1139.0" x2="2524.6" y2="1139.0" stroke="#bfbfbf" stroke-width="3" />
<line x1="2244.8" y1="1139.0" x2="2424.7" y2="924.6" stroke="#bfbfbf" stroke-width="3" />
<line x1="2244.8" y1="1139.0" x2="2196.2" y2="863.4" stroke="#bfbfbf" stroke-width="3" />
<line x1="2244.8" y1="1139.0" x2="2002.5" y2="999.1" stroke="#bfbfbf" stroke-width="3" />
<line x1="2244.8" y1="1139.0" x2="1981.9" y2="1234.7" stroke="#bfbfbf" stroke-width="3" />
<line x1="2244.8" y1="1139.0" x2="2149.1" y2="1401.9" stroke="#bfbfbf" stroke-width="3" />
<line x1="2244.8" y1="1139.0" x2="2384.7" y2="1381.3" stroke="#bfbfbf" stroke-width="3" />
<polyline points="2372.5,1139.0 2413.1,1109.3 2414.5,1077.2 2392.8,1053.5 2392.6,1015.0 2375.3,983.4 2357.3,944.1 2307.2,967.6 2278.4,948.6 2244.8,925.4 2209.5,938.6 2168.4,929.1 2133.6,946.4 2106.6,974.3 2048.1,973.9 2031.9,1016.1 2034.1,1062.3 2013.6,1098.2 1998.1,1139.0 1982.3,1185.3 2013.8,1223.1 2049.9,1251.5 2081.5,1276.0 2087.4,1326.6 2132.7,1333.2 2153.7,1389.4 2198.5,1401.5 2244.8,1405.5 2291.1,1401.5 2335.9,1389.4 2378.1,1369.8" fill="none" stroke="#1f77b4" stroke-width="3.8" />
<circle cx="2372.5" cy="1139.0" r="9.5" fill="none" stroke="#1f77b4" stroke-width="3.6" />
<circle cx="2413.1" cy="1109.3" r="9.5" fill="none" stroke="#1f77b4" stroke-width="3.6" />
<circle cx="2414.5" cy="1077.2" r="9.5" fill="none" stroke="#1f77b4" stroke-width="3.6" />
<circle cx="2392.8" cy="1053.5" r="9.5" fill="none" stroke="#1f77b4" stroke-width="3.6" />
<circle cx="2392.6" cy="1015.0" r="9.5" fill="none" stroke="#1f77b4" stroke-width="3.6" />
<circle cx="2375.3" cy="983.4" r="9.5" fill="none" stroke="#1f77b4" stroke-width="3.6" />
<circle cx="2357.3" cy="944.1" r="9.5" fill="none" stroke="#1f77b4" stroke-width="3.6" />
<circle cx="2307.2" cy="967.6" r="9.5" fill="none" stroke="#1f77b4" stroke-width="3.6" />
<circle cx="2278.4" cy="948.6" r="9.5" fill="none" stroke="#1f77b4" stroke-width="3.6" />
<circle cx="2244.8" cy="925.4" r="9.5" fill="none" stroke="#1f77b4" stroke-width="3.6" />
<circle cx="2209.5" cy="938.6" r="9.5" fill="none" stroke="#1f77b4" stroke-width="3.6" />
<circle cx="2168.4" cy="929.1" r="9.5" fill="none" stroke="#1f77b4" stroke-width="3.6" />
<circle cx="2133.6" cy="946.4" r="9.5" fill="none" stroke="#1f77b4" stroke-width="3.6" />
<circle cx="2106.6" cy="974.3" r="9.5" fill="none" stroke="#1f77b4" stroke-width="3.6" />
<circle cx="2048.1" cy="973.9" r="9.5" fill="none" stroke="#1f77b4" stroke-width="3.6" />
<circle cx="2031.9" cy="1016.1" r="9.5" fill="none" stroke="#1f77b4" stroke-width="3.6" />
<circle cx="2034.1" cy="1062.3" r="9.5" fill="none" stroke="#1f77b4" stroke-width="3.6" />
<circle cx="2013.6" cy="1098.2" r="9.5" fill="none" stroke="#1f77b4" stroke-width="3.6" />
<circle cx="1998.1" cy="1139.0" r="9.5" fill="none" stroke="#1f77b4" stroke-width="3.6" />
<circle cx="1982.3" cy="1185.3" r="9.5" fill="none" stroke="#1f77b4" stroke-width="3.6" />
<circle cx="2013.8" cy="1223.1" r="9.5" fill="none" stroke="#1f77b4" stroke-width="3.6" />
<circle cx="2049.9" cy="1251.5" r="9.5" fill="none" stroke="#1f77b4" stroke-width="3.6" />
<circle cx="2081.5" cy="1276.0" r="9.5" fill="none" stroke="#1f77b4" stroke-width="3.6" />
<circle cx="2087.4" cy="1326.6" r="9.5" fill="none" stroke="#1f77b4" stroke-width="3.6" />
<circle cx="2132.7" cy="1333.2" r="9.5" fill="none" stroke="#1f77b4" stroke-width="3.6" />
<circle cx="2153.7" cy="1389.4" r="9.5" fill="none" stroke="#1f77b4" stroke-width="3.6" />
<circle cx="2198.5" cy="1401.5" r="9.5" fill="none" stroke="#1f77b4" stroke-width="3.6" />
<circle cx="2244.8" cy="1405.5" r="9.5" fill="none" stroke="#1f77b4" stroke-width="3.6" />
<circle cx="2291.1" cy="1401.5" r="9.5" fill="none" stroke="#1f77b4" stroke-width="3.6" />
<circle cx="2335.9" cy="1389.4" r="9.5" fill="none" stroke="#1f77b4" stroke-width="3.6" />
<circle cx="2378.1" cy="1369.8" r="9.5" fill="none" stroke="#1f77b4" stroke-width="3.6" />
<polyline points="2372.5,1139.0 2404.4,1110.9 2425.7,1073.2 2418.8,1038.6 2392.4,1015.1 2396.0,958.8 2373.2,916.6 2310.4,958.7 2285.6,907.8 2244.8,914.3 2203.7,905.8 2168.0,927.9 2142.2,961.2 2086.7,950.5 2056.8,981.3 2032.8,1016.6 2004.0,1051.4 1993.8,1094.7 1978.3,1139.0 1982.3,1185.3 1994.4,1230.1 2031.2,1262.3 2047.1,1304.9 2073.5,1343.2 2116.2,1361.8 2153.7,1389.4 2198.5,1401.5 2244.8,1405.5 2291.1,1401.5 2335.9,1389.4 2372.7,1360.5" fill="none" stroke="#ff7f0e" stroke-width="3.8" />
<polygon points="2372.5,1128.0 2361.5,1148.3 2383.5,1148.3" fill="none" stroke="#ff7f0e" stroke-width="3.6" />
<polygon points="2404.4,1099.9 2393.4,1120.2 2415.4,1120.2" fill="none" stroke="#ff7f0e" stroke-width="3.6" />
<polygon points="2425.7,1062.2 2414.7,1082.5 2436.7,1082.5" fill="none" stroke="#ff7f0e" stroke-width="3.6" />
<polygon points="2418.8,1027.6 2407.8,1047.9 2429.8,1047.9" fill="none" stroke="#ff7f0e" stroke-width="3.6" />
<polygon points="2392.4,1004.1 2381.4,1024.5 2403.4,1024.5" fill="none" stroke="#ff7f0e" stroke-width="3.6" />
<polygon points="2396.0,947.8 2385.0,968.2 2407.0,968.2" fill="none" stroke="#ff7f0e" stroke-width="3.6" />
<polygon points="2373.2,905.6 2362.2,925.9 2384.2,925.9" fill="none" stroke="#ff7f0e" stroke-width="3.6" />
<polygon points="2310.4,947.7 2299.4,968.0 2321.4,968.0" fill="none" stroke="#ff7f0e" stroke-width="3.6" />
<polygon points="2285.6,896.8 2274.6,917.1 2296.6,917.1" fill="none" stroke="#ff7f0e" stroke-width="3.6" />
<polygon points="2244.8,903.3 2233.8,923.7 2255.8,923.7" fill="none" stroke="#ff7f0e" stroke-width="3.6" />
<polygon points="2203.7,894.8 2192.7,915.1 2214.7,915.1" fill="none" stroke="#ff7f0e" stroke-width="3.6" />
<polygon points="2168.0,916.9 2157.0,937.2 2179.0,937.2" fill="none" stroke="#ff7f0e" stroke-width="3.6" />
<polygon points="2142.2,950.2 2131.2,970.6 2153.2,970.6" fill="none" stroke="#ff7f0e" stroke-width="3.6" />
<polygon points="2086.7,939.5 2075.7,959.9 2097.7,959.9" fill="none" stroke="#ff7f0e" stroke-width="3.6" />
<polygon points="2056.8,970.3 2045.8,990.6 2067.8,990.6" fill="none" stroke="#ff7f0e" stroke-width="3.6" />
<polygon points="2032.8,1005.6 2021.8,1026.0 2043.8,1026.0" fill="none" stroke="#ff7f0e" stroke-width="3.6" />
<polygon points="2004.0,1040.4 1993.0,1060.7 2015.0,1060.7" fill="none" stroke="#ff7f0e" stroke-width="3.6" />
<polygon points="1993.8,1083.7 1982.8,1104.1 2004.8,1104.1" fill="none" stroke="#ff7f0e" stroke-width="3.6" />
<polygon points="1978.3,1128.0 1967.3,1148.3 1989.3,1148.3" fill="none" stroke="#ff7f0e" stroke-width="3.6" />
<polygon points="1982.3,1174.3 1971.3,1194.6 1993.3,1194.6" fill="none" stroke="#ff7f0e" stroke-width="3.6" />
<polygon points="1994.4,1219.1 1983.4,1239.5 2005.4,1239.5" fill="none" stroke="#ff7f0e" stroke-width="3.6" />
<polygon points="2031.2,1251.3 2020.2,1271.7 2042.2,1271.7" fill="none" stroke="#ff7f0e" stroke-width="3.6" />
<polygon points="2047.1,1293.9 2036.1,1314.2 2058.1,1314.2" fill="none" stroke="#ff7f0e" stroke-width="3.6" />
<polygon points="2073.5,1332.2 2062.5,1352.5 2084.5,1352.5" fill="none" stroke="#ff7f0e" stroke-width="3.6" />
<polygon points="2116.2,1350.8 2105.2,1371.1 2127.2,1371.1" fill="none" stroke="#ff7f0e" stroke-width="3.6" />
<polygon points="2153.7,1378.4 2142.7,1398.8 2164.7,1398.8" fill="none" stroke="#ff7f0e" stroke-width="3.6" />
<polygon points="2198.5,1390.5 2187.5,1410.8 2209.5,1410.8" fill="none" stroke="#ff7f0e" stroke-width="3.6" />
<polygon points="2244.8,1394.5 2233.8,1414.8 2255.8,1414.8" fill="none" stroke="#ff7f0e" stroke-width="3.6" />
<polygon points="2291.1,1390.5 2280.1,1410.8 2302.1,1410.8" fill="none" stroke="#ff7f0e" stroke-width="3.6" />
<polygon points="2335.9,1378.4 2324.9,1398.8 2346.9,1398.8" fill="none" stroke="#ff7f0e" stroke-width="3.6" />
<polygon points="2372.7,1349.5 2361.7,1369.8 2383.7,1369.8" fill="none" stroke="#ff7f0e" stroke-width="3.6" />
<line x1="2244.8" y1="1139.0" x2="2513.3" y2="1139.0" stroke="#000" stroke-width="3" />
<line x1="2244.8" y1="1137.5" x2="2244.8" y2="1152.0" stroke="#000" stroke-width="3" />
<g transform="translate(2248.3,1186.0) scale(0.84,1)"><text x="0" y="0" font-family='"Liberation Sans", sans-serif' font-size="32" text-anchor="middle" fill="#000" font-weight="normal" font-style="normal">0.0</text></g>
<line x1="2298.1" y1="1137.5" x2="2298.1" y2="1152.0" stroke="#000" stroke-width="3" />
<g transform="translate(2301.6,1186.0) scale(0.84,1)"><text x="0" y="0" font-family='"Liberation Sans", sans-serif' font-size="32" text-anchor="middle" fill="#000" font-weight="normal" font-style="normal">0.2</text></g>
<line x1="2351.4" y1="1137.5" x2="2351.4" y2="1152.0" stroke="#000" stroke-width="3" />
<g transform="translate(2354.9,1186.0) scale(0.84,1)"><text x="0" y="0" font-family='"Liberation Sans", sans-serif' font-size="32" text-anchor="middle" fill="#000" font-weight="normal" font-style="normal">0.4</text></g>
<line x1="2404.7" y1="1137.5" x2="2404.7" y2="1152.0" stroke="#000" stroke-width="3" />
<g transform="translate(2408.2,1186.0) scale(0.84,1)"><text x="0" y="0" font-family='"Liberation Sans", sans-serif' font-size="32" text-anchor="middle" fill="#000" font-weight="normal" font-style="normal">0.6</text></g>
<line x1="2458.0" y1="1137.5" x2="2458.0" y2="1152.0" stroke="#000" stroke-width="3" />
<g transform="translate(2461.5,1186.0) scale(0.84,1)"><text x="0" y="0" font-family='"Liberation Sans", sans-serif' font-size="32" text-anchor="middle" fill="#000" font-weight="normal" font-style="normal">0.8</text></g>
<line x1="2511.3" y1="1137.5" x2="2511.3" y2="1152.0" stroke="#000" stroke-width="3" />
<g transform="translate(2514.8,1186.0) scale(0.84,1)"><text x="0" y="0" font-family='"Liberation Sans", sans-serif' font-size="32" text-anchor="middle" fill="#000" font-weight="normal" font-style="normal">1.0</text></g>
<g transform="translate(2538.6,1152.5) scale(0.97,1)"><text x="0" y="0" font-family='"Liberation Sans", sans-serif' font-size="41.5" text-anchor="middle" fill="#000" font-weight="normal" font-style="normal">0</text></g>
<g transform="translate(2441.7,914.7) scale(0.97,1)"><text x="0" y="0" font-family='"Liberation Sans", sans-serif' font-size="41.5" text-anchor="middle" fill="#000" font-weight="normal" font-style="normal">5</text></g>
<g transform="translate(2188.4,846.4) scale(0.97,1)"><text x="0" y="0" font-family='"Liberation Sans", sans-serif' font-size="41.5" text-anchor="middle" fill="#000" font-weight="normal" font-style="normal">10</text></g>
<g transform="translate(1976.0,992.6) scale(0.97,1)"><text x="0" y="0" font-family='"Liberation Sans", sans-serif' font-size="41.5" text-anchor="middle" fill="#000" font-weight="normal" font-style="normal">15</text></g>
<g transform="translate(1948.3,1251.7) scale(0.97,1)"><text x="0" y="0" font-family='"Liberation Sans", sans-serif' font-size="41.5" text-anchor="middle" fill="#000" font-weight="normal" font-style="normal">20</text></g>
<g transform="translate(2128.9,1443.3) scale(0.97,1)"><text x="0" y="0" font-family='"Liberation Sans", sans-serif' font-size="41.5" text-anchor="middle" fill="#000" font-weight="normal" font-style="normal">25</text></g>
<g transform="translate(2425.4,1414.7) scale(0.97,1)"><text x="0" y="0" font-family='"Liberation Sans", sans-serif' font-size="41.5" text-anchor="middle" fill="#000" font-weight="normal" font-style="normal">30</text></g>
<line x1="2270.0" y1="1205.0" x2="2490.0" y2="1205.0" stroke="#000" stroke-width="3.5" />
<polygon points="2507.0,1205.0 2478.0,1192.0 2485.0,1205.0 2478.0,1218.0" fill="#000" stroke="none" stroke-width="0" />
<text x="2371.0" y="1249.0" font-family='"Liberation Serif", serif' font-size="48" text-anchor="middle" font-weight="normal" font-style="normal" fill="#000" >Accuracy</text>
<path d="M2531,1086 Q2512,1000 2478,958" fill="none" stroke="#000" stroke-width="3.5" />
<polygon points="2470.0,947.0 2473.5,975.0 2479.0,960.0 2492.0,952.0" fill="#000" stroke="none" stroke-width="0" />
<text transform="translate(2549,1010) rotate(74)" font-family='"Liberation Serif", serif' font-size="47" text-anchor="middle" dominant-baseline="middle">Epochs</text>
<line x1="1957.0" y1="1478.0" x2="2041.0" y2="1478.0" stroke="#1f77b4" stroke-width="3.2" />
<circle cx="1999.0" cy="1478.0" r="9.5" fill="none" stroke="#1f77b4" stroke-width="3" />
<text x="2044.0" y="1492.0" font-family='"Liberation Serif", serif' font-size="41" text-anchor="start" font-weight="normal" font-style="normal" fill="#000" >Legitimate</text>
<line x1="2236.0" y1="1478.0" x2="2318.0" y2="1478.0" stroke="#ff7f0e" stroke-width="3.2" />
<polygon points="2277.0,1467.0 2266.0,1487.3 2288.0,1487.3" fill="none" stroke="#ff7f0e" stroke-width="3" />
<text x="2322.0" y="1492.0" font-family='"Liberation Serif", serif' font-size="41" text-anchor="start" font-weight="normal" font-style="normal" fill="#000" >Adversarial</text>
<text x="1905.0" y="1577.0" font-family='"Liberation Serif", serif' font-size="70" text-anchor="start" font-weight="bold" font-style="normal" fill="#000" >h</text>
<rect x="1921.0" y="1606.0" width="311.5" height="311.5" rx="0" fill="#fff" stroke="none" stroke-width="0" />
<rect x="1924.49" y="1609.49" width="14.33" height="14.33" fill="#f0f0f0"/><rect x="1943.84" y="1609.49" width="14.33" height="14.33" fill="#f0f0f0"/><rect x="1963.18" y="1609.49" width="14.33" height="14.33" fill="#f0f0f0"/><rect x="1982.53" y="1609.49" width="14.33" height="14.33" fill="#f0f0f0"/><rect x="2001.87" y="1609.49" width="14.33" height="14.33" fill="#f0f0f0"/><rect x="2021.22" y="1609.49" width="14.33" height="14.33" fill="#f0f0f0"/><rect x="2040.57" y="1609.49" width="14.33" height="14.33" fill="#f0f0f0"/><rect x="2059.91" y="1609.49" width="14.33" height="14.33" fill="#f0f0f0"/><rect x="2079.26" y="1609.49" width="14.33" height="14.33" fill="#f0f0f0"/><rect x="2098.60" y="1609.49" width="14.33" height="14.33" fill="#f0f0f0"/><rect x="2117.95" y="1609.49" width="14.33" height="14.33" fill="#f0f0f0"/><rect x="2137.30" y="1609.49" width="14.33" height="14.33" fill="#f0f0f0"/><rect x="2156.64" y="1609.49" width="14.33" height="14.33" fill="#f0f0f0"/><rect x="2175.99" y="1609.49" width="14.33" height="14.33" fill="#f0f0f0"/><rect x="2195.34" y="1609.49" width="14.33" height="14.33" fill="#f0f0f0"/><rect x="2214.68" y="1609.49" width="14.33" height="14.33" fill="#f0f0f0"/><rect x="1924.49" y="1628.84" width="14.33" height="14.33" fill="#f6f6f6"/><rect x="1943.84" y="1628.84" width="14.33" height="14.33" fill="#f6f6f6"/><rect x="1963.18" y="1628.84" width="14.33" height="14.33" fill="#f6f6f6"/><rect x="1982.53" y="1628.84" width="14.33" height="14.33" fill="#f6f6f6"/><rect x="2001.87" y="1628.84" width="14.33" height="14.33" fill="#f6f6f6"/><rect x="2021.22" y="1628.84" width="14.33" height="14.33" fill="#f6f6f6"/><rect x="2040.57" y="1628.84" width="14.33" height="14.33" fill="#b8b8b8"/><rect x="2059.91" y="1628.84" width="14.33" height="14.33" fill="#f6f6f6"/><rect x="2079.26" y="1628.84" width="14.33" height="14.33" fill="#f6f6f6"/><rect x="2098.60" y="1628.84" width="14.33" height="14.33" fill="#f6f6f6"/><rect x="2117.95" y="1628.84" width="14.33" height="14.33" fill="#f6f6f6"/><rect x="2137.30" y="1628.84" width="14.33" height="14.33" fill="#f6f6f6"/><rect x="2156.64" y="1628.84" width="14.33" height="14.33" fill="#f6f6f6"/><rect x="2175.99" y="1628.84" width="14.33" height="14.33" fill="#f6f6f6"/><rect x="2195.34" y="1628.84" width="14.33" height="14.33" fill="#f6f6f6"/><rect x="2214.68" y="1628.84" width="14.33" height="14.33" fill="#f6f6f6"/><rect x="1924.49" y="1648.18" width="14.33" height="14.33" fill="#f6f6f6"/><rect x="1943.84" y="1648.18" width="14.33" height="14.33" fill="#f6f6f6"/><rect x="1963.18" y="1648.18" width="14.33" height="14.33" fill="#f6f6f6"/><rect x="1982.53" y="1648.18" width="14.33" height="14.33" fill="#bebebe"/><rect x="2001.87" y="1648.18" width="14.33" height="14.33" fill="#f6f6f6"/><rect x="2021.22" y="1648.18" width="14.33" height="14.33" fill="#f6f6f6"/><rect x="2040.57" y="1648.18" width="14.33" height="14.33" fill="#dadada"/><rect x="2059.91" y="1648.18" width="14.33" height="14.33" fill="#b8b8b8"/><rect x="2079.26" y="1648.18" width="14.33" height="14.33" fill="#f6f6f6"/><rect x="2098.60" y="1648.18" width="14.33" height="14.33" fill="#f6f6f6"/><rect x="2117.95" y="1648.18" width="14.33" height="14.33" fill="#9a9a9a"/><rect x="2137.30" y="1648.18" width="14.33" height="14.33" fill="#f6f6f6"/><rect x="2156.64" y="1648.18" width="14.33" height="14.33" fill="#f6f6f6"/><rect x="2175.99" y="1648.18" width="14.33" height="14.33" fill="#f6f6f6"/><rect x="2195.34" y="1648.18" width="14.33" height="14.33" fill="#f6f6f6"/><rect x="2214.68" y="1648.18" width="14.33" height="14.33" fill="#f6f6f6"/><rect x="1924.49" y="1667.53" width="14.33" height="14.33" fill="#f6f6f6"/><rect x="1943.84" y="1667.53" width="14.33" height="14.33" fill="#f6f6f6"/><rect x="1963.18" y="1667.53" width="14.33" height="14.33" fill="#f6f6f6"/><rect x="1982.53" y="1667.53" width="14.33" height="14.33" fill="#e8e8e8"/><rect x="2001.87" y="1667.53" width="14.33" height="14.33" fill="#b0b0b0"/><rect x="2021.22" y="1667.53" width="14.33" height="14.33" fill="#f6f6f6"/><rect x="2040.57" y="1667.53" width="14.33" height="14.33" fill="#dcdcdc"/><rect x="2059.91" y="1667.53" width="14.33" height="14.33" fill="#ececec"/><rect x="2079.26" y="1667.53" width="14.33" height="14.33" fill="#f6f6f6"/><rect x="2098.60" y="1667.53" width="14.33" height="14.33" fill="#f0f0f0"/><rect x="2117.95" y="1667.53" width="14.33" height="14.33" fill="#e8e8e8"/><rect x="2137.30" y="1667.53" width="14.33" height="14.33" fill="#f6f6f6"/><rect x="2156.64" y="1667.53" width="14.33" height="14.33" fill="#f6f6f6"/><rect x="2175.99" y="1667.53" width="14.33" height="14.33" fill="#f6f6f6"/><rect x="2195.34" y="1667.53" width="14.33" height="14.33" fill="#f6f6f6"/><rect x="2214.68" y="1667.53" width="14.33" height="14.33" fill="#f6f6f6"/><rect x="1924.49" y="1686.87" width="14.33" height="14.33" fill="#f6f6f6"/><rect x="1943.84" y="1686.87" width="14.33" height="14.33" fill="#f6f6f6"/><rect x="1963.18" y="1686.87" width="14.33" height="14.33" fill="#f6f6f6"/><rect x="1982.53" y="1686.87" width="14.33" height="14.33" fill="#f6f6f6"/><rect x="2001.87" y="1686.87" width="14.33" height="14.33" fill="#d4d4d4"/><rect x="2021.22" y="1686.87" width="14.33" height="14.33" fill="#f6f6f6"/><rect x="2040.57" y="1686.87" width="14.33" height="14.33" fill="#b8b8b8"/><rect x="2059.91" y="1686.87" width="14.33" height="14.33" fill="#808080"/><rect x="2079.26" y="1686.87" width="14.33" height="14.33" fill="#f6f6f6"/><rect x="2098.60" y="1686.87" width="14.33" height="14.33" fill="#b8b8b8"/><rect x="2117.95" y="1686.87" width="14.33" height="14.33" fill="#f6f6f6"/><rect x="2137.30" y="1686.87" width="14.33" height="14.33" fill="#f6f6f6"/><rect x="2156.64" y="1686.87" width="14.33" height="14.33" fill="#f6f6f6"/><rect x="2175.99" y="1686.87" width="14.33" height="14.33" fill="#f6f6f6"/><rect x="2195.34" y="1686.87" width="14.33" height="14.33" fill="#f6f6f6"/><rect x="2214.68" y="1686.87" width="14.33" height="14.33" fill="#f6f6f6"/><rect x="1924.49" y="1706.22" width="14.33" height="14.33" fill="#f6f6f6"/><rect x="1943.84" y="1706.22" width="14.33" height="14.33" fill="#f0f0f0"/><rect x="1963.18" y="1706.22" width="14.33" height="14.33" fill="#f6f6f6"/><rect x="1982.53" y="1706.22" width="14.33" height="14.33" fill="#f6f6f6"/><rect x="2001.87" y="1706.22" width="14.33" height="14.33" fill="#c4c4c4"/><rect x="2021.22" y="1706.22" width="14.33" height="14.33" fill="#f0f0f0"/><rect x="2040.57" y="1706.22" width="14.33" height="14.33" fill="#eeeeee"/><rect x="2059.91" y="1706.22" width="14.33" height="14.33" fill="#e0e0e0"/><rect x="2079.26" y="1706.22" width="14.33" height="14.33" fill="#f2f2f2"/><rect x="2098.60" y="1706.22" width="14.33" height="14.33" fill="#888888"/><rect x="2117.95" y="1706.22" width="14.33" height="14.33" fill="#f6f6f6"/><rect x="2137.30" y="1706.22" width="14.33" height="14.33" fill="#f6f6f6"/><rect x="2156.64" y="1706.22" width="14.33" height="14.33" fill="#f6f6f6"/><rect x="2175.99" y="1706.22" width="14.33" height="14.33" fill="#f6f6f6"/><rect x="2195.34" y="1706.22" width="14.33" height="14.33" fill="#f6f6f6"/><rect x="2214.68" y="1706.22" width="14.33" height="14.33" fill="#f6f6f6"/><rect x="1924.49" y="1725.57" width="14.33" height="14.33" fill="#f6f6f6"/><rect x="1943.84" y="1725.57" width="14.33" height="14.33" fill="#e0e0e0"/><rect x="1963.18" y="1725.57" width="14.33" height="14.33" fill="#e8e8e8"/><rect x="1982.53" y="1725.57" width="14.33" height="14.33" fill="#f6f6f6"/><rect x="2001.87" y="1725.57" width="14.33" height="14.33" fill="#dadada"/><rect x="2021.22" y="1725.57" width="14.33" height="14.33" fill="#9a9a9a"/><rect x="2040.57" y="1725.57" width="14.33" height="14.33" fill="#d0d0d0"/><rect x="2059.91" y="1725.57" width="14.33" height="14.33" fill="#aaaaaa"/><rect x="2079.26" y="1725.57" width="14.33" height="14.33" fill="#cccccc"/><rect x="2098.60" y="1725.57" width="14.33" height="14.33" fill="#c8c8c8"/><rect x="2117.95" y="1725.57" width="14.33" height="14.33" fill="#f6f6f6"/><rect x="2137.30" y="1725.57" width="14.33" height="14.33" fill="#f6f6f6"/><rect x="2156.64" y="1725.57" width="14.33" height="14.33" fill="#f6f6f6"/><rect x="2175.99" y="1725.57" width="14.33" height="14.33" fill="#f6f6f6"/><rect x="2195.34" y="1725.57" width="14.33" height="14.33" fill="#f6f6f6"/><rect x="2214.68" y="1725.57" width="14.33" height="14.33" fill="#f6f6f6"/><rect x="1924.49" y="1744.91" width="14.33" height="14.33" fill="#f6f6f6"/><rect x="1943.84" y="1744.91" width="14.33" height="14.33" fill="#f6f6f6"/><rect x="1963.18" y="1744.91" width="14.33" height="14.33" fill="#9a9a9a"/><rect x="1982.53" y="1744.91" width="14.33" height="14.33" fill="#e0e0e0"/><rect x="2001.87" y="1744.91" width="14.33" height="14.33" fill="#eeeeee"/><rect x="2021.22" y="1744.91" width="14.33" height="14.33" fill="#c0c0c0"/><rect x="2040.57" y="1744.91" width="14.33" height="14.33" fill="#555555"/><rect x="2059.91" y="1744.91" width="14.33" height="14.33" fill="#929292"/><rect x="2079.26" y="1744.91" width="14.33" height="14.33" fill="#9a9a9a"/><rect x="2098.60" y="1744.91" width="14.33" height="14.33" fill="#8e8e8e"/><rect x="2117.95" y="1744.91" width="14.33" height="14.33" fill="#f6f6f6"/><rect x="2137.30" y="1744.91" width="14.33" height="14.33" fill="#f6f6f6"/><rect x="2156.64" y="1744.91" width="14.33" height="14.33" fill="#f0f0f0"/><rect x="2175.99" y="1744.91" width="14.33" height="14.33" fill="#a4a4a4"/><rect x="2195.34" y="1744.91" width="14.33" height="14.33" fill="#f6f6f6"/><rect x="2214.68" y="1744.91" width="14.33" height="14.33" fill="#f6f6f6"/><rect x="1924.49" y="1764.26" width="14.33" height="14.33" fill="#f6f6f6"/><rect x="1943.84" y="1764.26" width="14.33" height="14.33" fill="#f6f6f6"/><rect x="1963.18" y="1764.26" width="14.33" height="14.33" fill="#f6f6f6"/><rect x="1982.53" y="1764.26" width="14.33" height="14.33" fill="#d8d8d8"/><rect x="2001.87" y="1764.26" width="14.33" height="14.33" fill="#6a6a6a"/><rect x="2021.22" y="1764.26" width="14.33" height="14.33" fill="#7a7a7a"/><rect x="2040.57" y="1764.26" width="14.33" height="14.33" fill="#646464"/><rect x="2059.91" y="1764.26" width="14.33" height="14.33" fill="#929292"/><rect x="2079.26" y="1764.26" width="14.33" height="14.33" fill="#848484"/><rect x="2098.60" y="1764.26" width="14.33" height="14.33" fill="#6e6e6e"/><rect x="2117.95" y="1764.26" width="14.33" height="14.33" fill="#cccccc"/><rect x="2137.30" y="1764.26" width="14.33" height="14.33" fill="#aeaeae"/><rect x="2156.64" y="1764.26" width="14.33" height="14.33" fill="#a4a4a4"/><rect x="2175.99" y="1764.26" width="14.33" height="14.33" fill="#c8c8c8"/><rect x="2195.34" y="1764.26" width="14.33" height="14.33" fill="#f6f6f6"/><rect x="2214.68" y="1764.26" width="14.33" height="14.33" fill="#f6f6f6"/><rect x="1924.49" y="1783.60" width="14.33" height="14.33" fill="#f6f6f6"/><rect x="1943.84" y="1783.60" width="14.33" height="14.33" fill="#f6f6f6"/><rect x="1963.18" y="1783.60" width="14.33" height="14.33" fill="#f6f6f6"/><rect x="1982.53" y="1783.60" width="14.33" height="14.33" fill="#e8e8e8"/><rect x="2001.87" y="1783.60" width="14.33" height="14.33" fill="#484848"/><rect x="2021.22" y="1783.60" width="14.33" height="14.33" fill="#888888"/><rect x="2040.57" y="1783.60" width="14.33" height="14.33" fill="#626262"/><rect x="2059.91" y="1783.60" width="14.33" height="14.33" fill="#343434"/><rect x="2079.26" y="1783.60" width="14.33" height="14.33" fill="#161616"/><rect x="2098.60" y="1783.60" width="14.33" height="14.33" fill="#bcbcbc"/><rect x="2117.95" y="1783.60" width="14.33" height="14.33" fill="#8a8a8a"/><rect x="2137.30" y="1783.60" width="14.33" height="14.33" fill="#b0b0b0"/><rect x="2156.64" y="1783.60" width="14.33" height="14.33" fill="#f0f0f0"/><rect x="2175.99" y="1783.60" width="14.33" height="14.33" fill="#f6f6f6"/><rect x="2195.34" y="1783.60" width="14.33" height="14.33" fill="#f6f6f6"/><rect x="2214.68" y="1783.60" width="14.33" height="14.33" fill="#f6f6f6"/><rect x="1924.49" y="1802.95" width="14.33" height="14.33" fill="#e4e4e4"/><rect x="1943.84" y="1802.95" width="14.33" height="14.33" fill="#f6f6f6"/><rect x="1963.18" y="1802.95" width="14.33" height="14.33" fill="#bebebe"/><rect x="1982.53" y="1802.95" width="14.33" height="14.33" fill="#f6f6f6"/><rect x="2001.87" y="1802.95" width="14.33" height="14.33" fill="#cecece"/><rect x="2021.22" y="1802.95" width="14.33" height="14.33" fill="#545454"/><rect x="2040.57" y="1802.95" width="14.33" height="14.33" fill="#8a8a8a"/><rect x="2059.91" y="1802.95" width="14.33" height="14.33" fill="#808080"/><rect x="2079.26" y="1802.95" width="14.33" height="14.33" fill="#585858"/><rect x="2098.60" y="1802.95" width="14.33" height="14.33" fill="#9e9e9e"/><rect x="2117.95" y="1802.95" width="14.33" height="14.33" fill="#b0b0b0"/><rect x="2137.30" y="1802.95" width="14.33" height="14.33" fill="#f6f6f6"/><rect x="2156.64" y="1802.95" width="14.33" height="14.33" fill="#f6f6f6"/><rect x="2175.99" y="1802.95" width="14.33" height="14.33" fill="#f6f6f6"/><rect x="2195.34" y="1802.95" width="14.33" height="14.33" fill="#f6f6f6"/><rect x="2214.68" y="1802.95" width="14.33" height="14.33" fill="#f6f6f6"/><rect x="1924.49" y="1822.30" width="14.33" height="14.33" fill="#121212"/><rect x="1943.84" y="1822.30" width="14.33" height="14.33" fill="#eeeeee"/><rect x="1963.18" y="1822.30" width="14.33" height="14.33" fill="#bcbcbc"/><rect x="1982.53" y="1822.30" width="14.33" height="14.33" fill="#f6f6f6"/><rect x="2001.87" y="1822.30" width="14.33" height="14.33" fill="#f0f0f0"/><rect x="2021.22" y="1822.30" width="14.33" height="14.33" fill="#3a3a3a"/><rect x="2040.57" y="1822.30" width="14.33" height="14.33" fill="#080808"/><rect x="2059.91" y="1822.30" width="14.33" height="14.33" fill="#6a6a6a"/><rect x="2079.26" y="1822.30" width="14.33" height="14.33" fill="#4e4e4e"/><rect x="2098.60" y="1822.30" width="14.33" height="14.33" fill="#d4d4d4"/><rect x="2117.95" y="1822.30" width="14.33" height="14.33" fill="#f6f6f6"/><rect x="2137.30" y="1822.30" width="14.33" height="14.33" fill="#f6f6f6"/><rect x="2156.64" y="1822.30" width="14.33" height="14.33" fill="#f6f6f6"/><rect x="2175.99" y="1822.30" width="14.33" height="14.33" fill="#f6f6f6"/><rect x="2195.34" y="1822.30" width="14.33" height="14.33" fill="#f6f6f6"/><rect x="2214.68" y="1822.30" width="14.33" height="14.33" fill="#f6f6f6"/><rect x="1924.49" y="1841.64" width="14.33" height="14.33" fill="#1a1a1a"/><rect x="1943.84" y="1841.64" width="14.33" height="14.33" fill="#f6f6f6"/><rect x="1963.18" y="1841.64" width="14.33" height="14.33" fill="#c0c0c0"/><rect x="1982.53" y="1841.64" width="14.33" height="14.33" fill="#f6f6f6"/><rect x="2001.87" y="1841.64" width="14.33" height="14.33" fill="#bcbcbc"/><rect x="2021.22" y="1841.64" width="14.33" height="14.33" fill="#9a9a9a"/><rect x="2040.57" y="1841.64" width="14.33" height="14.33" fill="#4a4a4a"/><rect x="2059.91" y="1841.64" width="14.33" height="14.33" fill="#707070"/><rect x="2079.26" y="1841.64" width="14.33" height="14.33" fill="#a0a0a0"/><rect x="2098.60" y="1841.64" width="14.33" height="14.33" fill="#ececec"/><rect x="2117.95" y="1841.64" width="14.33" height="14.33" fill="#f6f6f6"/><rect x="2137.30" y="1841.64" width="14.33" height="14.33" fill="#f6f6f6"/><rect x="2156.64" y="1841.64" width="14.33" height="14.33" fill="#f6f6f6"/><rect x="2175.99" y="1841.64" width="14.33" height="14.33" fill="#f6f6f6"/><rect x="2195.34" y="1841.64" width="14.33" height="14.33" fill="#f6f6f6"/><rect x="2214.68" y="1841.64" width="14.33" height="14.33" fill="#f6f6f6"/><rect x="1924.49" y="1860.99" width="14.33" height="14.33" fill="#eeeeee"/><rect x="1943.84" y="1860.99" width="14.33" height="14.33" fill="#5a5a5a"/><rect x="1982.53" y="1860.99" width="14.33" height="14.33" fill="#f6f6f6"/><rect x="2001.87" y="1860.99" width="14.33" height="14.33" fill="#d6d6d6"/><rect x="2021.22" y="1860.99" width="14.33" height="14.33" fill="#6e6e6e"/><rect x="2040.57" y="1860.99" width="14.33" height="14.33" fill="#3e3e3e"/><rect x="2059.91" y="1860.99" width="14.33" height="14.33" fill="#6e6e6e"/><rect x="2079.26" y="1860.99" width="14.33" height="14.33" fill="#aaaaaa"/><rect x="2098.60" y="1860.99" width="14.33" height="14.33" fill="#f6f6f6"/><rect x="2117.95" y="1860.99" width="14.33" height="14.33" fill="#f6f6f6"/><rect x="2137.30" y="1860.99" width="14.33" height="14.33" fill="#f6f6f6"/><rect x="2156.64" y="1860.99" width="14.33" height="14.33" fill="#f6f6f6"/><rect x="2175.99" y="1860.99" width="14.33" height="14.33" fill="#f6f6f6"/><rect x="2195.34" y="1860.99" width="14.33" height="14.33" fill="#f6f6f6"/><rect x="2214.68" y="1860.99" width="14.33" height="14.33" fill="#f6f6f6"/><rect x="1924.49" y="1880.34" width="14.33" height="14.33" fill="#f6f6f6"/><rect x="1943.84" y="1880.34" width="14.33" height="14.33" fill="#f6f6f6"/><rect x="1963.18" y="1880.34" width="14.33" height="14.33" fill="#f6f6f6"/><rect x="1982.53" y="1880.34" width="14.33" height="14.33" fill="#f6f6f6"/><rect x="2001.87" y="1880.34" width="14.33" height="14.33" fill="#262626"/><rect x="2021.22" y="1880.34" width="14.33" height="14.33" fill="#848484"/><rect x="2040.57" y="1880.34" width="14.33" height="14.33" fill="#1a1a1a"/><rect x="2059.91" y="1880.34" width="14.33" height="14.33" fill="#040404"/><rect x="2079.26" y="1880.34" width="14.33" height="14.33" fill="#909090"/><rect x="2098.60" y="1880.34" width="14.33" height="14.33" fill="#f6f6f6"/><rect x="2117.95" y="1880.34" width="14.33" height="14.33" fill="#f6f6f6"/><rect x="2137.30" y="1880.34" width="14.33" height="14.33" fill="#f6f6f6"/><rect x="2156.64" y="1880.34" width="14.33" height="14.33" fill="#f6f6f6"/><rect x="2175.99" y="1880.34" width="14.33" height="14.33" fill="#f6f6f6"/><rect x="2195.34" y="1880.34" width="14.33" height="14.33" fill="#f6f6f6"/><rect x="2214.68" y="1880.34" width="14.33" height="14.33" fill="#f6f6f6"/><rect x="1924.49" y="1899.68" width="14.33" height="14.33" fill="#f6f6f6"/><rect x="1943.84" y="1899.68" width="14.33" height="14.33" fill="#f6f6f6"/><rect x="1963.18" y="1899.68" width="14.33" height="14.33" fill="#f6f6f6"/><rect x="1982.53" y="1899.68" width="14.33" height="14.33" fill="#eaeaea"/><rect x="2001.87" y="1899.68" width="14.33" height="14.33" fill="#060606"/><rect x="2021.22" y="1899.68" width="14.33" height="14.33" fill="#707070"/><rect x="2040.57" y="1899.68" width="14.33" height="14.33" fill="#707070"/><rect x="2059.91" y="1899.68" width="14.33" height="14.33" fill="#7e7e7e"/><rect x="2079.26" y="1899.68" width="14.33" height="14.33" fill="#c0c0c0"/><rect x="2098.60" y="1899.68" width="14.33" height="14.33" fill="#f6f6f6"/><rect x="2117.95" y="1899.68" width="14.33" height="14.33" fill="#f6f6f6"/><rect x="2137.30" y="1899.68" width="14.33" height="14.33" fill="#f6f6f6"/><rect x="2156.64" y="1899.68" width="14.33" height="14.33" fill="#f6f6f6"/><rect x="2175.99" y="1899.68" width="14.33" height="14.33" fill="#f6f6f6"/><rect x="2195.34" y="1899.68" width="14.33" height="14.33" fill="#f6f6f6"/><rect x="2214.68" y="1899.68" width="14.33" height="14.33" fill="#f6f6f6"/>
<rect x="1921.0" y="1606.0" width="311.5" height="311.5" rx="0" fill="none" stroke="#000" stroke-width="2.5" />
<path d="M2451.98,1680.31 A151.9,151.9 0 0 0 2302.24,1828.89 L2332.03,1829.54 A122.1,122.1 0 0 1 2452.40,1710.11 Z" fill="#ec8fa0" stroke="#ec8fa0" stroke-width="8" stroke-linejoin="round"/>
<path d="M2605.96,1828.89 A151.9,151.9 0 0 0 2456.22,1680.31 L2455.80,1710.11 A122.1,122.1 0 0 1 2576.17,1829.54 Z" fill="#7f9be6" stroke="#7f9be6" stroke-width="8" stroke-linejoin="round"/>
<rect x="2302.2" y="1828.2" width="29.8" height="7.4" rx="0" fill="#ec8fa0" stroke="#ec8fa0" stroke-width="8" stroke-linejoin="round"/>
<rect x="2576.2" y="1828.2" width="29.8" height="7.4" rx="0" fill="#7f9be6" stroke="#7f9be6" stroke-width="8" stroke-linejoin="round"/>
<rect x="2302.2" y="1824.8" width="29.8" height="4.4" rx="0" fill="#ec8fa0" stroke="none" stroke-width="0" />
<rect x="2576.2" y="1824.8" width="29.8" height="4.4" rx="0" fill="#7f9be6" stroke="none" stroke-width="0" />
<line x1="2408.0" y1="1725.6" x2="2401.5" y2="1710.6" stroke="#fff" stroke-width="4.9140000000000015" />
<line x1="2486.5" y1="1720.7" x2="2491.1" y2="1705.0" stroke="#fff" stroke-width="4.9140000000000015" />
<polygon points="2411.8,1740.7 2440.7,1811.4 2431.3,1814.6" fill="#c8d3f2" stroke="none" stroke-width="0" />
<polygon points="2480.3,1742.3 2449.0,1825.9 2439.0,1821.5" fill="#fff" stroke="#fff" stroke-width="3.5" />
<circle cx="2444.0" cy="1823.7" r="10.7" fill="#fff" stroke="none" stroke-width="0" />
<polygon points="2480.3,1742.3 2449.0,1825.9 2439.0,1821.5" fill="#7f9be6" stroke="none" stroke-width="0" />
<circle cx="2444.0" cy="1823.7" r="8.9" fill="#7f9be6" stroke="none" stroke-width="0" />
<path d="M2396,1664 Q2440,1630 2486,1656" fill="none" stroke="#000" stroke-width="4.2" />
<polygon points="2503.0,1666.0 2487.5,1640.0 2486.0,1656.0 2471.4,1661.8" fill="#000" stroke="none" stroke-width="0" />
<g transform="translate(2335.0,1690.0) scale(0.95,1)"><text x="0" y="0" font-family='"Liberation Sans", sans-serif' font-size="43" text-anchor="middle" fill="#8c8c8c" font-weight="normal" font-style="normal">-0.26</text></g>
<g transform="translate(2574.0,1690.0) scale(0.95,1)"><text x="0" y="0" font-family='"Liberation Sans", sans-serif' font-size="43" text-anchor="middle" fill="#000" font-weight="normal" font-style="normal">0.18</text></g>
<g transform="translate(2310.0,1880.0) scale(0.95,1)"><text x="0" y="0" font-family='"Liberation Sans", sans-serif' font-size="43" text-anchor="middle" fill="#000" font-weight="normal" font-style="normal">-1.0</text></g>
<g transform="translate(2592.0,1880.0) scale(0.95,1)"><text x="0" y="0" font-family='"Liberation Sans", sans-serif' font-size="43" text-anchor="middle" fill="#000" font-weight="normal" font-style="normal">1.0</text></g>
<g transform="translate(2408,1892)">
<polyline points="11.1,-35.4 2.3,-13.4 11.1,8.2" fill="none" stroke="#000" stroke-width="3.5" stroke-linejoin="round"/>
<text x="17" y="0" font-family='"Liberation Serif", serif' font-size="44" font-style="italic">σ</text>
<polyline points="23.6,-25.4 32.7,-32.5 41.8,-25.4" fill="none" stroke="#000" stroke-width="2.6"/>
<text x="41" y="11" font-family='"Liberation Serif", serif' font-size="36" font-style="italic">z</text>
<polyline points="66.1,-35.4 74.7,-13.4 66.1,8.2" fill="none" stroke="#000" stroke-width="3.5" stroke-linejoin="round"/>
</g>
</svg></body></html>
